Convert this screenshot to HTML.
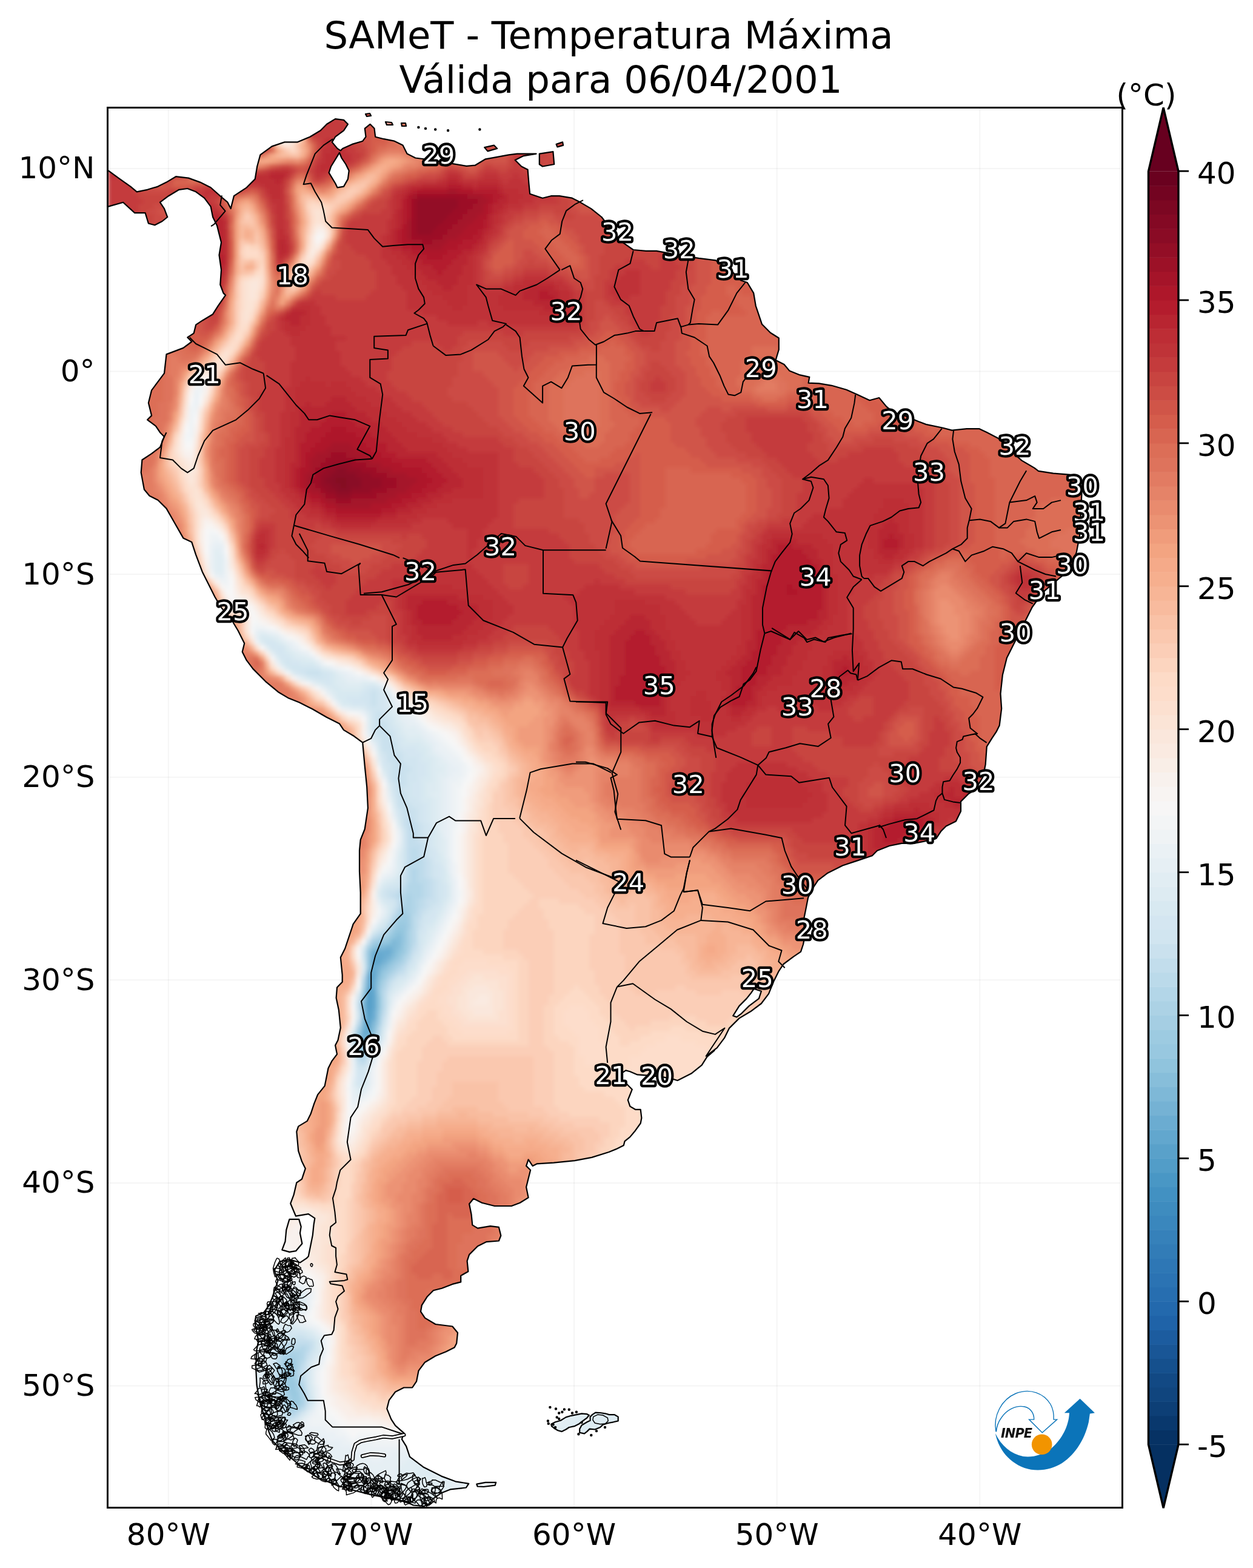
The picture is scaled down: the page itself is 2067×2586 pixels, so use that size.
<!DOCTYPE html>
<html><head><meta charset="utf-8"><title>SAMeT - Temperatura Máxima</title><style>
html,body{margin:0;padding:0;background:#fff;}
body{width:2067px;height:2586px;overflow:hidden;}
svg{display:block;}
.t{font-family:'DejaVu Sans','Liberation Sans',sans-serif;fill:#000;}
.lab text{font-family:'DejaVu Sans','Liberation Sans',sans-serif;font-size:41.67px;fill:#fff;stroke:#000;stroke-width:8.4px;stroke-linejoin:round;paint-order:stroke;text-anchor:middle;}
</style></head><body>
<svg width="2067" height="2586" viewBox="0 0 2067 2586">
<defs>
<clipPath id="fr"><rect x="177.5" y="177.5" width="1674.0" height="2309.0"/></clipPath>
<clipPath id="land"><path d="M150,281 178.7,281.4 197.9,295.4 215.3,307.6 225.7,316.3 243.1,312.8 260.5,307.6 274.5,300.6 290.1,291.2 311,293.6 330.2,300.6 347.6,309.3 363.3,323.2 375.5,333.7 380.7,344.1 385.9,323.2 406.8,309.3 420.7,295.4 424.2,274.5 429.4,255.3 448.6,241.4 469.5,234.4 490.4,234.4 511.3,225.7 528.7,215.3 539.1,204.8 553.1,196.1 567,197.9 573.9,204.8 567,215.3 553.1,225.7 547.8,234.4 556.5,244.9 561.8,248.4 565.2,244.9 580.9,237.9 598.3,232.7 603.5,225.7 601.8,211.8 610.5,204.8 617.5,211.8 619.2,225.7 633.1,229.2 650.6,232.7 664.5,239.6 671.5,253.6 685.4,260.5 713.2,264 741.1,269.2 769.6,273.8 783.6,272.7 801,262.3 814.9,259.8 839.3,255.3 853.2,253.6 884.6,253.6 863.7,257.1 849.7,264 860.2,274.5 870.6,279.7 872.4,302.3 874.1,319.7 895,326.7 908.9,323.2 922.9,323.2 943.8,326.7 954.2,331.9 975.1,344.1 992.5,358 1003,372 1013.4,385.9 1027.3,399.8 1044.7,412 1065.6,413.8 1083.1,413.8 1100.5,417.2 1117.9,420.7 1152.7,425.9 1180.6,429.4 1208.4,448.6 1222.3,462.5 1232.8,466 1243.2,483.4 1246.7,504.3 1257,534.8 1270.9,548.8 1284.8,557.5 1284.8,576.6 1279.6,594 1293.5,601 1302.2,611.4 1319.6,618.4 1335.3,621.9 1333.6,631.6 1351,632.3 1371.9,635.8 1396.3,642.8 1413.7,650.4 1434.6,660.2 1450.2,656 1462.4,670.6 1472.9,679.3 1493.8,686.3 1514.7,695 1528.6,700.2 1554.7,705.5 1570.4,709.6 1594.7,707.2 1615.6,707.2 1627.8,713.1 1647,722.9 1667.9,743.8 1685.3,759.4 1706.2,771.6 1713.1,776.8 1737.5,780.7 1765.4,782.8 1779.3,790.8 1784.5,813.4 1782.8,848.2 1781.1,883.1 1775.8,910.9 1765.4,938.8 1744.5,956.2 1720.1,977.1 1702.7,1001.5 1690.5,1025.8 1674.8,1057.2 1660.9,1085 1653.9,1112.9 1650.5,1144.2 1652.2,1168.6 1648.7,1196.5 1643.5,1206.9 1636.5,1217.4 1627.8,1231.3 1625.7,1260.9 1621.6,1281.3 1609.4,1301.6 1597.2,1309.7 1585,1321.9 1585,1338.1 1576.9,1354.4 1560.7,1362.5 1552.5,1370.6 1544.4,1382.8 1528.1,1386.9 1507.8,1390.9 1487.5,1390.9 1467.2,1395 1446.9,1403.1 1438.8,1411.3 1414.4,1419.4 1390,1427.5 1365.6,1439.7 1349.4,1451.9 1341.3,1464.1 1333.1,1480.3 1329.1,1500.6 1325,1521 1329.1,1537.2 1325,1557.5 1321,1569.7 1308.8,1577.8 1292.5,1590 1284.4,1602.2 1276.3,1618.5 1268.1,1638.8 1255.9,1655 1239.7,1667.2 1219.4,1679.4 1203.1,1695.6 1195,1711.9 1182.8,1728.1 1166.6,1740.3 1178.6,1732.3 1166.4,1742.8 1157.7,1756.7 1140.3,1770.6 1117.6,1782 1108.9,1779.3 1091.5,1775.9 1074.1,1774.1 1051.5,1772.4 1039.3,1767.2 1032.3,1765.4 1021.9,1772.4 1021.9,1781.1 1034.1,1788 1042.8,1796.7 1039.3,1805.5 1035.8,1814.2 1039.3,1824.6 1048,1829.8 1056.7,1829.8 1058.4,1843.8 1056.7,1852.5 1048,1864.7 1039.3,1875.1 1030.6,1882.1 1028.8,1889 1018.4,1894.3 1004.5,1900 976.1,1908.9 948.2,1914.2 913.4,1917.6 885.5,1919.4 878.6,1922.9 871.6,1912.4 868.1,1922.9 875.1,1929.8 871.6,1943.8 868.1,1957.7 871.6,1975.1 857.7,1983.8 843.8,1989 815.9,1989 795,1983.8 781.1,1976.8 774.1,1985.5 777.6,2003 779.3,2020.4 788,2025.6 808.9,2022.1 822.9,2023.9 826.3,2037.8 822.9,2046.5 802,2048.2 788,2055.2 774.1,2069.1 770.6,2079.6 772.4,2097 760.2,2103.9 760.2,2114.4 746.3,2117.9 728.8,2124.8 714.9,2128.3 704.5,2138.8 695.8,2152.7 694,2163.1 701,2173.6 718.4,2184 746.3,2187.5 755,2198 753.2,2215.4 749.7,2222.3 735.8,2229.3 718.4,2236.3 701,2246.7 690.5,2260.7 687.1,2278.1 680.1,2288.5 666.2,2288.5 652.2,2295.5 641.8,2309.4 638.3,2323.3 645.3,2340.7 652.2,2351.2 666.2,2363.4 662.9,2373.7 670.2,2385.3 676,2402.7 699.2,2420.1 728.2,2434.6 751.4,2443.3 773.2,2446.8 768.9,2453.5 742.7,2456.4 728.2,2462.2 713.7,2472.3 707.9,2481.1 699.2,2484 681.8,2482.5 670.2,2476.7 641.2,2470.9 612.2,2465.1 583.1,2457.8 554.1,2449.1 525.1,2437.5 501.9,2423 481.6,2405.6 461.3,2388.2 449.6,2376.6 443.8,2362.1 438,2341.8 432.2,2324.3 427.9,2309.8 423.5,2283.7 422.1,2254.7 423.5,2225.7 426.4,2211.2 420.6,2182.2 422.1,2170.5 435.1,2164.7 443.8,2153.1 449.6,2138.6 458.4,2112.5 452.5,2095.1 461.3,2080.6 477.5,2077.1 494.9,2082.3 505.4,2075.4 508.8,2071.9 512.3,2054.5 515.8,2037.1 517.6,2019.6 519.3,2009.2 508.8,2002.2 488,2005.7 479.2,1984.8 484.5,1970.9 489.3,1950.5 498,1944.7 503.8,1927.2 498,1915.6 492.2,1898.2 489.3,1866.3 492.2,1857.6 506.7,1848.9 512.5,1837.3 518.3,1819.9 524.1,1805.4 535.7,1790.9 541.5,1761.8 547.3,1750.2 556,1738.6 553.1,1724.1 557.5,1715.4 561.8,1695.1 558.9,1666.1 554.6,1645.8 556,1628.4 564.7,1619.6 564.7,1608 561.8,1579 569.1,1564.5 582.6,1524.2 594.7,1506.8 594.7,1472 593,1437.2 593,1402.3 594.7,1384.9 601.7,1367.5 606.9,1332.7 605.2,1297.9 601.7,1263.1 598.2,1224.7 584.3,1214.3 566.9,1203.9 559.9,1193.4 539,1183 514.7,1169 493.8,1158.6 476.3,1151.6 458.9,1141.2 438,1123.8 417.2,1102.9 406.7,1088.9 399.7,1075 403.2,1061.1 392.8,1040.2 382.3,1022.8 364.9,1001.9 354.5,984.5 344,963.6 333.6,942.7 323.1,914.8 316.2,893.9 302.3,887.4 288.4,863 274.5,838.6 260.5,824.7 246.6,817.7 237.9,807.3 232.7,779.4 234.4,758.5 250.1,748.1 264,737.6 271,720.2 264,713.2 257.1,702.8 243.1,692.3 250.1,685.4 244.9,664.5 250.1,643.6 260.5,629.7 271,615.7 274.5,584.4 302.3,573.9 316.3,563.5 309.3,556.5 319.7,549.6 323.2,535.6 333.7,528.7 351.1,518.2 359.8,504.3 372,486.9 368.5,483.4 363.3,469.5 365,445.1 361.5,420.7 365,399.8 361.5,385.9 358,372 351.1,358 347.6,340.6 337.2,326.7 323.2,316.3 309.3,311 295.4,312.8 278,323.2 264,333.7 271,344.1 276.2,358 267.5,365 255.3,371.3 244.9,368.5 239.6,351.1 222.2,351.1 203.1,333.7 178.7,340.6 150,341ZM603,188 610,187 612,191 605,192ZM636,201 646,202 648,206 638,206ZM662,203 669,203 670,208 663,208ZM477.5,2010.9 493.2,2010.9 496.7,2023.1 494.9,2033.6 498.4,2051 488,2063.2 477.5,2064.9 465.3,2061.4 470.5,2047.5 472.3,2028.4 475.8,2016.2ZM889.8,253.6 912.4,250.1 914.2,271 895,274.5 889.8,271ZM799.2,243.1 814.9,239.6 820.1,244.9 804.5,249.4ZM917.6,237.9 928.1,234.4 929.1,239.6 919.4,242.4ZM909.2,2348.8 916.1,2345.3 924.8,2342.7 933.5,2337.4 942.2,2334.8 950.9,2333.1 959.6,2331.3 968.4,2332.2 971.8,2334 968.4,2338.3 961.4,2343.5 954.4,2348.8 947.5,2352.2 938.8,2354 933.5,2357.5 926.6,2360.9 920.5,2359.2 914.4,2355.7 910,2352.2ZM973.6,2336.6 977.1,2333.1 982.3,2329.6 990.1,2330 998.8,2331.3 1004.9,2333.1 1013.6,2333.1 1019.7,2336.6 1019.7,2343.5 1011.9,2345.3 1003.2,2347 994.5,2349.6 990.1,2354 981.4,2357.5 972.7,2356.6 968.4,2360.9 964,2364.4 956.2,2362.7 956.2,2356.6 959.6,2350.5 968.4,2345.3 973.6,2342.7ZM786.3,2447.7 800.8,2444.8 818.2,2444.8 816.7,2449.7 797.9,2452 787.7,2451.5Z"/></clipPath>
<filter id="bl" x="-2%" y="-2%" width="104%" height="104%"><feGaussianBlur stdDeviation="3"/></filter>
</defs>
<rect width="2067" height="2586" fill="#fff"/>
<text class="t" x="1004" y="80.3" text-anchor="middle" font-size="62.5">SAMeT - Temperatura Máxima</text>
<text class="t" x="1024" y="152.8" text-anchor="middle" font-size="62.5">Válida para 06/04/2001</text>
<g clip-path="url(#fr)">
<g stroke="#000" stroke-opacity="0.04" stroke-width="2"><line x1="177.5" y1="277.9" x2="1851.5" y2="277.9"/><line x1="177.5" y1="612.5" x2="1851.5" y2="612.5"/><line x1="177.5" y1="947.1" x2="1851.5" y2="947.1"/><line x1="177.5" y1="1281.7" x2="1851.5" y2="1281.7"/><line x1="177.5" y1="1616.3" x2="1851.5" y2="1616.3"/><line x1="177.5" y1="1950.9" x2="1851.5" y2="1950.9"/><line x1="177.5" y1="2285.5" x2="1851.5" y2="2285.5"/><line x1="277.9" y1="177.5" x2="277.9" y2="2486.5"/><line x1="612.5" y1="177.5" x2="612.5" y2="2486.5"/><line x1="947.1" y1="177.5" x2="947.1" y2="2486.5"/><line x1="1281.7" y1="177.5" x2="1281.7" y2="2486.5"/><line x1="1616.3" y1="177.5" x2="1616.3" y2="2486.5"/></g>
<g clip-path="url(#land)"><g filter="url(#bl)"><g transform="translate(177.5,177.5) scale(8.3650)" shape-rendering="crispEdges"><path fill="#bf3338" d="M43 0h1v1h-1zM42 1h2v1h-2zM42 2h2v1h-2zM43 6h1v1h-1zM43 7h3v1h-3zM29 8h1v1h-1zM42 8h2v1h-2zM45 8h2v1h-2zM42 9h1v1h-1zM46 9h2v1h-2zM0 10h2v1h-2zM42 10h1v1h-1zM46 10h2v1h-2zM0 11h3v1h-3zM41 11h1v1h-1zM45 11h1v1h-1zM0 12h4v1h-4zM32 12h1v1h-1zM41 12h1v1h-1zM43 12h2v1h-2zM0 13h2v1h-2zM28 13h1v1h-1zM35 13h1v1h-1zM41 13h1v1h-1zM69 13h1v1h-1zM74 13h3v1h-3zM80 13h1v1h-1zM25 14h4v1h-4zM65 14h1v1h-1zM70 14h3v1h-3zM77 14h1v1h-1zM79 14h3v1h-3zM22 15h1v1h-1zM24 15h3v1h-3zM30 15h1v1h-1zM34 15h1v1h-1zM59 15h1v1h-1zM78 15h5v1h-5zM19 16h3v1h-3zM31 16h1v1h-1zM34 16h1v1h-1zM57 16h1v1h-1zM81 16h3v1h-3zM19 17h1v1h-1zM34 17h1v1h-1zM56 17h1v1h-1zM82 17h3v1h-3zM32 18h3v1h-3zM56 18h1v1h-1zM81 18h3v1h-3zM19 19h2v1h-2zM33 19h2v1h-2zM56 19h1v1h-1zM79 19h3v1h-3zM18 20h2v1h-2zM33 20h2v1h-2zM56 20h1v1h-1zM78 20h1v1h-1zM18 21h1v1h-1zM33 21h2v1h-2zM77 21h1v1h-1zM18 22h1v1h-1zM23 22h1v1h-1zM33 22h2v1h-2zM55 22h1v1h-1zM77 22h1v1h-1zM23 23h1v1h-1zM33 23h2v1h-2zM55 23h1v1h-1zM76 23h1v1h-1zM33 24h1v1h-1zM55 24h1v1h-1zM76 24h1v1h-1zM33 25h1v1h-1zM35 25h1v1h-1zM54 25h1v1h-1zM75 25h1v1h-1zM35 26h1v1h-1zM54 26h1v1h-1zM54 27h1v1h-1zM74 27h1v1h-1zM33 28h1v1h-1zM54 28h2v1h-2zM73 28h1v1h-1zM19 29h1v1h-1zM33 29h1v1h-1zM54 29h3v1h-3zM72 29h1v1h-1zM19 30h1v1h-1zM55 30h3v1h-3zM72 30h1v1h-1zM19 31h1v1h-1zM23 31h1v1h-1zM56 31h3v1h-3zM72 31h1v1h-1zM19 32h1v1h-1zM56 32h4v1h-4zM72 32h1v1h-1zM102 32h3v1h-3zM20 33h1v1h-1zM57 33h4v1h-4zM72 33h1v1h-1zM82 33h5v1h-5zM101 33h4v1h-4zM20 34h1v1h-1zM57 34h5v1h-5zM72 34h1v1h-1zM80 34h2v1h-2zM88 34h2v1h-2zM100 34h5v1h-5zM20 35h1v1h-1zM22 35h1v1h-1zM58 35h5v1h-5zM71 35h3v1h-3zM78 35h2v1h-2zM89 35h2v1h-2zM99 35h6v1h-6zM20 36h2v1h-2zM59 36h5v1h-5zM71 36h7v1h-7zM91 36h1v1h-1zM99 36h6v1h-6zM20 37h2v1h-2zM59 37h7v1h-7zM71 37h6v1h-6zM91 37h1v1h-1zM100 37h3v1h-3zM21 38h1v1h-1zM38 38h3v1h-3zM59 38h8v1h-8zM71 38h6v1h-6zM91 38h2v1h-2zM36 39h1v1h-1zM40 39h2v1h-2zM59 39h9v1h-9zM70 39h8v1h-8zM91 39h2v1h-2zM40 40h2v1h-2zM62 40h23v1h-23zM91 40h2v1h-2zM40 41h3v1h-3zM65 41h28v1h-28zM34 42h1v1h-1zM40 42h3v1h-3zM67 42h6v1h-6zM75 42h17v1h-17zM34 43h1v1h-1zM39 43h5v1h-5zM35 44h1v1h-1zM38 44h6v1h-6zM36 45h11v1h-11zM36 46h9v1h-9zM37 47h8v1h-8zM37 48h9v1h-9zM37 49h9v1h-9zM36 50h10v1h-10zM36 51h11v1h-11zM36 52h12v1h-12zM36 53h3v1h-3zM40 53h10v1h-10zM36 54h2v1h-2zM43 54h1v1h-1zM47 54h4v1h-4zM35 55h2v1h-2zM48 55h5v1h-5zM35 56h2v1h-2zM49 56h5v1h-5zM35 57h2v1h-2zM51 57h5v1h-5zM35 58h2v1h-2zM52 58h5v1h-5zM35 59h2v1h-2zM54 59h4v1h-4zM34 60h2v1h-2zM55 60h5v1h-5zM34 61h2v1h-2zM57 61h4v1h-4zM34 62h2v1h-2zM58 62h5v1h-5zM34 63h2v1h-2zM59 63h5v1h-5zM34 64h2v1h-2zM61 64h5v1h-5zM34 65h1v1h-1zM64 65h3v1h-3zM34 66h1v1h-1zM66 66h3v1h-3zM33 67h2v1h-2zM67 67h4v1h-4zM33 68h2v1h-2zM68 68h9v1h-9zM33 69h2v1h-2zM70 69h7v1h-7zM33 70h2v1h-2zM71 70h6v1h-6zM33 71h2v1h-2zM74 71h3v1h-3zM33 72h2v1h-2zM74 72h3v1h-3zM33 73h2v1h-2zM74 73h3v1h-3zM149 73h2v1h-2zM34 74h1v1h-1zM74 74h3v1h-3zM148 74h12v1h-12zM34 75h2v1h-2zM74 75h3v1h-3zM147 75h14v1h-14zM35 76h2v1h-2zM74 76h3v1h-3zM146 76h15v1h-15zM36 77h2v1h-2zM68 77h9v1h-9zM145 77h8v1h-8zM157 77h4v1h-4zM37 78h2v1h-2zM65 78h12v1h-12zM145 78h8v1h-8zM158 78h3v1h-3zM38 79h2v1h-2zM63 79h14v1h-14zM142 79h10v1h-10zM158 79h3v1h-3zM39 80h3v1h-3zM61 80h16v1h-16zM139 80h12v1h-12zM158 80h3v1h-3zM42 81h2v1h-2zM59 81h3v1h-3zM67 81h9v1h-9zM138 81h13v1h-13zM158 81h3v1h-3zM44 82h2v1h-2zM52 82h8v1h-8zM68 82h7v1h-7zM137 82h13v1h-13zM158 82h3v1h-3zM30 83h2v1h-2zM71 83h3v1h-3zM130 83h20v1h-20zM158 83h3v1h-3zM29 84h1v1h-1zM31 84h1v1h-1zM71 84h3v1h-3zM129 84h2v1h-2zM141 84h9v1h-9zM159 84h2v1h-2zM31 85h1v1h-1zM71 85h2v1h-2zM129 85h1v1h-1zM142 85h8v1h-8zM159 85h2v1h-2zM31 86h1v1h-1zM71 86h2v1h-2zM128 86h1v1h-1zM143 86h7v1h-7zM159 86h2v1h-2zM31 87h1v1h-1zM71 87h1v1h-1zM128 87h1v1h-1zM143 87h8v1h-8zM158 87h1v1h-1zM29 88h2v1h-2zM71 88h1v1h-1zM128 88h1v1h-1zM143 88h8v1h-8zM157 88h1v1h-1zM127 89h2v1h-2zM143 89h9v1h-9zM155 89h2v1h-2zM67 90h5v1h-5zM127 90h1v1h-1zM143 90h12v1h-12zM64 91h9v1h-9zM127 91h1v1h-1zM143 91h11v1h-11zM61 92h13v1h-13zM126 92h1v1h-1zM144 92h4v1h-4zM150 92h1v1h-1zM179 92h3v1h-3zM56 93h19v1h-19zM96 93h1v1h-1zM126 93h1v1h-1zM144 93h4v1h-4zM179 93h3v1h-3zM56 94h2v1h-2zM68 94h8v1h-8zM94 94h7v1h-7zM125 94h2v1h-2zM144 94h3v1h-3zM180 94h2v1h-2zM56 95h2v1h-2zM71 95h6v1h-6zM93 95h11v1h-11zM125 95h1v1h-1zM144 95h3v1h-3zM57 96h1v1h-1zM74 96h4v1h-4zM90 96h20v1h-20zM125 96h1v1h-1zM144 96h2v1h-2zM57 97h1v1h-1zM76 97h3v1h-3zM91 97h9v1h-9zM106 97h6v1h-6zM124 97h2v1h-2zM144 97h2v1h-2zM57 98h1v1h-1zM76 98h4v1h-4zM92 98h8v1h-8zM109 98h4v1h-4zM124 98h1v1h-1zM144 98h2v1h-2zM58 99h1v1h-1zM76 99h4v1h-4zM92 99h8v1h-8zM109 99h5v1h-5zM123 99h2v1h-2zM144 99h2v1h-2zM58 100h1v1h-1zM76 100h3v1h-3zM92 100h7v1h-7zM110 100h5v1h-5zM122 100h3v1h-3zM143 100h3v1h-3zM58 101h1v1h-1zM75 101h3v1h-3zM92 101h6v1h-6zM110 101h6v1h-6zM121 101h4v1h-4zM143 101h3v1h-3zM58 102h2v1h-2zM74 102h3v1h-3zM92 102h5v1h-5zM110 102h15v1h-15zM142 102h4v1h-4zM58 103h2v1h-2zM73 103h3v1h-3zM93 103h3v1h-3zM111 103h14v1h-14zM141 103h5v1h-5zM59 104h1v1h-1zM71 104h4v1h-4zM93 104h3v1h-3zM111 104h14v1h-14zM140 104h8v1h-8zM59 105h2v1h-2zM70 105h3v1h-3zM93 105h3v1h-3zM112 105h13v1h-13zM139 105h10v1h-10zM61 106h9v1h-9zM93 106h3v1h-3zM112 106h12v1h-12zM139 106h10v1h-10zM94 107h3v1h-3zM113 107h11v1h-11zM138 107h5v1h-5zM148 107h2v1h-2zM94 108h3v1h-3zM113 108h10v1h-10zM138 108h4v1h-4zM149 108h1v1h-1zM95 109h2v1h-2zM114 109h8v1h-8zM137 109h5v1h-5zM149 109h2v1h-2zM95 110h2v1h-2zM114 110h7v1h-7zM137 110h4v1h-4zM150 110h1v1h-1zM95 111h2v1h-2zM115 111h5v1h-5zM136 111h5v1h-5zM150 111h2v1h-2zM95 112h2v1h-2zM114 112h6v1h-6zM135 112h6v1h-6zM149 112h2v1h-2zM95 113h2v1h-2zM113 113h8v1h-8zM135 113h7v1h-7zM148 113h2v1h-2zM95 114h2v1h-2zM111 114h10v1h-10zM132 114h10v1h-10zM147 114h2v1h-2zM95 115h2v1h-2zM111 115h5v1h-5zM118 115h4v1h-4zM130 115h13v1h-13zM145 115h3v1h-3zM96 116h1v1h-1zM111 116h4v1h-4zM118 116h3v1h-3zM129 116h17v1h-17zM97 117h1v1h-1zM111 117h4v1h-4zM119 117h2v1h-2zM129 117h7v1h-7zM139 117h6v1h-6zM98 118h1v1h-1zM111 118h4v1h-4zM119 118h3v1h-3zM128 118h2v1h-2zM132 118h2v1h-2zM140 118h3v1h-3zM98 119h8v1h-8zM112 119h3v1h-3zM120 119h2v1h-2zM127 119h1v1h-1zM99 120h1v1h-1zM106 120h1v1h-1zM112 120h5v1h-5zM119 120h4v1h-4zM125 120h2v1h-2zM107 121h1v1h-1zM112 121h14v1h-14zM107 122h17v1h-17zM116 123h6v1h-6zM124 129h10v1h-10zM123 130h13v1h-13zM122 131h16v1h-16zM122 132h5v1h-5zM135 132h4v1h-4zM165 132h3v1h-3zM121 133h5v1h-5zM137 133h4v1h-4zM163 133h2v1h-2zM168 133h1v1h-1zM121 134h5v1h-5zM138 134h3v1h-3zM162 134h2v1h-2zM121 135h4v1h-4zM139 135h3v1h-3zM160 135h3v1h-3zM121 136h5v1h-5zM138 136h4v1h-4zM158 136h6v1h-6zM122 137h4v1h-4zM137 137h5v1h-5zM155 137h3v1h-3zM162 137h3v1h-3zM122 138h20v1h-20zM153 138h2v1h-2zM163 138h5v1h-5zM123 139h18v1h-18zM152 139h1v1h-1zM164 139h7v1h-7zM124 140h15v1h-15zM150 140h2v1h-2zM164 140h2v1h-2zM167 140h3v1h-3zM148 141h2v1h-2zM163 141h2v1h-2zM168 141h1v1h-1zM148 142h2v1h-2zM162 142h1v1h-1zM148 143h2v1h-2zM161 143h1v1h-1zM164 143h3v1h-3zM149 144h1v1h-1zM159 144h1v1h-1zM163 144h3v1h-3zM149 145h1v1h-1zM158 145h1v1h-1zM149 146h1v1h-1zM156 146h1v1h-1zM162 146h1v1h-1zM149 147h1v1h-1zM153 147h2v1h-2zM149 148h3v1h-3z"/><path fill="#c43b3c" d="M44 0h2v1h-2zM44 1h2v1h-2zM40 2h2v1h-2zM44 2h2v1h-2zM39 3h8v1h-8zM40 4h7v1h-7zM40 5h7v1h-7zM42 6h1v1h-1zM44 6h3v1h-3zM31 7h1v1h-1zM42 7h1v1h-1zM46 7h2v1h-2zM81 7h2v1h-2zM30 8h1v1h-1zM47 8h2v1h-2zM81 8h2v1h-2zM48 9h2v1h-2zM80 9h2v1h-2zM41 10h1v1h-1zM48 10h1v1h-1zM80 10h2v1h-2zM12 11h6v1h-6zM46 11h1v1h-1zM80 11h1v1h-1zM11 12h5v1h-5zM31 12h1v1h-1zM36 12h1v1h-1zM40 12h1v1h-1zM67 12h2v1h-2zM74 12h3v1h-3zM79 12h3v1h-3zM2 13h6v1h-6zM11 13h1v1h-1zM27 13h1v1h-1zM42 13h1v1h-1zM66 13h1v1h-1zM73 13h1v1h-1zM77 13h3v1h-3zM81 13h2v1h-2zM0 14h8v1h-8zM61 14h4v1h-4zM78 14h1v1h-1zM82 14h3v1h-3zM0 15h6v1h-6zM20 15h2v1h-2zM27 15h3v1h-3zM58 15h1v1h-1zM83 15h3v1h-3zM0 16h5v1h-5zM17 16h2v1h-2zM22 16h3v1h-3zM56 16h1v1h-1zM84 16h3v1h-3zM0 17h6v1h-6zM16 17h3v1h-3zM20 17h2v1h-2zM31 17h1v1h-1zM85 17h3v1h-3zM0 18h7v1h-7zM17 18h4v1h-4zM55 18h1v1h-1zM84 18h5v1h-5zM0 19h6v1h-6zM17 19h2v1h-2zM21 19h1v1h-1zM32 19h1v1h-1zM55 19h1v1h-1zM82 19h3v1h-3zM0 20h6v1h-6zM22 20h1v1h-1zM32 20h1v1h-1zM54 20h2v1h-2zM79 20h3v1h-3zM0 21h7v1h-7zM23 21h1v1h-1zM50 21h6v1h-6zM78 21h2v1h-2zM4 22h3v1h-3zM35 22h1v1h-1zM48 22h7v1h-7zM78 22h1v1h-1zM35 23h1v1h-1zM47 23h8v1h-8zM77 23h1v1h-1zM35 24h1v1h-1zM47 24h8v1h-8zM77 24h1v1h-1zM47 25h7v1h-7zM76 25h1v1h-1zM47 26h7v1h-7zM75 26h1v1h-1zM112 26h2v1h-2zM48 27h6v1h-6zM49 28h5v1h-5zM74 28h1v1h-1zM35 29h1v1h-1zM51 29h3v1h-3zM73 29h1v1h-1zM109 29h1v1h-1zM33 30h2v1h-2zM52 30h3v1h-3zM73 30h1v1h-1zM102 30h4v1h-4zM109 30h3v1h-3zM52 31h4v1h-4zM73 31h1v1h-1zM100 31h7v1h-7zM109 31h4v1h-4zM23 32h1v1h-1zM53 32h3v1h-3zM73 32h1v1h-1zM82 32h5v1h-5zM99 32h3v1h-3zM105 32h7v1h-7zM19 33h1v1h-1zM53 33h4v1h-4zM73 33h1v1h-1zM80 33h2v1h-2zM87 33h3v1h-3zM99 33h2v1h-2zM105 33h7v1h-7zM19 34h1v1h-1zM53 34h4v1h-4zM73 34h1v1h-1zM78 34h2v1h-2zM90 34h1v1h-1zM98 34h2v1h-2zM105 34h6v1h-6zM19 35h1v1h-1zM53 35h5v1h-5zM74 35h4v1h-4zM91 35h1v1h-1zM98 35h1v1h-1zM105 35h6v1h-6zM22 36h1v1h-1zM41 36h1v1h-1zM52 36h7v1h-7zM92 36h2v1h-2zM98 36h1v1h-1zM105 36h5v1h-5zM22 37h1v1h-1zM40 37h5v1h-5zM51 37h8v1h-8zM92 37h2v1h-2zM98 37h2v1h-2zM103 37h7v1h-7zM20 38h1v1h-1zM37 38h1v1h-1zM41 38h18v1h-18zM93 38h1v1h-1zM99 38h11v1h-11zM20 39h2v1h-2zM42 39h17v1h-17zM93 39h1v1h-1zM102 39h7v1h-7zM20 40h1v1h-1zM42 40h20v1h-20zM93 40h1v1h-1zM102 40h7v1h-7zM33 41h1v1h-1zM43 41h22v1h-22zM93 41h1v1h-1zM103 41h6v1h-6zM33 42h1v1h-1zM43 42h24v1h-24zM73 42h2v1h-2zM92 42h2v1h-2zM103 42h5v1h-5zM33 43h1v1h-1zM44 43h49v1h-49zM104 43h4v1h-4zM32 44h3v1h-3zM44 44h26v1h-26zM78 44h4v1h-4zM105 44h2v1h-2zM31 45h5v1h-5zM47 45h22v1h-22zM30 46h6v1h-6zM45 46h15v1h-15zM65 46h4v1h-4zM30 47h7v1h-7zM45 47h13v1h-13zM66 47h2v1h-2zM29 48h8v1h-8zM46 48h11v1h-11zM30 49h7v1h-7zM46 49h10v1h-10zM31 50h5v1h-5zM46 50h10v1h-10zM31 51h5v1h-5zM47 51h9v1h-9zM31 52h5v1h-5zM48 52h7v1h-7zM31 53h5v1h-5zM50 53h5v1h-5zM108 53h1v1h-1zM31 54h5v1h-5zM51 54h5v1h-5zM107 54h3v1h-3zM31 55h4v1h-4zM53 55h4v1h-4zM107 55h3v1h-3zM30 56h5v1h-5zM54 56h5v1h-5zM30 57h5v1h-5zM56 57h4v1h-4zM30 58h5v1h-5zM57 58h5v1h-5zM30 59h5v1h-5zM58 59h5v1h-5zM31 60h3v1h-3zM60 60h4v1h-4zM31 61h3v1h-3zM61 61h4v1h-4zM126 61h11v1h-11zM31 62h3v1h-3zM63 62h3v1h-3zM126 62h12v1h-12zM31 63h3v1h-3zM64 63h4v1h-4zM126 63h12v1h-12zM32 64h2v1h-2zM66 64h4v1h-4zM127 64h12v1h-12zM32 65h2v1h-2zM67 65h10v1h-10zM127 65h12v1h-12zM32 66h2v1h-2zM69 66h9v1h-9zM128 66h10v1h-10zM31 67h2v1h-2zM71 67h9v1h-9zM129 67h9v1h-9zM149 67h6v1h-6zM31 68h2v1h-2zM77 68h3v1h-3zM130 68h9v1h-9zM146 68h10v1h-10zM30 69h3v1h-3zM77 69h3v1h-3zM132 69h8v1h-8zM144 69h12v1h-12zM30 70h3v1h-3zM77 70h4v1h-4zM133 70h24v1h-24zM30 71h3v1h-3zM77 71h7v1h-7zM134 71h27v1h-27zM30 72h3v1h-3zM77 72h8v1h-8zM135 72h27v1h-27zM31 73h2v1h-2zM77 73h9v1h-9zM137 73h12v1h-12zM151 73h12v1h-12zM31 74h3v1h-3zM77 74h9v1h-9zM137 74h11v1h-11zM160 74h3v1h-3zM32 75h2v1h-2zM77 75h9v1h-9zM137 75h10v1h-10zM161 75h2v1h-2zM33 76h2v1h-2zM77 76h9v1h-9zM136 76h10v1h-10zM161 76h2v1h-2zM34 77h2v1h-2zM77 77h4v1h-4zM136 77h9v1h-9zM161 77h2v1h-2zM35 78h2v1h-2zM77 78h3v1h-3zM136 78h9v1h-9zM161 78h2v1h-2zM36 79h2v1h-2zM77 79h3v1h-3zM136 79h6v1h-6zM161 79h2v1h-2zM36 80h3v1h-3zM77 80h3v1h-3zM136 80h3v1h-3zM161 80h2v1h-2zM37 81h5v1h-5zM62 81h5v1h-5zM76 81h4v1h-4zM133 81h5v1h-5zM161 81h2v1h-2zM30 82h3v1h-3zM37 82h4v1h-4zM42 82h2v1h-2zM60 82h8v1h-8zM75 82h5v1h-5zM130 82h7v1h-7zM161 82h2v1h-2zM29 83h1v1h-1zM32 83h1v1h-1zM45 83h26v1h-26zM74 83h13v1h-13zM129 83h1v1h-1zM161 83h2v1h-2zM32 84h1v1h-1zM58 84h1v1h-1zM62 84h9v1h-9zM74 84h15v1h-15zM128 84h1v1h-1zM161 84h2v1h-2zM32 85h1v1h-1zM63 85h8v1h-8zM73 85h17v1h-17zM127 85h2v1h-2zM161 85h2v1h-2zM32 86h1v1h-1zM63 86h8v1h-8zM73 86h18v1h-18zM127 86h1v1h-1zM161 86h2v1h-2zM62 87h9v1h-9zM72 87h19v1h-19zM127 87h1v1h-1zM159 87h2v1h-2zM31 88h1v1h-1zM61 88h10v1h-10zM72 88h19v1h-19zM126 88h2v1h-2zM158 88h2v1h-2zM29 89h2v1h-2zM60 89h32v1h-32zM126 89h1v1h-1zM157 89h1v1h-1zM41 90h1v1h-1zM56 90h11v1h-11zM72 90h6v1h-6zM83 90h14v1h-14zM126 90h1v1h-1zM155 90h2v1h-2zM40 91h4v1h-4zM54 91h10v1h-10zM73 91h5v1h-5zM83 91h15v1h-15zM125 91h2v1h-2zM154 91h1v1h-1zM179 91h4v1h-4zM41 92h4v1h-4zM53 92h8v1h-8zM74 92h4v1h-4zM83 92h17v1h-17zM125 92h1v1h-1zM148 92h2v1h-2zM151 92h3v1h-3zM178 92h1v1h-1zM182 92h2v1h-2zM42 93h3v1h-3zM51 93h5v1h-5zM75 93h3v1h-3zM83 93h13v1h-13zM97 93h5v1h-5zM124 93h2v1h-2zM148 93h5v1h-5zM178 93h1v1h-1zM182 93h1v1h-1zM43 94h1v1h-1zM50 94h6v1h-6zM76 94h3v1h-3zM82 94h12v1h-12zM101 94h10v1h-10zM124 94h1v1h-1zM147 94h5v1h-5zM179 94h1v1h-1zM182 94h1v1h-1zM49 95h7v1h-7zM77 95h16v1h-16zM104 95h10v1h-10zM123 95h2v1h-2zM147 95h5v1h-5zM179 95h3v1h-3zM48 96h9v1h-9zM78 96h12v1h-12zM110 96h15v1h-15zM146 96h5v1h-5zM180 96h1v1h-1zM47 97h7v1h-7zM56 97h1v1h-1zM79 97h12v1h-12zM112 97h12v1h-12zM146 97h4v1h-4zM47 98h6v1h-6zM56 98h1v1h-1zM80 98h12v1h-12zM113 98h11v1h-11zM146 98h3v1h-3zM47 99h4v1h-4zM56 99h2v1h-2zM80 99h12v1h-12zM114 99h9v1h-9zM146 99h3v1h-3zM57 100h1v1h-1zM79 100h13v1h-13zM115 100h7v1h-7zM146 100h3v1h-3zM57 101h1v1h-1zM78 101h14v1h-14zM116 101h5v1h-5zM146 101h4v1h-4zM57 102h1v1h-1zM77 102h3v1h-3zM87 102h5v1h-5zM146 102h4v1h-4zM57 103h1v1h-1zM76 103h3v1h-3zM88 103h5v1h-5zM146 103h5v1h-5zM57 104h2v1h-2zM75 104h3v1h-3zM89 104h4v1h-4zM148 104h3v1h-3zM58 105h1v1h-1zM73 105h3v1h-3zM90 105h3v1h-3zM149 105h3v1h-3zM59 106h2v1h-2zM70 106h3v1h-3zM90 106h3v1h-3zM149 106h3v1h-3zM61 107h8v1h-8zM91 107h3v1h-3zM150 107h3v1h-3zM91 108h3v1h-3zM150 108h3v1h-3zM92 109h3v1h-3zM151 109h3v1h-3zM92 110h3v1h-3zM151 110h4v1h-4zM92 111h3v1h-3zM152 111h4v1h-4zM91 112h4v1h-4zM151 112h6v1h-6zM91 113h4v1h-4zM150 113h8v1h-8zM92 114h3v1h-3zM149 114h9v1h-9zM94 115h1v1h-1zM148 115h10v1h-10zM95 116h1v1h-1zM146 116h2v1h-2zM151 116h7v1h-7zM136 117h3v1h-3zM145 117h2v1h-2zM151 117h6v1h-6zM97 118h1v1h-1zM130 118h2v1h-2zM134 118h6v1h-6zM143 118h3v1h-3zM151 118h5v1h-5zM128 119h18v1h-18zM151 119h4v1h-4zM98 120h1v1h-1zM100 120h3v1h-3zM104 120h2v1h-2zM127 120h20v1h-20zM149 120h5v1h-5zM163 120h1v1h-1zM98 121h3v1h-3zM106 121h1v1h-1zM126 121h27v1h-27zM163 121h2v1h-2zM98 122h3v1h-3zM124 122h4v1h-4zM131 122h4v1h-4zM138 122h15v1h-15zM163 122h2v1h-2zM99 123h1v1h-1zM107 123h9v1h-9zM122 123h5v1h-5zM131 123h4v1h-4zM143 123h9v1h-9zM162 123h4v1h-4zM107 124h2v1h-2zM114 124h13v1h-13zM131 124h4v1h-4zM145 124h7v1h-7zM162 124h4v1h-4zM115 125h12v1h-12zM131 125h4v1h-4zM145 125h6v1h-6zM162 125h4v1h-4zM118 126h17v1h-17zM161 126h4v1h-4zM120 127h16v1h-16zM160 127h5v1h-5zM120 128h17v1h-17zM158 128h6v1h-6zM120 129h4v1h-4zM134 129h5v1h-5zM157 129h7v1h-7zM120 130h3v1h-3zM136 130h4v1h-4zM156 130h8v1h-8zM119 131h3v1h-3zM138 131h4v1h-4zM157 131h12v1h-12zM119 132h3v1h-3zM139 132h7v1h-7zM157 132h8v1h-8zM168 132h1v1h-1zM119 133h2v1h-2zM141 133h5v1h-5zM157 133h6v1h-6zM169 133h1v1h-1zM119 134h2v1h-2zM141 134h4v1h-4zM158 134h4v1h-4zM170 134h1v1h-1zM119 135h2v1h-2zM142 135h3v1h-3zM157 135h3v1h-3zM171 135h1v1h-1zM120 136h1v1h-1zM142 136h4v1h-4zM156 136h2v1h-2zM120 137h2v1h-2zM142 137h5v1h-5zM153 137h2v1h-2zM121 138h1v1h-1zM142 138h6v1h-6zM151 138h2v1h-2zM121 139h2v1h-2zM141 139h11v1h-11zM122 140h2v1h-2zM139 140h11v1h-11zM166 140h1v1h-1zM122 141h26v1h-26zM165 141h3v1h-3zM135 142h13v1h-13zM163 142h5v1h-5zM136 143h12v1h-12zM162 143h2v1h-2zM137 144h12v1h-12zM160 144h1v1h-1zM162 144h1v1h-1zM147 145h2v1h-2zM159 145h1v1h-1zM162 145h1v1h-1zM147 146h2v1h-2zM157 146h1v1h-1zM147 147h2v1h-2zM155 147h2v1h-2zM161 147h1v1h-1zM147 148h2v1h-2zM152 148h2v1h-2zM147 149h5v1h-5z"/><path fill="#c84440" d="M46 0h1v1h-1zM46 1h1v1h-1zM46 2h1v1h-1zM89 4h1v1h-1zM88 5h2v1h-2zM41 6h1v1h-1zM47 6h1v1h-1zM81 6h1v1h-1zM85 6h4v1h-4zM48 7h2v1h-2zM74 7h1v1h-1zM84 7h4v1h-4zM49 8h2v1h-2zM68 8h1v1h-1zM73 8h2v1h-2zM80 8h1v1h-1zM83 8h5v1h-5zM27 9h1v1h-1zM41 9h1v1h-1zM50 9h1v1h-1zM74 9h1v1h-1zM82 9h5v1h-5zM49 10h1v1h-1zM79 10h1v1h-1zM82 10h4v1h-4zM87 10h1v1h-1zM40 11h1v1h-1zM47 11h1v1h-1zM74 11h2v1h-2zM79 11h1v1h-1zM81 11h5v1h-5zM87 11h2v1h-2zM10 12h1v1h-1zM16 12h1v1h-1zM30 12h1v1h-1zM45 12h1v1h-1zM66 12h1v1h-1zM69 12h1v1h-1zM73 12h1v1h-1zM77 12h2v1h-2zM82 12h4v1h-4zM87 12h2v1h-2zM8 13h3v1h-3zM12 13h2v1h-2zM26 13h1v1h-1zM40 13h1v1h-1zM43 13h1v1h-1zM65 13h1v1h-1zM70 13h3v1h-3zM83 13h5v1h-5zM8 14h1v1h-1zM35 14h1v1h-1zM41 14h1v1h-1zM60 14h1v1h-1zM85 14h1v1h-1zM87 14h3v1h-3zM6 15h2v1h-2zM19 15h1v1h-1zM57 15h1v1h-1zM86 15h2v1h-2zM5 16h2v1h-2zM12 16h5v1h-5zM25 16h1v1h-1zM30 16h1v1h-1zM87 16h2v1h-2zM6 17h10v1h-10zM22 17h1v1h-1zM55 17h1v1h-1zM88 17h2v1h-2zM7 18h4v1h-4zM15 18h2v1h-2zM21 18h1v1h-1zM31 18h1v1h-1zM53 18h2v1h-2zM89 18h2v1h-2zM6 19h3v1h-3zM35 19h1v1h-1zM52 19h3v1h-3zM85 19h6v1h-6zM6 20h2v1h-2zM35 20h1v1h-1zM50 20h4v1h-4zM82 20h3v1h-3zM88 20h3v1h-3zM7 21h2v1h-2zM32 21h1v1h-1zM35 21h1v1h-1zM49 21h1v1h-1zM80 21h2v1h-2zM90 21h2v1h-2zM7 22h2v1h-2zM32 22h1v1h-1zM47 22h1v1h-1zM79 22h1v1h-1zM5 23h4v1h-4zM78 23h1v1h-1zM7 24h2v1h-2zM8 25h2v1h-2zM46 25h1v1h-1zM77 25h1v1h-1zM46 26h1v1h-1zM76 26h1v1h-1zM100 26h5v1h-5zM111 26h1v1h-1zM114 26h1v1h-1zM36 27h1v1h-1zM46 27h2v1h-2zM75 27h1v1h-1zM98 27h10v1h-10zM113 27h2v1h-2zM46 28h3v1h-3zM98 28h12v1h-12zM45 29h6v1h-6zM74 29h1v1h-1zM97 29h12v1h-12zM110 29h3v1h-3zM46 30h6v1h-6zM83 30h1v1h-1zM97 30h5v1h-5zM106 30h3v1h-3zM112 30h2v1h-2zM46 31h6v1h-6zM82 31h5v1h-5zM97 31h3v1h-3zM107 31h2v1h-2zM113 31h2v1h-2zM45 32h8v1h-8zM74 32h1v1h-1zM80 32h2v1h-2zM87 32h2v1h-2zM97 32h2v1h-2zM112 32h2v1h-2zM23 33h1v1h-1zM44 33h9v1h-9zM74 33h1v1h-1zM78 33h2v1h-2zM90 33h1v1h-1zM96 33h3v1h-3zM112 33h2v1h-2zM42 34h11v1h-11zM74 34h4v1h-4zM91 34h2v1h-2zM96 34h2v1h-2zM111 34h3v1h-3zM41 35h12v1h-12zM92 35h2v1h-2zM96 35h2v1h-2zM111 35h2v1h-2zM40 36h1v1h-1zM42 36h10v1h-10zM94 36h4v1h-4zM110 36h3v1h-3zM39 37h1v1h-1zM45 37h6v1h-6zM94 37h4v1h-4zM110 37h2v1h-2zM19 38h1v1h-1zM22 38h1v1h-1zM94 38h2v1h-2zM98 38h1v1h-1zM110 38h2v1h-2zM19 39h1v1h-1zM94 39h2v1h-2zM99 39h3v1h-3zM109 39h3v1h-3zM19 40h1v1h-1zM21 40h1v1h-1zM34 40h1v1h-1zM94 40h2v1h-2zM100 40h2v1h-2zM109 40h3v1h-3zM20 41h2v1h-2zM94 41h2v1h-2zM101 41h2v1h-2zM109 41h2v1h-2zM20 42h1v1h-1zM32 42h1v1h-1zM94 42h1v1h-1zM102 42h1v1h-1zM108 42h3v1h-3zM31 43h2v1h-2zM93 43h2v1h-2zM103 43h1v1h-1zM108 43h3v1h-3zM31 44h1v1h-1zM70 44h8v1h-8zM82 44h12v1h-12zM103 44h2v1h-2zM107 44h3v1h-3zM30 45h1v1h-1zM69 45h22v1h-22zM104 45h6v1h-6zM60 46h5v1h-5zM69 46h2v1h-2zM78 46h5v1h-5zM105 46h4v1h-4zM29 47h1v1h-1zM58 47h8v1h-8zM68 47h2v1h-2zM79 47h3v1h-3zM107 47h2v1h-2zM57 48h13v1h-13zM28 49h2v1h-2zM56 49h14v1h-14zM28 50h3v1h-3zM56 50h13v1h-13zM107 50h2v1h-2zM27 51h4v1h-4zM56 51h13v1h-13zM107 51h3v1h-3zM27 52h4v1h-4zM55 52h14v1h-14zM106 52h5v1h-5zM27 53h4v1h-4zM55 53h13v1h-13zM106 53h2v1h-2zM109 53h3v1h-3zM28 54h3v1h-3zM56 54h12v1h-12zM105 54h2v1h-2zM110 54h2v1h-2zM28 55h3v1h-3zM57 55h10v1h-10zM105 55h2v1h-2zM110 55h2v1h-2zM28 56h2v1h-2zM59 56h8v1h-8zM106 56h5v1h-5zM29 57h1v1h-1zM60 57h8v1h-8zM107 57h3v1h-3zM29 58h1v1h-1zM62 58h9v1h-9zM29 59h1v1h-1zM63 59h9v1h-9zM29 60h2v1h-2zM64 60h9v1h-9zM124 60h14v1h-14zM30 61h1v1h-1zM65 61h9v1h-9zM122 61h4v1h-4zM137 61h2v1h-2zM30 62h1v1h-1zM66 62h9v1h-9zM121 62h5v1h-5zM138 62h2v1h-2zM30 63h1v1h-1zM68 63h9v1h-9zM121 63h5v1h-5zM138 63h2v1h-2zM31 64h1v1h-1zM70 64h8v1h-8zM122 64h5v1h-5zM139 64h2v1h-2zM31 65h1v1h-1zM77 65h3v1h-3zM122 65h5v1h-5zM139 65h2v1h-2zM151 65h4v1h-4zM30 66h2v1h-2zM78 66h3v1h-3zM123 66h5v1h-5zM138 66h4v1h-4zM148 66h10v1h-10zM28 67h3v1h-3zM80 67h3v1h-3zM124 67h5v1h-5zM138 67h4v1h-4zM144 67h5v1h-5zM155 67h5v1h-5zM28 68h3v1h-3zM80 68h4v1h-4zM126 68h4v1h-4zM139 68h7v1h-7zM156 68h5v1h-5zM28 69h2v1h-2zM80 69h5v1h-5zM129 69h3v1h-3zM140 69h4v1h-4zM156 69h6v1h-6zM28 70h2v1h-2zM81 70h5v1h-5zM130 70h3v1h-3zM157 70h6v1h-6zM28 71h2v1h-2zM84 71h3v1h-3zM131 71h3v1h-3zM161 71h3v1h-3zM28 72h2v1h-2zM85 72h3v1h-3zM132 72h3v1h-3zM162 72h3v1h-3zM28 73h3v1h-3zM86 73h3v1h-3zM133 73h4v1h-4zM163 73h2v1h-2zM28 74h3v1h-3zM86 74h3v1h-3zM133 74h4v1h-4zM163 74h3v1h-3zM29 75h3v1h-3zM86 75h4v1h-4zM133 75h4v1h-4zM163 75h3v1h-3zM30 76h3v1h-3zM86 76h4v1h-4zM133 76h3v1h-3zM163 76h3v1h-3zM31 77h3v1h-3zM81 77h9v1h-9zM133 77h3v1h-3zM163 77h3v1h-3zM32 78h3v1h-3zM80 78h10v1h-10zM133 78h3v1h-3zM163 78h3v1h-3zM33 79h3v1h-3zM80 79h10v1h-10zM133 79h3v1h-3zM163 79h3v1h-3zM32 80h4v1h-4zM80 80h10v1h-10zM132 80h4v1h-4zM163 80h3v1h-3zM30 81h7v1h-7zM80 81h13v1h-13zM130 81h3v1h-3zM163 81h3v1h-3zM29 82h1v1h-1zM33 82h4v1h-4zM41 82h1v1h-1zM80 82h14v1h-14zM128 82h2v1h-2zM163 82h3v1h-3zM33 83h12v1h-12zM87 83h7v1h-7zM127 83h2v1h-2zM163 83h3v1h-3zM33 84h9v1h-9zM45 84h13v1h-13zM59 84h3v1h-3zM89 84h6v1h-6zM127 84h1v1h-1zM163 84h3v1h-3zM28 85h1v1h-1zM33 85h8v1h-8zM56 85h7v1h-7zM90 85h5v1h-5zM126 85h1v1h-1zM163 85h3v1h-3zM28 86h1v1h-1zM33 86h7v1h-7zM58 86h5v1h-5zM91 86h5v1h-5zM126 86h1v1h-1zM163 86h2v1h-2zM28 87h1v1h-1zM32 87h2v1h-2zM35 87h6v1h-6zM57 87h5v1h-5zM91 87h6v1h-6zM126 87h1v1h-1zM161 87h2v1h-2zM32 88h1v1h-1zM36 88h7v1h-7zM55 88h6v1h-6zM91 88h7v1h-7zM125 88h1v1h-1zM160 88h1v1h-1zM31 89h1v1h-1zM37 89h7v1h-7zM54 89h6v1h-6zM92 89h8v1h-8zM125 89h1v1h-1zM158 89h2v1h-2zM29 90h2v1h-2zM37 90h4v1h-4zM42 90h4v1h-4zM52 90h4v1h-4zM78 90h5v1h-5zM97 90h4v1h-4zM124 90h2v1h-2zM157 90h1v1h-1zM179 90h3v1h-3zM37 91h3v1h-3zM44 91h3v1h-3zM51 91h3v1h-3zM78 91h5v1h-5zM98 91h5v1h-5zM124 91h1v1h-1zM155 91h2v1h-2zM178 91h1v1h-1zM183 91h1v1h-1zM37 92h4v1h-4zM45 92h8v1h-8zM78 92h5v1h-5zM100 92h4v1h-4zM123 92h2v1h-2zM154 92h1v1h-1zM177 92h1v1h-1zM184 92h1v1h-1zM39 93h3v1h-3zM45 93h6v1h-6zM78 93h5v1h-5zM102 93h22v1h-22zM153 93h2v1h-2zM177 93h1v1h-1zM183 93h1v1h-1zM41 94h2v1h-2zM44 94h6v1h-6zM79 94h3v1h-3zM111 94h13v1h-13zM152 94h2v1h-2zM178 94h1v1h-1zM183 94h1v1h-1zM42 95h7v1h-7zM114 95h9v1h-9zM152 95h1v1h-1zM178 95h1v1h-1zM182 95h1v1h-1zM42 96h6v1h-6zM151 96h2v1h-2zM179 96h1v1h-1zM181 96h1v1h-1zM43 97h4v1h-4zM54 97h2v1h-2zM150 97h2v1h-2zM179 97h2v1h-2zM44 98h3v1h-3zM53 98h3v1h-3zM149 98h3v1h-3zM179 98h1v1h-1zM44 99h3v1h-3zM51 99h5v1h-5zM149 99h3v1h-3zM46 100h6v1h-6zM55 100h2v1h-2zM149 100h3v1h-3zM48 101h2v1h-2zM55 101h2v1h-2zM150 101h3v1h-3zM55 102h2v1h-2zM80 102h7v1h-7zM150 102h3v1h-3zM55 103h2v1h-2zM79 103h9v1h-9zM151 103h3v1h-3zM55 104h2v1h-2zM78 104h11v1h-11zM151 104h3v1h-3zM56 105h2v1h-2zM76 105h3v1h-3zM87 105h3v1h-3zM152 105h3v1h-3zM58 106h1v1h-1zM73 106h3v1h-3zM88 106h2v1h-2zM152 106h4v1h-4zM60 107h1v1h-1zM69 107h3v1h-3zM88 107h3v1h-3zM153 107h4v1h-4zM62 108h7v1h-7zM89 108h2v1h-2zM153 108h5v1h-5zM89 109h3v1h-3zM154 109h5v1h-5zM90 110h2v1h-2zM155 110h5v1h-5zM90 111h2v1h-2zM156 111h4v1h-4zM90 112h1v1h-1zM157 112h4v1h-4zM158 113h3v1h-3zM91 114h1v1h-1zM158 114h4v1h-4zM92 115h2v1h-2zM158 115h4v1h-4zM94 116h1v1h-1zM148 116h3v1h-3zM158 116h5v1h-5zM96 117h1v1h-1zM147 117h4v1h-4zM157 117h7v1h-7zM146 118h5v1h-5zM156 118h2v1h-2zM161 118h4v1h-4zM97 119h1v1h-1zM146 119h5v1h-5zM155 119h1v1h-1zM161 119h4v1h-4zM103 120h1v1h-1zM147 120h2v1h-2zM154 120h1v1h-1zM161 120h2v1h-2zM164 120h2v1h-2zM101 121h2v1h-2zM105 121h1v1h-1zM153 121h1v1h-1zM161 121h2v1h-2zM165 121h1v1h-1zM101 122h2v1h-2zM106 122h1v1h-1zM128 122h3v1h-3zM135 122h3v1h-3zM153 122h1v1h-1zM161 122h2v1h-2zM165 122h2v1h-2zM98 123h1v1h-1zM100 123h7v1h-7zM127 123h4v1h-4zM135 123h8v1h-8zM152 123h1v1h-1zM161 123h1v1h-1zM166 123h1v1h-1zM99 124h8v1h-8zM109 124h5v1h-5zM127 124h4v1h-4zM135 124h10v1h-10zM152 124h1v1h-1zM161 124h1v1h-1zM166 124h1v1h-1zM106 125h3v1h-3zM113 125h2v1h-2zM127 125h4v1h-4zM135 125h10v1h-10zM151 125h2v1h-2zM160 125h2v1h-2zM166 125h1v1h-1zM114 126h4v1h-4zM135 126h17v1h-17zM160 126h1v1h-1zM165 126h2v1h-2zM115 127h5v1h-5zM136 127h16v1h-16zM155 127h5v1h-5zM165 127h2v1h-2zM117 128h3v1h-3zM137 128h21v1h-21zM164 128h3v1h-3zM117 129h3v1h-3zM139 129h12v1h-12zM152 129h5v1h-5zM164 129h4v1h-4zM117 130h3v1h-3zM140 130h10v1h-10zM153 130h3v1h-3zM164 130h5v1h-5zM117 131h2v1h-2zM142 131h8v1h-8zM154 131h3v1h-3zM169 131h1v1h-1zM117 132h2v1h-2zM146 132h3v1h-3zM154 132h3v1h-3zM169 132h2v1h-2zM117 133h2v1h-2zM146 133h2v1h-2zM155 133h2v1h-2zM170 133h2v1h-2zM117 134h2v1h-2zM145 134h3v1h-3zM156 134h2v1h-2zM171 134h2v1h-2zM118 135h1v1h-1zM145 135h3v1h-3zM155 135h2v1h-2zM172 135h1v1h-1zM118 136h2v1h-2zM146 136h2v1h-2zM153 136h3v1h-3zM118 137h2v1h-2zM147 137h2v1h-2zM151 137h2v1h-2zM119 138h2v1h-2zM148 138h3v1h-3zM119 139h2v1h-2zM120 140h2v1h-2zM121 141h1v1h-1zM123 142h12v1h-12zM134 143h2v1h-2zM135 144h2v1h-2zM161 144h1v1h-1zM135 145h12v1h-12zM160 145h2v1h-2zM136 146h11v1h-11zM158 146h1v1h-1zM161 146h1v1h-1zM138 147h9v1h-9zM146 148h1v1h-1zM146 149h1v1h-1zM146 150h5v1h-5zM146 151h2v1h-2z"/><path fill="#cc4c44" d="M47 0h1v1h-1zM47 1h1v1h-1zM47 2h1v1h-1zM47 3h1v1h-1zM39 4h1v1h-1zM47 4h1v1h-1zM47 5h1v1h-1zM90 5h1v1h-1zM48 6h2v1h-2zM89 6h3v1h-3zM41 7h1v1h-1zM50 7h1v1h-1zM75 7h1v1h-1zM80 7h1v1h-1zM88 7h5v1h-5zM31 8h1v1h-1zM41 8h1v1h-1zM67 8h1v1h-1zM69 8h1v1h-1zM75 8h1v1h-1zM88 8h4v1h-4zM28 9h1v1h-1zM73 9h1v1h-1zM75 9h1v1h-1zM79 9h1v1h-1zM87 9h4v1h-4zM40 10h1v1h-1zM86 10h1v1h-1zM88 10h3v1h-3zM34 11h2v1h-2zM48 11h1v1h-1zM67 11h1v1h-1zM76 11h3v1h-3zM86 11h1v1h-1zM89 11h1v1h-1zM17 12h1v1h-1zM29 12h1v1h-1zM37 12h1v1h-1zM39 12h1v1h-1zM46 12h1v1h-1zM70 12h1v1h-1zM86 12h1v1h-1zM14 13h1v1h-1zM36 13h1v1h-1zM44 13h1v1h-1zM62 13h3v1h-3zM9 14h3v1h-3zM40 14h1v1h-1zM42 14h1v1h-1zM59 14h1v1h-1zM8 15h1v1h-1zM17 15h2v1h-2zM35 15h1v1h-1zM56 15h1v1h-1zM88 15h2v1h-2zM7 16h5v1h-5zM26 16h1v1h-1zM55 16h1v1h-1zM89 16h2v1h-2zM30 17h1v1h-1zM35 17h1v1h-1zM54 17h1v1h-1zM90 17h1v1h-1zM11 18h4v1h-4zM35 18h1v1h-1zM52 18h1v1h-1zM91 18h1v1h-1zM9 19h3v1h-3zM13 19h1v1h-1zM22 19h1v1h-1zM31 19h1v1h-1zM51 19h1v1h-1zM91 19h1v1h-1zM8 20h2v1h-2zM13 20h1v1h-1zM85 20h3v1h-3zM91 20h2v1h-2zM9 21h2v1h-2zM14 21h1v1h-1zM48 21h1v1h-1zM82 21h3v1h-3zM88 21h2v1h-2zM92 21h5v1h-5zM9 22h2v1h-2zM80 22h2v1h-2zM89 22h10v1h-10zM9 23h2v1h-2zM32 23h1v1h-1zM79 23h1v1h-1zM90 23h11v1h-11zM9 24h2v1h-2zM46 24h1v1h-1zM78 24h1v1h-1zM92 24h11v1h-11zM10 25h1v1h-1zM78 25h1v1h-1zM93 25h13v1h-13zM109 25h1v1h-1zM36 26h1v1h-1zM77 26h1v1h-1zM93 26h7v1h-7zM105 26h3v1h-3zM109 26h2v1h-2zM45 27h1v1h-1zM76 27h1v1h-1zM94 27h4v1h-4zM108 27h5v1h-5zM36 28h1v1h-1zM45 28h1v1h-1zM75 28h1v1h-1zM82 28h2v1h-2zM94 28h4v1h-4zM110 28h5v1h-5zM44 29h1v1h-1zM75 29h1v1h-1zM82 29h3v1h-3zM95 29h2v1h-2zM113 29h2v1h-2zM44 30h2v1h-2zM74 30h1v1h-1zM81 30h2v1h-2zM84 30h3v1h-3zM95 30h2v1h-2zM114 30h2v1h-2zM33 31h1v1h-1zM44 31h2v1h-2zM74 31h1v1h-1zM80 31h2v1h-2zM87 31h2v1h-2zM95 31h2v1h-2zM115 31h1v1h-1zM43 32h2v1h-2zM75 32h1v1h-1zM78 32h2v1h-2zM89 32h2v1h-2zM95 32h2v1h-2zM114 32h2v1h-2zM43 33h1v1h-1zM75 33h3v1h-3zM91 33h2v1h-2zM95 33h1v1h-1zM114 33h2v1h-2zM23 34h1v1h-1zM93 34h3v1h-3zM114 34h2v1h-2zM94 35h2v1h-2zM113 35h2v1h-2zM113 36h2v1h-2zM112 37h3v1h-3zM96 38h2v1h-2zM112 38h3v1h-3zM18 39h1v1h-1zM96 39h3v1h-3zM112 39h2v1h-2zM18 40h1v1h-1zM96 40h4v1h-4zM112 40h2v1h-2zM19 41h1v1h-1zM32 41h1v1h-1zM96 41h2v1h-2zM99 41h2v1h-2zM111 41h3v1h-3zM19 42h1v1h-1zM21 42h1v1h-1zM31 42h1v1h-1zM95 42h2v1h-2zM100 42h2v1h-2zM111 42h3v1h-3zM19 43h2v1h-2zM95 43h2v1h-2zM101 43h2v1h-2zM111 43h2v1h-2zM30 44h1v1h-1zM94 44h2v1h-2zM102 44h1v1h-1zM110 44h3v1h-3zM91 45h3v1h-3zM103 45h1v1h-1zM110 45h3v1h-3zM29 46h1v1h-1zM71 46h7v1h-7zM83 46h9v1h-9zM104 46h1v1h-1zM109 46h3v1h-3zM70 47h9v1h-9zM82 47h5v1h-5zM105 47h2v1h-2zM109 47h3v1h-3zM28 48h1v1h-1zM70 48h2v1h-2zM77 48h7v1h-7zM106 48h6v1h-6zM70 49h2v1h-2zM78 49h5v1h-5zM106 49h6v1h-6zM27 50h1v1h-1zM69 50h3v1h-3zM79 50h3v1h-3zM106 50h1v1h-1zM109 50h3v1h-3zM26 51h1v1h-1zM69 51h3v1h-3zM80 51h1v1h-1zM105 51h2v1h-2zM110 51h3v1h-3zM26 52h1v1h-1zM69 52h5v1h-5zM105 52h1v1h-1zM111 52h3v1h-3zM26 53h1v1h-1zM68 53h7v1h-7zM104 53h2v1h-2zM112 53h2v1h-2zM27 54h1v1h-1zM68 54h8v1h-8zM104 54h1v1h-1zM112 54h2v1h-2zM27 55h1v1h-1zM67 55h10v1h-10zM104 55h1v1h-1zM112 55h2v1h-2zM27 56h1v1h-1zM67 56h10v1h-10zM104 56h2v1h-2zM111 56h3v1h-3zM28 57h1v1h-1zM68 57h9v1h-9zM104 57h3v1h-3zM110 57h3v1h-3zM28 58h1v1h-1zM71 58h6v1h-6zM105 58h7v1h-7zM28 59h1v1h-1zM72 59h5v1h-5zM109 59h2v1h-2zM118 59h3v1h-3zM123 59h7v1h-7zM134 59h4v1h-4zM73 60h4v1h-4zM117 60h7v1h-7zM138 60h1v1h-1zM29 61h1v1h-1zM74 61h4v1h-4zM116 61h6v1h-6zM139 61h1v1h-1zM29 62h1v1h-1zM75 62h4v1h-4zM116 62h5v1h-5zM140 62h1v1h-1zM29 63h1v1h-1zM77 63h3v1h-3zM117 63h4v1h-4zM140 63h2v1h-2zM153 63h2v1h-2zM29 64h2v1h-2zM78 64h4v1h-4zM117 64h5v1h-5zM141 64h1v1h-1zM150 64h7v1h-7zM29 65h2v1h-2zM80 65h3v1h-3zM118 65h4v1h-4zM141 65h2v1h-2zM147 65h4v1h-4zM155 65h5v1h-5zM27 66h3v1h-3zM81 66h4v1h-4zM118 66h5v1h-5zM142 66h6v1h-6zM158 66h4v1h-4zM26 67h2v1h-2zM83 67h3v1h-3zM119 67h5v1h-5zM142 67h2v1h-2zM160 67h4v1h-4zM26 68h2v1h-2zM84 68h3v1h-3zM120 68h6v1h-6zM161 68h4v1h-4zM26 69h2v1h-2zM85 69h3v1h-3zM124 69h5v1h-5zM162 69h4v1h-4zM26 70h2v1h-2zM86 70h3v1h-3zM127 70h3v1h-3zM163 70h3v1h-3zM26 71h2v1h-2zM87 71h3v1h-3zM129 71h2v1h-2zM164 71h2v1h-2zM26 72h2v1h-2zM88 72h3v1h-3zM98 72h5v1h-5zM129 72h3v1h-3zM165 72h2v1h-2zM26 73h2v1h-2zM89 73h3v1h-3zM96 73h7v1h-7zM130 73h3v1h-3zM165 73h3v1h-3zM27 74h1v1h-1zM89 74h3v1h-3zM96 74h7v1h-7zM130 74h3v1h-3zM166 74h2v1h-2zM28 75h1v1h-1zM90 75h3v1h-3zM96 75h7v1h-7zM131 75h2v1h-2zM166 75h2v1h-2zM28 76h2v1h-2zM90 76h3v1h-3zM95 76h8v1h-8zM131 76h2v1h-2zM166 76h2v1h-2zM29 77h2v1h-2zM90 77h13v1h-13zM131 77h2v1h-2zM166 77h2v1h-2zM30 78h2v1h-2zM90 78h12v1h-12zM131 78h2v1h-2zM166 78h2v1h-2zM30 79h3v1h-3zM90 79h11v1h-11zM130 79h3v1h-3zM166 79h2v1h-2zM30 80h2v1h-2zM90 80h10v1h-10zM130 80h2v1h-2zM166 80h2v1h-2zM29 81h1v1h-1zM93 81h7v1h-7zM128 81h2v1h-2zM166 81h2v1h-2zM94 82h6v1h-6zM126 82h2v1h-2zM166 82h2v1h-2zM94 83h6v1h-6zM126 83h1v1h-1zM166 83h2v1h-2zM28 84h1v1h-1zM42 84h3v1h-3zM95 84h4v1h-4zM125 84h2v1h-2zM166 84h2v1h-2zM41 85h15v1h-15zM95 85h4v1h-4zM125 85h1v1h-1zM166 85h2v1h-2zM40 86h4v1h-4zM54 86h4v1h-4zM96 86h2v1h-2zM125 86h1v1h-1zM165 86h2v1h-2zM34 87h1v1h-1zM41 87h3v1h-3zM54 87h3v1h-3zM97 87h2v1h-2zM124 87h2v1h-2zM163 87h2v1h-2zM28 88h1v1h-1zM33 88h3v1h-3zM43 88h3v1h-3zM52 88h3v1h-3zM98 88h3v1h-3zM124 88h1v1h-1zM161 88h1v1h-1zM32 89h5v1h-5zM44 89h4v1h-4zM50 89h4v1h-4zM100 89h2v1h-2zM123 89h2v1h-2zM160 89h1v1h-1zM179 89h2v1h-2zM31 90h6v1h-6zM46 90h6v1h-6zM101 90h3v1h-3zM117 90h7v1h-7zM158 90h1v1h-1zM178 90h1v1h-1zM182 90h2v1h-2zM30 91h1v1h-1zM33 91h4v1h-4zM47 91h4v1h-4zM103 91h21v1h-21zM157 91h1v1h-1zM177 91h1v1h-1zM184 91h1v1h-1zM35 92h2v1h-2zM104 92h19v1h-19zM155 92h2v1h-2zM176 92h1v1h-1zM185 92h1v1h-1zM37 93h2v1h-2zM155 93h1v1h-1zM176 93h1v1h-1zM184 93h1v1h-1zM39 94h2v1h-2zM154 94h2v1h-2zM176 94h2v1h-2zM184 94h1v1h-1zM40 95h2v1h-2zM153 95h2v1h-2zM177 95h1v1h-1zM183 95h1v1h-1zM41 96h1v1h-1zM153 96h2v1h-2zM178 96h1v1h-1zM182 96h1v1h-1zM41 97h2v1h-2zM152 97h3v1h-3zM178 97h1v1h-1zM181 97h1v1h-1zM42 98h2v1h-2zM152 98h3v1h-3zM178 98h1v1h-1zM180 98h1v1h-1zM43 99h1v1h-1zM152 99h3v1h-3zM179 99h2v1h-2zM44 100h2v1h-2zM52 100h3v1h-3zM152 100h4v1h-4zM45 101h3v1h-3zM50 101h5v1h-5zM153 101h3v1h-3zM47 102h8v1h-8zM153 102h3v1h-3zM52 103h3v1h-3zM154 103h2v1h-2zM53 104h2v1h-2zM154 104h2v1h-2zM55 105h1v1h-1zM79 105h8v1h-8zM155 105h2v1h-2zM57 106h1v1h-1zM76 106h3v1h-3zM86 106h2v1h-2zM156 106h2v1h-2zM58 107h2v1h-2zM72 107h4v1h-4zM87 107h1v1h-1zM157 107h2v1h-2zM60 108h2v1h-2zM69 108h3v1h-3zM87 108h2v1h-2zM158 108h2v1h-2zM62 109h7v1h-7zM88 109h1v1h-1zM159 109h1v1h-1zM88 110h2v1h-2zM160 110h1v1h-1zM89 111h1v1h-1zM160 111h2v1h-2zM161 112h2v1h-2zM90 113h1v1h-1zM161 113h3v1h-3zM162 114h2v1h-2zM162 115h3v1h-3zM93 116h1v1h-1zM163 116h2v1h-2zM95 117h1v1h-1zM164 117h2v1h-2zM158 118h3v1h-3zM165 118h1v1h-1zM156 119h5v1h-5zM165 119h2v1h-2zM97 120h1v1h-1zM155 120h1v1h-1zM160 120h1v1h-1zM166 120h1v1h-1zM97 121h1v1h-1zM103 121h2v1h-2zM154 121h1v1h-1zM160 121h1v1h-1zM166 121h2v1h-2zM103 122h3v1h-3zM154 122h1v1h-1zM160 122h1v1h-1zM167 122h1v1h-1zM153 123h1v1h-1zM160 123h1v1h-1zM167 123h2v1h-2zM98 124h1v1h-1zM153 124h1v1h-1zM160 124h1v1h-1zM167 124h2v1h-2zM101 125h5v1h-5zM109 125h4v1h-4zM153 125h1v1h-1zM159 125h1v1h-1zM167 125h2v1h-2zM112 126h2v1h-2zM152 126h8v1h-8zM167 126h2v1h-2zM113 127h2v1h-2zM152 127h3v1h-3zM167 127h3v1h-3zM114 128h3v1h-3zM167 128h3v1h-3zM114 129h3v1h-3zM151 129h1v1h-1zM168 129h2v1h-2zM113 130h4v1h-4zM150 130h3v1h-3zM169 130h2v1h-2zM113 131h4v1h-4zM150 131h4v1h-4zM170 131h2v1h-2zM112 132h5v1h-5zM149 132h5v1h-5zM171 132h3v1h-3zM111 133h6v1h-6zM148 133h3v1h-3zM153 133h2v1h-2zM172 133h3v1h-3zM111 134h2v1h-2zM116 134h1v1h-1zM148 134h2v1h-2zM153 134h3v1h-3zM173 134h1v1h-1zM116 135h2v1h-2zM148 135h2v1h-2zM153 135h2v1h-2zM116 136h2v1h-2zM148 136h5v1h-5zM117 137h1v1h-1zM149 137h2v1h-2zM117 138h2v1h-2zM118 139h1v1h-1zM118 140h2v1h-2zM119 141h2v1h-2zM121 142h2v1h-2zM123 143h11v1h-11zM134 144h1v1h-1zM134 145h1v1h-1zM135 146h1v1h-1zM159 146h2v1h-2zM135 147h3v1h-3zM157 147h2v1h-2zM160 147h1v1h-1zM136 148h10v1h-10zM143 149h3v1h-3zM144 150h2v1h-2zM145 151h1v1h-1z"/><path fill="#d05548" d="M49 0h5v1h-5zM48 1h5v1h-5zM48 2h4v1h-4zM48 3h4v1h-4zM48 4h4v1h-4zM48 5h4v1h-4zM40 6h1v1h-1zM50 6h2v1h-2zM78 6h3v1h-3zM51 7h1v1h-1zM76 7h4v1h-4zM51 8h1v1h-1zM76 8h4v1h-4zM51 9h1v1h-1zM76 9h3v1h-3zM50 10h1v1h-1zM73 10h6v1h-6zM33 11h1v1h-1zM36 11h1v1h-1zM39 11h1v1h-1zM68 11h2v1h-2zM73 11h1v1h-1zM18 12h1v1h-1zM38 12h1v1h-1zM65 12h1v1h-1zM71 12h2v1h-2zM15 13h1v1h-1zM61 13h1v1h-1zM12 14h1v1h-1zM21 14h1v1h-1zM58 14h1v1h-1zM9 15h1v1h-1zM11 15h2v1h-2zM16 15h1v1h-1zM90 15h3v1h-3zM27 16h1v1h-1zM29 16h1v1h-1zM35 16h1v1h-1zM54 16h1v1h-1zM91 16h4v1h-4zM23 17h1v1h-1zM53 17h1v1h-1zM91 17h5v1h-5zM22 18h1v1h-1zM92 18h5v1h-5zM12 19h1v1h-1zM92 19h6v1h-6zM10 20h3v1h-3zM23 20h1v1h-1zM49 20h1v1h-1zM93 20h6v1h-6zM11 21h3v1h-3zM85 21h3v1h-3zM97 21h3v1h-3zM11 22h3v1h-3zM82 22h3v1h-3zM87 22h2v1h-2zM99 22h2v1h-2zM11 23h2v1h-2zM46 23h1v1h-1zM80 23h3v1h-3zM89 23h1v1h-1zM101 23h1v1h-1zM11 24h1v1h-1zM32 24h1v1h-1zM36 24h1v1h-1zM79 24h3v1h-3zM90 24h2v1h-2zM32 25h1v1h-1zM36 25h1v1h-1zM79 25h3v1h-3zM91 25h2v1h-2zM106 25h3v1h-3zM45 26h1v1h-1zM78 26h1v1h-1zM80 26h4v1h-4zM92 26h1v1h-1zM108 26h1v1h-1zM77 27h1v1h-1zM80 27h5v1h-5zM93 27h1v1h-1zM115 27h5v1h-5zM76 28h1v1h-1zM80 28h2v1h-2zM84 28h2v1h-2zM93 28h1v1h-1zM115 28h5v1h-5zM80 29h2v1h-2zM85 29h2v1h-2zM94 29h1v1h-1zM115 29h4v1h-4zM75 30h1v1h-1zM80 30h1v1h-1zM87 30h2v1h-2zM94 30h1v1h-1zM116 30h3v1h-3zM34 31h1v1h-1zM43 31h1v1h-1zM75 31h1v1h-1zM78 31h2v1h-2zM89 31h2v1h-2zM94 31h1v1h-1zM116 31h3v1h-3zM76 32h2v1h-2zM91 32h4v1h-4zM116 32h3v1h-3zM42 33h1v1h-1zM93 33h2v1h-2zM116 33h3v1h-3zM41 34h1v1h-1zM116 34h3v1h-3zM40 35h1v1h-1zM115 35h3v1h-3zM115 36h3v1h-3zM38 37h1v1h-1zM115 37h2v1h-2zM115 38h2v1h-2zM22 39h1v1h-1zM35 39h1v1h-1zM114 39h3v1h-3zM17 40h1v1h-1zM33 40h1v1h-1zM114 40h2v1h-2zM16 41h3v1h-3zM98 41h1v1h-1zM114 41h2v1h-2zM16 42h3v1h-3zM97 42h3v1h-3zM114 42h2v1h-2zM17 43h2v1h-2zM97 43h4v1h-4zM113 43h3v1h-3zM18 44h2v1h-2zM96 44h2v1h-2zM100 44h2v1h-2zM113 44h2v1h-2zM94 45h3v1h-3zM101 45h2v1h-2zM113 45h2v1h-2zM92 46h3v1h-3zM102 46h2v1h-2zM112 46h3v1h-3zM87 47h6v1h-6zM103 47h2v1h-2zM112 47h3v1h-3zM72 48h5v1h-5zM84 48h5v1h-5zM104 48h2v1h-2zM112 48h2v1h-2zM27 49h1v1h-1zM72 49h6v1h-6zM83 49h3v1h-3zM104 49h2v1h-2zM112 49h3v1h-3zM72 50h7v1h-7zM82 50h3v1h-3zM104 50h2v1h-2zM112 50h3v1h-3zM72 51h8v1h-8zM81 51h3v1h-3zM104 51h1v1h-1zM113 51h3v1h-3zM25 52h1v1h-1zM74 52h9v1h-9zM103 52h2v1h-2zM114 52h2v1h-2zM25 53h1v1h-1zM75 53h7v1h-7zM103 53h1v1h-1zM114 53h3v1h-3zM26 54h1v1h-1zM76 54h5v1h-5zM102 54h2v1h-2zM114 54h3v1h-3zM26 55h1v1h-1zM77 55h3v1h-3zM102 55h2v1h-2zM114 55h4v1h-4zM26 56h1v1h-1zM77 56h3v1h-3zM102 56h2v1h-2zM114 56h5v1h-5zM27 57h1v1h-1zM77 57h3v1h-3zM103 57h1v1h-1zM113 57h8v1h-8zM27 58h1v1h-1zM77 58h3v1h-3zM103 58h2v1h-2zM112 58h16v1h-16zM134 58h4v1h-4zM27 59h1v1h-1zM77 59h3v1h-3zM104 59h5v1h-5zM111 59h7v1h-7zM121 59h2v1h-2zM130 59h4v1h-4zM138 59h1v1h-1zM28 60h1v1h-1zM77 60h3v1h-3zM107 60h10v1h-10zM139 60h2v1h-2zM28 61h1v1h-1zM78 61h3v1h-3zM110 61h6v1h-6zM140 61h2v1h-2zM28 62h1v1h-1zM79 62h3v1h-3zM111 62h5v1h-5zM141 62h2v1h-2zM152 62h5v1h-5zM28 63h1v1h-1zM80 63h3v1h-3zM111 63h6v1h-6zM142 63h2v1h-2zM150 63h3v1h-3zM155 63h4v1h-4zM27 64h2v1h-2zM82 64h3v1h-3zM111 64h6v1h-6zM142 64h8v1h-8zM157 64h4v1h-4zM26 65h3v1h-3zM83 65h3v1h-3zM111 65h7v1h-7zM143 65h4v1h-4zM160 65h3v1h-3zM25 66h2v1h-2zM85 66h3v1h-3zM112 66h6v1h-6zM162 66h4v1h-4zM25 67h1v1h-1zM86 67h3v1h-3zM114 67h5v1h-5zM164 67h5v1h-5zM25 68h1v1h-1zM87 68h3v1h-3zM104 68h1v1h-1zM115 68h5v1h-5zM165 68h5v1h-5zM25 69h1v1h-1zM88 69h3v1h-3zM102 69h3v1h-3zM117 69h7v1h-7zM166 69h4v1h-4zM25 70h1v1h-1zM89 70h3v1h-3zM100 70h5v1h-5zM118 70h9v1h-9zM166 70h4v1h-4zM25 71h1v1h-1zM90 71h3v1h-3zM96 71h9v1h-9zM125 71h4v1h-4zM166 71h4v1h-4zM25 72h1v1h-1zM91 72h3v1h-3zM96 72h2v1h-2zM103 72h2v1h-2zM127 72h2v1h-2zM167 72h3v1h-3zM25 73h1v1h-1zM92 73h4v1h-4zM103 73h2v1h-2zM128 73h2v1h-2zM168 73h2v1h-2zM26 74h1v1h-1zM92 74h4v1h-4zM103 74h2v1h-2zM128 74h2v1h-2zM168 74h3v1h-3zM27 75h1v1h-1zM93 75h3v1h-3zM103 75h2v1h-2zM128 75h3v1h-3zM168 75h3v1h-3zM27 76h1v1h-1zM93 76h2v1h-2zM103 76h2v1h-2zM128 76h3v1h-3zM168 76h3v1h-3zM28 77h1v1h-1zM103 77h2v1h-2zM128 77h3v1h-3zM168 77h3v1h-3zM28 78h2v1h-2zM102 78h3v1h-3zM128 78h3v1h-3zM168 78h3v1h-3zM29 79h1v1h-1zM101 79h4v1h-4zM128 79h2v1h-2zM168 79h3v1h-3zM29 80h1v1h-1zM100 80h5v1h-5zM127 80h3v1h-3zM168 80h3v1h-3zM100 81h4v1h-4zM126 81h2v1h-2zM168 81h3v1h-3zM100 82h3v1h-3zM125 82h1v1h-1zM168 82h3v1h-3zM28 83h1v1h-1zM100 83h2v1h-2zM125 83h1v1h-1zM168 83h3v1h-3zM99 84h3v1h-3zM124 84h1v1h-1zM168 84h3v1h-3zM99 85h2v1h-2zM124 85h1v1h-1zM168 85h3v1h-3zM44 86h10v1h-10zM98 86h3v1h-3zM123 86h2v1h-2zM167 86h3v1h-3zM44 87h10v1h-10zM99 87h3v1h-3zM121 87h3v1h-3zM165 87h2v1h-2zM46 88h6v1h-6zM101 88h2v1h-2zM118 88h6v1h-6zM162 88h2v1h-2zM180 88h1v1h-1zM28 89h1v1h-1zM48 89h2v1h-2zM102 89h3v1h-3zM114 89h9v1h-9zM161 89h1v1h-1zM178 89h1v1h-1zM181 89h2v1h-2zM104 90h13v1h-13zM159 90h2v1h-2zM176 90h2v1h-2zM184 90h1v1h-1zM29 91h1v1h-1zM31 91h2v1h-2zM158 91h1v1h-1zM175 91h2v1h-2zM185 91h2v1h-2zM32 92h3v1h-3zM157 92h1v1h-1zM174 92h2v1h-2zM186 92h1v1h-1zM36 93h1v1h-1zM156 93h2v1h-2zM174 93h2v1h-2zM185 93h2v1h-2zM37 94h2v1h-2zM156 94h2v1h-2zM175 94h1v1h-1zM185 94h1v1h-1zM38 95h2v1h-2zM155 95h2v1h-2zM176 95h1v1h-1zM184 95h1v1h-1zM40 96h1v1h-1zM155 96h2v1h-2zM177 96h1v1h-1zM183 96h1v1h-1zM40 97h1v1h-1zM155 97h2v1h-2zM177 97h1v1h-1zM182 97h1v1h-1zM41 98h1v1h-1zM155 98h2v1h-2zM181 98h2v1h-2zM42 99h1v1h-1zM155 99h3v1h-3zM178 99h1v1h-1zM181 99h1v1h-1zM43 100h1v1h-1zM156 100h2v1h-2zM178 100h3v1h-3zM44 101h1v1h-1zM156 101h2v1h-2zM178 101h2v1h-2zM45 102h2v1h-2zM156 102h2v1h-2zM178 102h1v1h-1zM47 103h5v1h-5zM156 103h2v1h-2zM49 104h4v1h-4zM156 104h2v1h-2zM53 105h2v1h-2zM157 105h1v1h-1zM56 106h1v1h-1zM79 106h7v1h-7zM158 106h1v1h-1zM57 107h1v1h-1zM76 107h3v1h-3zM86 107h1v1h-1zM159 107h1v1h-1zM59 108h1v1h-1zM72 108h3v1h-3zM160 108h1v1h-1zM61 109h1v1h-1zM69 109h3v1h-3zM87 109h1v1h-1zM160 109h2v1h-2zM63 110h5v1h-5zM161 110h2v1h-2zM88 111h1v1h-1zM162 111h2v1h-2zM89 112h1v1h-1zM163 112h2v1h-2zM164 113h1v1h-1zM90 114h1v1h-1zM164 114h2v1h-2zM91 115h1v1h-1zM165 115h1v1h-1zM92 116h1v1h-1zM165 116h2v1h-2zM166 117h1v1h-1zM96 118h1v1h-1zM166 118h2v1h-2zM167 119h2v1h-2zM156 120h4v1h-4zM167 120h2v1h-2zM155 121h2v1h-2zM159 121h1v1h-1zM168 121h2v1h-2zM97 122h1v1h-1zM155 122h1v1h-1zM159 122h1v1h-1zM168 122h2v1h-2zM97 123h1v1h-1zM154 123h2v1h-2zM159 123h1v1h-1zM169 123h1v1h-1zM154 124h3v1h-3zM158 124h2v1h-2zM169 124h1v1h-1zM98 125h3v1h-3zM154 125h5v1h-5zM169 125h2v1h-2zM105 126h7v1h-7zM169 126h2v1h-2zM111 127h2v1h-2zM170 127h2v1h-2zM112 128h2v1h-2zM170 128h2v1h-2zM112 129h2v1h-2zM170 129h4v1h-4zM111 130h2v1h-2zM171 130h5v1h-5zM110 131h3v1h-3zM172 131h4v1h-4zM110 132h2v1h-2zM174 132h1v1h-1zM110 133h1v1h-1zM151 133h2v1h-2zM110 134h1v1h-1zM113 134h3v1h-3zM150 134h3v1h-3zM110 135h6v1h-6zM150 135h3v1h-3zM111 136h5v1h-5zM115 137h2v1h-2zM116 138h1v1h-1zM116 139h2v1h-2zM117 140h1v1h-1zM118 141h1v1h-1zM119 142h2v1h-2zM121 143h2v1h-2zM124 144h10v1h-10zM133 145h1v1h-1zM134 146h1v1h-1zM134 147h1v1h-1zM159 147h1v1h-1zM135 148h1v1h-1zM135 149h8v1h-8zM136 150h8v1h-8zM143 151h2v1h-2zM143 152h2v1h-2z"/><path fill="#d55d4c" d="M58 0h1v1h-1zM53 1h2v1h-2zM57 1h2v1h-2zM52 2h2v1h-2zM56 2h2v1h-2zM52 3h5v1h-5zM52 4h4v1h-4zM52 5h3v1h-3zM31 6h1v1h-1zM52 6h3v1h-3zM52 7h1v1h-1zM52 8h1v1h-1zM70 8h1v1h-1zM72 8h1v1h-1zM29 9h1v1h-1zM68 9h2v1h-2zM72 9h1v1h-1zM32 11h1v1h-1zM37 11h2v1h-2zM49 11h1v1h-1zM66 11h1v1h-1zM70 11h1v1h-1zM72 11h1v1h-1zM19 12h1v1h-1zM28 12h1v1h-1zM47 12h1v1h-1zM63 12h2v1h-2zM39 13h1v1h-1zM45 13h1v1h-1zM59 13h2v1h-2zM20 14h1v1h-1zM43 14h1v1h-1zM57 14h1v1h-1zM10 15h1v1h-1zM13 15h3v1h-3zM55 15h1v1h-1zM28 16h1v1h-1zM24 17h1v1h-1zM30 18h1v1h-1zM51 18h1v1h-1zM50 19h1v1h-1zM31 20h1v1h-1zM36 21h1v1h-1zM47 21h1v1h-1zM36 22h1v1h-1zM46 22h1v1h-1zM85 22h2v1h-2zM36 23h1v1h-1zM83 23h3v1h-3zM87 23h2v1h-2zM82 24h3v1h-3zM88 24h2v1h-2zM82 25h4v1h-4zM89 25h2v1h-2zM24 26h1v1h-1zM32 26h1v1h-1zM79 26h1v1h-1zM84 26h3v1h-3zM90 26h2v1h-2zM24 27h1v1h-1zM32 27h1v1h-1zM78 27h2v1h-2zM85 27h3v1h-3zM91 27h2v1h-2zM24 28h1v1h-1zM44 28h1v1h-1zM77 28h3v1h-3zM86 28h3v1h-3zM92 28h1v1h-1zM120 28h2v1h-2zM24 29h1v1h-1zM76 29h4v1h-4zM87 29h3v1h-3zM93 29h1v1h-1zM119 29h4v1h-4zM35 30h1v1h-1zM43 30h1v1h-1zM76 30h4v1h-4zM89 30h2v1h-2zM93 30h1v1h-1zM119 30h5v1h-5zM76 31h2v1h-2zM91 31h3v1h-3zM119 31h5v1h-5zM33 32h1v1h-1zM119 32h4v1h-4zM119 33h5v1h-5zM119 34h7v1h-7zM23 35h1v1h-1zM118 35h4v1h-4zM124 35h3v1h-3zM23 36h1v1h-1zM39 36h1v1h-1zM118 36h4v1h-4zM125 36h3v1h-3zM117 37h6v1h-6zM127 37h3v1h-3zM36 38h1v1h-1zM117 38h7v1h-7zM129 38h2v1h-2zM117 39h8v1h-8zM22 40h1v1h-1zM32 40h1v1h-1zM116 40h3v1h-3zM121 40h5v1h-5zM31 41h1v1h-1zM116 41h2v1h-2zM15 42h1v1h-1zM116 42h2v1h-2zM14 43h3v1h-3zM21 43h1v1h-1zM30 43h1v1h-1zM116 43h2v1h-2zM15 44h3v1h-3zM20 44h1v1h-1zM98 44h2v1h-2zM115 44h3v1h-3zM16 45h4v1h-4zM29 45h1v1h-1zM97 45h4v1h-4zM115 45h3v1h-3zM17 46h2v1h-2zM95 46h4v1h-4zM100 46h2v1h-2zM115 46h2v1h-2zM28 47h1v1h-1zM93 47h4v1h-4zM102 47h1v1h-1zM115 47h2v1h-2zM89 48h4v1h-4zM102 48h2v1h-2zM114 48h3v1h-3zM86 49h4v1h-4zM103 49h1v1h-1zM115 49h3v1h-3zM26 50h1v1h-1zM85 50h3v1h-3zM102 50h2v1h-2zM115 50h3v1h-3zM84 51h3v1h-3zM102 51h2v1h-2zM116 51h3v1h-3zM83 52h3v1h-3zM101 52h2v1h-2zM116 52h3v1h-3zM82 53h3v1h-3zM101 53h2v1h-2zM117 53h3v1h-3zM25 54h1v1h-1zM81 54h3v1h-3zM100 54h2v1h-2zM117 54h3v1h-3zM25 55h1v1h-1zM80 55h4v1h-4zM100 55h2v1h-2zM118 55h3v1h-3zM146 55h2v1h-2zM80 56h3v1h-3zM100 56h2v1h-2zM119 56h4v1h-4zM147 56h3v1h-3zM26 57h1v1h-1zM80 57h3v1h-3zM101 57h2v1h-2zM121 57h6v1h-6zM134 57h4v1h-4zM148 57h4v1h-4zM26 58h1v1h-1zM80 58h3v1h-3zM101 58h2v1h-2zM128 58h6v1h-6zM138 58h2v1h-2zM149 58h4v1h-4zM80 59h3v1h-3zM102 59h2v1h-2zM139 59h2v1h-2zM150 59h5v1h-5zM27 60h1v1h-1zM80 60h3v1h-3zM103 60h4v1h-4zM141 60h2v1h-2zM151 60h6v1h-6zM27 61h1v1h-1zM81 61h3v1h-3zM105 61h5v1h-5zM142 61h3v1h-3zM151 61h7v1h-7zM172 61h2v1h-2zM27 62h1v1h-1zM82 62h3v1h-3zM105 62h6v1h-6zM143 62h4v1h-4zM149 62h3v1h-3zM157 62h3v1h-3zM26 63h2v1h-2zM83 63h3v1h-3zM104 63h7v1h-7zM144 63h6v1h-6zM159 63h3v1h-3zM25 64h2v1h-2zM85 64h3v1h-3zM103 64h8v1h-8zM161 64h3v1h-3zM25 65h1v1h-1zM86 65h3v1h-3zM103 65h8v1h-8zM163 65h4v1h-4zM24 66h1v1h-1zM88 66h3v1h-3zM102 66h10v1h-10zM166 66h4v1h-4zM24 67h1v1h-1zM89 67h3v1h-3zM100 67h14v1h-14zM169 67h3v1h-3zM24 68h1v1h-1zM90 68h3v1h-3zM99 68h5v1h-5zM105 68h10v1h-10zM170 68h3v1h-3zM24 69h1v1h-1zM91 69h3v1h-3zM97 69h5v1h-5zM105 69h12v1h-12zM170 69h4v1h-4zM24 70h1v1h-1zM92 70h8v1h-8zM105 70h13v1h-13zM170 70h4v1h-4zM24 71h1v1h-1zM93 71h3v1h-3zM105 71h5v1h-5zM115 71h10v1h-10zM170 71h4v1h-4zM24 72h1v1h-1zM94 72h2v1h-2zM105 72h5v1h-5zM123 72h4v1h-4zM170 72h4v1h-4zM24 73h1v1h-1zM105 73h5v1h-5zM125 73h3v1h-3zM170 73h5v1h-5zM25 74h1v1h-1zM105 74h5v1h-5zM126 74h2v1h-2zM171 74h4v1h-4zM26 75h1v1h-1zM105 75h5v1h-5zM126 75h2v1h-2zM171 75h4v1h-4zM105 76h5v1h-5zM126 76h2v1h-2zM171 76h4v1h-4zM27 77h1v1h-1zM105 77h5v1h-5zM126 77h2v1h-2zM171 77h4v1h-4zM105 78h5v1h-5zM126 78h2v1h-2zM171 78h4v1h-4zM28 79h1v1h-1zM105 79h4v1h-4zM126 79h2v1h-2zM171 79h4v1h-4zM28 80h1v1h-1zM105 80h4v1h-4zM125 80h2v1h-2zM171 80h4v1h-4zM28 81h1v1h-1zM104 81h4v1h-4zM124 81h2v1h-2zM171 81h4v1h-4zM28 82h1v1h-1zM103 82h3v1h-3zM124 82h1v1h-1zM171 82h4v1h-4zM102 83h3v1h-3zM120 83h5v1h-5zM171 83h4v1h-4zM102 84h2v1h-2zM119 84h5v1h-5zM171 84h4v1h-4zM101 85h2v1h-2zM119 85h5v1h-5zM171 85h4v1h-4zM27 86h1v1h-1zM101 86h2v1h-2zM118 86h5v1h-5zM170 86h5v1h-5zM102 87h2v1h-2zM116 87h5v1h-5zM167 87h9v1h-9zM103 88h15v1h-15zM164 88h2v1h-2zM170 88h6v1h-6zM177 88h3v1h-3zM181 88h2v1h-2zM105 89h9v1h-9zM162 89h1v1h-1zM170 89h8v1h-8zM183 89h2v1h-2zM28 90h1v1h-1zM161 90h1v1h-1zM171 90h5v1h-5zM185 90h2v1h-2zM159 91h1v1h-1zM171 91h4v1h-4zM187 91h1v1h-1zM30 92h2v1h-2zM158 92h1v1h-1zM172 92h2v1h-2zM187 92h1v1h-1zM34 93h2v1h-2zM158 93h1v1h-1zM173 93h1v1h-1zM187 93h1v1h-1zM36 94h1v1h-1zM158 94h1v1h-1zM174 94h1v1h-1zM186 94h1v1h-1zM37 95h1v1h-1zM157 95h2v1h-2zM175 95h1v1h-1zM185 95h1v1h-1zM38 96h2v1h-2zM157 96h2v1h-2zM176 96h1v1h-1zM184 96h1v1h-1zM39 97h1v1h-1zM157 97h2v1h-2zM176 97h1v1h-1zM183 97h2v1h-2zM40 98h1v1h-1zM157 98h2v1h-2zM177 98h1v1h-1zM183 98h1v1h-1zM158 99h1v1h-1zM177 99h1v1h-1zM182 99h1v1h-1zM158 100h1v1h-1zM177 100h1v1h-1zM181 100h2v1h-2zM43 101h1v1h-1zM158 101h1v1h-1zM177 101h1v1h-1zM180 101h3v1h-3zM44 102h1v1h-1zM158 102h1v1h-1zM177 102h1v1h-1zM179 102h3v1h-3zM46 103h1v1h-1zM158 103h1v1h-1zM176 103h6v1h-6zM47 104h2v1h-2zM158 104h2v1h-2zM176 104h5v1h-5zM50 105h3v1h-3zM158 105h2v1h-2zM176 105h5v1h-5zM55 106h1v1h-1zM159 106h2v1h-2zM175 106h5v1h-5zM56 107h1v1h-1zM79 107h7v1h-7zM160 107h1v1h-1zM175 107h5v1h-5zM57 108h2v1h-2zM75 108h3v1h-3zM86 108h1v1h-1zM161 108h1v1h-1zM175 108h4v1h-4zM59 109h2v1h-2zM72 109h3v1h-3zM86 109h1v1h-1zM162 109h1v1h-1zM175 109h4v1h-4zM61 110h2v1h-2zM68 110h3v1h-3zM87 110h1v1h-1zM163 110h1v1h-1zM175 110h3v1h-3zM63 111h4v1h-4zM87 111h1v1h-1zM164 111h1v1h-1zM175 111h3v1h-3zM88 112h1v1h-1zM165 112h1v1h-1zM175 112h2v1h-2zM89 113h1v1h-1zM165 113h2v1h-2zM175 113h2v1h-2zM166 114h2v1h-2zM175 114h1v1h-1zM90 115h1v1h-1zM166 115h2v1h-2zM167 116h3v1h-3zM94 117h1v1h-1zM167 117h3v1h-3zM95 118h1v1h-1zM168 118h3v1h-3zM96 119h1v1h-1zM169 119h2v1h-2zM169 120h3v1h-3zM157 121h2v1h-2zM170 121h2v1h-2zM156 122h3v1h-3zM170 122h2v1h-2zM156 123h3v1h-3zM170 123h2v1h-2zM97 124h1v1h-1zM157 124h1v1h-1zM170 124h2v1h-2zM171 125h1v1h-1zM101 126h4v1h-4zM171 126h2v1h-2zM106 127h5v1h-5zM172 127h4v1h-4zM109 128h3v1h-3zM172 128h4v1h-4zM110 129h2v1h-2zM174 129h2v1h-2zM109 130h2v1h-2zM109 131h1v1h-1zM109 132h1v1h-1zM109 133h1v1h-1zM108 134h2v1h-2zM109 135h1v1h-1zM109 136h2v1h-2zM110 137h5v1h-5zM111 138h5v1h-5zM114 139h2v1h-2zM115 140h2v1h-2zM116 141h2v1h-2zM118 142h1v1h-1zM120 143h1v1h-1zM122 144h2v1h-2zM131 145h2v1h-2zM132 146h2v1h-2zM133 147h1v1h-1zM133 148h2v1h-2zM134 149h1v1h-1zM135 150h1v1h-1zM136 151h7v1h-7zM140 152h3v1h-3zM142 153h1v1h-1zM67 213h3v1h-3zM67 214h3v1h-3zM67 215h3v1h-3z"/><path fill="#dc6e57" d="M59 1h1v1h-1zM58 2h1v1h-1zM57 4h1v1h-1zM56 5h1v1h-1zM40 7h1v1h-1zM55 7h2v1h-2zM60 7h1v1h-1zM32 8h1v1h-1zM40 8h1v1h-1zM53 8h1v1h-1zM64 8h2v1h-2zM52 9h1v1h-1zM65 9h2v1h-2zM39 10h1v1h-1zM66 10h2v1h-2zM70 10h1v1h-1zM64 11h1v1h-1zM48 12h1v1h-1zM60 12h1v1h-1zM38 13h1v1h-1zM46 13h1v1h-1zM57 13h1v1h-1zM16 14h4v1h-4zM39 14h1v1h-1zM44 14h1v1h-1zM55 14h1v1h-1zM40 15h1v1h-1zM42 15h1v1h-1zM54 15h1v1h-1zM53 16h1v1h-1zM25 17h1v1h-1zM29 17h1v1h-1zM23 18h1v1h-1zM36 18h1v1h-1zM30 19h1v1h-1zM36 19h1v1h-1zM49 19h1v1h-1zM31 22h1v1h-1zM24 23h1v1h-1zM45 25h1v1h-1zM44 27h1v1h-1zM32 29h1v1h-1zM43 29h1v1h-1zM32 30h1v1h-1zM24 31h1v1h-1zM33 33h1v1h-1zM33 34h1v1h-1zM40 34h1v1h-1zM37 37h1v1h-1zM32 39h1v1h-1zM31 40h1v1h-1zM22 42h1v1h-1zM30 42h1v1h-1zM12 45h2v1h-2zM20 45h1v1h-1zM13 46h2v1h-2zM19 46h1v1h-1zM10 47h1v1h-1zM14 47h2v1h-2zM18 47h1v1h-1zM127 47h5v1h-5zM10 48h1v1h-1zM15 48h3v1h-3zM27 48h1v1h-1zM127 48h6v1h-6zM10 49h1v1h-1zM26 49h1v1h-1zM95 49h3v1h-3zM126 49h8v1h-8zM9 50h2v1h-2zM93 50h6v1h-6zM125 50h10v1h-10zM9 51h2v1h-2zM91 51h8v1h-8zM125 51h11v1h-11zM9 52h2v1h-2zM24 52h1v1h-1zM89 52h5v1h-5zM97 52h2v1h-2zM125 52h5v1h-5zM132 52h5v1h-5zM8 53h3v1h-3zM88 53h4v1h-4zM97 53h2v1h-2zM124 53h5v1h-5zM133 53h4v1h-4zM8 54h3v1h-3zM87 54h4v1h-4zM97 54h2v1h-2zM124 54h4v1h-4zM134 54h3v1h-3zM8 55h3v1h-3zM24 55h1v1h-1zM87 55h3v1h-3zM97 55h2v1h-2zM125 55h2v1h-2zM134 55h2v1h-2zM5 56h1v1h-1zM7 56h4v1h-4zM24 56h1v1h-1zM87 56h3v1h-3zM97 56h2v1h-2zM127 56h1v1h-1zM133 56h1v1h-1zM5 57h1v1h-1zM7 57h4v1h-4zM24 57h1v1h-1zM87 57h3v1h-3zM97 57h2v1h-2zM129 57h3v1h-3zM5 58h5v1h-5zM87 58h3v1h-3zM97 58h2v1h-2zM5 59h5v1h-5zM25 59h1v1h-1zM87 59h3v1h-3zM97 59h2v1h-2zM6 60h4v1h-4zM25 60h1v1h-1zM87 60h3v1h-3zM97 60h2v1h-2zM6 61h3v1h-3zM24 61h2v1h-2zM87 61h3v1h-3zM97 61h2v1h-2zM6 62h3v1h-3zM23 62h2v1h-2zM88 62h3v1h-3zM97 62h3v1h-3zM7 63h2v1h-2zM23 63h1v1h-1zM89 63h4v1h-4zM96 63h3v1h-3zM22 64h2v1h-2zM91 64h7v1h-7zM22 65h1v1h-1zM92 65h6v1h-6zM22 66h1v1h-1zM94 66h3v1h-3zM21 67h1v1h-1zM21 68h1v1h-1zM21 69h2v1h-2zM22 70h1v1h-1zM22 71h1v1h-1zM22 72h1v1h-1zM22 73h1v1h-1zM23 74h1v1h-1zM24 75h1v1h-1zM25 76h1v1h-1zM186 77h9v1h-9zM26 78h1v1h-1zM184 78h11v1h-11zM183 79h12v1h-12zM27 80h1v1h-1zM183 80h12v1h-12zM27 81h1v1h-1zM182 81h13v1h-13zM27 82h1v1h-1zM182 82h13v1h-13zM27 83h1v1h-1zM181 83h8v1h-8zM181 84h6v1h-6zM180 85h6v1h-6zM181 86h5v1h-5zM183 87h5v1h-5zM27 88h1v1h-1zM186 88h3v1h-3zM165 89h4v1h-4zM188 89h2v1h-2zM163 90h2v1h-2zM168 90h1v1h-1zM189 90h4v1h-4zM161 91h2v1h-2zM168 91h2v1h-2zM190 91h2v1h-2zM29 92h1v1h-1zM160 92h2v1h-2zM169 92h1v1h-1zM190 92h1v1h-1zM160 93h1v1h-1zM170 93h1v1h-1zM160 94h1v1h-1zM171 94h1v1h-1zM159 95h1v1h-1zM172 95h1v1h-1zM36 96h1v1h-1zM159 96h1v1h-1zM173 96h1v1h-1zM37 97h1v1h-1zM159 97h1v1h-1zM174 97h1v1h-1zM38 98h1v1h-1zM174 98h2v1h-2zM40 99h1v1h-1zM175 99h1v1h-1zM160 100h1v1h-1zM174 100h2v1h-2zM160 101h1v1h-1zM174 101h1v1h-1zM43 102h1v1h-1zM160 102h1v1h-1zM173 102h2v1h-2zM44 103h1v1h-1zM160 103h1v1h-1zM173 103h1v1h-1zM45 104h1v1h-1zM161 104h1v1h-1zM173 104h1v1h-1zM48 105h1v1h-1zM161 105h1v1h-1zM172 105h2v1h-2zM51 106h2v1h-2zM162 106h1v1h-1zM171 106h2v1h-2zM55 107h1v1h-1zM163 107h1v1h-1zM170 107h3v1h-3zM56 108h1v1h-1zM82 108h2v1h-2zM163 108h1v1h-1zM169 108h3v1h-3zM57 109h1v1h-1zM78 109h3v1h-3zM84 109h1v1h-1zM164 109h2v1h-2zM168 109h4v1h-4zM29 110h1v1h-1zM58 110h2v1h-2zM75 110h3v1h-3zM85 110h1v1h-1zM166 110h6v1h-6zM60 111h2v1h-2zM71 111h5v1h-5zM86 111h1v1h-1zM168 111h2v1h-2zM62 112h7v1h-7zM72 112h7v1h-7zM86 112h1v1h-1zM73 113h2v1h-2zM78 113h2v1h-2zM87 113h1v1h-1zM75 114h4v1h-4zM88 114h1v1h-1zM89 115h1v1h-1zM90 116h1v1h-1zM92 117h1v1h-1zM93 118h1v1h-1zM95 119h1v1h-1zM90 122h1v1h-1zM96 122h1v1h-1zM90 123h2v1h-2zM96 123h1v1h-1zM89 124h1v1h-1zM89 125h1v1h-1zM91 125h1v1h-1zM90 126h2v1h-2zM97 126h1v1h-1zM101 127h3v1h-3zM105 128h1v1h-1zM106 129h2v1h-2zM106 130h2v1h-2zM106 131h2v1h-2zM106 132h1v1h-1zM106 133h1v1h-1zM106 134h1v1h-1zM106 135h1v1h-1zM107 136h1v1h-1zM107 137h1v1h-1zM107 138h2v1h-2zM108 139h3v1h-3zM110 140h3v1h-3zM112 141h2v1h-2zM114 142h2v1h-2zM117 143h1v1h-1zM119 144h1v1h-1zM121 145h1v1h-1zM123 146h8v1h-8zM131 147h1v1h-1zM131 148h1v1h-1zM132 149h1v1h-1zM133 150h1v1h-1zM133 151h1v1h-1zM134 152h1v1h-1zM134 153h2v1h-2zM134 154h6v1h-6zM135 155h5v1h-5zM135 156h6v1h-6zM139 157h2v1h-2zM67 210h5v1h-5zM65 211h3v1h-3zM70 211h3v1h-3zM65 212h1v1h-1zM71 212h2v1h-2zM65 213h1v1h-1zM72 213h2v1h-2zM64 214h1v1h-1zM73 214h2v1h-2zM64 215h1v1h-1zM73 215h2v1h-2zM63 216h2v1h-2zM73 216h2v1h-2zM63 217h2v1h-2zM72 217h3v1h-3zM63 218h2v1h-2zM67 218h1v1h-1zM72 218h2v1h-2zM63 219h2v1h-2zM67 219h7v1h-7zM63 220h1v1h-1zM67 220h6v1h-6zM63 221h1v1h-1zM67 221h5v1h-5zM63 222h1v1h-1zM67 222h3v1h-3zM62 223h2v1h-2zM67 223h3v1h-3zM61 224h3v1h-3zM67 224h2v1h-2zM60 225h3v1h-3zM67 225h2v1h-2zM60 226h2v1h-2zM67 226h2v1h-2zM59 227h2v1h-2zM67 227h2v1h-2zM59 228h1v1h-1zM67 228h2v1h-2zM71 228h1v1h-1zM59 229h1v1h-1zM68 229h4v1h-4zM59 230h2v1h-2zM64 230h2v1h-2zM68 230h4v1h-4zM59 231h12v1h-12zM59 232h12v1h-12zM59 233h4v1h-4zM65 233h5v1h-5zM59 234h4v1h-4zM66 234h3v1h-3zM60 235h3v1h-3zM66 235h1v1h-1zM60 236h3v1h-3zM61 237h6v1h-6zM61 238h5v1h-5zM61 239h3v1h-3zM61 240h2v1h-2z"/><path fill="#e27b62" d="M59 2h1v1h-1zM57 5h1v1h-1zM39 6h1v1h-1zM32 7h1v1h-1zM58 7h1v1h-1zM62 7h3v1h-3zM55 8h3v1h-3zM53 9h1v1h-1zM60 9h3v1h-3zM27 10h1v1h-1zM52 10h1v1h-1zM63 10h2v1h-2zM61 11h1v1h-1zM49 12h1v1h-1zM58 12h1v1h-1zM18 13h2v1h-2zM47 13h1v1h-1zM36 16h1v1h-1zM27 17h2v1h-2zM51 17h1v1h-1zM24 18h1v1h-1zM29 18h1v1h-1zM24 19h1v1h-1zM30 20h1v1h-1zM37 22h1v1h-1zM45 24h1v1h-1zM37 25h1v1h-1zM37 28h1v1h-1zM35 31h1v1h-1zM32 32h1v1h-1zM39 35h1v1h-1zM38 36h1v1h-1zM32 37h1v1h-1zM23 39h1v1h-1zM31 39h1v1h-1zM33 39h1v1h-1zM22 43h1v1h-1zM19 47h1v1h-1zM12 48h1v1h-1zM18 48h1v1h-1zM12 49h2v1h-2zM17 49h1v1h-1zM12 50h4v1h-4zM25 50h1v1h-1zM12 51h2v1h-2zM12 52h2v1h-2zM23 53h1v1h-1zM130 53h1v1h-1zM129 54h3v1h-3zM128 55h4v1h-4zM23 57h1v1h-1zM12 58h1v1h-1zM23 58h1v1h-1zM12 59h1v1h-1zM22 59h2v1h-2zM22 60h1v1h-1zM22 61h1v1h-1zM11 62h1v1h-1zM21 62h1v1h-1zM21 63h1v1h-1zM10 65h1v1h-1zM10 66h1v1h-1zM20 66h1v1h-1zM20 67h1v1h-1zM9 68h1v1h-1zM20 68h1v1h-1zM9 69h1v1h-1zM20 69h1v1h-1zM20 70h1v1h-1zM8 71h1v1h-1zM4 72h5v1h-5zM4 73h5v1h-5zM21 73h1v1h-1zM4 74h5v1h-5zM21 74h1v1h-1zM4 75h5v1h-5zM22 75h1v1h-1zM5 76h5v1h-5zM23 76h1v1h-1zM6 77h4v1h-4zM24 77h1v1h-1zM7 78h4v1h-4zM25 78h1v1h-1zM8 79h3v1h-3zM9 80h3v1h-3zM26 80h1v1h-1zM10 81h3v1h-3zM26 81h1v1h-1zM11 82h2v1h-2zM26 82h1v1h-1zM11 83h3v1h-3zM26 83h1v1h-1zM12 84h2v1h-2zM26 84h1v1h-1zM13 85h1v1h-1zM26 85h1v1h-1zM26 86h1v1h-1zM27 89h1v1h-1zM164 91h3v1h-3zM163 92h1v1h-1zM166 92h1v1h-1zM162 93h1v1h-1zM166 93h2v1h-2zM31 94h1v1h-1zM162 94h1v1h-1zM167 94h2v1h-2zM161 95h1v1h-1zM168 95h2v1h-2zM35 96h1v1h-1zM161 96h1v1h-1zM169 96h2v1h-2zM161 97h1v1h-1zM170 97h2v1h-2zM36 98h1v1h-1zM161 98h1v1h-1zM171 98h2v1h-2zM38 99h1v1h-1zM161 99h1v1h-1zM172 99h1v1h-1zM41 100h1v1h-1zM161 100h1v1h-1zM171 100h2v1h-2zM171 101h1v1h-1zM42 102h1v1h-1zM162 102h1v1h-1zM171 102h1v1h-1zM162 103h1v1h-1zM171 103h1v1h-1zM163 104h1v1h-1zM170 104h2v1h-2zM46 105h1v1h-1zM163 105h1v1h-1zM170 105h1v1h-1zM49 106h1v1h-1zM164 106h1v1h-1zM169 106h1v1h-1zM52 107h2v1h-2zM165 107h1v1h-1zM168 107h1v1h-1zM27 108h1v1h-1zM55 108h1v1h-1zM166 108h2v1h-2zM27 109h1v1h-1zM30 109h1v1h-1zM56 109h1v1h-1zM27 110h1v1h-1zM30 110h1v1h-1zM57 110h1v1h-1zM81 110h3v1h-3zM27 111h3v1h-3zM80 111h2v1h-2zM84 111h1v1h-1zM28 112h2v1h-2zM81 112h1v1h-1zM29 113h5v1h-5zM63 113h1v1h-1zM65 113h7v1h-7zM85 113h1v1h-1zM30 114h5v1h-5zM73 114h1v1h-1zM80 114h1v1h-1zM86 114h1v1h-1zM31 115h5v1h-5zM75 115h2v1h-2zM78 115h2v1h-2zM87 115h1v1h-1zM89 116h1v1h-1zM90 117h1v1h-1zM91 118h1v1h-1zM92 119h2v1h-2zM89 120h2v1h-2zM94 120h1v1h-1zM89 121h1v1h-1zM91 121h1v1h-1zM95 121h1v1h-1zM92 122h1v1h-1zM95 122h1v1h-1zM88 123h1v1h-1zM93 123h1v1h-1zM88 124h1v1h-1zM93 124h1v1h-1zM88 125h1v1h-1zM93 125h1v1h-1zM88 126h1v1h-1zM93 126h1v1h-1zM96 126h1v1h-1zM89 127h1v1h-1zM92 127h1v1h-1zM97 127h1v1h-1zM89 128h4v1h-4zM100 128h3v1h-3zM90 129h2v1h-2zM103 129h1v1h-1zM103 130h2v1h-2zM103 131h2v1h-2zM99 132h6v1h-6zM98 133h7v1h-7zM98 134h7v1h-7zM98 135h7v1h-7zM99 136h6v1h-6zM101 137h5v1h-5zM104 138h2v1h-2zM48 139h1v1h-1zM105 139h2v1h-2zM48 140h2v1h-2zM106 140h2v1h-2zM48 141h2v1h-2zM107 141h3v1h-3zM48 142h2v1h-2zM109 142h3v1h-3zM49 143h1v1h-1zM111 143h3v1h-3zM49 144h1v1h-1zM115 144h2v1h-2zM117 145h2v1h-2zM119 146h2v1h-2zM121 147h2v1h-2zM123 148h7v1h-7zM128 149h3v1h-3zM129 150h2v1h-2zM130 151h2v1h-2zM131 152h1v1h-1zM131 153h2v1h-2zM131 154h2v1h-2zM131 155h2v1h-2zM131 156h2v1h-2zM132 157h1v1h-1zM132 158h1v1h-1zM132 159h1v1h-1zM132 160h8v1h-8zM134 161h3v1h-3zM65 208h9v1h-9zM64 209h2v1h-2zM73 209h2v1h-2zM63 210h2v1h-2zM74 210h2v1h-2zM63 211h1v1h-1zM75 211h1v1h-1zM63 212h1v1h-1zM75 212h2v1h-2zM62 213h1v1h-1zM76 213h2v1h-2zM62 214h1v1h-1zM77 214h2v1h-2zM62 215h1v1h-1zM77 215h2v1h-2zM61 216h1v1h-1zM77 216h2v1h-2zM61 217h1v1h-1zM77 217h1v1h-1zM61 218h1v1h-1zM77 218h1v1h-1zM61 219h1v1h-1zM76 219h2v1h-2zM60 220h2v1h-2zM76 220h1v1h-1zM59 221h2v1h-2zM76 221h1v1h-1zM59 222h2v1h-2zM75 222h2v1h-2zM59 223h1v1h-1zM75 223h1v1h-1zM58 224h1v1h-1zM75 224h1v1h-1zM58 225h1v1h-1zM74 225h2v1h-2zM57 226h1v1h-1zM74 226h1v1h-1zM57 227h1v1h-1zM57 228h1v1h-1zM73 228h1v1h-1zM57 229h1v1h-1zM73 229h1v1h-1zM57 230h1v1h-1zM56 231h1v1h-1zM72 231h1v1h-1zM55 232h2v1h-2zM55 233h2v1h-2zM55 234h2v1h-2zM56 235h2v1h-2zM57 236h2v1h-2zM57 237h2v1h-2zM58 238h1v1h-1zM67 238h1v1h-1zM58 239h1v1h-1zM66 239h1v1h-1zM58 240h1v1h-1zM64 240h1v1h-1zM58 241h1v1h-1zM63 241h1v1h-1zM58 242h1v1h-1zM63 242h1v1h-1zM58 243h1v1h-1zM61 243h3v1h-3zM58 244h5v1h-5zM58 245h2v1h-2zM58 246h1v1h-1z"/><path fill="#ec9374" d="M60 2h1v1h-1zM61 3h1v1h-1zM59 6h1v1h-1zM39 7h1v1h-1zM31 9h1v1h-1zM55 9h3v1h-3zM28 10h1v1h-1zM34 10h1v1h-1zM37 10h1v1h-1zM53 10h1v1h-1zM59 10h1v1h-1zM29 11h1v1h-1zM50 12h1v1h-1zM48 13h1v1h-1zM46 14h1v1h-1zM43 16h1v1h-1zM28 18h1v1h-1zM49 18h1v1h-1zM37 19h1v1h-1zM25 20h1v1h-1zM45 21h1v1h-1zM30 22h1v1h-1zM31 26h1v1h-1zM34 34h1v1h-1zM39 34h1v1h-1zM24 35h1v1h-1zM34 35h1v1h-1zM31 38h1v1h-1zM19 48h1v1h-1zM26 48h1v1h-1zM18 49h1v1h-1zM23 52h1v1h-1zM14 53h1v1h-1zM21 58h1v1h-1zM13 59h1v1h-1zM20 61h1v1h-1zM12 62h1v1h-1zM11 65h1v1h-1zM19 67h1v1h-1zM10 68h1v1h-1zM19 68h1v1h-1zM10 74h1v1h-1zM20 74h1v1h-1zM11 76h1v1h-1zM22 77h1v1h-1zM12 78h1v1h-1zM23 78h1v1h-1zM13 79h1v1h-1zM24 80h1v1h-1zM14 81h1v1h-1zM25 83h1v1h-1zM15 85h1v1h-1zM26 88h1v1h-1zM16 89h1v1h-1zM17 92h1v1h-1zM17 93h1v1h-1zM19 94h1v1h-1zM18 95h2v1h-2zM31 95h1v1h-1zM18 96h3v1h-3zM19 97h2v1h-2zM164 97h2v1h-2zM19 98h1v1h-1zM164 98h3v1h-3zM36 99h1v1h-1zM164 99h3v1h-3zM39 100h1v1h-1zM164 100h4v1h-4zM22 101h2v1h-2zM164 101h4v1h-4zM22 102h1v1h-1zM24 102h1v1h-1zM165 102h3v1h-3zM165 103h3v1h-3zM42 104h1v1h-1zM166 104h2v1h-2zM43 105h1v1h-1zM27 106h1v1h-1zM47 106h1v1h-1zM52 108h1v1h-1zM57 111h1v1h-1zM33 112h1v1h-1zM63 114h3v1h-3zM83 114h1v1h-1zM37 115h1v1h-1zM71 115h1v1h-1zM82 115h3v1h-3zM38 116h1v1h-1zM73 116h2v1h-2zM81 116h1v1h-1zM84 116h2v1h-2zM38 117h1v1h-1zM76 117h4v1h-4zM86 117h1v1h-1zM39 118h2v1h-2zM86 118h2v1h-2zM42 119h1v1h-1zM87 119h1v1h-1zM43 120h1v1h-1zM86 120h2v1h-2zM42 121h3v1h-3zM86 121h2v1h-2zM42 122h3v1h-3zM86 122h1v1h-1zM44 123h2v1h-2zM86 123h1v1h-1zM45 124h1v1h-1zM86 124h1v1h-1zM46 125h1v1h-1zM86 125h1v1h-1zM47 126h1v1h-1zM86 126h1v1h-1zM48 127h1v1h-1zM86 127h1v1h-1zM49 128h1v1h-1zM86 128h1v1h-1zM95 128h1v1h-1zM50 129h1v1h-1zM87 129h1v1h-1zM94 129h3v1h-3zM88 130h1v1h-1zM93 130h3v1h-3zM89 131h1v1h-1zM92 131h4v1h-4zM89 132h7v1h-7zM51 133h1v1h-1zM90 133h6v1h-6zM94 134h2v1h-2zM95 135h1v1h-1zM51 136h1v1h-1zM95 136h1v1h-1zM51 137h1v1h-1zM96 137h1v1h-1zM51 138h1v1h-1zM96 138h2v1h-2zM51 139h1v1h-1zM97 139h2v1h-2zM98 140h3v1h-3zM100 141h2v1h-2zM99 142h4v1h-4zM51 143h1v1h-1zM99 143h5v1h-5zM51 144h1v1h-1zM104 144h1v1h-1zM47 145h1v1h-1zM51 145h1v1h-1zM104 145h1v1h-1zM47 146h1v1h-1zM104 146h1v1h-1zM48 147h1v1h-1zM111 147h7v1h-7zM48 148h1v1h-1zM50 148h1v1h-1zM105 148h1v1h-1zM109 148h6v1h-6zM117 148h3v1h-3zM49 149h2v1h-2zM106 149h6v1h-6zM119 149h2v1h-2zM49 150h2v1h-2zM120 150h2v1h-2zM121 151h2v1h-2zM122 152h2v1h-2zM123 153h3v1h-3zM124 154h4v1h-4zM126 155h3v1h-3zM127 156h2v1h-2zM128 157h1v1h-1zM128 158h2v1h-2zM129 159h1v1h-1zM129 160h1v1h-1zM130 161h1v1h-1zM130 162h2v1h-2zM132 163h1v1h-1zM133 164h7v1h-7zM135 165h2v1h-2zM68 204h5v1h-5zM63 205h6v1h-6zM73 205h2v1h-2zM61 206h2v1h-2zM75 206h1v1h-1zM60 207h2v1h-2zM76 207h2v1h-2zM59 208h2v1h-2zM77 208h2v1h-2zM58 209h2v1h-2zM78 209h1v1h-1zM81 209h2v1h-2zM57 210h2v1h-2zM79 210h4v1h-4zM56 211h3v1h-3zM82 211h1v1h-1zM55 212h3v1h-3zM82 212h1v1h-1zM55 213h3v1h-3zM82 213h1v1h-1zM55 214h2v1h-2zM82 214h1v1h-1zM56 215h1v1h-1zM81 215h1v1h-1zM56 216h2v1h-2zM81 216h1v1h-1zM57 217h1v1h-1zM81 217h1v1h-1zM57 218h1v1h-1zM80 218h1v1h-1zM57 219h1v1h-1zM57 220h1v1h-1zM56 221h1v1h-1zM79 221h1v1h-1zM56 222h1v1h-1zM79 222h1v1h-1zM56 223h1v1h-1zM79 223h1v1h-1zM55 224h1v1h-1zM78 224h1v1h-1zM55 225h1v1h-1zM55 226h1v1h-1zM54 227h1v1h-1zM54 228h1v1h-1zM53 229h1v1h-1zM53 230h1v1h-1zM52 231h1v1h-1zM51 232h1v1h-1zM50 234h1v1h-1zM51 235h1v1h-1zM52 236h1v1h-1zM53 237h1v1h-1zM54 238h1v1h-1zM54 239h1v1h-1zM68 239h1v1h-1zM54 240h1v1h-1zM67 240h1v1h-1zM54 241h1v1h-1zM66 241h2v1h-2zM54 242h1v1h-1zM66 242h1v1h-1zM66 243h1v1h-1zM55 244h1v1h-1zM65 244h1v1h-1zM55 245h1v1h-1zM65 245h1v1h-1zM55 246h1v1h-1zM64 246h1v1h-1zM64 247h1v1h-1zM56 248h1v1h-1zM59 248h6v1h-6zM57 249h2v1h-2z"/><path fill="#d86551" d="M38 3h1v1h-1zM57 3h1v1h-1zM56 4h1v1h-1zM39 5h1v1h-1zM55 5h1v1h-1zM55 6h1v1h-1zM53 7h2v1h-2zM66 8h1v1h-1zM71 8h1v1h-1zM40 9h1v1h-1zM67 9h1v1h-1zM70 9h2v1h-2zM51 10h1v1h-1zM68 10h2v1h-2zM71 10h2v1h-2zM65 11h1v1h-1zM71 11h1v1h-1zM61 12h2v1h-2zM16 13h1v1h-1zM37 13h1v1h-1zM58 13h1v1h-1zM13 14h3v1h-3zM36 14h1v1h-1zM56 14h1v1h-1zM41 15h1v1h-1zM52 17h1v1h-1zM23 19h1v1h-1zM36 20h1v1h-1zM48 20h1v1h-1zM24 21h1v1h-1zM31 21h1v1h-1zM24 22h1v1h-1zM86 23h1v1h-1zM24 24h1v1h-1zM85 24h3v1h-3zM24 25h1v1h-1zM86 25h3v1h-3zM87 26h3v1h-3zM88 27h3v1h-3zM32 28h1v1h-1zM89 28h3v1h-3zM36 29h1v1h-1zM90 29h3v1h-3zM24 30h1v1h-1zM91 30h2v1h-2zM124 31h2v1h-2zM42 32h1v1h-1zM123 32h4v1h-4zM41 33h1v1h-1zM124 33h4v1h-4zM126 34h3v1h-3zM122 35h2v1h-2zM127 35h3v1h-3zM122 36h3v1h-3zM128 36h2v1h-2zM23 37h1v1h-1zM123 37h4v1h-4zM130 37h1v1h-1zM124 38h5v1h-5zM125 39h6v1h-6zM119 40h2v1h-2zM126 40h5v1h-5zM22 41h1v1h-1zM118 41h14v1h-14zM118 42h14v1h-14zM118 43h15v1h-15zM14 44h1v1h-1zM118 44h16v1h-16zM14 45h2v1h-2zM118 45h17v1h-17zM15 46h2v1h-2zM99 46h1v1h-1zM117 46h18v1h-18zM16 47h2v1h-2zM97 47h5v1h-5zM117 47h10v1h-10zM132 47h3v1h-3zM9 48h1v1h-1zM93 48h9v1h-9zM117 48h10v1h-10zM133 48h2v1h-2zM9 49h1v1h-1zM90 49h5v1h-5zM98 49h5v1h-5zM118 49h8v1h-8zM134 49h2v1h-2zM8 50h1v1h-1zM88 50h5v1h-5zM99 50h3v1h-3zM118 50h7v1h-7zM135 50h3v1h-3zM8 51h1v1h-1zM25 51h1v1h-1zM87 51h4v1h-4zM99 51h3v1h-3zM119 51h6v1h-6zM136 51h5v1h-5zM8 52h1v1h-1zM86 52h3v1h-3zM99 52h2v1h-2zM119 52h6v1h-6zM137 52h8v1h-8zM7 53h1v1h-1zM24 53h1v1h-1zM85 53h3v1h-3zM99 53h2v1h-2zM120 53h4v1h-4zM137 53h11v1h-11zM7 54h1v1h-1zM24 54h1v1h-1zM84 54h3v1h-3zM99 54h1v1h-1zM120 54h4v1h-4zM137 54h13v1h-13zM151 54h1v1h-1zM6 55h2v1h-2zM84 55h3v1h-3zM99 55h1v1h-1zM121 55h4v1h-4zM136 55h10v1h-10zM148 55h5v1h-5zM6 56h1v1h-1zM25 56h1v1h-1zM83 56h4v1h-4zM99 56h1v1h-1zM123 56h4v1h-4zM134 56h13v1h-13zM150 56h4v1h-4zM6 57h1v1h-1zM25 57h1v1h-1zM83 57h4v1h-4zM99 57h2v1h-2zM127 57h2v1h-2zM132 57h2v1h-2zM138 57h10v1h-10zM152 57h4v1h-4zM25 58h1v1h-1zM83 58h4v1h-4zM99 58h2v1h-2zM140 58h9v1h-9zM153 58h6v1h-6zM26 59h1v1h-1zM83 59h4v1h-4zM99 59h3v1h-3zM141 59h9v1h-9zM155 59h7v1h-7zM26 60h1v1h-1zM83 60h4v1h-4zM99 60h4v1h-4zM143 60h8v1h-8zM157 60h9v1h-9zM168 60h4v1h-4zM26 61h1v1h-1zM84 61h3v1h-3zM99 61h6v1h-6zM145 61h6v1h-6zM158 61h14v1h-14zM25 62h2v1h-2zM85 62h3v1h-3zM100 62h5v1h-5zM147 62h2v1h-2zM160 62h16v1h-16zM24 63h2v1h-2zM86 63h3v1h-3zM99 63h5v1h-5zM162 63h15v1h-15zM24 64h1v1h-1zM88 64h3v1h-3zM98 64h5v1h-5zM164 64h14v1h-14zM23 65h2v1h-2zM89 65h3v1h-3zM98 65h5v1h-5zM167 65h12v1h-12zM23 66h1v1h-1zM91 66h3v1h-3zM97 66h5v1h-5zM170 66h10v1h-10zM22 67h2v1h-2zM92 67h8v1h-8zM172 67h10v1h-10zM22 68h2v1h-2zM93 68h6v1h-6zM173 68h10v1h-10zM23 69h1v1h-1zM94 69h3v1h-3zM174 69h16v1h-16zM23 70h1v1h-1zM174 70h18v1h-18zM23 71h1v1h-1zM110 71h5v1h-5zM174 71h19v1h-19zM23 72h1v1h-1zM110 72h13v1h-13zM174 72h20v1h-20zM23 73h1v1h-1zM110 73h15v1h-15zM175 73h20v1h-20zM24 74h1v1h-1zM110 74h16v1h-16zM175 74h20v1h-20zM25 75h1v1h-1zM110 75h16v1h-16zM175 75h20v1h-20zM26 76h1v1h-1zM110 76h16v1h-16zM175 76h20v1h-20zM26 77h1v1h-1zM110 77h16v1h-16zM175 77h11v1h-11zM27 78h1v1h-1zM110 78h16v1h-16zM175 78h9v1h-9zM27 79h1v1h-1zM109 79h17v1h-17zM175 79h8v1h-8zM109 80h16v1h-16zM175 80h8v1h-8zM108 81h16v1h-16zM175 81h7v1h-7zM106 82h18v1h-18zM175 82h7v1h-7zM105 83h15v1h-15zM175 83h6v1h-6zM27 84h1v1h-1zM104 84h15v1h-15zM175 84h6v1h-6zM27 85h1v1h-1zM103 85h16v1h-16zM175 85h5v1h-5zM103 86h15v1h-15zM175 86h6v1h-6zM27 87h1v1h-1zM104 87h12v1h-12zM176 87h7v1h-7zM166 88h4v1h-4zM176 88h1v1h-1zM183 88h3v1h-3zM163 89h2v1h-2zM169 89h1v1h-1zM185 89h3v1h-3zM162 90h1v1h-1zM169 90h2v1h-2zM187 90h2v1h-2zM160 91h1v1h-1zM170 91h1v1h-1zM188 91h2v1h-2zM159 92h1v1h-1zM170 92h2v1h-2zM188 92h2v1h-2zM31 93h3v1h-3zM159 93h1v1h-1zM171 93h2v1h-2zM188 93h2v1h-2zM35 94h1v1h-1zM159 94h1v1h-1zM172 94h2v1h-2zM187 94h2v1h-2zM36 95h1v1h-1zM173 95h2v1h-2zM186 95h2v1h-2zM37 96h1v1h-1zM174 96h2v1h-2zM185 96h2v1h-2zM38 97h1v1h-1zM175 97h1v1h-1zM185 97h1v1h-1zM39 98h1v1h-1zM159 98h1v1h-1zM176 98h1v1h-1zM184 98h1v1h-1zM41 99h1v1h-1zM159 99h1v1h-1zM176 99h1v1h-1zM183 99h2v1h-2zM42 100h1v1h-1zM159 100h1v1h-1zM176 100h1v1h-1zM183 100h1v1h-1zM159 101h1v1h-1zM175 101h2v1h-2zM183 101h1v1h-1zM159 102h1v1h-1zM175 102h2v1h-2zM182 102h1v1h-1zM45 103h1v1h-1zM159 103h1v1h-1zM174 103h2v1h-2zM182 103h1v1h-1zM46 104h1v1h-1zM160 104h1v1h-1zM174 104h2v1h-2zM181 104h1v1h-1zM49 105h1v1h-1zM160 105h1v1h-1zM174 105h2v1h-2zM181 105h1v1h-1zM53 106h2v1h-2zM161 106h1v1h-1zM173 106h2v1h-2zM180 106h1v1h-1zM161 107h2v1h-2zM173 107h2v1h-2zM180 107h1v1h-1zM78 108h4v1h-4zM84 108h2v1h-2zM162 108h1v1h-1zM172 108h3v1h-3zM179 108h1v1h-1zM29 109h1v1h-1zM58 109h1v1h-1zM75 109h3v1h-3zM85 109h1v1h-1zM163 109h1v1h-1zM172 109h3v1h-3zM179 109h1v1h-1zM60 110h1v1h-1zM71 110h4v1h-4zM86 110h1v1h-1zM164 110h2v1h-2zM172 110h3v1h-3zM178 110h2v1h-2zM62 111h1v1h-1zM67 111h4v1h-4zM165 111h3v1h-3zM170 111h5v1h-5zM178 111h2v1h-2zM87 112h1v1h-1zM166 112h9v1h-9zM177 112h2v1h-2zM75 113h3v1h-3zM88 113h1v1h-1zM167 113h8v1h-8zM177 113h2v1h-2zM89 114h1v1h-1zM168 114h7v1h-7zM176 114h3v1h-3zM168 115h11v1h-11zM91 116h1v1h-1zM170 116h9v1h-9zM93 117h1v1h-1zM170 117h9v1h-9zM94 118h1v1h-1zM171 118h8v1h-8zM171 119h8v1h-8zM96 120h1v1h-1zM172 120h7v1h-7zM96 121h1v1h-1zM172 121h7v1h-7zM172 122h7v1h-7zM172 123h6v1h-6zM90 124h2v1h-2zM172 124h5v1h-5zM90 125h1v1h-1zM97 125h1v1h-1zM172 125h5v1h-5zM98 126h3v1h-3zM173 126h3v1h-3zM104 127h2v1h-2zM106 128h3v1h-3zM108 129h2v1h-2zM108 130h1v1h-1zM108 131h1v1h-1zM107 132h2v1h-2zM107 133h2v1h-2zM107 134h1v1h-1zM107 135h2v1h-2zM108 136h1v1h-1zM108 137h2v1h-2zM109 138h2v1h-2zM111 139h3v1h-3zM113 140h2v1h-2zM114 141h2v1h-2zM116 142h2v1h-2zM118 143h2v1h-2zM120 144h2v1h-2zM122 145h9v1h-9zM131 146h1v1h-1zM132 147h1v1h-1zM132 148h1v1h-1zM133 149h1v1h-1zM134 150h1v1h-1zM134 151h2v1h-2zM135 152h5v1h-5zM136 153h6v1h-6zM140 154h2v1h-2zM140 155h1v1h-1zM68 211h2v1h-2zM66 212h5v1h-5zM66 213h1v1h-1zM70 213h2v1h-2zM65 214h2v1h-2zM70 214h3v1h-3zM65 215h2v1h-2zM70 215h3v1h-3zM65 216h8v1h-8zM65 217h7v1h-7zM65 218h2v1h-2zM68 218h4v1h-4zM65 219h2v1h-2zM64 220h3v1h-3zM64 221h3v1h-3zM64 222h3v1h-3zM64 223h3v1h-3zM64 224h3v1h-3zM63 225h4v1h-4zM62 226h5v1h-5zM61 227h6v1h-6zM60 228h7v1h-7zM60 229h8v1h-8zM61 230h3v1h-3zM66 230h2v1h-2z"/><path fill="#de735c" d="M58 3h1v1h-1zM56 6h1v1h-1zM57 7h1v1h-1zM59 7h1v1h-1zM61 7h1v1h-1zM54 8h1v1h-1zM58 8h6v1h-6zM30 9h1v1h-1zM63 9h2v1h-2zM65 10h1v1h-1zM31 11h1v1h-1zM50 11h1v1h-1zM62 11h2v1h-2zM27 12h1v1h-1zM59 12h1v1h-1zM17 13h1v1h-1zM56 13h1v1h-1zM36 15h1v1h-1zM43 15h1v1h-1zM26 17h1v1h-1zM36 17h1v1h-1zM50 18h1v1h-1zM24 20h1v1h-1zM46 21h1v1h-1zM31 23h1v1h-1zM37 26h1v1h-1zM37 27h1v1h-1zM32 31h1v1h-1zM42 31h1v1h-1zM24 32h1v1h-1zM34 32h1v1h-1zM33 35h1v1h-1zM33 36h1v1h-1zM23 38h1v1h-1zM32 38h1v1h-1zM34 39h1v1h-1zM21 44h1v1h-1zM29 44h1v1h-1zM11 46h2v1h-2zM28 46h1v1h-1zM11 47h3v1h-3zM11 48h1v1h-1zM13 48h2v1h-2zM11 49h1v1h-1zM14 49h3v1h-3zM11 50h1v1h-1zM11 51h1v1h-1zM11 52h1v1h-1zM94 52h3v1h-3zM130 52h2v1h-2zM11 53h2v1h-2zM92 53h5v1h-5zM129 53h1v1h-1zM131 53h2v1h-2zM11 54h2v1h-2zM23 54h1v1h-1zM91 54h6v1h-6zM128 54h1v1h-1zM132 54h2v1h-2zM11 55h2v1h-2zM23 55h1v1h-1zM90 55h7v1h-7zM127 55h1v1h-1zM132 55h2v1h-2zM11 56h2v1h-2zM23 56h1v1h-1zM90 56h7v1h-7zM128 56h5v1h-5zM11 57h2v1h-2zM90 57h7v1h-7zM10 58h2v1h-2zM24 58h1v1h-1zM90 58h7v1h-7zM10 59h2v1h-2zM24 59h1v1h-1zM90 59h7v1h-7zM10 60h2v1h-2zM23 60h2v1h-2zM90 60h7v1h-7zM5 61h1v1h-1zM9 61h3v1h-3zM23 61h1v1h-1zM90 61h7v1h-7zM9 62h2v1h-2zM22 62h1v1h-1zM91 62h6v1h-6zM9 63h2v1h-2zM22 63h1v1h-1zM93 63h3v1h-3zM8 64h3v1h-3zM21 64h1v1h-1zM8 65h2v1h-2zM21 65h1v1h-1zM7 66h3v1h-3zM21 66h1v1h-1zM6 67h4v1h-4zM5 68h4v1h-4zM4 69h5v1h-5zM4 70h5v1h-5zM21 70h1v1h-1zM4 71h4v1h-4zM21 71h1v1h-1zM21 72h1v1h-1zM22 74h1v1h-1zM23 75h1v1h-1zM24 76h1v1h-1zM25 77h1v1h-1zM26 79h1v1h-1zM189 83h6v1h-6zM187 84h8v1h-8zM186 85h8v1h-8zM186 86h8v1h-8zM188 87h6v1h-6zM189 88h5v1h-5zM190 89h3v1h-3zM165 90h3v1h-3zM28 91h1v1h-1zM163 91h1v1h-1zM167 91h1v1h-1zM162 92h1v1h-1zM167 92h2v1h-2zM30 93h1v1h-1zM161 93h1v1h-1zM168 93h2v1h-2zM32 94h3v1h-3zM161 94h1v1h-1zM169 94h2v1h-2zM35 95h1v1h-1zM160 95h1v1h-1zM170 95h2v1h-2zM160 96h1v1h-1zM171 96h2v1h-2zM36 97h1v1h-1zM160 97h1v1h-1zM172 97h2v1h-2zM37 98h1v1h-1zM160 98h1v1h-1zM173 98h1v1h-1zM39 99h1v1h-1zM160 99h1v1h-1zM173 99h2v1h-2zM173 100h1v1h-1zM42 101h1v1h-1zM161 101h1v1h-1zM172 101h2v1h-2zM161 102h1v1h-1zM172 102h1v1h-1zM43 103h1v1h-1zM161 103h1v1h-1zM172 103h1v1h-1zM44 104h1v1h-1zM162 104h1v1h-1zM172 104h1v1h-1zM47 105h1v1h-1zM162 105h1v1h-1zM171 105h1v1h-1zM50 106h1v1h-1zM163 106h1v1h-1zM170 106h1v1h-1zM54 107h1v1h-1zM164 107h1v1h-1zM169 107h1v1h-1zM28 108h2v1h-2zM164 108h2v1h-2zM168 108h1v1h-1zM28 109h1v1h-1zM81 109h3v1h-3zM166 109h2v1h-2zM28 110h1v1h-1zM78 110h3v1h-3zM84 110h1v1h-1zM59 111h1v1h-1zM76 111h4v1h-4zM85 111h1v1h-1zM61 112h1v1h-1zM69 112h3v1h-3zM79 112h2v1h-2zM85 112h1v1h-1zM72 113h1v1h-1zM80 113h1v1h-1zM86 113h1v1h-1zM74 114h1v1h-1zM79 114h1v1h-1zM87 114h1v1h-1zM77 115h1v1h-1zM88 115h1v1h-1zM91 117h1v1h-1zM92 118h1v1h-1zM94 119h1v1h-1zM95 120h1v1h-1zM90 121h1v1h-1zM89 122h1v1h-1zM91 122h1v1h-1zM89 123h1v1h-1zM92 123h1v1h-1zM92 124h1v1h-1zM96 124h1v1h-1zM92 125h1v1h-1zM96 125h1v1h-1zM89 126h1v1h-1zM92 126h1v1h-1zM90 127h2v1h-2zM98 127h3v1h-3zM103 128h2v1h-2zM104 129h2v1h-2zM105 130h1v1h-1zM105 131h1v1h-1zM105 132h1v1h-1zM105 133h1v1h-1zM105 134h1v1h-1zM105 135h1v1h-1zM105 136h2v1h-2zM106 137h1v1h-1zM106 138h1v1h-1zM107 139h1v1h-1zM108 140h2v1h-2zM110 141h2v1h-2zM112 142h2v1h-2zM114 143h3v1h-3zM117 144h2v1h-2zM119 145h2v1h-2zM121 146h2v1h-2zM123 147h8v1h-8zM130 148h1v1h-1zM131 149h1v1h-1zM131 150h2v1h-2zM132 151h1v1h-1zM132 152h2v1h-2zM133 153h1v1h-1zM133 154h1v1h-1zM133 155h2v1h-2zM133 156h2v1h-2zM133 157h6v1h-6zM133 158h8v1h-8zM133 159h7v1h-7zM66 209h7v1h-7zM65 210h2v1h-2zM72 210h2v1h-2zM64 211h1v1h-1zM73 211h2v1h-2zM64 212h1v1h-1zM73 212h2v1h-2zM63 213h2v1h-2zM74 213h2v1h-2zM63 214h1v1h-1zM75 214h2v1h-2zM63 215h1v1h-1zM75 215h2v1h-2zM62 216h1v1h-1zM75 216h2v1h-2zM62 217h1v1h-1zM75 217h2v1h-2zM62 218h1v1h-1zM74 218h3v1h-3zM62 219h1v1h-1zM74 219h2v1h-2zM62 220h1v1h-1zM73 220h3v1h-3zM61 221h2v1h-2zM72 221h4v1h-4zM61 222h2v1h-2zM70 222h5v1h-5zM60 223h2v1h-2zM70 223h5v1h-5zM59 224h2v1h-2zM69 224h6v1h-6zM59 225h1v1h-1zM69 225h5v1h-5zM58 226h2v1h-2zM69 226h5v1h-5zM58 227h1v1h-1zM69 227h5v1h-5zM58 228h1v1h-1zM69 228h2v1h-2zM72 228h1v1h-1zM58 229h1v1h-1zM72 229h1v1h-1zM58 230h1v1h-1zM72 230h1v1h-1zM57 231h2v1h-2zM71 231h1v1h-1zM57 232h2v1h-2zM71 232h1v1h-1zM57 233h2v1h-2zM63 233h2v1h-2zM70 233h1v1h-1zM57 234h2v1h-2zM63 234h3v1h-3zM69 234h1v1h-1zM58 235h2v1h-2zM63 235h3v1h-3zM59 236h1v1h-1zM63 236h2v1h-2zM59 237h2v1h-2zM67 237h1v1h-1zM59 238h2v1h-2zM66 238h1v1h-1zM59 239h2v1h-2zM64 239h2v1h-2zM59 240h2v1h-2zM63 240h1v1h-1zM59 241h4v1h-4zM59 242h4v1h-4zM59 243h2v1h-2z"/><path fill="#f09c7b" d="M59 3h1v1h-1zM58 5h1v1h-1zM58 6h1v1h-1zM39 8h1v1h-1zM33 10h1v1h-1zM58 10h1v1h-1zM27 11h2v1h-2zM52 11h1v1h-1zM57 11h1v1h-1zM55 12h1v1h-1zM54 13h1v1h-1zM37 15h1v1h-1zM45 15h1v1h-1zM40 16h1v1h-1zM37 17h1v1h-1zM50 17h1v1h-1zM26 18h1v1h-1zM37 18h1v1h-1zM25 19h1v1h-1zM29 20h1v1h-1zM46 20h1v1h-1zM25 21h1v1h-1zM31 27h1v1h-1zM37 29h1v1h-1zM35 32h1v1h-1zM24 36h1v1h-1zM34 36h1v1h-1zM37 36h1v1h-1zM30 40h1v1h-1zM23 43h1v1h-1zM20 47h1v1h-1zM25 49h1v1h-1zM17 50h1v1h-1zM22 54h1v1h-1zM20 60h1v1h-1zM12 63h1v1h-1zM11 66h1v1h-1zM19 66h1v1h-1zM10 69h1v1h-1zM19 69h1v1h-1zM10 73h1v1h-1zM11 75h1v1h-1zM21 76h1v1h-1zM12 77h1v1h-1zM13 78h1v1h-1zM23 79h1v1h-1zM14 80h1v1h-1zM15 84h1v1h-1zM25 84h1v1h-1zM16 88h1v1h-1zM17 91h1v1h-1zM27 91h1v1h-1zM18 93h1v1h-1zM20 95h1v1h-1zM33 96h1v1h-1zM34 97h1v1h-1zM20 98h1v1h-1zM20 99h1v1h-1zM21 100h1v1h-1zM38 100h1v1h-1zM24 101h1v1h-1zM41 102h1v1h-1zM25 104h1v1h-1zM26 105h1v1h-1zM46 106h1v1h-1zM51 108h1v1h-1zM54 109h1v1h-1zM55 110h1v1h-1zM31 111h1v1h-1zM58 112h1v1h-1zM60 113h1v1h-1zM36 114h1v1h-1zM62 114h1v1h-1zM67 115h4v1h-4zM72 116h1v1h-1zM82 116h2v1h-2zM75 117h1v1h-1zM80 117h2v1h-2zM84 117h2v1h-2zM41 118h1v1h-1zM77 118h3v1h-3zM85 118h1v1h-1zM78 119h1v1h-1zM85 119h2v1h-2zM84 120h2v1h-2zM83 121h3v1h-3zM45 122h1v1h-1zM81 122h5v1h-5zM46 123h1v1h-1zM81 123h5v1h-5zM46 124h1v1h-1zM81 124h5v1h-5zM47 125h1v1h-1zM82 125h4v1h-4zM48 126h1v1h-1zM85 126h1v1h-1zM49 127h1v1h-1zM85 127h1v1h-1zM85 128h1v1h-1zM86 129h1v1h-1zM87 130h1v1h-1zM87 131h2v1h-2zM51 132h1v1h-1zM88 132h1v1h-1zM88 133h2v1h-2zM88 134h6v1h-6zM89 135h6v1h-6zM91 136h4v1h-4zM92 137h4v1h-4zM95 138h1v1h-1zM96 139h1v1h-1zM96 140h2v1h-2zM97 141h3v1h-3zM97 142h2v1h-2zM97 143h2v1h-2zM97 144h7v1h-7zM103 145h1v1h-1zM51 146h1v1h-1zM47 147h1v1h-1zM104 147h1v1h-1zM47 148h1v1h-1zM104 148h1v1h-1zM115 148h2v1h-2zM47 149h2v1h-2zM104 149h2v1h-2zM112 149h7v1h-7zM48 150h1v1h-1zM106 150h14v1h-14zM48 151h3v1h-3zM108 151h4v1h-4zM118 151h3v1h-3zM49 152h2v1h-2zM119 152h3v1h-3zM49 153h2v1h-2zM121 153h2v1h-2zM122 154h2v1h-2zM123 155h3v1h-3zM124 156h3v1h-3zM126 157h2v1h-2zM127 158h1v1h-1zM128 159h1v1h-1zM128 160h1v1h-1zM129 161h1v1h-1zM129 162h1v1h-1zM130 163h2v1h-2zM132 164h1v1h-1zM133 165h2v1h-2zM137 165h3v1h-3zM134 166h3v1h-3zM42 196h1v1h-1zM42 197h1v1h-1zM42 198h1v1h-1zM42 199h1v1h-1zM42 200h1v1h-1zM41 201h2v1h-2zM41 202h2v1h-2zM41 203h2v1h-2zM66 203h7v1h-7zM41 204h1v1h-1zM63 204h5v1h-5zM73 204h2v1h-2zM61 205h2v1h-2zM75 205h1v1h-1zM59 206h2v1h-2zM76 206h2v1h-2zM58 207h2v1h-2zM78 207h1v1h-1zM82 207h2v1h-2zM57 208h2v1h-2zM79 208h5v1h-5zM56 209h2v1h-2zM79 209h2v1h-2zM83 209h2v1h-2zM55 210h2v1h-2zM83 210h2v1h-2zM55 211h1v1h-1zM83 211h2v1h-2zM54 212h1v1h-1zM83 212h1v1h-1zM54 213h1v1h-1zM83 213h1v1h-1zM54 214h1v1h-1zM83 214h1v1h-1zM54 215h2v1h-2zM82 215h1v1h-1zM55 216h1v1h-1zM82 216h1v1h-1zM56 217h1v1h-1zM82 217h1v1h-1zM56 218h1v1h-1zM81 218h1v1h-1zM56 219h1v1h-1zM55 220h2v1h-2zM55 221h1v1h-1zM55 222h1v1h-1zM80 222h1v1h-1zM54 223h2v1h-2zM54 224h1v1h-1zM54 225h1v1h-1zM54 226h1v1h-1zM53 227h1v1h-1zM53 228h1v1h-1zM52 229h1v1h-1zM52 230h1v1h-1zM51 231h1v1h-1zM50 232h1v1h-1zM50 233h1v1h-1zM50 235h1v1h-1zM51 236h1v1h-1zM52 237h1v1h-1zM53 238h1v1h-1zM53 239h1v1h-1zM69 239h1v1h-1zM53 240h1v1h-1zM68 240h2v1h-2zM53 241h1v1h-1zM68 241h1v1h-1zM67 242h1v1h-1zM54 243h1v1h-1zM67 243h1v1h-1zM54 244h1v1h-1zM66 244h1v1h-1zM66 245h1v1h-1zM65 246h2v1h-2zM55 247h1v1h-1zM65 247h1v1h-1zM55 248h1v1h-1zM65 248h1v1h-1zM56 249h1v1h-1zM59 249h5v1h-5z"/><path fill="#f3a481" d="M60 3h1v1h-1zM59 4h2v1h-2zM59 5h1v1h-1zM33 8h1v1h-1zM29 10h1v1h-1zM32 10h1v1h-1zM54 10h1v1h-1zM57 10h1v1h-1zM56 11h1v1h-1zM51 12h1v1h-1zM49 13h1v1h-1zM47 14h1v1h-1zM53 14h1v1h-1zM38 15h1v1h-1zM52 15h1v1h-1zM37 16h1v1h-1zM44 16h1v1h-1zM51 16h1v1h-1zM27 18h1v1h-1zM47 19h1v1h-1zM25 22h1v1h-1zM38 22h1v1h-1zM25 23h1v1h-1zM30 23h1v1h-1zM25 24h1v1h-1zM25 25h1v1h-1zM25 26h1v1h-1zM25 27h1v1h-1zM25 28h1v1h-1zM25 29h1v1h-1zM42 29h1v1h-1zM41 31h1v1h-1zM38 35h1v1h-1zM24 37h1v1h-1zM31 37h1v1h-1zM34 37h1v1h-1zM34 38h1v1h-1zM29 42h1v1h-1zM28 44h1v1h-1zM22 45h1v1h-1zM21 46h1v1h-1zM27 46h1v1h-1zM16 51h1v1h-1zM15 52h1v1h-1zM14 54h1v1h-1zM21 57h1v1h-1zM13 60h1v1h-1zM19 65h1v1h-1zM10 70h1v1h-1zM19 70h1v1h-1zM10 71h1v1h-1zM10 72h1v1h-1zM11 74h1v1h-1zM20 75h1v1h-1zM12 76h1v1h-1zM13 77h1v1h-1zM22 78h1v1h-1zM14 79h1v1h-1zM24 81h1v1h-1zM15 82h1v1h-1zM15 83h1v1h-1zM25 85h1v1h-1zM16 87h1v1h-1zM26 89h1v1h-1zM29 94h1v1h-1zM30 95h1v1h-1zM32 96h1v1h-1zM21 97h1v1h-1zM34 98h1v1h-1zM35 99h1v1h-1zM22 100h1v1h-1zM37 100h1v1h-1zM40 101h1v1h-1zM25 102h1v1h-1zM25 103h1v1h-1zM41 103h1v1h-1zM45 106h1v1h-1zM49 107h1v1h-1zM30 108h1v1h-1zM53 109h1v1h-1zM56 111h1v1h-1zM35 113h1v1h-1zM66 115h1v1h-1zM70 116h2v1h-2zM39 117h1v1h-1zM73 117h2v1h-2zM82 117h2v1h-2zM42 118h1v1h-1zM75 118h2v1h-2zM80 118h5v1h-5zM43 119h1v1h-1zM77 119h1v1h-1zM79 119h6v1h-6zM44 120h1v1h-1zM78 120h6v1h-6zM45 121h1v1h-1zM79 121h4v1h-4zM46 122h1v1h-1zM80 122h1v1h-1zM80 123h1v1h-1zM47 124h1v1h-1zM80 124h1v1h-1zM81 125h1v1h-1zM82 126h3v1h-3zM84 127h1v1h-1zM50 128h1v1h-1zM85 129h1v1h-1zM86 130h1v1h-1zM51 131h1v1h-1zM86 131h1v1h-1zM86 132h2v1h-2zM86 133h2v1h-2zM85 134h3v1h-3zM86 135h3v1h-3zM88 136h3v1h-3zM89 137h3v1h-3zM90 138h5v1h-5zM91 139h5v1h-5zM52 140h1v1h-1zM93 140h3v1h-3zM52 141h1v1h-1zM95 141h2v1h-2zM52 142h1v1h-1zM96 142h1v1h-1zM52 143h1v1h-1zM96 143h1v1h-1zM52 144h1v1h-1zM97 145h6v1h-6zM103 146h1v1h-1zM51 147h1v1h-1zM103 147h1v1h-1zM51 148h1v1h-1zM103 148h1v1h-1zM103 149h1v1h-1zM47 150h1v1h-1zM103 150h3v1h-3zM47 151h1v1h-1zM106 151h2v1h-2zM112 151h6v1h-6zM47 152h2v1h-2zM108 152h11v1h-11zM47 153h2v1h-2zM110 153h11v1h-11zM47 154h4v1h-4zM120 154h2v1h-2zM47 155h2v1h-2zM121 155h2v1h-2zM47 156h2v1h-2zM122 156h2v1h-2zM47 157h2v1h-2zM123 157h3v1h-3zM47 158h2v1h-2zM124 158h3v1h-3zM46 159h3v1h-3zM126 159h2v1h-2zM46 160h3v1h-3zM127 160h1v1h-1zM45 161h4v1h-4zM127 161h2v1h-2zM45 162h4v1h-4zM128 162h1v1h-1zM45 163h3v1h-3zM129 163h1v1h-1zM46 164h1v1h-1zM130 164h2v1h-2zM131 165h2v1h-2zM133 166h1v1h-1zM137 166h3v1h-3zM134 167h5v1h-5zM44 187h1v1h-1zM44 188h1v1h-1zM43 190h1v1h-1zM43 191h1v1h-1zM42 193h1v1h-1zM42 194h1v1h-1zM41 195h2v1h-2zM41 196h1v1h-1zM43 196h1v1h-1zM41 197h1v1h-1zM43 197h1v1h-1zM41 198h1v1h-1zM43 198h1v1h-1zM41 199h1v1h-1zM43 199h1v1h-1zM41 200h1v1h-1zM43 200h1v1h-1zM40 202h1v1h-1zM66 202h7v1h-7zM40 203h1v1h-1zM62 203h4v1h-4zM73 203h2v1h-2zM42 204h1v1h-1zM60 204h3v1h-3zM75 204h1v1h-1zM41 205h2v1h-2zM59 205h2v1h-2zM76 205h2v1h-2zM58 206h1v1h-1zM78 206h1v1h-1zM82 206h3v1h-3zM56 207h2v1h-2zM79 207h3v1h-3zM84 207h2v1h-2zM55 208h2v1h-2zM84 208h2v1h-2zM54 209h2v1h-2zM85 209h1v1h-1zM54 210h1v1h-1zM85 210h1v1h-1zM53 211h2v1h-2zM85 211h1v1h-1zM53 212h1v1h-1zM84 212h1v1h-1zM53 213h1v1h-1zM84 213h1v1h-1zM53 214h1v1h-1zM84 214h1v1h-1zM53 215h1v1h-1zM83 215h2v1h-2zM54 216h1v1h-1zM83 216h1v1h-1zM55 217h1v1h-1zM55 218h1v1h-1zM55 219h1v1h-1zM54 220h1v1h-1zM54 221h1v1h-1zM54 222h1v1h-1zM53 223h1v1h-1zM53 224h1v1h-1zM53 225h1v1h-1zM53 226h1v1h-1zM52 228h1v1h-1zM51 230h1v1h-1zM50 231h1v1h-1zM49 233h1v1h-1zM49 234h1v1h-1zM49 235h1v1h-1zM50 236h1v1h-1zM51 237h1v1h-1zM52 238h1v1h-1zM52 239h1v1h-1zM52 240h1v1h-1zM70 240h1v1h-1zM52 241h1v1h-1zM69 241h1v1h-1zM53 242h1v1h-1zM68 242h1v1h-1zM53 243h1v1h-1zM68 243h1v1h-1zM67 244h2v1h-2zM54 245h1v1h-1zM67 245h1v1h-1zM54 246h1v1h-1zM67 246h1v1h-1zM66 247h1v1h-1zM55 249h1v1h-1zM56 250h8v1h-8z"/><path fill="#f8f1ed" d="M33 4h3v1h-3zM33 5h3v1h-3zM34 6h2v1h-2zM41 24h2v1h-2zM16 55h1v1h-1zM19 55h1v1h-1zM17 63h1v1h-1zM15 68h2v1h-2zM19 81h1v1h-1zM19 89h1v1h-1zM24 91h1v1h-1zM21 93h1v1h-1zM23 96h1v1h-1zM25 96h1v1h-1zM27 97h1v1h-1zM27 99h1v1h-1zM29 99h1v1h-1zM31 101h1v1h-1zM33 102h1v1h-1zM37 104h1v1h-1zM38 105h1v1h-1zM31 107h1v1h-1zM48 110h1v1h-1zM50 111h1v1h-1zM36 112h1v1h-1zM38 113h1v1h-1zM58 116h1v1h-1zM45 118h1v1h-1zM61 118h1v1h-1zM50 121h1v1h-1zM64 121h1v1h-1zM50 122h1v1h-1zM66 122h1v1h-1zM50 123h1v1h-1zM68 123h1v1h-1zM69 125h1v1h-1zM70 126h1v1h-1zM72 129h1v1h-1zM73 130h1v1h-1zM53 131h1v1h-1zM72 132h1v1h-1zM54 134h1v1h-1zM71 134h1v1h-1zM54 135h1v1h-1zM71 135h1v1h-1zM55 139h1v1h-1zM70 139h1v1h-1zM70 140h1v1h-1zM70 141h1v1h-1zM70 142h1v1h-1zM55 146h1v1h-1zM70 152h1v1h-1zM70 153h1v1h-1zM70 154h1v1h-1zM52 155h1v1h-1zM70 155h1v1h-1zM70 156h1v1h-1zM69 158h1v1h-1zM52 159h1v1h-1zM69 159h1v1h-1zM68 161h1v1h-1zM67 163h1v1h-1zM49 165h1v1h-1zM66 165h1v1h-1zM65 167h1v1h-1zM64 168h1v1h-1zM63 170h1v1h-1zM61 173h1v1h-1zM60 174h1v1h-1zM59 175h1v1h-1zM58 176h1v1h-1zM57 178h1v1h-1zM56 180h1v1h-1zM47 182h1v1h-1zM55 184h1v1h-1zM47 190h1v1h-1zM53 194h1v1h-1zM49 199h1v1h-1zM48 202h1v1h-1zM47 203h1v1h-1zM33 219h1v1h-1zM37 220h1v1h-1zM34 221h1v1h-1zM36 221h2v1h-2zM34 222h4v1h-4zM36 223h2v1h-2zM36 224h2v1h-2zM37 225h1v1h-1zM37 226h1v1h-1zM37 227h2v1h-2zM38 228h1v1h-1zM40 229h1v1h-1zM41 230h1v1h-1zM41 236h1v1h-1zM41 237h1v1h-1zM41 238h1v1h-1zM42 239h1v1h-1zM43 240h1v1h-1zM44 242h1v1h-1zM44 243h1v1h-1zM43 248h1v1h-1zM43 249h1v1h-1zM43 250h1v1h-1zM43 251h1v1h-1zM43 252h1v1h-1zM43 253h1v1h-1zM44 254h1v1h-1zM44 255h1v1h-1zM45 256h1v1h-1zM46 257h1v1h-1zM47 258h5v1h-5zM53 259h2v1h-2zM57 260h2v1h-2zM60 261h1v1h-1z"/><path fill="#fae7dc" d="M36 4h1v1h-1zM35 7h1v1h-1zM39 29h2v1h-2zM28 34h2v1h-2zM28 35h2v1h-2zM28 36h1v1h-1zM28 37h1v1h-1zM20 54h1v1h-1zM19 57h1v1h-1zM15 59h1v1h-1zM17 66h1v1h-1zM15 70h1v1h-1zM16 72h1v1h-1zM16 73h1v1h-1zM18 78h1v1h-1zM18 79h2v1h-2zM18 80h1v1h-1zM23 84h1v1h-1zM18 87h1v1h-1zM24 89h1v1h-1zM19 91h1v1h-1zM25 93h1v1h-1zM22 95h1v1h-1zM24 99h2v1h-2zM30 99h1v1h-1zM31 100h1v1h-1zM27 101h1v1h-1zM27 102h1v1h-1zM34 102h1v1h-1zM39 105h1v1h-1zM40 106h1v1h-1zM43 108h1v1h-1zM47 109h1v1h-1zM34 111h1v1h-1zM41 115h1v1h-1zM59 116h1v1h-1zM61 117h1v1h-1zM48 120h1v1h-1zM65 120h1v1h-1zM70 124h1v1h-1zM51 126h1v1h-1zM71 126h1v1h-1zM72 127h1v1h-1zM73 128h1v1h-1zM74 129h1v1h-1zM53 132h1v1h-1zM74 132h1v1h-1zM73 134h1v1h-1zM72 137h1v1h-1zM72 138h1v1h-1zM72 139h1v1h-1zM55 141h1v1h-1zM55 142h1v1h-1zM71 142h1v1h-1zM71 143h1v1h-1zM71 144h1v1h-1zM71 145h1v1h-1zM71 146h1v1h-1zM71 147h1v1h-1zM71 148h1v1h-1zM53 149h1v1h-1zM71 149h1v1h-1zM71 150h1v1h-1zM71 151h1v1h-1zM71 152h1v1h-1zM52 153h1v1h-1zM71 153h1v1h-1zM71 156h1v1h-1zM70 159h1v1h-1zM69 162h1v1h-1zM68 164h1v1h-1zM67 166h1v1h-1zM49 169h1v1h-1zM65 169h1v1h-1zM49 170h1v1h-1zM63 172h1v1h-1zM72 173h3v1h-3zM48 174h1v1h-1zM62 174h1v1h-1zM71 174h5v1h-5zM61 175h1v1h-1zM71 175h2v1h-2zM75 175h1v1h-1zM60 176h1v1h-1zM71 176h1v1h-1zM75 176h1v1h-1zM59 177h1v1h-1zM71 177h5v1h-5zM72 178h4v1h-4zM58 179h1v1h-1zM57 180h1v1h-1zM47 181h1v1h-1zM56 183h1v1h-1zM55 186h1v1h-1zM47 188h1v1h-1zM46 191h1v1h-1zM46 195h1v1h-1zM54 195h1v1h-1zM46 196h1v1h-1zM46 197h1v1h-1zM51 199h1v1h-1zM50 200h1v1h-1zM49 203h1v1h-1zM47 205h2v1h-2zM34 212h1v1h-1zM34 213h1v1h-1zM34 214h1v1h-1zM35 216h1v1h-1zM35 217h2v1h-2zM40 217h1v1h-1zM41 218h2v1h-2zM41 219h2v1h-2zM41 220h1v1h-1zM41 221h1v1h-1zM41 222h1v1h-1zM40 223h2v1h-2zM40 224h2v1h-2zM40 225h2v1h-2zM41 226h1v1h-1zM41 227h1v1h-1zM42 228h1v1h-1zM43 230h1v1h-1zM43 238h1v1h-1zM45 251h1v1h-1zM45 252h1v1h-1zM46 253h1v1h-1zM47 254h1v1h-1zM48 255h1v1h-1zM49 256h2v1h-2zM56 256h1v1h-1zM52 257h2v1h-2zM56 257h2v1h-2zM58 258h1v1h-1z"/><path fill="#fbceb7" d="M37 4h1v1h-1zM35 8h1v1h-1zM37 8h1v1h-1zM47 16h2v1h-2zM46 17h2v1h-2zM39 18h1v1h-1zM41 18h1v1h-1zM45 18h1v1h-1zM44 19h1v1h-1zM39 20h1v1h-1zM27 21h1v1h-1zM43 21h1v1h-1zM43 22h1v1h-1zM39 24h1v1h-1zM26 27h1v1h-1zM30 28h1v1h-1zM26 29h1v1h-1zM38 29h1v1h-1zM41 29h1v1h-1zM29 30h1v1h-1zM37 31h1v1h-1zM36 33h1v1h-1zM38 33h1v1h-1zM36 35h1v1h-1zM30 37h1v1h-1zM25 38h1v1h-1zM25 39h1v1h-1zM25 40h1v1h-1zM25 41h1v1h-1zM25 42h1v1h-1zM27 44h1v1h-1zM23 46h1v1h-1zM22 47h1v1h-1zM18 51h1v1h-1zM19 59h1v1h-1zM18 64h1v1h-1zM12 67h1v1h-1zM12 70h1v1h-1zM13 71h1v1h-1zM18 71h1v1h-1zM18 72h1v1h-1zM18 73h1v1h-1zM14 74h1v1h-1zM18 74h1v1h-1zM15 76h1v1h-1zM19 76h1v1h-1zM20 78h1v1h-1zM16 79h1v1h-1zM23 82h1v1h-1zM24 85h1v1h-1zM18 90h1v1h-1zM26 92h1v1h-1zM29 96h1v1h-1zM30 97h1v1h-1zM22 98h1v1h-1zM31 98h1v1h-1zM35 101h1v1h-1zM38 102h1v1h-1zM48 108h1v1h-1zM57 113h1v1h-1zM38 114h1v1h-1zM58 114h1v1h-1zM60 115h1v1h-1zM62 116h1v1h-1zM65 117h1v1h-1zM67 118h1v1h-1zM69 119h1v1h-1zM70 120h1v1h-1zM72 123h1v1h-1zM74 123h1v1h-1zM73 124h3v1h-3zM76 125h1v1h-1zM50 126h1v1h-1zM77 127h1v1h-1zM78 128h1v1h-1zM79 130h1v1h-1zM52 131h1v1h-1zM78 132h1v1h-1zM77 133h1v1h-1zM77 134h1v1h-1zM76 135h2v1h-2zM76 136h2v1h-2zM76 137h2v1h-2zM53 138h1v1h-1zM76 138h3v1h-3zM76 139h4v1h-4zM76 140h4v1h-4zM77 141h4v1h-4zM77 142h5v1h-5zM78 143h4v1h-4zM78 144h5v1h-5zM79 145h5v1h-5zM79 146h6v1h-6zM79 147h7v1h-7zM79 148h8v1h-8zM52 149h1v1h-1zM79 149h8v1h-8zM79 150h9v1h-9zM80 151h9v1h-9zM81 152h9v1h-9zM82 153h9v1h-9zM83 154h10v1h-10zM51 155h1v1h-1zM84 155h10v1h-10zM83 156h2v1h-2zM89 156h7v1h-7zM82 157h3v1h-3zM93 157h4v1h-4zM81 158h5v1h-5zM94 158h5v1h-5zM80 159h6v1h-6zM96 159h4v1h-4zM79 160h8v1h-8zM96 160h5v1h-5zM79 161h8v1h-8zM96 161h5v1h-5zM50 162h1v1h-1zM78 162h10v1h-10zM96 162h5v1h-5zM78 163h10v1h-10zM95 163h6v1h-6zM78 164h10v1h-10zM95 164h6v1h-6zM78 165h10v1h-10zM95 165h6v1h-6zM81 166h7v1h-7zM95 166h6v1h-6zM82 167h6v1h-6zM95 167h7v1h-7zM48 168h1v1h-1zM83 168h5v1h-5zM95 168h7v1h-7zM83 169h5v1h-5zM95 169h7v1h-7zM83 170h5v1h-5zM96 170h6v1h-6zM83 171h5v1h-5zM96 171h7v1h-7zM83 172h5v1h-5zM96 172h7v1h-7zM83 173h5v1h-5zM97 173h6v1h-6zM112 173h2v1h-2zM83 174h5v1h-5zM97 174h7v1h-7zM108 174h8v1h-8zM121 174h4v1h-4zM83 175h4v1h-4zM98 175h28v1h-28zM83 176h4v1h-4zM99 176h27v1h-27zM83 177h3v1h-3zM99 177h28v1h-28zM83 178h3v1h-3zM100 178h27v1h-27zM83 179h3v1h-3zM101 179h10v1h-10zM116 179h7v1h-7zM125 179h2v1h-2zM83 180h3v1h-3zM102 180h5v1h-5zM118 180h4v1h-4zM126 180h1v1h-1zM83 181h3v1h-3zM103 181h1v1h-1zM83 182h3v1h-3zM64 183h2v1h-2zM83 183h3v1h-3zM63 184h4v1h-4zM83 184h3v1h-3zM62 185h25v1h-25zM46 186h1v1h-1zM62 186h26v1h-26zM62 187h5v1h-5zM84 187h4v1h-4zM46 188h1v1h-1zM61 188h5v1h-5zM84 188h4v1h-4zM61 189h5v1h-5zM84 189h4v1h-4zM61 190h4v1h-4zM84 190h4v1h-4zM61 191h4v1h-4zM84 191h4v1h-4zM61 192h4v1h-4zM84 192h4v1h-4zM61 193h3v1h-3zM84 193h4v1h-4zM61 194h3v1h-3zM84 194h4v1h-4zM60 195h4v1h-4zM84 195h4v1h-4zM59 196h4v1h-4zM84 196h4v1h-4zM45 197h1v1h-1zM58 197h3v1h-3zM86 197h3v1h-3zM56 198h2v1h-2zM87 198h4v1h-4zM55 199h1v1h-1zM89 199h8v1h-8zM54 200h1v1h-1zM92 200h7v1h-7zM96 201h3v1h-3zM36 202h1v1h-1zM53 202h1v1h-1zM97 202h2v1h-2zM36 203h1v1h-1zM44 203h1v1h-1zM52 203h1v1h-1zM97 203h1v1h-1zM36 204h1v1h-1zM44 204h1v1h-1zM96 204h2v1h-2zM51 205h1v1h-1zM96 205h1v1h-1zM95 206h2v1h-2zM37 207h1v1h-1zM45 207h1v1h-1zM95 207h1v1h-1zM37 208h1v1h-1zM45 208h1v1h-1zM49 208h1v1h-1zM94 208h2v1h-2zM37 209h1v1h-1zM49 209h1v1h-1zM94 209h1v1h-1zM48 212h1v1h-1zM44 213h1v1h-1zM48 213h1v1h-1zM38 214h1v1h-1zM44 214h1v1h-1zM48 214h1v1h-1zM40 215h2v1h-2zM43 215h1v1h-1zM48 215h1v1h-1zM48 216h1v1h-1zM48 217h1v1h-1zM48 218h1v1h-1zM48 219h1v1h-1zM48 220h1v1h-1zM48 221h1v1h-1zM48 222h1v1h-1zM47 224h1v1h-1zM47 225h1v1h-1zM47 226h1v1h-1zM47 227h1v1h-1zM46 229h1v1h-1zM46 230h1v1h-1zM46 233h1v1h-1zM46 234h1v1h-1zM46 235h1v1h-1zM46 236h1v1h-1zM46 237h1v1h-1zM46 238h1v1h-1zM47 241h1v1h-1zM47 242h1v1h-1zM47 243h1v1h-1zM48 244h1v1h-1zM48 245h1v1h-1zM48 246h2v1h-2zM49 247h1v1h-1zM49 248h1v1h-1zM49 249h1v1h-1zM50 251h1v1h-1zM51 252h1v1h-1zM53 253h1v1h-1zM54 254h1v1h-1zM58 254h1v1h-1z"/><path fill="#e58368" d="M38 4h1v1h-1zM58 4h1v1h-1zM59 9h1v1h-1zM38 10h1v1h-1zM61 10h2v1h-2zM30 11h1v1h-1zM51 11h1v1h-1zM59 11h2v1h-2zM26 12h1v1h-1zM57 12h1v1h-1zM20 13h1v1h-1zM55 13h1v1h-1zM37 14h1v1h-1zM45 14h1v1h-1zM54 14h1v1h-1zM53 15h1v1h-1zM42 16h1v1h-1zM52 16h1v1h-1zM47 20h1v1h-1zM37 21h1v1h-1zM45 22h1v1h-1zM37 23h1v1h-1zM45 23h1v1h-1zM31 24h1v1h-1zM37 24h1v1h-1zM43 28h1v1h-1zM36 30h1v1h-1zM41 32h1v1h-1zM24 33h1v1h-1zM32 33h1v1h-1zM34 33h1v1h-1zM32 36h1v1h-1zM33 37h1v1h-1zM35 38h1v1h-1zM30 41h1v1h-1zM29 43h1v1h-1zM20 46h1v1h-1zM27 47h1v1h-1zM16 50h1v1h-1zM14 51h1v1h-1zM13 53h1v1h-1zM13 54h1v1h-1zM13 55h1v1h-1zM13 56h1v1h-1zM22 57h1v1h-1zM22 58h1v1h-1zM12 60h1v1h-1zM21 60h1v1h-1zM12 61h1v1h-1zM21 61h1v1h-1zM11 63h1v1h-1zM11 64h1v1h-1zM20 64h1v1h-1zM20 65h1v1h-1zM10 67h1v1h-1zM9 70h1v1h-1zM20 71h1v1h-1zM9 74h1v1h-1zM9 75h1v1h-1zM10 76h1v1h-1zM22 76h1v1h-1zM10 77h1v1h-1zM23 77h1v1h-1zM11 78h1v1h-1zM24 78h1v1h-1zM11 79h1v1h-1zM25 79h1v1h-1zM12 80h1v1h-1zM25 80h1v1h-1zM13 82h1v1h-1zM14 84h1v1h-1zM14 85h1v1h-1zM14 86h1v1h-1zM14 87h1v1h-1zM26 87h1v1h-1zM15 89h1v1h-1zM164 92h2v1h-2zM163 93h3v1h-3zM163 94h1v1h-1zM166 94h1v1h-1zM34 95h1v1h-1zM162 95h1v1h-1zM167 95h1v1h-1zM162 96h1v1h-1zM168 96h1v1h-1zM35 97h1v1h-1zM162 97h1v1h-1zM169 97h1v1h-1zM162 98h1v1h-1zM169 98h2v1h-2zM37 99h1v1h-1zM162 99h1v1h-1zM170 99h2v1h-2zM162 100h1v1h-1zM170 100h1v1h-1zM162 101h1v1h-1zM170 101h1v1h-1zM163 102h1v1h-1zM170 102h1v1h-1zM42 103h1v1h-1zM163 103h1v1h-1zM170 103h1v1h-1zM43 104h1v1h-1zM164 104h1v1h-1zM169 104h1v1h-1zM45 105h1v1h-1zM164 105h1v1h-1zM169 105h1v1h-1zM165 106h1v1h-1zM168 106h1v1h-1zM25 107h3v1h-3zM51 107h1v1h-1zM166 107h2v1h-2zM25 108h2v1h-2zM54 108h1v1h-1zM25 109h2v1h-2zM26 110h1v1h-1zM30 111h1v1h-1zM58 111h1v1h-1zM82 111h2v1h-2zM30 112h2v1h-2zM60 112h1v1h-1zM82 112h3v1h-3zM34 113h1v1h-1zM62 113h1v1h-1zM64 113h1v1h-1zM81 113h1v1h-1zM84 113h1v1h-1zM35 114h1v1h-1zM72 114h1v1h-1zM81 114h1v1h-1zM85 114h1v1h-1zM36 115h1v1h-1zM74 115h1v1h-1zM80 115h1v1h-1zM86 115h1v1h-1zM32 116h6v1h-6zM77 116h2v1h-2zM87 116h2v1h-2zM33 117h4v1h-4zM89 117h1v1h-1zM34 118h3v1h-3zM89 118h2v1h-2zM36 119h1v1h-1zM89 119h3v1h-3zM91 120h3v1h-3zM88 121h1v1h-1zM92 121h3v1h-3zM88 122h1v1h-1zM93 122h2v1h-2zM94 123h2v1h-2zM94 124h2v1h-2zM87 125h1v1h-1zM94 125h2v1h-2zM87 126h1v1h-1zM88 127h1v1h-1zM93 127h1v1h-1zM96 127h1v1h-1zM88 128h1v1h-1zM93 128h1v1h-1zM97 128h3v1h-3zM89 129h1v1h-1zM92 129h1v1h-1zM100 129h3v1h-3zM90 130h2v1h-2zM99 130h4v1h-4zM97 131h6v1h-6zM50 132h1v1h-1zM97 132h2v1h-2zM50 133h1v1h-1zM97 133h1v1h-1zM50 134h1v1h-1zM97 134h1v1h-1zM48 135h1v1h-1zM50 135h1v1h-1zM97 135h1v1h-1zM48 136h3v1h-3zM97 136h2v1h-2zM48 137h3v1h-3zM98 137h3v1h-3zM48 138h3v1h-3zM100 138h4v1h-4zM49 139h2v1h-2zM102 139h3v1h-3zM50 140h1v1h-1zM103 140h3v1h-3zM50 141h1v1h-1zM105 141h2v1h-2zM50 142h1v1h-1zM106 142h3v1h-3zM48 143h1v1h-1zM50 143h1v1h-1zM106 143h5v1h-5zM48 144h1v1h-1zM50 144h1v1h-1zM107 144h8v1h-8zM49 145h2v1h-2zM115 145h2v1h-2zM49 146h1v1h-1zM118 146h1v1h-1zM120 147h1v1h-1zM121 148h2v1h-2zM122 149h6v1h-6zM123 150h6v1h-6zM127 151h3v1h-3zM128 152h3v1h-3zM129 153h2v1h-2zM130 154h1v1h-1zM130 155h1v1h-1zM130 156h1v1h-1zM130 157h2v1h-2zM131 158h1v1h-1zM131 159h1v1h-1zM131 160h1v1h-1zM132 161h2v1h-2zM137 161h3v1h-3zM133 162h7v1h-7zM71 206h2v1h-2zM64 207h11v1h-11zM63 208h2v1h-2zM74 208h2v1h-2zM62 209h2v1h-2zM75 209h1v1h-1zM62 210h1v1h-1zM76 210h1v1h-1zM61 211h2v1h-2zM76 211h2v1h-2zM61 212h2v1h-2zM77 212h2v1h-2zM61 213h1v1h-1zM78 213h2v1h-2zM60 214h2v1h-2zM79 214h1v1h-1zM60 215h2v1h-2zM79 215h1v1h-1zM60 216h1v1h-1zM79 216h1v1h-1zM60 217h1v1h-1zM78 217h1v1h-1zM59 218h2v1h-2zM78 218h1v1h-1zM59 219h2v1h-2zM78 219h1v1h-1zM59 220h1v1h-1zM77 220h1v1h-1zM58 221h1v1h-1zM77 221h1v1h-1zM58 222h1v1h-1zM77 222h1v1h-1zM58 223h1v1h-1zM76 223h1v1h-1zM57 224h1v1h-1zM76 224h1v1h-1zM57 225h1v1h-1zM76 225h1v1h-1zM75 226h1v1h-1zM56 227h1v1h-1zM56 228h1v1h-1zM56 229h1v1h-1zM55 230h2v1h-2zM54 231h2v1h-2zM54 232h1v1h-1zM53 233h2v1h-2zM53 234h2v1h-2zM54 235h2v1h-2zM55 236h2v1h-2zM56 237h1v1h-1zM56 238h2v1h-2zM56 239h2v1h-2zM57 240h1v1h-1zM65 240h1v1h-1zM57 241h1v1h-1zM64 241h1v1h-1zM57 242h1v1h-1zM64 242h1v1h-1zM57 243h1v1h-1zM64 243h1v1h-1zM57 244h1v1h-1zM63 244h1v1h-1zM57 245h1v1h-1zM60 245h4v1h-4zM57 246h1v1h-1zM59 246h2v1h-2zM57 247h2v1h-2z"/><path fill="#e98b6e" d="M31 5h1v1h-1zM57 6h1v1h-1zM39 9h1v1h-1zM54 9h1v1h-1zM58 9h1v1h-1zM35 10h2v1h-2zM60 10h1v1h-1zM58 11h1v1h-1zM56 12h1v1h-1zM38 14h1v1h-1zM39 15h1v1h-1zM44 15h1v1h-1zM41 16h1v1h-1zM25 18h1v1h-1zM29 19h1v1h-1zM48 19h1v1h-1zM37 20h1v1h-1zM30 21h1v1h-1zM31 25h1v1h-1zM44 26h1v1h-1zM42 30h1v1h-1zM40 33h1v1h-1zM24 34h1v1h-1zM32 34h1v1h-1zM32 35h1v1h-1zM36 37h1v1h-1zM33 38h1v1h-1zM23 40h1v1h-1zM23 41h1v1h-1zM23 42h1v1h-1zM22 44h1v1h-1zM21 45h1v1h-1zM28 45h1v1h-1zM15 51h1v1h-1zM24 51h1v1h-1zM14 52h1v1h-1zM22 55h1v1h-1zM22 56h1v1h-1zM13 57h1v1h-1zM13 58h1v1h-1zM21 59h1v1h-1zM20 62h1v1h-1zM20 63h1v1h-1zM9 71h1v1h-1zM9 72h1v1h-1zM20 72h1v1h-1zM9 73h1v1h-1zM20 73h1v1h-1zM10 75h1v1h-1zM21 75h1v1h-1zM11 77h1v1h-1zM12 79h1v1h-1zM24 79h1v1h-1zM13 80h1v1h-1zM13 81h1v1h-1zM25 81h1v1h-1zM14 82h1v1h-1zM25 82h1v1h-1zM14 83h1v1h-1zM15 86h1v1h-1zM15 87h1v1h-1zM15 88h1v1h-1zM15 90h2v1h-2zM27 90h1v1h-1zM16 91h1v1h-1zM16 92h1v1h-1zM28 92h1v1h-1zM29 93h1v1h-1zM17 94h2v1h-2zM30 94h1v1h-1zM164 94h2v1h-2zM32 95h2v1h-2zM163 95h4v1h-4zM34 96h1v1h-1zM163 96h5v1h-5zM163 97h1v1h-1zM166 97h3v1h-3zM35 98h1v1h-1zM163 98h1v1h-1zM167 98h2v1h-2zM163 99h1v1h-1zM167 99h3v1h-3zM40 100h1v1h-1zM163 100h1v1h-1zM168 100h2v1h-2zM41 101h1v1h-1zM163 101h1v1h-1zM168 101h2v1h-2zM23 102h1v1h-1zM164 102h1v1h-1zM168 102h2v1h-2zM23 103h2v1h-2zM164 103h1v1h-1zM168 103h2v1h-2zM23 104h2v1h-2zM165 104h1v1h-1zM168 104h1v1h-1zM24 105h2v1h-2zM44 105h1v1h-1zM165 105h4v1h-4zM24 106h3v1h-3zM48 106h1v1h-1zM166 106h2v1h-2zM24 107h1v1h-1zM28 107h1v1h-1zM50 107h1v1h-1zM24 108h1v1h-1zM53 108h1v1h-1zM55 109h1v1h-1zM56 110h1v1h-1zM32 112h1v1h-1zM59 112h1v1h-1zM61 113h1v1h-1zM82 113h2v1h-2zM66 114h6v1h-6zM82 114h1v1h-1zM84 114h1v1h-1zM72 115h2v1h-2zM81 115h1v1h-1zM85 115h1v1h-1zM75 116h2v1h-2zM79 116h2v1h-2zM86 116h1v1h-1zM37 117h1v1h-1zM87 117h2v1h-2zM37 118h2v1h-2zM88 118h1v1h-1zM37 119h5v1h-5zM88 119h1v1h-1zM38 120h5v1h-5zM88 120h1v1h-1zM40 121h2v1h-2zM87 122h1v1h-1zM87 123h1v1h-1zM87 124h1v1h-1zM94 126h2v1h-2zM87 127h1v1h-1zM94 127h2v1h-2zM48 128h1v1h-1zM87 128h1v1h-1zM94 128h1v1h-1zM96 128h1v1h-1zM48 129h2v1h-2zM88 129h1v1h-1zM93 129h1v1h-1zM97 129h3v1h-3zM48 130h3v1h-3zM89 130h1v1h-1zM92 130h1v1h-1zM96 130h3v1h-3zM48 131h3v1h-3zM90 131h2v1h-2zM96 131h1v1h-1zM48 132h2v1h-2zM96 132h1v1h-1zM48 133h2v1h-2zM96 133h1v1h-1zM48 134h2v1h-2zM51 134h1v1h-1zM96 134h1v1h-1zM49 135h1v1h-1zM51 135h1v1h-1zM96 135h1v1h-1zM96 136h1v1h-1zM97 137h1v1h-1zM98 138h2v1h-2zM99 139h3v1h-3zM51 140h1v1h-1zM101 140h2v1h-2zM51 141h1v1h-1zM102 141h3v1h-3zM51 142h1v1h-1zM103 142h3v1h-3zM47 143h1v1h-1zM104 143h2v1h-2zM47 144h1v1h-1zM105 144h2v1h-2zM48 145h1v1h-1zM105 145h10v1h-10zM48 146h1v1h-1zM50 146h1v1h-1zM105 146h13v1h-13zM49 147h2v1h-2zM105 147h6v1h-6zM118 147h2v1h-2zM49 148h1v1h-1zM106 148h3v1h-3zM120 148h1v1h-1zM121 149h1v1h-1zM122 150h1v1h-1zM123 151h4v1h-4zM124 152h4v1h-4zM126 153h3v1h-3zM128 154h2v1h-2zM129 155h1v1h-1zM129 156h1v1h-1zM129 157h1v1h-1zM130 158h1v1h-1zM130 159h1v1h-1zM130 160h1v1h-1zM131 161h1v1h-1zM132 162h1v1h-1zM140 162h1v1h-1zM133 163h7v1h-7zM69 205h4v1h-4zM63 206h8v1h-8zM73 206h2v1h-2zM62 207h2v1h-2zM75 207h1v1h-1zM61 208h2v1h-2zM76 208h1v1h-1zM60 209h2v1h-2zM76 209h2v1h-2zM59 210h3v1h-3zM77 210h2v1h-2zM59 211h2v1h-2zM78 211h4v1h-4zM58 212h3v1h-3zM79 212h3v1h-3zM58 213h3v1h-3zM80 213h2v1h-2zM57 214h3v1h-3zM80 214h2v1h-2zM57 215h3v1h-3zM80 215h1v1h-1zM58 216h2v1h-2zM80 216h1v1h-1zM58 217h2v1h-2zM79 217h2v1h-2zM58 218h1v1h-1zM79 218h1v1h-1zM58 219h1v1h-1zM79 219h1v1h-1zM58 220h1v1h-1zM78 220h1v1h-1zM57 221h1v1h-1zM78 221h1v1h-1zM57 222h1v1h-1zM78 222h1v1h-1zM57 223h1v1h-1zM77 223h2v1h-2zM56 224h1v1h-1zM77 224h1v1h-1zM56 225h1v1h-1zM77 225h1v1h-1zM56 226h1v1h-1zM55 227h1v1h-1zM55 228h1v1h-1zM54 229h2v1h-2zM54 230h1v1h-1zM53 231h1v1h-1zM52 232h2v1h-2zM51 233h2v1h-2zM51 234h2v1h-2zM52 235h2v1h-2zM53 236h2v1h-2zM54 237h2v1h-2zM55 238h1v1h-1zM68 238h1v1h-1zM55 239h1v1h-1zM67 239h1v1h-1zM55 240h2v1h-2zM66 240h1v1h-1zM55 241h2v1h-2zM65 241h1v1h-1zM55 242h2v1h-2zM65 242h1v1h-1zM55 243h2v1h-2zM65 243h1v1h-1zM56 244h1v1h-1zM64 244h1v1h-1zM56 245h1v1h-1zM64 245h1v1h-1zM56 246h1v1h-1zM61 246h3v1h-3zM56 247h1v1h-1zM59 247h5v1h-5zM57 248h2v1h-2z"/><path fill="#fdddcb" d="M32 5h1v1h-1zM37 6h1v1h-1zM40 19h2v1h-2zM40 21h1v1h-1zM40 22h1v1h-1zM27 28h3v1h-3zM38 30h1v1h-1zM40 30h1v1h-1zM39 31h1v1h-1zM30 32h1v1h-1zM26 34h1v1h-1zM26 35h1v1h-1zM30 35h1v1h-1zM26 36h1v1h-1zM26 37h1v1h-1zM26 38h1v1h-1zM29 38h1v1h-1zM26 39h1v1h-1zM25 44h2v1h-2zM24 46h2v1h-2zM23 47h1v1h-1zM22 48h1v1h-1zM19 51h1v1h-1zM16 53h1v1h-1zM20 55h1v1h-1zM15 56h1v1h-1zM19 58h1v1h-1zM14 62h1v1h-1zM18 62h1v1h-1zM13 65h1v1h-1zM13 69h1v1h-1zM14 71h1v1h-1zM15 74h1v1h-1zM20 79h1v1h-1zM17 80h1v1h-1zM17 81h1v1h-1zM17 82h1v1h-1zM17 83h1v1h-1zM23 83h1v1h-1zM17 84h1v1h-1zM25 91h1v1h-1zM21 94h1v1h-1zM23 99h1v1h-1zM31 99h1v1h-1zM34 101h1v1h-1zM38 103h1v1h-1zM39 104h1v1h-1zM28 105h1v1h-1zM42 107h1v1h-1zM45 108h1v1h-1zM44 118h1v1h-1zM64 118h1v1h-1zM66 119h1v1h-1zM68 120h1v1h-1zM70 122h1v1h-1zM71 124h1v1h-1zM74 127h1v1h-1zM75 128h1v1h-1zM76 129h1v1h-1zM76 131h1v1h-1zM53 133h1v1h-1zM75 133h1v1h-1zM74 136h1v1h-1zM74 137h1v1h-1zM73 140h1v1h-1zM73 141h1v1h-1zM73 142h1v1h-1zM73 143h1v1h-1zM54 145h1v1h-1zM53 147h1v1h-1zM52 151h1v1h-1zM72 157h1v1h-1zM51 158h1v1h-1zM51 159h1v1h-1zM71 160h1v1h-1zM70 163h1v1h-1zM69 165h1v1h-1zM48 166h1v1h-1zM69 166h1v1h-1zM68 167h1v1h-1zM67 168h1v1h-1zM70 168h5v1h-5zM67 169h1v1h-1zM69 169h10v1h-10zM66 170h1v1h-1zM69 170h2v1h-2zM77 170h3v1h-3zM65 171h1v1h-1zM68 171h2v1h-2zM79 171h1v1h-1zM65 172h1v1h-1zM67 172h2v1h-2zM79 172h1v1h-1zM64 173h1v1h-1zM67 173h1v1h-1zM79 173h1v1h-1zM66 174h2v1h-2zM79 174h1v1h-1zM63 175h1v1h-1zM65 175h2v1h-2zM79 175h1v1h-1zM47 176h1v1h-1zM62 176h1v1h-1zM65 176h2v1h-2zM79 176h1v1h-1zM47 177h1v1h-1zM61 177h1v1h-1zM66 177h2v1h-2zM79 177h1v1h-1zM91 177h3v1h-3zM66 178h2v1h-2zM79 178h1v1h-1zM90 178h5v1h-5zM60 179h1v1h-1zM67 179h2v1h-2zM79 179h1v1h-1zM90 179h5v1h-5zM47 180h1v1h-1zM59 180h1v1h-1zM68 180h2v1h-2zM79 180h1v1h-1zM90 180h6v1h-6zM69 181h11v1h-11zM91 181h6v1h-6zM58 182h1v1h-1zM70 182h9v1h-9zM92 182h5v1h-5zM46 183h1v1h-1zM57 183h1v1h-1zM93 183h4v1h-4zM110 183h3v1h-3zM46 184h1v1h-1zM93 184h5v1h-5zM108 184h8v1h-8zM93 185h5v1h-5zM106 185h12v1h-12zM119 185h2v1h-2zM56 186h1v1h-1zM93 186h5v1h-5zM105 186h17v1h-17zM94 187h4v1h-4zM103 187h18v1h-18zM94 188h3v1h-3zM103 188h17v1h-17zM102 189h14v1h-14zM102 190h14v1h-14zM103 191h12v1h-12zM104 192h10v1h-10zM45 193h1v1h-1zM105 193h8v1h-8zM45 194h1v1h-1zM111 194h2v1h-2zM55 196h1v1h-1zM54 198h1v1h-1zM106 198h2v1h-2zM53 199h1v1h-1zM106 199h2v1h-2zM52 200h1v1h-1zM105 200h3v1h-3zM45 201h1v1h-1zM104 201h3v1h-3zM34 202h1v1h-1zM51 202h1v1h-1zM103 202h3v1h-3zM34 203h1v1h-1zM102 203h3v1h-3zM50 204h1v1h-1zM101 204h3v1h-3zM45 205h1v1h-1zM101 205h2v1h-2zM46 206h1v1h-1zM100 206h2v1h-2zM35 207h1v1h-1zM47 207h1v1h-1zM100 207h2v1h-2zM99 208h1v1h-1zM36 211h1v1h-1zM36 212h1v1h-1zM36 213h1v1h-1zM36 214h1v1h-1zM37 215h1v1h-1zM40 216h2v1h-2zM44 217h2v1h-2zM45 218h1v1h-1zM45 219h1v1h-1zM45 220h1v1h-1zM45 221h1v1h-1zM45 222h1v1h-1zM45 223h1v1h-1zM45 224h1v1h-1zM45 225h1v1h-1zM45 226h1v1h-1zM44 227h1v1h-1zM44 228h1v1h-1zM44 229h1v1h-1zM44 230h1v1h-1zM44 231h1v1h-1zM44 232h1v1h-1zM44 233h1v1h-1zM44 234h1v1h-1zM44 235h1v1h-1zM44 236h1v1h-1zM46 246h1v1h-1zM46 247h1v1h-1zM46 248h1v1h-1zM46 249h1v1h-1zM47 250h1v1h-1zM48 251h1v1h-1zM48 252h1v1h-1zM49 253h1v1h-1zM50 254h1v1h-1zM52 255h1v1h-1zM55 255h1v1h-1zM54 256h1v1h-1z"/><path fill="#f9eee7" d="M36 5h1v1h-1zM41 27h1v1h-1zM40 28h1v1h-1zM20 53h1v1h-1zM19 56h1v1h-1zM15 61h1v1h-1zM17 64h1v1h-1zM14 65h1v1h-1zM14 66h1v1h-1zM14 67h1v1h-1zM16 69h1v1h-1zM20 81h1v1h-1zM21 82h1v1h-1zM18 83h1v1h-1zM22 83h1v1h-1zM18 84h1v1h-1zM18 85h1v1h-1zM23 85h1v1h-1zM19 90h1v1h-1zM25 95h1v1h-1zM26 96h1v1h-1zM30 100h1v1h-1zM35 103h1v1h-1zM28 104h1v1h-1zM42 108h1v1h-1zM45 109h1v1h-1zM33 110h1v1h-1zM53 112h1v1h-1zM55 113h1v1h-1zM40 114h1v1h-1zM56 114h1v1h-1zM57 115h1v1h-1zM60 117h1v1h-1zM62 119h1v1h-1zM49 120h1v1h-1zM63 120h1v1h-1zM65 121h1v1h-1zM67 122h1v1h-1zM69 124h1v1h-1zM71 127h1v1h-1zM72 128h1v1h-1zM73 129h1v1h-1zM73 131h1v1h-1zM72 133h1v1h-1zM72 134h1v1h-1zM54 136h1v1h-1zM71 136h1v1h-1zM71 137h1v1h-1zM71 138h1v1h-1zM55 140h1v1h-1zM70 143h1v1h-1zM70 144h1v1h-1zM70 145h1v1h-1zM70 146h1v1h-1zM70 147h1v1h-1zM54 148h1v1h-1zM70 148h1v1h-1zM70 149h1v1h-1zM53 150h1v1h-1zM70 150h1v1h-1zM70 151h1v1h-1zM52 154h1v1h-1zM52 156h1v1h-1zM52 157h1v1h-1zM70 157h1v1h-1zM52 158h1v1h-1zM69 160h1v1h-1zM68 162h1v1h-1zM67 164h1v1h-1zM66 166h1v1h-1zM49 168h1v1h-1zM64 169h1v1h-1zM49 171h1v1h-1zM62 172h1v1h-1zM61 174h1v1h-1zM60 175h1v1h-1zM59 176h1v1h-1zM58 177h1v1h-1zM57 179h1v1h-1zM56 181h1v1h-1zM47 186h1v1h-1zM54 187h1v1h-1zM53 195h1v1h-1zM52 196h1v1h-1zM51 197h1v1h-1zM50 198h1v1h-1zM46 200h1v1h-1zM49 200h1v1h-1zM46 201h1v1h-1zM49 201h1v1h-1zM46 202h1v1h-1zM46 203h1v1h-1zM48 203h1v1h-1zM47 204h1v1h-1zM33 215h1v1h-1zM33 216h1v1h-1zM34 218h1v1h-1zM37 218h3v1h-3zM34 219h1v1h-1zM36 219h4v1h-4zM34 220h3v1h-3zM38 220h1v1h-1zM35 221h1v1h-1zM38 221h1v1h-1zM38 222h1v1h-1zM38 223h1v1h-1zM38 224h1v1h-1zM38 225h1v1h-1zM38 226h1v1h-1zM39 227h1v1h-1zM39 228h2v1h-2zM41 229h1v1h-1zM42 230h1v1h-1zM42 231h1v1h-1zM42 232h1v1h-1zM44 241h1v1h-1zM44 244h1v1h-1zM44 245h1v1h-1zM44 246h1v1h-1zM44 247h1v1h-1zM44 253h1v1h-1zM45 254h1v1h-1zM45 255h2v1h-2zM46 256h2v1h-2zM47 257h2v1h-2zM52 258h2v1h-2zM55 259h4v1h-4zM59 260h1v1h-1z"/><path fill="#fce0d0" d="M37 5h1v1h-1zM34 7h1v1h-1zM36 7h1v1h-1zM40 20h1v1h-1zM42 20h1v1h-1zM42 21h1v1h-1zM42 22h1v1h-1zM40 23h1v1h-1zM43 25h1v1h-1zM39 28h1v1h-1zM41 28h1v1h-1zM38 31h1v1h-1zM28 33h1v1h-1zM30 33h1v1h-1zM30 34h1v1h-1zM26 40h1v1h-1zM28 40h1v1h-1zM26 41h1v1h-1zM26 42h2v1h-2zM26 43h1v1h-1zM25 45h1v1h-1zM24 47h1v1h-1zM23 49h1v1h-1zM21 50h1v1h-1zM21 52h1v1h-1zM15 57h1v1h-1zM18 61h1v1h-1zM13 66h1v1h-1zM13 68h1v1h-1zM17 69h1v1h-1zM14 70h1v1h-1zM17 70h1v1h-1zM17 72h1v1h-1zM15 73h1v1h-1zM17 73h1v1h-1zM17 74h1v1h-1zM16 75h1v1h-1zM16 76h1v1h-1zM18 76h1v1h-1zM19 78h1v1h-1zM17 79h1v1h-1zM24 87h1v1h-1zM18 88h1v1h-1zM26 94h1v1h-1zM27 95h1v1h-1zM28 96h1v1h-1zM29 97h1v1h-1zM30 98h1v1h-1zM32 100h1v1h-1zM35 102h1v1h-1zM29 106h1v1h-1zM48 109h1v1h-1zM50 110h1v1h-1zM52 111h1v1h-1zM56 113h1v1h-1zM39 114h1v1h-1zM57 114h1v1h-1zM60 116h1v1h-1zM43 117h1v1h-1zM62 117h1v1h-1zM65 119h1v1h-1zM67 120h1v1h-1zM49 121h1v1h-1zM69 121h1v1h-1zM70 123h1v1h-1zM50 125h1v1h-1zM72 126h1v1h-1zM73 127h1v1h-1zM74 128h1v1h-1zM76 130h1v1h-1zM75 132h1v1h-1zM74 134h1v1h-1zM74 135h1v1h-1zM73 138h1v1h-1zM54 139h1v1h-1zM73 139h1v1h-1zM72 143h1v1h-1zM72 144h1v1h-1zM72 145h1v1h-1zM72 146h1v1h-1zM72 147h1v1h-1zM72 148h1v1h-1zM72 149h1v1h-1zM72 150h1v1h-1zM72 151h1v1h-1zM52 152h1v1h-1zM72 152h1v1h-1zM72 153h1v1h-1zM72 154h1v1h-1zM72 155h1v1h-1zM72 156h1v1h-1zM71 158h1v1h-1zM71 159h1v1h-1zM51 160h1v1h-1zM70 161h1v1h-1zM70 162h1v1h-1zM69 164h1v1h-1zM68 166h1v1h-1zM66 169h1v1h-1zM71 170h6v1h-6zM70 171h2v1h-2zM74 171h5v1h-5zM64 172h1v1h-1zM69 172h2v1h-2zM77 172h2v1h-2zM68 173h2v1h-2zM77 173h2v1h-2zM63 174h1v1h-1zM68 174h2v1h-2zM78 174h1v1h-1zM62 175h1v1h-1zM67 175h2v1h-2zM78 175h1v1h-1zM61 176h1v1h-1zM67 176h2v1h-2zM78 176h1v1h-1zM68 177h1v1h-1zM78 177h1v1h-1zM60 178h1v1h-1zM68 178h2v1h-2zM77 178h2v1h-2zM59 179h1v1h-1zM69 179h2v1h-2zM77 179h2v1h-2zM70 180h9v1h-9zM58 181h1v1h-1zM57 182h1v1h-1zM56 185h1v1h-1zM55 188h1v1h-1zM55 189h1v1h-1zM116 189h3v1h-3zM46 190h1v1h-1zM55 190h1v1h-1zM116 190h2v1h-2zM55 191h1v1h-1zM115 191h2v1h-2zM55 192h1v1h-1zM114 192h2v1h-2zM55 193h1v1h-1zM113 193h2v1h-2zM55 194h1v1h-1zM55 195h1v1h-1zM54 197h1v1h-1zM53 198h1v1h-1zM52 199h1v1h-1zM51 201h1v1h-1zM45 202h1v1h-1zM50 203h1v1h-1zM45 204h1v1h-1zM104 204h1v1h-1zM49 205h1v1h-1zM103 205h1v1h-1zM47 206h2v1h-2zM102 206h1v1h-1zM35 211h1v1h-1zM35 212h1v1h-1zM36 215h1v1h-1zM39 216h1v1h-1zM42 217h2v1h-2zM44 218h1v1h-1zM44 219h1v1h-1zM44 220h1v1h-1zM44 221h1v1h-1zM44 222h1v1h-1zM44 223h1v1h-1zM43 224h2v1h-2zM43 225h2v1h-2zM43 226h2v1h-2zM43 227h1v1h-1zM44 237h1v1h-1zM44 238h1v1h-1zM45 239h1v1h-1zM46 250h1v1h-1zM47 251h1v1h-1zM47 252h1v1h-1zM48 253h1v1h-1zM49 254h1v1h-1zM50 255h2v1h-2zM56 255h2v1h-2zM52 256h2v1h-2zM55 256h1v1h-1z"/><path fill="#f7b596" d="M38 5h1v1h-1zM38 8h1v1h-1zM33 9h1v1h-1zM53 12h1v1h-1zM52 14h1v1h-1zM51 15h1v1h-1zM45 16h1v1h-1zM50 16h1v1h-1zM44 17h1v1h-1zM27 19h1v1h-1zM38 19h1v1h-1zM46 19h1v1h-1zM26 20h1v1h-1zM28 20h1v1h-1zM44 21h1v1h-1zM29 22h1v1h-1zM44 23h1v1h-1zM28 24h1v1h-1zM28 25h1v1h-1zM30 25h1v1h-1zM37 30h1v1h-1zM31 32h1v1h-1zM31 35h1v1h-1zM36 36h1v1h-1zM29 41h1v1h-1zM28 43h1v1h-1zM21 47h1v1h-1zM23 51h1v1h-1zM15 53h1v1h-1zM21 55h1v1h-1zM14 57h1v1h-1zM20 58h1v1h-1zM13 62h1v1h-1zM19 62h1v1h-1zM12 65h1v1h-1zM11 68h1v1h-1zM11 71h1v1h-1zM12 73h1v1h-1zM19 74h1v1h-1zM13 75h1v1h-1zM14 77h1v1h-1zM21 78h1v1h-1zM15 79h1v1h-1zM24 83h1v1h-1zM16 85h1v1h-1zM25 87h1v1h-1zM26 90h1v1h-1zM18 92h1v1h-1zM33 98h1v1h-1zM23 100h1v1h-1zM35 100h1v1h-1zM38 101h1v1h-1zM26 104h1v1h-1zM27 105h1v1h-1zM28 106h1v1h-1zM43 106h1v1h-1zM47 107h1v1h-1zM51 109h1v1h-1zM53 110h1v1h-1zM32 111h1v1h-1zM55 111h1v1h-1zM58 113h1v1h-1zM37 114h1v1h-1zM60 114h1v1h-1zM62 115h1v1h-1zM66 116h1v1h-1zM69 117h1v1h-1zM71 118h1v1h-1zM73 119h1v1h-1zM45 120h1v1h-1zM75 120h1v1h-1zM76 121h1v1h-1zM77 122h1v1h-1zM48 124h1v1h-1zM78 124h1v1h-1zM79 126h1v1h-1zM50 127h1v1h-1zM80 127h1v1h-1zM81 128h1v1h-1zM51 129h1v1h-1zM82 129h1v1h-1zM82 130h1v1h-1zM82 131h1v1h-1zM81 132h2v1h-2zM52 133h1v1h-1zM81 133h1v1h-1zM81 134h1v1h-1zM81 135h1v1h-1zM82 136h1v1h-1zM83 137h1v1h-1zM83 138h2v1h-2zM84 139h3v1h-3zM85 140h3v1h-3zM87 141h2v1h-2zM88 142h1v1h-1zM88 143h2v1h-2zM89 144h2v1h-2zM90 145h6v1h-6zM91 146h2v1h-2zM95 146h1v1h-1zM96 147h3v1h-3zM98 148h3v1h-3zM99 149h2v1h-2zM99 150h2v1h-2zM99 151h2v1h-2zM51 152h1v1h-1zM99 152h2v1h-2zM100 153h2v1h-2zM103 153h4v1h-4zM100 154h3v1h-3zM106 154h2v1h-2zM108 155h1v1h-1zM108 156h1v1h-1zM108 157h2v1h-2zM109 158h1v1h-1zM109 159h2v1h-2zM114 159h5v1h-5zM109 160h11v1h-11zM110 161h10v1h-10zM121 161h2v1h-2zM112 162h7v1h-7zM121 162h4v1h-4zM116 163h2v1h-2zM122 163h5v1h-5zM48 164h1v1h-1zM116 164h2v1h-2zM122 164h5v1h-5zM116 165h1v1h-1zM122 165h2v1h-2zM127 165h1v1h-1zM47 166h1v1h-1zM116 166h1v1h-1zM122 166h2v1h-2zM128 166h2v1h-2zM47 167h1v1h-1zM116 167h1v1h-1zM121 167h2v1h-2zM129 167h1v1h-1zM116 168h2v1h-2zM119 168h3v1h-3zM129 168h2v1h-2zM117 169h3v1h-3zM130 169h1v1h-1zM48 170h1v1h-1zM130 170h2v1h-2zM131 171h4v1h-4zM132 172h2v1h-2zM47 173h1v1h-1zM133 173h1v1h-1zM46 174h1v1h-1zM45 182h1v1h-1zM44 191h1v1h-1zM38 197h1v1h-1zM44 197h1v1h-1zM38 198h1v1h-1zM44 198h1v1h-1zM69 198h2v1h-2zM38 199h1v1h-1zM44 199h1v1h-1zM65 199h8v1h-8zM38 200h1v1h-1zM62 200h3v1h-3zM73 200h3v1h-3zM38 201h1v1h-1zM59 201h3v1h-3zM75 201h5v1h-5zM83 201h1v1h-1zM58 202h1v1h-1zM77 202h9v1h-9zM43 203h1v1h-1zM56 203h2v1h-2zM80 203h2v1h-2zM85 203h3v1h-3zM39 204h1v1h-1zM43 204h1v1h-1zM55 204h2v1h-2zM87 204h3v1h-3zM39 205h1v1h-1zM43 205h1v1h-1zM54 205h1v1h-1zM89 205h2v1h-2zM53 206h1v1h-1zM89 206h1v1h-1zM40 207h1v1h-1zM43 207h1v1h-1zM52 207h1v1h-1zM89 207h1v1h-1zM43 208h1v1h-1zM52 208h1v1h-1zM89 208h1v1h-1zM39 209h1v1h-1zM89 209h1v1h-1zM39 210h1v1h-1zM51 210h1v1h-1zM88 210h1v1h-1zM39 211h1v1h-1zM51 211h1v1h-1zM39 212h1v1h-1zM42 212h1v1h-1zM51 212h1v1h-1zM40 213h2v1h-2zM51 213h1v1h-1zM51 215h1v1h-1zM51 216h1v1h-1zM52 217h1v1h-1zM52 218h1v1h-1zM52 219h1v1h-1zM51 220h1v1h-1zM51 221h1v1h-1zM51 222h1v1h-1zM51 223h1v1h-1zM51 224h1v1h-1zM51 225h1v1h-1zM50 227h1v1h-1zM50 228h1v1h-1zM49 229h1v1h-1zM48 231h1v1h-1zM48 236h1v1h-1zM48 237h1v1h-1zM49 238h1v1h-1zM49 239h1v1h-1zM50 241h1v1h-1zM51 243h1v1h-1zM52 245h1v1h-1zM53 249h1v1h-1zM54 250h1v1h-1zM55 251h1v1h-1zM58 252h5v1h-5z"/><path fill="#bd2d35" d="M30 6h1v1h-1zM29 7h2v1h-2zM28 8h1v1h-1zM44 8h1v1h-1zM43 9h3v1h-3zM43 10h3v1h-3zM42 11h3v1h-3zM33 12h3v1h-3zM42 12h1v1h-1zM29 13h3v1h-3zM67 13h2v1h-2zM29 14h4v1h-4zM34 14h1v1h-1zM66 14h1v1h-1zM69 14h1v1h-1zM73 14h4v1h-4zM31 15h3v1h-3zM60 15h2v1h-2zM72 15h1v1h-1zM77 15h1v1h-1zM32 16h2v1h-2zM58 16h1v1h-1zM78 16h3v1h-3zM32 17h2v1h-2zM57 17h1v1h-1zM79 17h3v1h-3zM57 18h1v1h-1zM79 18h2v1h-2zM57 19h1v1h-1zM78 19h1v1h-1zM20 20h2v1h-2zM77 20h1v1h-1zM19 21h2v1h-2zM22 21h1v1h-1zM56 21h1v1h-1zM76 21h1v1h-1zM19 22h2v1h-2zM56 22h1v1h-1zM76 22h1v1h-1zM19 23h2v1h-2zM56 23h1v1h-1zM19 24h2v1h-2zM23 24h1v1h-1zM34 24h1v1h-1zM75 24h1v1h-1zM19 25h2v1h-2zM23 25h1v1h-1zM34 25h1v1h-1zM55 25h1v1h-1zM74 25h1v1h-1zM19 26h2v1h-2zM23 26h1v1h-1zM33 26h1v1h-1zM55 26h1v1h-1zM74 26h1v1h-1zM19 27h2v1h-2zM23 27h1v1h-1zM33 27h1v1h-1zM35 27h1v1h-1zM55 27h1v1h-1zM73 27h1v1h-1zM19 28h2v1h-2zM23 28h1v1h-1zM35 28h1v1h-1zM56 28h2v1h-2zM72 28h1v1h-1zM20 29h1v1h-1zM23 29h1v1h-1zM34 29h1v1h-1zM57 29h2v1h-2zM71 29h1v1h-1zM20 30h1v1h-1zM23 30h1v1h-1zM58 30h2v1h-2zM71 30h1v1h-1zM20 31h1v1h-1zM59 31h2v1h-2zM70 31h2v1h-2zM20 32h1v1h-1zM60 32h2v1h-2zM70 32h2v1h-2zM21 33h2v1h-2zM61 33h2v1h-2zM69 33h3v1h-3zM21 34h2v1h-2zM62 34h3v1h-3zM69 34h3v1h-3zM82 34h6v1h-6zM21 35h1v1h-1zM63 35h3v1h-3zM68 35h3v1h-3zM80 35h3v1h-3zM88 35h1v1h-1zM64 36h7v1h-7zM78 36h4v1h-4zM89 36h2v1h-2zM66 37h5v1h-5zM77 37h5v1h-5zM89 37h2v1h-2zM67 38h4v1h-4zM77 38h7v1h-7zM89 38h2v1h-2zM37 39h3v1h-3zM68 39h2v1h-2zM78 39h8v1h-8zM89 39h2v1h-2zM35 40h1v1h-1zM39 40h1v1h-1zM85 40h6v1h-6zM34 41h1v1h-1zM38 41h2v1h-2zM35 42h1v1h-1zM38 42h2v1h-2zM35 43h4v1h-4zM36 44h2v1h-2zM39 53h1v1h-1zM38 54h5v1h-5zM44 54h3v1h-3zM37 55h11v1h-11zM37 56h12v1h-12zM37 57h7v1h-7zM47 57h4v1h-4zM37 58h2v1h-2zM40 58h3v1h-3zM48 58h4v1h-4zM37 59h1v1h-1zM49 59h5v1h-5zM36 60h2v1h-2zM51 60h4v1h-4zM36 61h2v1h-2zM52 61h5v1h-5zM36 62h2v1h-2zM54 62h4v1h-4zM36 63h1v1h-1zM55 63h4v1h-4zM36 64h1v1h-1zM56 64h5v1h-5zM35 65h2v1h-2zM57 65h7v1h-7zM35 66h2v1h-2zM58 66h8v1h-8zM35 67h2v1h-2zM59 67h8v1h-8zM35 68h2v1h-2zM65 68h3v1h-3zM35 69h2v1h-2zM66 69h4v1h-4zM35 70h1v1h-1zM67 70h4v1h-4zM35 71h1v1h-1zM68 71h6v1h-6zM35 72h1v1h-1zM69 72h5v1h-5zM35 73h1v1h-1zM70 73h4v1h-4zM35 74h1v1h-1zM70 74h4v1h-4zM36 75h1v1h-1zM68 75h6v1h-6zM37 76h1v1h-1zM66 76h8v1h-8zM38 77h1v1h-1zM64 77h4v1h-4zM153 77h4v1h-4zM39 78h1v1h-1zM62 78h3v1h-3zM153 78h5v1h-5zM40 79h2v1h-2zM60 79h3v1h-3zM152 79h6v1h-6zM42 80h1v1h-1zM57 80h4v1h-4zM151 80h7v1h-7zM44 81h1v1h-1zM53 81h6v1h-6zM151 81h3v1h-3zM155 81h3v1h-3zM46 82h6v1h-6zM150 82h3v1h-3zM156 82h2v1h-2zM150 83h2v1h-2zM156 83h2v1h-2zM30 84h1v1h-1zM131 84h10v1h-10zM150 84h2v1h-2zM157 84h2v1h-2zM29 85h2v1h-2zM130 85h1v1h-1zM136 85h6v1h-6zM150 85h2v1h-2zM157 85h2v1h-2zM29 86h1v1h-1zM129 86h2v1h-2zM139 86h4v1h-4zM150 86h2v1h-2zM157 86h2v1h-2zM29 87h2v1h-2zM129 87h1v1h-1zM140 87h3v1h-3zM151 87h1v1h-1zM156 87h2v1h-2zM129 88h1v1h-1zM140 88h3v1h-3zM151 88h2v1h-2zM155 88h2v1h-2zM129 89h1v1h-1zM141 89h2v1h-2zM152 89h3v1h-3zM128 90h1v1h-1zM141 90h2v1h-2zM128 91h1v1h-1zM142 91h1v1h-1zM127 92h2v1h-2zM142 92h2v1h-2zM127 93h1v1h-1zM142 93h2v1h-2zM58 94h10v1h-10zM127 94h1v1h-1zM142 94h2v1h-2zM58 95h13v1h-13zM126 95h2v1h-2zM142 95h2v1h-2zM58 96h1v1h-1zM69 96h5v1h-5zM126 96h1v1h-1zM142 96h2v1h-2zM58 97h1v1h-1zM71 97h5v1h-5zM100 97h6v1h-6zM126 97h1v1h-1zM142 97h2v1h-2zM58 98h1v1h-1zM73 98h3v1h-3zM100 98h9v1h-9zM125 98h2v1h-2zM142 98h2v1h-2zM59 99h1v1h-1zM73 99h3v1h-3zM100 99h9v1h-9zM125 99h2v1h-2zM142 99h2v1h-2zM59 100h1v1h-1zM73 100h3v1h-3zM99 100h4v1h-4zM106 100h4v1h-4zM125 100h2v1h-2zM142 100h1v1h-1zM59 101h1v1h-1zM72 101h3v1h-3zM98 101h4v1h-4zM107 101h3v1h-3zM125 101h2v1h-2zM141 101h2v1h-2zM60 102h1v1h-1zM71 102h3v1h-3zM97 102h4v1h-4zM107 102h3v1h-3zM125 102h2v1h-2zM140 102h2v1h-2zM60 103h1v1h-1zM70 103h3v1h-3zM96 103h4v1h-4zM108 103h3v1h-3zM125 103h2v1h-2zM139 103h2v1h-2zM60 104h2v1h-2zM68 104h3v1h-3zM96 104h3v1h-3zM109 104h2v1h-2zM125 104h2v1h-2zM137 104h3v1h-3zM61 105h9v1h-9zM96 105h3v1h-3zM110 105h2v1h-2zM125 105h1v1h-1zM136 105h3v1h-3zM96 106h3v1h-3zM110 106h2v1h-2zM124 106h2v1h-2zM135 106h4v1h-4zM97 107h2v1h-2zM111 107h2v1h-2zM124 107h2v1h-2zM135 107h3v1h-3zM143 107h5v1h-5zM97 108h2v1h-2zM111 108h2v1h-2zM123 108h2v1h-2zM134 108h4v1h-4zM142 108h3v1h-3zM146 108h3v1h-3zM97 109h2v1h-2zM112 109h2v1h-2zM122 109h2v1h-2zM134 109h3v1h-3zM142 109h1v1h-1zM147 109h2v1h-2zM97 110h2v1h-2zM112 110h2v1h-2zM121 110h2v1h-2zM133 110h4v1h-4zM141 110h2v1h-2zM148 110h2v1h-2zM97 111h2v1h-2zM112 111h3v1h-3zM120 111h2v1h-2zM133 111h3v1h-3zM141 111h2v1h-2zM148 111h2v1h-2zM97 112h2v1h-2zM111 112h3v1h-3zM120 112h3v1h-3zM131 112h4v1h-4zM141 112h2v1h-2zM148 112h1v1h-1zM97 113h2v1h-2zM110 113h3v1h-3zM121 113h2v1h-2zM130 113h5v1h-5zM142 113h1v1h-1zM146 113h2v1h-2zM97 114h2v1h-2zM110 114h1v1h-1zM121 114h2v1h-2zM129 114h3v1h-3zM142 114h5v1h-5zM97 115h2v1h-2zM110 115h1v1h-1zM116 115h2v1h-2zM122 115h1v1h-1zM128 115h2v1h-2zM143 115h2v1h-2zM97 116h2v1h-2zM110 116h1v1h-1zM115 116h3v1h-3zM121 116h1v1h-1zM128 116h1v1h-1zM98 117h1v1h-1zM110 117h1v1h-1zM115 117h4v1h-4zM121 117h1v1h-1zM128 117h1v1h-1zM99 118h6v1h-6zM110 118h1v1h-1zM115 118h4v1h-4zM122 118h1v1h-1zM126 118h2v1h-2zM106 119h1v1h-1zM110 119h2v1h-2zM115 119h5v1h-5zM122 119h1v1h-1zM125 119h2v1h-2zM107 120h5v1h-5zM117 120h2v1h-2zM123 120h2v1h-2zM108 121h4v1h-4zM127 132h8v1h-8zM126 133h11v1h-11zM165 133h3v1h-3zM126 134h12v1h-12zM164 134h2v1h-2zM167 134h3v1h-3zM125 135h14v1h-14zM163 135h2v1h-2zM167 135h2v1h-2zM170 135h1v1h-1zM126 136h12v1h-12zM164 136h2v1h-2zM126 137h11v1h-11zM158 137h4v1h-4zM165 137h2v1h-2zM155 138h4v1h-4zM160 138h3v1h-3zM168 138h2v1h-2zM153 139h2v1h-2zM162 139h2v1h-2zM152 140h1v1h-1zM163 140h1v1h-1zM150 141h2v1h-2zM162 141h1v1h-1zM150 142h1v1h-1zM161 142h1v1h-1zM150 143h1v1h-1zM160 143h1v1h-1zM150 144h1v1h-1zM158 144h1v1h-1zM150 145h1v1h-1zM156 145h2v1h-2zM163 145h2v1h-2zM150 146h2v1h-2zM153 146h3v1h-3zM163 146h1v1h-1zM150 147h3v1h-3z"/><path fill="#f8bb9e" d="M32 6h1v1h-1zM38 6h1v1h-1zM34 8h1v1h-1zM34 9h2v1h-2zM51 13h2v1h-2zM49 14h1v1h-1zM47 15h1v1h-1zM38 17h1v1h-1zM40 17h1v1h-1zM38 18h1v1h-1zM47 18h1v1h-1zM26 21h1v1h-1zM26 23h2v1h-2zM29 23h1v1h-1zM26 24h1v1h-1zM44 24h1v1h-1zM26 25h1v1h-1zM28 26h1v1h-1zM30 26h1v1h-1zM38 28h1v1h-1zM42 28h1v1h-1zM28 30h1v1h-1zM41 30h1v1h-1zM25 33h1v1h-1zM31 33h1v1h-1zM31 34h1v1h-1zM35 34h1v1h-1zM38 34h1v1h-1zM35 35h1v1h-1zM35 36h1v1h-1zM30 38h1v1h-1zM24 43h1v1h-1zM23 45h1v1h-1zM27 45h1v1h-1zM22 46h1v1h-1zM25 48h1v1h-1zM17 51h1v1h-1zM14 58h1v1h-1zM19 61h1v1h-1zM11 69h1v1h-1zM11 70h1v1h-1zM12 72h1v1h-1zM13 74h1v1h-1zM19 75h1v1h-1zM14 76h1v1h-1zM15 78h1v1h-1zM23 81h1v1h-1zM16 84h1v1h-1zM17 88h1v1h-1zM25 88h1v1h-1zM21 95h1v1h-1zM29 95h1v1h-1zM30 96h1v1h-1zM31 97h1v1h-1zM37 101h1v1h-1zM40 103h1v1h-1zM41 105h1v1h-1zM46 107h1v1h-1zM49 108h1v1h-1zM31 109h1v1h-1zM65 116h1v1h-1zM41 117h1v1h-1zM68 117h1v1h-1zM70 118h1v1h-1zM44 119h1v1h-1zM71 119h2v1h-2zM73 120h2v1h-2zM75 121h1v1h-1zM76 122h1v1h-1zM48 123h1v1h-1zM77 123h1v1h-1zM78 125h1v1h-1zM79 127h1v1h-1zM80 128h1v1h-1zM81 129h1v1h-1zM81 130h1v1h-1zM81 131h1v1h-1zM80 132h1v1h-1zM80 133h1v1h-1zM80 134h1v1h-1zM80 135h1v1h-1zM81 136h1v1h-1zM81 137h2v1h-2zM82 138h1v1h-1zM83 139h1v1h-1zM83 140h2v1h-2zM53 141h1v1h-1zM84 141h3v1h-3zM53 142h1v1h-1zM86 142h2v1h-2zM53 143h1v1h-1zM87 143h1v1h-1zM53 144h1v1h-1zM87 144h2v1h-2zM88 145h2v1h-2zM52 146h1v1h-1zM89 146h2v1h-2zM93 146h2v1h-2zM90 147h6v1h-6zM91 148h3v1h-3zM95 148h3v1h-3zM96 149h3v1h-3zM97 150h2v1h-2zM97 151h2v1h-2zM97 152h2v1h-2zM51 153h1v1h-1zM98 153h2v1h-2zM98 154h2v1h-2zM103 154h3v1h-3zM99 155h4v1h-4zM106 155h2v1h-2zM50 156h1v1h-1zM101 156h1v1h-1zM107 156h1v1h-1zM107 157h1v1h-1zM107 158h2v1h-2zM50 159h1v1h-1zM107 159h2v1h-2zM50 160h1v1h-1zM107 160h2v1h-2zM107 161h3v1h-3zM108 162h4v1h-4zM49 163h1v1h-1zM109 163h7v1h-7zM112 164h4v1h-4zM113 165h3v1h-3zM124 165h3v1h-3zM114 166h2v1h-2zM124 166h4v1h-4zM114 167h2v1h-2zM123 167h3v1h-3zM127 167h2v1h-2zM115 168h1v1h-1zM122 168h2v1h-2zM128 168h1v1h-1zM115 169h2v1h-2zM120 169h3v1h-3zM128 169h2v1h-2zM116 170h5v1h-5zM129 170h1v1h-1zM48 171h1v1h-1zM129 171h2v1h-2zM130 172h2v1h-2zM130 173h3v1h-3zM131 174h2v1h-2zM46 175h1v1h-1zM131 175h2v1h-2zM46 176h1v1h-1zM131 176h1v1h-1zM46 177h1v1h-1zM46 178h1v1h-1zM46 179h1v1h-1zM46 180h1v1h-1zM45 183h1v1h-1zM45 184h1v1h-1zM45 189h1v1h-1zM44 192h1v1h-1zM44 196h1v1h-1zM37 197h1v1h-1zM68 197h5v1h-5zM37 198h1v1h-1zM65 198h4v1h-4zM71 198h5v1h-5zM37 199h1v1h-1zM62 199h3v1h-3zM73 199h6v1h-6zM44 200h1v1h-1zM59 200h3v1h-3zM76 200h9v1h-9zM57 201h2v1h-2zM80 201h3v1h-3zM84 201h3v1h-3zM38 202h1v1h-1zM56 202h2v1h-2zM86 202h3v1h-3zM38 203h1v1h-1zM55 203h1v1h-1zM88 203h3v1h-3zM38 204h1v1h-1zM54 204h1v1h-1zM90 204h2v1h-2zM53 205h1v1h-1zM91 205h1v1h-1zM39 206h1v1h-1zM52 206h1v1h-1zM90 206h2v1h-2zM39 207h1v1h-1zM90 207h2v1h-2zM39 208h1v1h-1zM51 208h1v1h-1zM90 208h1v1h-1zM43 209h1v1h-1zM51 209h1v1h-1zM90 209h1v1h-1zM43 210h1v1h-1zM89 210h2v1h-2zM43 211h1v1h-1zM50 212h1v1h-1zM39 213h1v1h-1zM42 213h1v1h-1zM50 213h1v1h-1zM41 214h1v1h-1zM50 214h1v1h-1zM50 215h1v1h-1zM50 216h1v1h-1zM51 217h1v1h-1zM51 218h1v1h-1zM51 219h1v1h-1zM50 221h1v1h-1zM50 222h1v1h-1zM50 223h1v1h-1zM50 224h1v1h-1zM50 225h1v1h-1zM50 226h1v1h-1zM49 228h1v1h-1zM48 229h1v1h-1zM48 230h1v1h-1zM47 231h1v1h-1zM47 232h1v1h-1zM47 233h1v1h-1zM48 238h1v1h-1zM48 239h1v1h-1zM49 240h1v1h-1zM49 241h1v1h-1zM50 242h1v1h-1zM50 243h1v1h-1zM51 244h1v1h-1zM51 245h1v1h-1zM52 246h1v1h-1zM52 247h1v1h-1zM52 248h1v1h-1zM52 249h1v1h-1zM52 250h2v1h-2zM54 251h1v1h-1zM55 252h3v1h-3zM61 253h1v1h-1z"/><path fill="#faeae1" d="M33 6h1v1h-1zM36 6h1v1h-1zM41 23h2v1h-2zM40 25h1v1h-1zM40 26h1v1h-1zM42 26h1v1h-1zM40 27h1v1h-1zM19 52h2v1h-2zM17 53h1v1h-1zM16 54h1v1h-1zM18 59h1v1h-1zM15 60h1v1h-1zM14 64h1v1h-1zM17 65h1v1h-1zM14 68h1v1h-1zM15 69h1v1h-1zM16 70h1v1h-1zM16 71h1v1h-1zM19 80h1v1h-1zM18 81h1v1h-1zM18 82h1v1h-1zM18 86h1v1h-1zM24 90h1v1h-1zM25 94h1v1h-1zM27 96h1v1h-1zM23 97h1v1h-1zM28 97h1v1h-1zM23 98h1v1h-1zM29 98h1v1h-1zM26 99h1v1h-1zM27 100h1v1h-1zM32 101h1v1h-1zM36 103h1v1h-1zM38 104h1v1h-1zM41 107h1v1h-1zM32 109h1v1h-1zM46 109h1v1h-1zM49 110h1v1h-1zM51 111h1v1h-1zM62 118h1v1h-1zM46 119h1v1h-1zM63 119h1v1h-1zM64 120h1v1h-1zM66 121h2v1h-2zM68 122h1v1h-1zM69 123h1v1h-1zM50 124h1v1h-1zM70 125h1v1h-1zM52 128h1v1h-1zM74 130h1v1h-1zM74 131h1v1h-1zM73 132h1v1h-1zM73 133h1v1h-1zM72 135h1v1h-1zM72 136h1v1h-1zM54 137h1v1h-1zM71 139h1v1h-1zM71 140h1v1h-1zM71 141h1v1h-1zM55 145h1v1h-1zM54 147h1v1h-1zM71 154h1v1h-1zM71 155h1v1h-1zM70 158h1v1h-1zM51 161h1v1h-1zM69 161h1v1h-1zM68 163h1v1h-1zM67 165h1v1h-1zM66 167h1v1h-1zM65 168h1v1h-1zM64 170h1v1h-1zM63 171h1v1h-1zM62 173h1v1h-1zM73 175h2v1h-2zM72 176h3v1h-3zM58 178h1v1h-1zM56 182h1v1h-1zM55 185h1v1h-1zM47 187h1v1h-1zM54 188h1v1h-1zM47 189h1v1h-1zM54 189h1v1h-1zM54 190h1v1h-1zM54 191h1v1h-1zM46 192h1v1h-1zM54 192h1v1h-1zM46 193h1v1h-1zM54 193h1v1h-1zM46 194h1v1h-1zM54 194h1v1h-1zM53 196h1v1h-1zM52 197h1v1h-1zM46 198h1v1h-1zM51 198h1v1h-1zM46 199h1v1h-1zM50 199h1v1h-1zM49 202h1v1h-1zM46 204h1v1h-1zM48 204h1v1h-1zM34 215h1v1h-1zM34 216h1v1h-1zM34 217h1v1h-1zM37 217h3v1h-3zM35 218h2v1h-2zM40 218h1v1h-1zM35 219h1v1h-1zM40 219h1v1h-1zM39 220h2v1h-2zM39 221h2v1h-2zM39 222h2v1h-2zM39 223h1v1h-1zM39 224h1v1h-1zM39 225h1v1h-1zM39 226h2v1h-2zM40 227h1v1h-1zM41 228h1v1h-1zM42 229h1v1h-1zM42 233h1v1h-1zM42 234h1v1h-1zM42 235h1v1h-1zM42 236h1v1h-1zM42 237h1v1h-1zM42 238h1v1h-1zM43 239h1v1h-1zM44 240h1v1h-1zM44 248h1v1h-1zM44 249h1v1h-1zM44 250h1v1h-1zM44 251h1v1h-1zM44 252h1v1h-1zM45 253h1v1h-1zM46 254h1v1h-1zM47 255h1v1h-1zM48 256h1v1h-1zM49 257h3v1h-3zM54 258h4v1h-4zM59 259h1v1h-1z"/><path fill="#fac8af" d="M33 7h1v1h-1zM37 7h1v1h-1zM48 15h3v1h-3zM49 16h1v1h-1zM45 17h1v1h-1zM42 18h1v1h-1zM44 18h1v1h-1zM46 18h1v1h-1zM39 21h1v1h-1zM27 22h2v1h-2zM39 23h1v1h-1zM29 25h1v1h-1zM26 26h1v1h-1zM29 26h1v1h-1zM43 26h1v1h-1zM26 30h1v1h-1zM29 31h1v1h-1zM28 32h1v1h-1zM39 32h1v1h-1zM25 35h1v1h-1zM25 36h1v1h-1zM25 37h1v1h-1zM29 40h1v1h-1zM28 42h1v1h-1zM24 44h1v1h-1zM26 46h1v1h-1zM21 48h1v1h-1zM24 49h1v1h-1zM15 54h1v1h-1zM21 54h1v1h-1zM20 57h1v1h-1zM14 60h1v1h-1zM18 65h1v1h-1zM18 66h1v1h-1zM18 70h1v1h-1zM13 72h1v1h-1zM14 75h1v1h-1zM15 77h1v1h-1zM21 79h1v1h-1zM16 80h1v1h-1zM16 81h1v1h-1zM17 87h1v1h-1zM25 89h1v1h-1zM22 97h1v1h-1zM25 100h1v1h-1zM34 100h1v1h-1zM26 101h1v1h-1zM26 102h1v1h-1zM40 104h1v1h-1zM44 107h1v1h-1zM50 109h1v1h-1zM56 112h1v1h-1zM36 113h1v1h-1zM63 116h1v1h-1zM42 117h1v1h-1zM66 117h1v1h-1zM68 118h1v1h-1zM70 119h1v1h-1zM47 121h1v1h-1zM71 121h1v1h-1zM72 122h3v1h-3zM73 123h1v1h-1zM75 123h1v1h-1zM76 124h1v1h-1zM77 125h1v1h-1zM77 126h1v1h-1zM78 127h1v1h-1zM51 128h1v1h-1zM79 129h1v1h-1zM80 130h1v1h-1zM79 131h1v1h-1zM78 133h1v1h-1zM78 134h1v1h-1zM78 135h1v1h-1zM78 136h1v1h-1zM78 137h2v1h-2zM79 138h2v1h-2zM80 139h1v1h-1zM80 140h2v1h-2zM81 141h2v1h-2zM82 142h2v1h-2zM82 143h3v1h-3zM83 144h2v1h-2zM53 145h1v1h-1zM84 145h2v1h-2zM85 146h2v1h-2zM86 147h2v1h-2zM52 148h1v1h-1zM87 148h2v1h-2zM87 149h3v1h-3zM88 150h3v1h-3zM89 151h5v1h-5zM90 152h5v1h-5zM91 153h5v1h-5zM51 154h1v1h-1zM93 154h3v1h-3zM94 155h3v1h-3zM96 156h2v1h-2zM97 157h3v1h-3zM103 157h1v1h-1zM99 158h5v1h-5zM100 159h4v1h-4zM101 160h3v1h-3zM101 161h4v1h-4zM101 162h4v1h-4zM101 163h5v1h-5zM101 164h5v1h-5zM101 165h8v1h-8zM101 166h11v1h-11zM102 167h11v1h-11zM102 168h11v1h-11zM102 169h12v1h-12zM102 170h12v1h-12zM103 171h12v1h-12zM123 171h3v1h-3zM48 172h1v1h-1zM103 172h24v1h-24zM103 173h9v1h-9zM114 173h13v1h-13zM47 174h1v1h-1zM104 174h4v1h-4zM116 174h5v1h-5zM125 174h3v1h-3zM126 175h3v1h-3zM126 176h3v1h-3zM127 177h2v1h-2zM127 178h2v1h-2zM127 179h2v1h-2zM127 180h1v1h-1zM46 181h1v1h-1zM46 187h1v1h-1zM67 187h17v1h-17zM66 188h18v1h-18zM66 189h18v1h-18zM45 190h1v1h-1zM65 190h19v1h-19zM65 191h19v1h-19zM65 192h3v1h-3zM77 192h7v1h-7zM64 193h4v1h-4zM77 193h7v1h-7zM44 194h1v1h-1zM64 194h4v1h-4zM77 194h7v1h-7zM64 195h3v1h-3zM77 195h7v1h-7zM63 196h3v1h-3zM78 196h6v1h-6zM61 197h4v1h-4zM79 197h7v1h-7zM58 198h4v1h-4zM83 198h4v1h-4zM36 199h1v1h-1zM56 199h3v1h-3zM86 199h3v1h-3zM36 200h1v1h-1zM55 200h2v1h-2zM88 200h4v1h-4zM36 201h1v1h-1zM54 201h2v1h-2zM90 201h6v1h-6zM44 202h1v1h-1zM54 202h1v1h-1zM93 202h4v1h-4zM37 203h1v1h-1zM53 203h1v1h-1zM94 203h3v1h-3zM37 204h1v1h-1zM52 204h1v1h-1zM94 204h2v1h-2zM37 205h1v1h-1zM44 205h1v1h-1zM94 205h2v1h-2zM37 206h1v1h-1zM51 206h1v1h-1zM93 206h2v1h-2zM50 207h1v1h-1zM93 207h2v1h-2zM92 208h2v1h-2zM44 209h1v1h-1zM92 209h2v1h-2zM44 210h1v1h-1zM49 210h1v1h-1zM92 210h1v1h-1zM44 211h1v1h-1zM49 211h1v1h-1zM38 212h1v1h-1zM44 212h1v1h-1zM49 212h1v1h-1zM38 213h1v1h-1zM49 213h1v1h-1zM43 214h1v1h-1zM42 215h1v1h-1zM49 216h1v1h-1zM49 217h1v1h-1zM49 218h1v1h-1zM49 219h1v1h-1zM49 220h1v1h-1zM49 221h1v1h-1zM48 223h1v1h-1zM48 224h1v1h-1zM48 225h1v1h-1zM48 226h1v1h-1zM48 227h1v1h-1zM47 228h1v1h-1zM47 229h1v1h-1zM46 231h1v1h-1zM46 232h1v1h-1zM47 238h1v1h-1zM47 239h1v1h-1zM47 240h1v1h-1zM48 242h1v1h-1zM48 243h1v1h-1zM49 244h1v1h-1zM49 245h1v1h-1zM50 246h1v1h-1zM50 247h1v1h-1zM50 248h1v1h-1zM50 249h1v1h-1zM50 250h1v1h-1zM51 251h1v1h-1zM52 252h2v1h-2zM54 253h4v1h-4zM59 254h2v1h-2z"/><path fill="#f6af8e" d="M38 7h1v1h-1zM38 9h1v1h-1zM54 11h1v1h-1zM52 12h1v1h-1zM50 13h1v1h-1zM53 13h1v1h-1zM48 14h1v1h-1zM46 15h1v1h-1zM38 16h1v1h-1zM41 17h1v1h-1zM49 17h1v1h-1zM26 19h1v1h-1zM38 20h1v1h-1zM45 20h1v1h-1zM29 21h1v1h-1zM44 22h1v1h-1zM27 24h1v1h-1zM30 24h1v1h-1zM38 24h1v1h-1zM27 25h1v1h-1zM38 25h1v1h-1zM31 30h1v1h-1zM27 31h2v1h-2zM31 31h1v1h-1zM25 32h1v1h-1zM35 33h1v1h-1zM39 33h1v1h-1zM31 36h1v1h-1zM24 39h1v1h-1zM30 39h1v1h-1zM24 40h1v1h-1zM24 41h1v1h-1zM24 42h1v1h-1zM23 44h1v1h-1zM26 47h1v1h-1zM20 48h1v1h-1zM18 50h1v1h-1zM14 56h1v1h-1zM21 56h1v1h-1zM19 63h1v1h-1zM11 72h1v1h-1zM19 73h1v1h-1zM12 74h1v1h-1zM13 76h1v1h-1zM20 76h1v1h-1zM22 79h1v1h-1zM15 80h1v1h-1zM23 80h1v1h-1zM16 86h1v1h-1zM17 89h1v1h-1zM27 92h1v1h-1zM19 93h1v1h-1zM20 94h1v1h-1zM32 97h1v1h-1zM34 99h1v1h-1zM39 101h1v1h-1zM40 102h1v1h-1zM41 104h1v1h-1zM48 107h1v1h-1zM50 108h1v1h-1zM34 112h1v1h-1zM57 112h1v1h-1zM63 115h2v1h-2zM67 116h1v1h-1zM40 117h1v1h-1zM70 117h2v1h-2zM72 118h2v1h-2zM74 119h2v1h-2zM76 120h1v1h-1zM46 121h1v1h-1zM77 121h1v1h-1zM47 122h1v1h-1zM78 123h1v1h-1zM79 124h1v1h-1zM79 125h1v1h-1zM49 126h1v1h-1zM80 126h1v1h-1zM81 127h1v1h-1zM82 128h1v1h-1zM83 129h1v1h-1zM83 130h1v1h-1zM83 131h2v1h-2zM83 132h1v1h-1zM82 133h1v1h-1zM52 134h1v1h-1zM82 134h1v1h-1zM52 135h1v1h-1zM82 135h2v1h-2zM52 136h1v1h-1zM83 136h2v1h-2zM52 137h1v1h-1zM84 137h2v1h-2zM52 138h1v1h-1zM85 138h3v1h-3zM87 139h2v1h-2zM88 140h2v1h-2zM89 141h2v1h-2zM89 142h3v1h-3zM90 143h5v1h-5zM91 144h5v1h-5zM52 145h1v1h-1zM96 146h2v1h-2zM99 147h3v1h-3zM101 148h1v1h-1zM101 149h1v1h-1zM101 150h1v1h-1zM51 151h1v1h-1zM101 151h1v1h-1zM101 152h5v1h-5zM102 153h1v1h-1zM107 153h1v1h-1zM108 154h2v1h-2zM50 155h1v1h-1zM109 155h1v1h-1zM117 155h3v1h-3zM109 156h2v1h-2zM115 156h5v1h-5zM49 157h1v1h-1zM110 157h11v1h-11zM110 158h11v1h-11zM111 159h3v1h-3zM119 159h4v1h-4zM120 160h4v1h-4zM120 161h1v1h-1zM123 161h3v1h-3zM119 162h2v1h-2zM125 162h2v1h-2zM118 163h4v1h-4zM127 163h1v1h-1zM118 164h4v1h-4zM127 164h2v1h-2zM47 165h1v1h-1zM117 165h1v1h-1zM120 165h2v1h-2zM128 165h2v1h-2zM117 166h1v1h-1zM120 166h2v1h-2zM130 166h1v1h-1zM117 167h4v1h-4zM130 167h2v1h-2zM47 168h1v1h-1zM118 168h1v1h-1zM131 168h2v1h-2zM131 169h3v1h-3zM135 169h2v1h-2zM132 170h3v1h-3zM43 171h3v1h-3zM43 172h3v1h-3zM47 172h1v1h-1zM43 173h4v1h-4zM42 174h4v1h-4zM42 175h4v1h-4zM42 176h4v1h-4zM42 177h4v1h-4zM43 178h3v1h-3zM43 179h3v1h-3zM43 180h3v1h-3zM43 181h3v1h-3zM43 182h2v1h-2zM43 183h2v1h-2zM42 184h3v1h-3zM42 185h2v1h-2zM45 185h1v1h-1zM42 186h2v1h-2zM42 187h1v1h-1zM41 188h2v1h-2zM45 188h1v1h-1zM40 189h3v1h-3zM40 190h2v1h-2zM44 190h1v1h-1zM40 191h2v1h-2zM40 192h2v1h-2zM39 193h2v1h-2zM39 194h2v1h-2zM43 194h1v1h-1zM38 195h3v1h-3zM43 195h1v1h-1zM38 196h3v1h-3zM39 197h1v1h-1zM39 198h1v1h-1zM39 199h1v1h-1zM39 200h1v1h-1zM65 200h8v1h-8zM39 201h1v1h-1zM62 201h4v1h-4zM73 201h2v1h-2zM39 202h1v1h-1zM43 202h1v1h-1zM59 202h3v1h-3zM74 202h3v1h-3zM39 203h1v1h-1zM58 203h2v1h-2zM76 203h4v1h-4zM82 203h3v1h-3zM57 204h1v1h-1zM78 204h5v1h-5zM84 204h3v1h-3zM40 205h1v1h-1zM55 205h2v1h-2zM86 205h3v1h-3zM40 206h1v1h-1zM43 206h1v1h-1zM54 206h2v1h-2zM87 206h2v1h-2zM53 207h2v1h-2zM88 207h1v1h-1zM40 208h1v1h-1zM53 208h1v1h-1zM88 208h1v1h-1zM42 209h1v1h-1zM52 209h1v1h-1zM87 209h2v1h-2zM42 210h1v1h-1zM52 210h1v1h-1zM87 210h1v1h-1zM42 211h1v1h-1zM52 211h1v1h-1zM40 212h2v1h-2zM51 214h1v1h-1zM52 216h1v1h-1zM53 218h1v1h-1zM52 220h1v1h-1zM52 221h1v1h-1zM52 222h1v1h-1zM52 223h1v1h-1zM51 226h1v1h-1zM51 227h1v1h-1zM51 228h1v1h-1zM50 229h1v1h-1zM49 230h1v1h-1zM48 232h1v1h-1zM48 233h1v1h-1zM48 234h1v1h-1zM48 235h1v1h-1zM49 237h1v1h-1zM50 238h1v1h-1zM50 239h1v1h-1zM50 240h1v1h-1zM51 241h1v1h-1zM51 242h1v1h-1zM71 242h1v1h-1zM52 243h1v1h-1zM70 243h2v1h-2zM52 244h1v1h-1zM70 244h1v1h-1zM69 245h1v1h-1zM53 246h1v1h-1zM53 247h1v1h-1zM53 248h1v1h-1zM56 251h5v1h-5z"/><path fill="#fddbc7" d="M36 8h1v1h-1zM42 19h1v1h-1zM43 23h1v1h-1zM27 27h1v1h-1zM39 27h1v1h-1zM42 27h1v1h-1zM27 29h3v1h-3zM30 31h1v1h-1zM29 32h1v1h-1zM37 32h2v1h-2zM27 33h1v1h-1zM37 33h1v1h-1zM28 41h1v1h-1zM27 43h1v1h-1zM26 45h1v1h-1zM24 48h1v1h-1zM21 49h1v1h-1zM22 51h1v1h-1zM17 52h1v1h-1zM21 53h1v1h-1zM18 63h1v1h-1zM13 70h1v1h-1zM14 72h1v1h-1zM15 75h1v1h-1zM18 75h1v1h-1zM16 77h1v1h-1zM19 77h1v1h-1zM21 80h1v1h-1zM17 85h1v1h-1zM24 86h1v1h-1zM18 89h1v1h-1zM19 92h1v1h-1zM20 93h1v1h-1zM26 93h1v1h-1zM22 96h1v1h-1zM26 100h1v1h-1zM36 102h1v1h-1zM40 105h1v1h-1zM41 106h1v1h-1zM31 108h1v1h-1zM46 108h1v1h-1zM49 109h1v1h-1zM32 110h1v1h-1zM35 112h1v1h-1zM55 112h1v1h-1zM40 115h1v1h-1zM59 115h1v1h-1zM41 116h1v1h-1zM61 116h1v1h-1zM63 117h1v1h-1zM65 118h1v1h-1zM45 119h1v1h-1zM67 119h1v1h-1zM69 120h1v1h-1zM70 121h1v1h-1zM49 122h1v1h-1zM49 123h1v1h-1zM71 123h1v1h-1zM72 125h1v1h-1zM73 126h1v1h-1zM51 127h1v1h-1zM75 127h1v1h-1zM76 128h1v1h-1zM77 129h1v1h-1zM52 130h1v1h-1zM77 130h1v1h-1zM77 131h1v1h-1zM76 132h1v1h-1zM76 133h1v1h-1zM53 134h1v1h-1zM75 134h1v1h-1zM53 135h1v1h-1zM75 135h1v1h-1zM53 136h1v1h-1zM75 136h1v1h-1zM74 138h1v1h-1zM74 139h1v1h-1zM54 140h1v1h-1zM74 140h1v1h-1zM54 141h1v1h-1zM74 141h1v1h-1zM73 144h1v1h-1zM73 145h1v1h-1zM73 146h1v1h-1zM73 147h1v1h-1zM73 148h1v1h-1zM73 149h1v1h-1zM73 150h1v1h-1zM73 151h1v1h-1zM73 152h1v1h-1zM73 153h1v1h-1zM73 154h1v1h-1zM73 155h1v1h-1zM73 156h1v1h-1zM51 157h1v1h-1zM73 157h1v1h-1zM72 158h2v1h-2zM72 159h1v1h-1zM72 160h1v1h-1zM71 161h2v1h-2zM71 162h1v1h-1zM71 163h1v1h-1zM49 164h1v1h-1zM70 164h2v1h-2zM70 165h2v1h-2zM70 166h4v1h-4zM48 167h1v1h-1zM69 167h9v1h-9zM68 168h2v1h-2zM75 168h6v1h-6zM68 169h1v1h-1zM79 169h2v1h-2zM67 170h2v1h-2zM80 170h1v1h-1zM66 171h2v1h-2zM80 171h1v1h-1zM66 172h1v1h-1zM80 172h1v1h-1zM48 173h1v1h-1zM65 173h2v1h-2zM80 173h1v1h-1zM92 173h1v1h-1zM64 174h2v1h-2zM80 174h1v1h-1zM91 174h3v1h-3zM47 175h1v1h-1zM64 175h1v1h-1zM80 175h1v1h-1zM90 175h5v1h-5zM63 176h2v1h-2zM80 176h1v1h-1zM89 176h7v1h-7zM62 177h4v1h-4zM80 177h1v1h-1zM88 177h3v1h-3zM94 177h3v1h-3zM47 178h1v1h-1zM61 178h2v1h-2zM65 178h1v1h-1zM80 178h1v1h-1zM88 178h2v1h-2zM95 178h2v1h-2zM61 179h1v1h-1zM65 179h2v1h-2zM80 179h1v1h-1zM88 179h2v1h-2zM95 179h3v1h-3zM60 180h1v1h-1zM66 180h2v1h-2zM80 180h1v1h-1zM88 180h2v1h-2zM96 180h3v1h-3zM59 181h2v1h-2zM67 181h2v1h-2zM80 181h1v1h-1zM88 181h3v1h-3zM97 181h2v1h-2zM111 181h3v1h-3zM59 182h1v1h-1zM67 182h3v1h-3zM79 182h2v1h-2zM88 182h4v1h-4zM97 182h3v1h-3zM107 182h10v1h-10zM58 183h1v1h-1zM68 183h13v1h-13zM89 183h4v1h-4zM97 183h4v1h-4zM105 183h5v1h-5zM113 183h11v1h-11zM57 184h2v1h-2zM91 184h2v1h-2zM98 184h3v1h-3zM103 184h5v1h-5zM116 184h8v1h-8zM57 185h1v1h-1zM92 185h1v1h-1zM98 185h8v1h-8zM118 185h1v1h-1zM121 185h2v1h-2zM92 186h1v1h-1zM98 186h7v1h-7zM56 187h1v1h-1zM92 187h2v1h-2zM98 187h5v1h-5zM56 188h1v1h-1zM92 188h2v1h-2zM97 188h6v1h-6zM46 189h1v1h-1zM56 189h1v1h-1zM92 189h10v1h-10zM56 190h1v1h-1zM92 190h10v1h-10zM56 191h1v1h-1zM93 191h10v1h-10zM45 192h1v1h-1zM56 192h1v1h-1zM93 192h11v1h-11zM56 193h1v1h-1zM94 193h11v1h-11zM56 194h1v1h-1zM98 194h8v1h-8zM45 195h1v1h-1zM56 195h1v1h-1zM100 195h6v1h-6zM56 196h1v1h-1zM101 196h5v1h-5zM55 197h1v1h-1zM102 197h5v1h-5zM102 198h4v1h-4zM102 199h4v1h-4zM45 200h1v1h-1zM53 200h1v1h-1zM102 200h3v1h-3zM34 201h1v1h-1zM52 201h1v1h-1zM101 201h3v1h-3zM101 202h2v1h-2zM35 203h1v1h-1zM51 203h1v1h-1zM100 203h2v1h-2zM35 204h1v1h-1zM100 204h1v1h-1zM35 205h1v1h-1zM50 205h1v1h-1zM99 205h2v1h-2zM35 206h1v1h-1zM49 206h1v1h-1zM99 206h1v1h-1zM46 207h1v1h-1zM48 207h1v1h-1zM98 207h2v1h-2zM36 208h1v1h-1zM46 208h2v1h-2zM97 208h2v1h-2zM36 209h1v1h-1zM46 209h2v1h-2zM36 210h1v1h-1zM46 210h2v1h-2zM46 211h2v1h-2zM46 212h2v1h-2zM45 213h3v1h-3zM37 214h1v1h-1zM45 214h3v1h-3zM38 215h1v1h-1zM45 215h2v1h-2zM42 216h5v1h-5zM46 217h1v1h-1zM46 218h1v1h-1zM46 219h1v1h-1zM46 220h1v1h-1zM46 221h1v1h-1zM46 222h1v1h-1zM46 223h1v1h-1zM46 224h1v1h-1zM46 225h1v1h-1zM45 227h1v1h-1zM45 228h1v1h-1zM45 229h1v1h-1zM45 231h1v1h-1zM45 232h1v1h-1zM45 233h1v1h-1zM45 234h1v1h-1zM45 235h1v1h-1zM45 236h1v1h-1zM45 237h1v1h-1zM45 238h1v1h-1zM46 240h1v1h-1zM46 241h1v1h-1zM46 242h1v1h-1zM46 243h1v1h-1zM46 244h1v1h-1zM46 245h1v1h-1zM47 247h1v1h-1zM47 248h1v1h-1zM47 249h1v1h-1zM48 250h1v1h-1zM49 252h1v1h-1zM50 253h1v1h-1zM51 254h2v1h-2zM56 254h1v1h-1zM53 255h2v1h-2z"/><path fill="#f5aa89" d="M32 9h1v1h-1zM30 10h2v1h-2zM55 10h2v1h-2zM53 11h1v1h-1zM55 11h1v1h-1zM54 12h1v1h-1zM39 16h1v1h-1zM42 17h2v1h-2zM48 18h1v1h-1zM28 19h1v1h-1zM38 21h1v1h-1zM38 23h1v1h-1zM44 25h1v1h-1zM38 26h1v1h-1zM38 27h1v1h-1zM43 27h1v1h-1zM31 28h1v1h-1zM31 29h1v1h-1zM25 30h1v1h-1zM25 31h1v1h-1zM36 31h1v1h-1zM40 32h1v1h-1zM35 37h1v1h-1zM24 38h1v1h-1zM19 49h1v1h-1zM24 50h1v1h-1zM22 53h1v1h-1zM14 55h1v1h-1zM20 59h1v1h-1zM13 61h1v1h-1zM12 64h1v1h-1zM19 64h1v1h-1zM11 67h1v1h-1zM19 71h1v1h-1zM19 72h1v1h-1zM11 73h1v1h-1zM12 75h1v1h-1zM21 77h1v1h-1zM14 78h1v1h-1zM15 81h1v1h-1zM24 82h1v1h-1zM25 86h1v1h-1zM17 90h1v1h-1zM28 93h1v1h-1zM21 96h1v1h-1zM31 96h1v1h-1zM33 97h1v1h-1zM21 98h1v1h-1zM21 99h1v1h-1zM36 100h1v1h-1zM25 101h1v1h-1zM42 105h1v1h-1zM44 106h1v1h-1zM29 107h1v1h-1zM52 109h1v1h-1zM31 110h1v1h-1zM54 110h1v1h-1zM59 113h1v1h-1zM61 114h1v1h-1zM38 115h1v1h-1zM65 115h1v1h-1zM39 116h1v1h-1zM68 116h2v1h-2zM72 117h1v1h-1zM74 118h1v1h-1zM76 119h1v1h-1zM77 120h1v1h-1zM78 121h1v1h-1zM78 122h2v1h-2zM47 123h1v1h-1zM79 123h1v1h-1zM48 125h1v1h-1zM80 125h1v1h-1zM81 126h1v1h-1zM82 127h2v1h-2zM83 128h2v1h-2zM84 129h1v1h-1zM51 130h1v1h-1zM84 130h2v1h-2zM85 131h1v1h-1zM84 132h2v1h-2zM83 133h3v1h-3zM83 134h2v1h-2zM84 135h2v1h-2zM85 136h3v1h-3zM86 137h3v1h-3zM88 138h2v1h-2zM52 139h1v1h-1zM89 139h2v1h-2zM90 140h3v1h-3zM91 141h4v1h-4zM92 142h4v1h-4zM95 143h1v1h-1zM96 144h1v1h-1zM96 145h1v1h-1zM98 146h5v1h-5zM102 147h1v1h-1zM102 148h1v1h-1zM51 149h1v1h-1zM102 149h1v1h-1zM51 150h1v1h-1zM102 150h1v1h-1zM102 151h4v1h-4zM106 152h2v1h-2zM108 153h2v1h-2zM110 154h10v1h-10zM49 155h1v1h-1zM110 155h7v1h-7zM120 155h1v1h-1zM49 156h1v1h-1zM111 156h4v1h-4zM120 156h2v1h-2zM121 157h2v1h-2zM49 158h1v1h-1zM121 158h3v1h-3zM49 159h1v1h-1zM123 159h3v1h-3zM49 160h1v1h-1zM124 160h3v1h-3zM49 161h1v1h-1zM126 161h1v1h-1zM49 162h1v1h-1zM127 162h1v1h-1zM48 163h1v1h-1zM128 163h1v1h-1zM44 164h2v1h-2zM47 164h1v1h-1zM129 164h1v1h-1zM44 165h3v1h-3zM118 165h2v1h-2zM130 165h1v1h-1zM43 166h4v1h-4zM118 166h2v1h-2zM131 166h2v1h-2zM43 167h4v1h-4zM132 167h2v1h-2zM43 168h4v1h-4zM133 168h5v1h-5zM43 169h5v1h-5zM134 169h1v1h-1zM43 170h5v1h-5zM46 171h2v1h-2zM46 172h1v1h-1zM42 173h1v1h-1zM44 185h1v1h-1zM44 186h2v1h-2zM43 187h1v1h-1zM45 187h1v1h-1zM43 188h1v1h-1zM43 189h2v1h-2zM42 190h1v1h-1zM42 191h1v1h-1zM42 192h2v1h-2zM41 193h1v1h-1zM43 193h1v1h-1zM41 194h1v1h-1zM40 197h1v1h-1zM40 198h1v1h-1zM40 199h1v1h-1zM40 200h1v1h-1zM40 201h1v1h-1zM43 201h1v1h-1zM66 201h7v1h-7zM62 202h4v1h-4zM73 202h1v1h-1zM60 203h2v1h-2zM75 203h1v1h-1zM40 204h1v1h-1zM58 204h2v1h-2zM76 204h2v1h-2zM83 204h1v1h-1zM57 205h2v1h-2zM78 205h8v1h-8zM41 206h2v1h-2zM56 206h2v1h-2zM79 206h3v1h-3zM85 206h2v1h-2zM41 207h2v1h-2zM55 207h1v1h-1zM86 207h2v1h-2zM41 208h2v1h-2zM54 208h1v1h-1zM86 208h2v1h-2zM40 209h2v1h-2zM53 209h1v1h-1zM86 209h1v1h-1zM40 210h2v1h-2zM53 210h1v1h-1zM86 210h1v1h-1zM40 211h2v1h-2zM52 212h1v1h-1zM85 212h1v1h-1zM52 213h1v1h-1zM85 213h1v1h-1zM52 214h1v1h-1zM85 214h1v1h-1zM52 215h1v1h-1zM53 216h1v1h-1zM53 217h2v1h-2zM54 218h1v1h-1zM53 219h2v1h-2zM53 220h1v1h-1zM53 221h1v1h-1zM53 222h1v1h-1zM52 224h1v1h-1zM52 225h1v1h-1zM52 226h1v1h-1zM52 227h1v1h-1zM51 229h1v1h-1zM50 230h1v1h-1zM49 231h1v1h-1zM49 232h1v1h-1zM49 236h1v1h-1zM50 237h1v1h-1zM51 238h1v1h-1zM51 239h1v1h-1zM51 240h1v1h-1zM70 241h2v1h-2zM52 242h1v1h-1zM69 242h2v1h-2zM69 243h1v1h-1zM53 244h1v1h-1zM69 244h1v1h-1zM53 245h1v1h-1zM68 245h1v1h-1zM68 246h1v1h-1zM54 247h1v1h-1zM67 247h1v1h-1zM54 248h1v1h-1zM54 249h1v1h-1zM55 250h1v1h-1zM61 251h3v1h-3z"/><path fill="#f9c2a7" d="M36 9h2v1h-2zM50 14h2v1h-2zM46 16h1v1h-1zM39 17h1v1h-1zM48 17h1v1h-1zM43 18h1v1h-1zM45 19h1v1h-1zM27 20h1v1h-1zM44 20h1v1h-1zM28 21h1v1h-1zM26 22h1v1h-1zM39 22h1v1h-1zM28 23h1v1h-1zM29 24h1v1h-1zM27 26h1v1h-1zM30 27h1v1h-1zM27 30h1v1h-1zM26 31h1v1h-1zM40 31h1v1h-1zM26 32h2v1h-2zM36 32h1v1h-1zM25 34h1v1h-1zM37 35h1v1h-1zM20 49h1v1h-1zM19 50h1v1h-1zM16 52h1v1h-1zM22 52h1v1h-1zM14 59h1v1h-1zM19 60h1v1h-1zM13 63h1v1h-1zM12 66h1v1h-1zM18 67h1v1h-1zM18 68h1v1h-1zM18 69h1v1h-1zM12 71h1v1h-1zM13 73h1v1h-1zM20 77h1v1h-1zM22 80h1v1h-1zM16 82h1v1h-1zM16 83h1v1h-1zM24 84h1v1h-1zM18 91h1v1h-1zM26 91h1v1h-1zM27 93h1v1h-1zM28 94h1v1h-1zM32 98h1v1h-1zM22 99h1v1h-1zM33 99h1v1h-1zM24 100h1v1h-1zM36 101h1v1h-1zM39 102h1v1h-1zM26 103h1v1h-1zM42 106h1v1h-1zM45 107h1v1h-1zM52 110h1v1h-1zM54 111h1v1h-1zM59 114h1v1h-1zM39 115h1v1h-1zM61 115h1v1h-1zM40 116h1v1h-1zM64 116h1v1h-1zM67 117h1v1h-1zM43 118h1v1h-1zM69 118h1v1h-1zM71 120h2v1h-2zM72 121h3v1h-3zM48 122h1v1h-1zM75 122h1v1h-1zM76 123h1v1h-1zM77 124h1v1h-1zM49 125h1v1h-1zM78 126h1v1h-1zM79 128h1v1h-1zM80 129h1v1h-1zM80 131h1v1h-1zM52 132h1v1h-1zM79 132h1v1h-1zM79 133h1v1h-1zM79 134h1v1h-1zM79 135h1v1h-1zM79 136h2v1h-2zM80 137h1v1h-1zM81 138h1v1h-1zM53 139h1v1h-1zM81 139h2v1h-2zM53 140h1v1h-1zM82 140h1v1h-1zM83 141h1v1h-1zM84 142h2v1h-2zM85 143h2v1h-2zM85 144h2v1h-2zM86 145h2v1h-2zM87 146h2v1h-2zM52 147h1v1h-1zM88 147h2v1h-2zM89 148h2v1h-2zM94 148h1v1h-1zM90 149h6v1h-6zM91 150h6v1h-6zM94 151h3v1h-3zM95 152h2v1h-2zM96 153h2v1h-2zM96 154h2v1h-2zM97 155h2v1h-2zM103 155h3v1h-3zM98 156h3v1h-3zM102 156h5v1h-5zM50 157h1v1h-1zM100 157h3v1h-3zM104 157h3v1h-3zM50 158h1v1h-1zM104 158h3v1h-3zM104 159h3v1h-3zM104 160h3v1h-3zM50 161h1v1h-1zM105 161h2v1h-2zM105 162h3v1h-3zM106 163h3v1h-3zM106 164h6v1h-6zM109 165h4v1h-4zM112 166h2v1h-2zM113 167h1v1h-1zM126 167h1v1h-1zM113 168h2v1h-2zM124 168h4v1h-4zM48 169h1v1h-1zM114 169h1v1h-1zM123 169h5v1h-5zM114 170h2v1h-2zM121 170h8v1h-8zM115 171h8v1h-8zM126 171h3v1h-3zM127 172h3v1h-3zM127 173h3v1h-3zM128 174h3v1h-3zM129 175h2v1h-2zM129 176h2v1h-2zM129 177h2v1h-2zM129 178h1v1h-1zM68 192h9v1h-9zM44 193h1v1h-1zM68 193h9v1h-9zM68 194h9v1h-9zM44 195h1v1h-1zM67 195h10v1h-10zM66 196h12v1h-12zM65 197h3v1h-3zM73 197h6v1h-6zM62 198h3v1h-3zM76 198h7v1h-7zM59 199h3v1h-3zM79 199h7v1h-7zM37 200h1v1h-1zM57 200h2v1h-2zM85 200h3v1h-3zM37 201h1v1h-1zM44 201h1v1h-1zM56 201h1v1h-1zM87 201h3v1h-3zM37 202h1v1h-1zM55 202h1v1h-1zM89 202h4v1h-4zM54 203h1v1h-1zM91 203h3v1h-3zM53 204h1v1h-1zM92 204h2v1h-2zM38 205h1v1h-1zM52 205h1v1h-1zM92 205h2v1h-2zM38 206h1v1h-1zM44 206h1v1h-1zM92 206h1v1h-1zM38 207h1v1h-1zM44 207h1v1h-1zM51 207h1v1h-1zM92 207h1v1h-1zM38 208h1v1h-1zM44 208h1v1h-1zM50 208h1v1h-1zM91 208h1v1h-1zM38 209h1v1h-1zM50 209h1v1h-1zM91 209h1v1h-1zM38 210h1v1h-1zM50 210h1v1h-1zM91 210h1v1h-1zM38 211h1v1h-1zM50 211h1v1h-1zM43 212h1v1h-1zM43 213h1v1h-1zM39 214h2v1h-2zM42 214h1v1h-1zM49 214h1v1h-1zM49 215h1v1h-1zM50 217h1v1h-1zM50 218h1v1h-1zM50 219h1v1h-1zM50 220h1v1h-1zM49 222h1v1h-1zM49 223h1v1h-1zM49 224h1v1h-1zM49 225h1v1h-1zM49 226h1v1h-1zM49 227h1v1h-1zM48 228h1v1h-1zM47 230h1v1h-1zM47 234h1v1h-1zM47 235h1v1h-1zM47 236h1v1h-1zM47 237h1v1h-1zM48 240h1v1h-1zM48 241h1v1h-1zM49 242h1v1h-1zM49 243h1v1h-1zM50 244h1v1h-1zM50 245h1v1h-1zM51 246h1v1h-1zM51 247h1v1h-1zM51 248h1v1h-1zM51 249h1v1h-1zM51 250h1v1h-1zM52 251h2v1h-2zM54 252h1v1h-1zM58 253h3v1h-3z"/><path fill="#b82531" d="M32 13h3v1h-3zM33 14h1v1h-1zM67 14h2v1h-2zM62 15h5v1h-5zM70 15h2v1h-2zM73 15h4v1h-4zM59 16h1v1h-1zM77 16h1v1h-1zM58 17h1v1h-1zM78 17h1v1h-1zM77 18h2v1h-2zM76 19h2v1h-2zM57 20h1v1h-1zM76 20h1v1h-1zM21 21h1v1h-1zM57 21h1v1h-1zM75 21h1v1h-1zM21 22h2v1h-2zM57 22h1v1h-1zM75 22h1v1h-1zM21 23h2v1h-2zM57 23h1v1h-1zM75 23h1v1h-1zM21 24h2v1h-2zM56 24h1v1h-1zM74 24h1v1h-1zM21 25h2v1h-2zM56 25h1v1h-1zM21 26h2v1h-2zM34 26h1v1h-1zM56 26h1v1h-1zM73 26h1v1h-1zM21 27h2v1h-2zM34 27h1v1h-1zM56 27h2v1h-2zM72 27h1v1h-1zM21 28h2v1h-2zM34 28h1v1h-1zM58 28h2v1h-2zM70 28h2v1h-2zM21 29h1v1h-1zM59 29h2v1h-2zM69 29h2v1h-2zM21 30h1v1h-1zM60 30h2v1h-2zM68 30h3v1h-3zM21 31h2v1h-2zM61 31h3v1h-3zM67 31h3v1h-3zM21 32h2v1h-2zM62 32h3v1h-3zM66 32h4v1h-4zM63 33h6v1h-6zM65 34h4v1h-4zM66 35h2v1h-2zM83 35h5v1h-5zM82 36h3v1h-3zM87 36h2v1h-2zM82 37h3v1h-3zM88 37h1v1h-1zM84 38h5v1h-5zM86 39h3v1h-3zM36 40h3v1h-3zM35 41h3v1h-3zM36 42h2v1h-2zM44 57h3v1h-3zM39 58h1v1h-1zM43 58h5v1h-5zM38 59h11v1h-11zM38 60h6v1h-6zM47 60h4v1h-4zM38 61h5v1h-5zM48 61h4v1h-4zM38 62h4v1h-4zM49 62h5v1h-5zM37 63h3v1h-3zM51 63h4v1h-4zM37 64h2v1h-2zM52 64h4v1h-4zM37 65h2v1h-2zM53 65h4v1h-4zM37 66h1v1h-1zM55 66h3v1h-3zM37 67h1v1h-1zM55 67h4v1h-4zM37 68h1v1h-1zM57 68h8v1h-8zM37 69h1v1h-1zM63 69h3v1h-3zM36 70h2v1h-2zM64 70h3v1h-3zM36 71h1v1h-1zM65 71h3v1h-3zM36 72h1v1h-1zM66 72h3v1h-3zM36 73h1v1h-1zM67 73h3v1h-3zM36 74h1v1h-1zM66 74h4v1h-4zM37 75h1v1h-1zM65 75h3v1h-3zM38 76h1v1h-1zM63 76h3v1h-3zM39 77h1v1h-1zM61 77h3v1h-3zM40 78h2v1h-2zM59 78h3v1h-3zM42 79h1v1h-1zM57 79h3v1h-3zM43 80h2v1h-2zM54 80h3v1h-3zM45 81h8v1h-8zM154 81h1v1h-1zM153 82h3v1h-3zM152 83h4v1h-4zM152 84h2v1h-2zM155 84h2v1h-2zM131 85h5v1h-5zM152 85h1v1h-1zM156 85h1v1h-1zM30 86h1v1h-1zM131 86h1v1h-1zM135 86h4v1h-4zM152 86h1v1h-1zM156 86h1v1h-1zM130 87h2v1h-2zM137 87h3v1h-3zM152 87h4v1h-4zM130 88h1v1h-1zM138 88h2v1h-2zM153 88h2v1h-2zM130 89h1v1h-1zM139 89h2v1h-2zM129 90h2v1h-2zM140 90h1v1h-1zM129 91h1v1h-1zM140 91h2v1h-2zM129 92h1v1h-1zM140 92h2v1h-2zM128 93h2v1h-2zM141 93h1v1h-1zM128 94h1v1h-1zM141 94h1v1h-1zM128 95h1v1h-1zM141 95h1v1h-1zM59 96h10v1h-10zM127 96h2v1h-2zM141 96h1v1h-1zM59 97h3v1h-3zM67 97h4v1h-4zM127 97h2v1h-2zM141 97h1v1h-1zM59 98h2v1h-2zM69 98h4v1h-4zM127 98h2v1h-2zM141 98h1v1h-1zM60 99h1v1h-1zM70 99h3v1h-3zM127 99h2v1h-2zM140 99h2v1h-2zM60 100h1v1h-1zM69 100h4v1h-4zM103 100h3v1h-3zM127 100h2v1h-2zM140 100h2v1h-2zM60 101h2v1h-2zM68 101h4v1h-4zM102 101h5v1h-5zM127 101h2v1h-2zM138 101h3v1h-3zM61 102h10v1h-10zM101 102h6v1h-6zM127 102h2v1h-2zM134 102h6v1h-6zM61 103h9v1h-9zM100 103h4v1h-4zM106 103h2v1h-2zM127 103h1v1h-1zM133 103h6v1h-6zM62 104h6v1h-6zM99 104h4v1h-4zM107 104h2v1h-2zM127 104h1v1h-1zM133 104h4v1h-4zM99 105h3v1h-3zM107 105h3v1h-3zM126 105h2v1h-2zM133 105h3v1h-3zM99 106h3v1h-3zM108 106h2v1h-2zM126 106h2v1h-2zM132 106h3v1h-3zM99 107h3v1h-3zM108 107h3v1h-3zM126 107h1v1h-1zM132 107h3v1h-3zM99 108h3v1h-3zM109 108h2v1h-2zM125 108h2v1h-2zM131 108h3v1h-3zM145 108h1v1h-1zM99 109h3v1h-3zM109 109h3v1h-3zM124 109h2v1h-2zM131 109h3v1h-3zM143 109h4v1h-4zM99 110h3v1h-3zM110 110h2v1h-2zM123 110h2v1h-2zM130 110h3v1h-3zM143 110h2v1h-2zM146 110h2v1h-2zM99 111h3v1h-3zM110 111h2v1h-2zM122 111h3v1h-3zM130 111h3v1h-3zM143 111h1v1h-1zM146 111h2v1h-2zM99 112h2v1h-2zM109 112h2v1h-2zM123 112h2v1h-2zM128 112h3v1h-3zM143 112h5v1h-5zM99 113h2v1h-2zM109 113h1v1h-1zM123 113h2v1h-2zM128 113h2v1h-2zM143 113h3v1h-3zM99 114h1v1h-1zM109 114h1v1h-1zM123 114h1v1h-1zM127 114h2v1h-2zM99 115h1v1h-1zM109 115h1v1h-1zM123 115h1v1h-1zM127 115h1v1h-1zM99 116h1v1h-1zM109 116h1v1h-1zM122 116h1v1h-1zM127 116h1v1h-1zM99 117h5v1h-5zM109 117h1v1h-1zM122 117h1v1h-1zM126 117h2v1h-2zM105 118h5v1h-5zM123 118h3v1h-3zM107 119h3v1h-3zM123 119h2v1h-2zM166 134h1v1h-1zM165 135h2v1h-2zM169 135h1v1h-1zM166 136h3v1h-3zM171 136h1v1h-1zM167 137h2v1h-2zM159 138h1v1h-1zM170 138h1v1h-1zM155 139h7v1h-7zM153 140h2v1h-2zM161 140h2v1h-2zM152 141h2v1h-2zM161 141h1v1h-1zM151 142h2v1h-2zM160 142h1v1h-1zM151 143h2v1h-2zM157 143h3v1h-3zM151 144h2v1h-2zM156 144h2v1h-2zM151 145h5v1h-5zM152 146h1v1h-1z"/><path fill="#b41c2d" d="M67 15h3v1h-3zM60 16h1v1h-1zM72 16h5v1h-5zM76 17h2v1h-2zM58 18h1v1h-1zM76 18h1v1h-1zM58 19h1v1h-1zM75 19h1v1h-1zM58 20h1v1h-1zM75 20h1v1h-1zM58 21h1v1h-1zM58 22h1v1h-1zM74 22h1v1h-1zM74 23h1v1h-1zM57 24h1v1h-1zM73 24h1v1h-1zM57 25h1v1h-1zM72 25h2v1h-2zM57 26h1v1h-1zM70 26h3v1h-3zM58 27h2v1h-2zM69 27h3v1h-3zM60 28h2v1h-2zM67 28h3v1h-3zM22 29h1v1h-1zM61 29h2v1h-2zM66 29h3v1h-3zM22 30h1v1h-1zM62 30h6v1h-6zM64 31h3v1h-3zM65 32h1v1h-1zM85 36h2v1h-2zM85 37h3v1h-3zM44 60h3v1h-3zM43 61h5v1h-5zM42 62h7v1h-7zM40 63h4v1h-4zM47 63h4v1h-4zM39 64h4v1h-4zM49 64h3v1h-3zM39 65h3v1h-3zM50 65h3v1h-3zM38 66h3v1h-3zM51 66h4v1h-4zM38 67h2v1h-2zM52 67h3v1h-3zM38 68h1v1h-1zM54 68h3v1h-3zM38 69h1v1h-1zM56 69h7v1h-7zM38 70h1v1h-1zM58 70h6v1h-6zM37 71h1v1h-1zM62 71h3v1h-3zM37 72h1v1h-1zM63 72h3v1h-3zM37 73h1v1h-1zM64 73h3v1h-3zM37 74h1v1h-1zM63 74h3v1h-3zM38 75h1v1h-1zM62 75h3v1h-3zM39 76h1v1h-1zM60 76h3v1h-3zM40 77h2v1h-2zM58 77h3v1h-3zM42 78h1v1h-1zM56 78h3v1h-3zM43 79h2v1h-2zM54 79h3v1h-3zM45 80h9v1h-9zM154 84h1v1h-1zM153 85h3v1h-3zM132 86h3v1h-3zM153 86h3v1h-3zM132 87h5v1h-5zM131 88h7v1h-7zM131 89h8v1h-8zM131 90h9v1h-9zM130 91h10v1h-10zM130 92h10v1h-10zM130 93h11v1h-11zM129 94h5v1h-5zM135 94h6v1h-6zM129 95h5v1h-5zM136 95h5v1h-5zM129 96h12v1h-12zM62 97h5v1h-5zM129 97h12v1h-12zM61 98h8v1h-8zM129 98h12v1h-12zM61 99h9v1h-9zM129 99h11v1h-11zM61 100h8v1h-8zM129 100h11v1h-11zM62 101h6v1h-6zM129 101h9v1h-9zM129 102h5v1h-5zM104 103h2v1h-2zM128 103h5v1h-5zM103 104h4v1h-4zM128 104h5v1h-5zM102 105h5v1h-5zM128 105h5v1h-5zM102 106h6v1h-6zM128 106h4v1h-4zM102 107h6v1h-6zM127 107h5v1h-5zM102 108h7v1h-7zM127 108h4v1h-4zM102 109h7v1h-7zM126 109h5v1h-5zM102 110h8v1h-8zM125 110h5v1h-5zM145 110h1v1h-1zM102 111h8v1h-8zM125 111h5v1h-5zM144 111h2v1h-2zM101 112h8v1h-8zM125 112h3v1h-3zM101 113h8v1h-8zM125 113h3v1h-3zM100 114h9v1h-9zM124 114h3v1h-3zM100 115h9v1h-9zM124 115h3v1h-3zM100 116h9v1h-9zM123 116h4v1h-4zM104 117h5v1h-5zM123 117h3v1h-3zM169 136h2v1h-2zM169 137h2v1h-2zM155 140h6v1h-6zM154 141h7v1h-7zM153 142h7v1h-7zM153 143h4v1h-4zM153 144h3v1h-3z"/><path fill="#ae172a" d="M61 16h6v1h-6zM69 16h3v1h-3zM59 17h1v1h-1zM74 17h2v1h-2zM59 18h1v1h-1zM75 18h1v1h-1zM59 19h1v1h-1zM74 19h1v1h-1zM59 20h1v1h-1zM74 20h1v1h-1zM59 21h1v1h-1zM73 21h2v1h-2zM72 22h2v1h-2zM58 23h1v1h-1zM71 23h3v1h-3zM58 24h1v1h-1zM70 24h3v1h-3zM58 25h1v1h-1zM69 25h3v1h-3zM58 26h2v1h-2zM67 26h3v1h-3zM60 27h2v1h-2zM66 27h3v1h-3zM62 28h5v1h-5zM63 29h3v1h-3zM44 63h3v1h-3zM43 64h6v1h-6zM42 65h8v1h-8zM41 66h3v1h-3zM48 66h3v1h-3zM40 67h3v1h-3zM49 67h3v1h-3zM39 68h2v1h-2zM51 68h3v1h-3zM39 69h1v1h-1zM52 69h4v1h-4zM39 70h1v1h-1zM54 70h4v1h-4zM38 71h2v1h-2zM56 71h6v1h-6zM38 72h1v1h-1zM59 72h4v1h-4zM38 73h1v1h-1zM61 73h3v1h-3zM38 74h1v1h-1zM60 74h3v1h-3zM39 75h1v1h-1zM59 75h3v1h-3zM40 76h2v1h-2zM57 76h3v1h-3zM42 77h1v1h-1zM55 77h3v1h-3zM43 78h2v1h-2zM52 78h4v1h-4zM45 79h9v1h-9zM134 94h1v1h-1zM134 95h2v1h-2z"/><path fill="#a51429" d="M67 16h2v1h-2zM60 17h1v1h-1zM71 17h3v1h-3zM73 18h2v1h-2zM72 19h2v1h-2zM71 20h3v1h-3zM70 21h3v1h-3zM59 22h1v1h-1zM69 22h3v1h-3zM59 23h1v1h-1zM68 23h3v1h-3zM59 24h1v1h-1zM67 24h3v1h-3zM59 25h1v1h-1zM66 25h3v1h-3zM60 26h2v1h-2zM64 26h3v1h-3zM62 27h4v1h-4zM44 66h4v1h-4zM43 67h6v1h-6zM41 68h3v1h-3zM47 68h4v1h-4zM40 69h3v1h-3zM49 69h3v1h-3zM40 70h2v1h-2zM51 70h3v1h-3zM40 71h1v1h-1zM53 71h3v1h-3zM39 72h2v1h-2zM55 72h4v1h-4zM39 73h1v1h-1zM57 73h4v1h-4zM39 74h2v1h-2zM57 74h3v1h-3zM40 75h2v1h-2zM55 75h4v1h-4zM42 76h1v1h-1zM53 76h4v1h-4zM43 77h2v1h-2zM48 77h7v1h-7zM45 78h7v1h-7z"/><path fill="#9c1127" d="M61 17h10v1h-10zM60 18h1v1h-1zM69 18h4v1h-4zM60 19h1v1h-1zM69 19h3v1h-3zM60 20h1v1h-1zM68 20h3v1h-3zM60 21h1v1h-1zM67 21h3v1h-3zM60 22h1v1h-1zM66 22h3v1h-3zM60 23h1v1h-1zM65 23h3v1h-3zM60 24h1v1h-1zM64 24h3v1h-3zM60 25h6v1h-6zM62 26h2v1h-2zM44 68h3v1h-3zM43 69h6v1h-6zM42 70h2v1h-2zM48 70h3v1h-3zM41 71h2v1h-2zM50 71h3v1h-3zM41 72h1v1h-1zM52 72h3v1h-3zM40 73h2v1h-2zM54 73h3v1h-3zM41 74h1v1h-1zM54 74h3v1h-3zM42 75h1v1h-1zM52 75h3v1h-3zM43 76h2v1h-2zM48 76h5v1h-5zM45 77h3v1h-3z"/><path fill="#fcd5bf" d="M40 18h1v1h-1zM39 19h1v1h-1zM43 19h1v1h-1zM43 20h1v1h-1zM39 25h1v1h-1zM39 26h1v1h-1zM28 27h2v1h-2zM26 28h1v1h-1zM30 29h1v1h-1zM30 30h1v1h-1zM26 33h1v1h-1zM36 34h2v1h-2zM30 36h1v1h-1zM29 39h1v1h-1zM25 43h1v1h-1zM24 45h1v1h-1zM25 47h1v1h-1zM20 50h1v1h-1zM23 50h1v1h-1zM15 55h1v1h-1zM20 56h1v1h-1zM14 61h1v1h-1zM13 64h1v1h-1zM12 68h1v1h-1zM12 69h1v1h-1zM14 73h1v1h-1zM16 78h1v1h-1zM22 81h1v1h-1zM17 86h1v1h-1zM25 90h1v1h-1zM27 94h1v1h-1zM28 95h1v1h-1zM32 99h1v1h-1zM33 100h1v1h-1zM37 102h1v1h-1zM39 103h1v1h-1zM27 104h1v1h-1zM30 107h1v1h-1zM43 107h1v1h-1zM47 108h1v1h-1zM51 110h1v1h-1zM33 111h1v1h-1zM53 111h1v1h-1zM64 117h1v1h-1zM66 118h1v1h-1zM68 119h1v1h-1zM46 120h1v1h-1zM48 121h1v1h-1zM71 122h1v1h-1zM49 124h1v1h-1zM72 124h1v1h-1zM73 125h3v1h-3zM74 126h3v1h-3zM76 127h1v1h-1zM77 128h1v1h-1zM78 129h1v1h-1zM78 130h1v1h-1zM78 131h1v1h-1zM77 132h1v1h-1zM76 134h1v1h-1zM53 137h1v1h-1zM75 137h1v1h-1zM75 138h1v1h-1zM75 139h1v1h-1zM75 140h1v1h-1zM75 141h2v1h-2zM54 142h1v1h-1zM74 142h3v1h-3zM54 143h1v1h-1zM74 143h4v1h-4zM54 144h1v1h-1zM74 144h4v1h-4zM74 145h5v1h-5zM53 146h1v1h-1zM74 146h5v1h-5zM74 147h5v1h-5zM74 148h5v1h-5zM74 149h5v1h-5zM52 150h1v1h-1zM74 150h5v1h-5zM74 151h6v1h-6zM74 152h7v1h-7zM74 153h8v1h-8zM74 154h9v1h-9zM74 155h10v1h-10zM51 156h1v1h-1zM74 156h9v1h-9zM85 156h4v1h-4zM74 157h8v1h-8zM85 157h8v1h-8zM74 158h7v1h-7zM86 158h8v1h-8zM73 159h7v1h-7zM86 159h10v1h-10zM73 160h6v1h-6zM87 160h9v1h-9zM73 161h6v1h-6zM87 161h9v1h-9zM72 162h6v1h-6zM88 162h8v1h-8zM72 163h6v1h-6zM88 163h7v1h-7zM72 164h6v1h-6zM88 164h7v1h-7zM48 165h1v1h-1zM72 165h6v1h-6zM88 165h7v1h-7zM74 166h7v1h-7zM88 166h7v1h-7zM78 167h4v1h-4zM88 167h7v1h-7zM81 168h2v1h-2zM88 168h7v1h-7zM81 169h2v1h-2zM88 169h7v1h-7zM81 170h2v1h-2zM88 170h8v1h-8zM81 171h2v1h-2zM88 171h8v1h-8zM81 172h2v1h-2zM88 172h8v1h-8zM81 173h2v1h-2zM88 173h4v1h-4zM93 173h4v1h-4zM81 174h2v1h-2zM88 174h3v1h-3zM94 174h3v1h-3zM81 175h2v1h-2zM87 175h3v1h-3zM95 175h3v1h-3zM81 176h2v1h-2zM87 176h2v1h-2zM96 176h3v1h-3zM81 177h2v1h-2zM86 177h2v1h-2zM97 177h2v1h-2zM63 178h2v1h-2zM81 178h2v1h-2zM86 178h2v1h-2zM97 178h3v1h-3zM47 179h1v1h-1zM62 179h3v1h-3zM81 179h2v1h-2zM86 179h2v1h-2zM98 179h3v1h-3zM111 179h5v1h-5zM123 179h2v1h-2zM61 180h5v1h-5zM81 180h2v1h-2zM86 180h2v1h-2zM99 180h3v1h-3zM107 180h11v1h-11zM122 180h4v1h-4zM61 181h6v1h-6zM81 181h2v1h-2zM86 181h2v1h-2zM99 181h4v1h-4zM104 181h7v1h-7zM114 181h12v1h-12zM46 182h1v1h-1zM60 182h7v1h-7zM81 182h2v1h-2zM86 182h2v1h-2zM100 182h7v1h-7zM117 182h8v1h-8zM59 183h5v1h-5zM66 183h2v1h-2zM81 183h2v1h-2zM86 183h3v1h-3zM101 183h4v1h-4zM124 183h1v1h-1zM59 184h4v1h-4zM67 184h16v1h-16zM86 184h5v1h-5zM101 184h2v1h-2zM46 185h1v1h-1zM58 185h4v1h-4zM87 185h5v1h-5zM57 186h5v1h-5zM88 186h4v1h-4zM57 187h5v1h-5zM88 187h4v1h-4zM57 188h4v1h-4zM88 188h4v1h-4zM57 189h4v1h-4zM88 189h4v1h-4zM57 190h4v1h-4zM88 190h4v1h-4zM45 191h1v1h-1zM57 191h4v1h-4zM88 191h5v1h-5zM57 192h4v1h-4zM88 192h5v1h-5zM57 193h4v1h-4zM88 193h6v1h-6zM57 194h4v1h-4zM88 194h10v1h-10zM57 195h3v1h-3zM88 195h12v1h-12zM45 196h1v1h-1zM57 196h2v1h-2zM88 196h13v1h-13zM56 197h2v1h-2zM89 197h13v1h-13zM45 198h1v1h-1zM55 198h1v1h-1zM91 198h11v1h-11zM45 199h1v1h-1zM54 199h1v1h-1zM97 199h5v1h-5zM35 200h1v1h-1zM99 200h3v1h-3zM35 201h1v1h-1zM53 201h1v1h-1zM99 201h2v1h-2zM35 202h1v1h-1zM52 202h1v1h-1zM99 202h2v1h-2zM98 203h2v1h-2zM51 204h1v1h-1zM98 204h2v1h-2zM36 205h1v1h-1zM97 205h2v1h-2zM36 206h1v1h-1zM45 206h1v1h-1zM50 206h1v1h-1zM97 206h2v1h-2zM36 207h1v1h-1zM49 207h1v1h-1zM96 207h2v1h-2zM48 208h1v1h-1zM96 208h1v1h-1zM45 209h1v1h-1zM48 209h1v1h-1zM95 209h2v1h-2zM37 210h1v1h-1zM45 210h1v1h-1zM48 210h1v1h-1zM37 211h1v1h-1zM45 211h1v1h-1zM48 211h1v1h-1zM37 212h1v1h-1zM45 212h1v1h-1zM37 213h1v1h-1zM39 215h1v1h-1zM44 215h1v1h-1zM47 215h1v1h-1zM47 216h1v1h-1zM47 217h1v1h-1zM47 218h1v1h-1zM47 219h1v1h-1zM47 220h1v1h-1zM47 221h1v1h-1zM47 222h1v1h-1zM47 223h1v1h-1zM46 226h1v1h-1zM46 227h1v1h-1zM46 228h1v1h-1zM45 230h1v1h-1zM46 239h1v1h-1zM47 244h1v1h-1zM47 245h1v1h-1zM47 246h1v1h-1zM48 247h1v1h-1zM48 248h1v1h-1zM48 249h1v1h-1zM49 250h1v1h-1zM49 251h1v1h-1zM50 252h1v1h-1zM51 253h2v1h-2zM53 254h1v1h-1zM55 254h1v1h-1zM57 254h1v1h-1z"/><path fill="#930e26" d="M61 18h8v1h-8zM61 19h8v1h-8zM61 20h7v1h-7zM61 21h6v1h-6zM61 22h5v1h-5zM61 23h4v1h-4zM61 24h3v1h-3zM44 70h4v1h-4zM43 71h2v1h-2zM47 71h3v1h-3zM42 72h2v1h-2zM49 72h3v1h-3zM42 73h1v1h-1zM50 73h4v1h-4zM42 74h2v1h-2zM50 74h4v1h-4zM43 75h2v1h-2zM48 75h4v1h-4zM45 76h3v1h-3z"/><path fill="#fbe4d6" d="M41 20h1v1h-1zM41 21h1v1h-1zM41 22h1v1h-1zM40 24h1v1h-1zM43 24h1v1h-1zM39 30h1v1h-1zM29 33h1v1h-1zM27 34h1v1h-1zM27 35h1v1h-1zM27 36h1v1h-1zM29 36h1v1h-1zM27 37h1v1h-1zM29 37h1v1h-1zM27 38h2v1h-2zM27 39h2v1h-2zM27 40h1v1h-1zM27 41h1v1h-1zM23 48h1v1h-1zM22 49h1v1h-1zM22 50h1v1h-1zM20 51h2v1h-2zM18 52h1v1h-1zM15 58h1v1h-1zM18 60h1v1h-1zM14 63h1v1h-1zM13 67h1v1h-1zM17 67h1v1h-1zM17 68h1v1h-1zM14 69h1v1h-1zM15 71h1v1h-1zM17 71h1v1h-1zM15 72h1v1h-1zM16 74h1v1h-1zM17 75h1v1h-1zM17 76h1v1h-1zM17 77h2v1h-2zM17 78h1v1h-1zM20 80h1v1h-1zM21 81h1v1h-1zM22 82h1v1h-1zM24 88h1v1h-1zM25 92h1v1h-1zM26 95h1v1h-1zM33 101h1v1h-1zM27 103h1v1h-1zM37 103h1v1h-1zM44 108h1v1h-1zM54 112h1v1h-1zM37 113h1v1h-1zM58 115h1v1h-1zM42 116h1v1h-1zM63 118h1v1h-1zM64 119h1v1h-1zM47 120h1v1h-1zM66 120h1v1h-1zM68 121h1v1h-1zM69 122h1v1h-1zM71 125h1v1h-1zM52 129h1v1h-1zM75 129h1v1h-1zM75 130h1v1h-1zM75 131h1v1h-1zM74 133h1v1h-1zM73 135h1v1h-1zM73 136h1v1h-1zM73 137h1v1h-1zM54 138h1v1h-1zM72 140h1v1h-1zM72 141h1v1h-1zM72 142h1v1h-1zM55 143h1v1h-1zM55 144h1v1h-1zM54 146h1v1h-1zM53 148h1v1h-1zM71 157h1v1h-1zM70 160h1v1h-1zM50 163h1v1h-1zM69 163h1v1h-1zM68 165h1v1h-1zM67 167h1v1h-1zM66 168h1v1h-1zM65 170h1v1h-1zM64 171h1v1h-1zM72 171h2v1h-2zM71 172h6v1h-6zM63 173h1v1h-1zM70 173h2v1h-2zM75 173h2v1h-2zM70 174h1v1h-1zM76 174h2v1h-2zM69 175h2v1h-2zM76 175h2v1h-2zM69 176h2v1h-2zM76 176h2v1h-2zM60 177h1v1h-1zM69 177h2v1h-2zM76 177h2v1h-2zM59 178h1v1h-1zM70 178h2v1h-2zM76 178h1v1h-1zM71 179h6v1h-6zM58 180h1v1h-1zM57 181h1v1h-1zM56 184h1v1h-1zM55 187h1v1h-1zM54 196h1v1h-1zM53 197h1v1h-1zM52 198h1v1h-1zM51 200h1v1h-1zM50 201h1v1h-1zM50 202h1v1h-1zM45 203h1v1h-1zM49 204h1v1h-1zM46 205h1v1h-1zM35 213h1v1h-1zM35 214h1v1h-1zM35 215h1v1h-1zM36 216h3v1h-3zM41 217h1v1h-1zM43 218h1v1h-1zM43 219h1v1h-1zM42 220h2v1h-2zM42 221h2v1h-2zM42 222h2v1h-2zM42 223h2v1h-2zM42 224h1v1h-1zM42 225h1v1h-1zM42 226h1v1h-1zM42 227h1v1h-1zM43 228h1v1h-1zM43 229h1v1h-1zM43 231h1v1h-1zM43 232h1v1h-1zM43 233h1v1h-1zM43 234h1v1h-1zM43 235h1v1h-1zM43 236h1v1h-1zM43 237h1v1h-1zM44 239h1v1h-1zM45 240h1v1h-1zM45 241h1v1h-1zM45 242h1v1h-1zM45 243h1v1h-1zM45 244h1v1h-1zM45 245h1v1h-1zM45 246h1v1h-1zM45 247h1v1h-1zM45 248h1v1h-1zM45 249h1v1h-1zM45 250h1v1h-1zM46 251h1v1h-1zM46 252h1v1h-1zM47 253h1v1h-1zM48 254h1v1h-1zM49 255h1v1h-1zM51 256h1v1h-1zM57 256h1v1h-1zM54 257h2v1h-2z"/><path fill="#f7f6f6" d="M41 25h1v1h-1zM17 54h1v1h-1zM16 57h1v1h-1zM18 57h1v1h-1zM17 61h1v1h-1zM15 63h1v1h-1zM15 66h2v1h-2zM19 83h1v1h-1zM21 83h1v1h-1zM19 84h1v1h-1zM22 84h1v1h-1zM19 85h1v1h-1zM19 86h1v1h-1zM19 87h1v1h-1zM23 87h1v1h-1zM24 93h1v1h-1zM24 94h1v1h-1zM23 95h2v1h-2zM24 96h1v1h-1zM24 97h2v1h-2zM24 98h4v1h-4zM28 99h1v1h-1zM28 100h1v1h-1zM28 101h1v1h-1zM32 102h1v1h-1zM28 103h1v1h-1zM30 106h1v1h-1zM40 107h1v1h-1zM43 109h1v1h-1zM47 110h1v1h-1zM49 111h1v1h-1zM52 112h1v1h-1zM48 119h1v1h-1zM50 120h1v1h-1zM64 122h1v1h-1zM66 123h1v1h-1zM67 124h1v1h-1zM68 125h1v1h-1zM69 126h1v1h-1zM70 128h1v1h-1zM71 129h1v1h-1zM53 130h1v1h-1zM71 131h1v1h-1zM71 132h1v1h-1zM54 133h1v1h-1zM70 133h1v1h-1zM70 134h1v1h-1zM70 135h1v1h-1zM55 138h1v1h-1zM69 139h1v1h-1zM69 140h1v1h-1zM56 141h1v1h-1zM69 141h1v1h-1zM69 142h1v1h-1zM56 145h1v1h-1zM55 148h1v1h-1zM69 151h1v1h-1zM69 152h1v1h-1zM69 153h1v1h-1zM69 156h1v1h-1zM68 159h1v1h-1zM52 160h1v1h-1zM67 161h1v1h-1zM66 163h1v1h-1zM50 164h1v1h-1zM65 165h1v1h-1zM49 166h1v1h-1zM64 167h1v1h-1zM63 168h1v1h-1zM62 170h1v1h-1zM61 172h1v1h-1zM60 173h1v1h-1zM59 174h1v1h-1zM58 175h1v1h-1zM57 176h1v1h-1zM48 177h1v1h-1zM56 178h1v1h-1zM55 182h1v1h-1zM47 183h1v1h-1zM47 184h1v1h-1zM53 188h1v1h-1zM47 192h1v1h-1zM47 194h1v1h-1zM47 195h1v1h-1zM47 196h1v1h-1zM50 196h1v1h-1zM47 197h1v1h-1zM49 197h1v1h-1zM47 198h1v1h-1zM47 199h2v1h-2zM47 200h2v1h-2zM47 201h1v1h-1zM32 221h1v1h-1zM32 222h1v1h-1zM32 223h2v1h-2zM32 224h2v1h-2zM33 225h1v1h-1zM33 226h2v1h-2zM34 227h2v1h-2zM35 228h2v1h-2zM37 229h1v1h-1zM39 230h1v1h-1zM40 231h1v1h-1zM40 237h1v1h-1zM40 238h1v1h-1zM41 239h1v1h-1zM42 240h1v1h-1zM43 241h1v1h-1zM43 246h1v1h-1zM42 249h1v1h-1zM42 250h1v1h-1zM42 251h1v1h-1zM42 252h1v1h-1zM42 253h1v1h-1zM43 256h1v1h-1zM44 257h1v1h-1zM45 258h1v1h-1zM46 259h1v1h-1zM47 260h7v1h-7zM48 261h1v1h-1zM54 261h3v1h-3zM58 262h2v1h-2zM61 263h1v1h-1zM73 268h2v1h-2z"/><path fill="#f8f4f2" d="M42 25h1v1h-1zM41 26h1v1h-1zM18 53h2v1h-2zM19 54h1v1h-1zM16 56h1v1h-1zM18 58h1v1h-1zM15 62h1v1h-1zM17 62h1v1h-1zM15 67h2v1h-2zM19 82h2v1h-2zM23 86h1v1h-1zM19 88h1v1h-1zM20 92h1v1h-1zM24 92h1v1h-1zM22 94h1v1h-1zM26 97h1v1h-1zM28 98h1v1h-1zM29 100h1v1h-1zM30 101h1v1h-1zM34 103h1v1h-1zM36 104h1v1h-1zM39 106h1v1h-1zM44 109h1v1h-1zM42 115h1v1h-1zM43 116h1v1h-1zM44 117h1v1h-1zM59 117h1v1h-1zM60 118h1v1h-1zM47 119h1v1h-1zM61 119h1v1h-1zM62 120h1v1h-1zM63 121h1v1h-1zM65 122h1v1h-1zM67 123h1v1h-1zM68 124h1v1h-1zM51 125h1v1h-1zM52 127h1v1h-1zM70 127h1v1h-1zM71 128h1v1h-1zM72 130h1v1h-1zM72 131h1v1h-1zM71 133h1v1h-1zM70 136h1v1h-1zM70 137h1v1h-1zM70 138h1v1h-1zM56 142h1v1h-1zM56 143h1v1h-1zM69 143h1v1h-1zM56 144h1v1h-1zM69 144h1v1h-1zM69 145h1v1h-1zM69 146h1v1h-1zM55 147h1v1h-1zM69 147h1v1h-1zM69 148h1v1h-1zM54 149h1v1h-1zM69 149h1v1h-1zM69 150h1v1h-1zM53 151h1v1h-1zM69 157h1v1h-1zM68 160h1v1h-1zM51 162h1v1h-1zM67 162h1v1h-1zM66 164h1v1h-1zM65 166h1v1h-1zM49 167h1v1h-1zM63 169h1v1h-1zM62 171h1v1h-1zM49 172h1v1h-1zM48 175h1v1h-1zM57 177h1v1h-1zM48 178h1v1h-1zM48 179h1v1h-1zM56 179h1v1h-1zM55 183h1v1h-1zM47 185h1v1h-1zM54 186h1v1h-1zM53 189h1v1h-1zM53 190h1v1h-1zM47 191h1v1h-1zM53 191h1v1h-1zM53 192h1v1h-1zM53 193h1v1h-1zM52 195h1v1h-1zM51 196h1v1h-1zM50 197h1v1h-1zM49 198h1v1h-1zM48 201h1v1h-1zM47 202h1v1h-1zM32 220h2v1h-2zM33 221h1v1h-1zM33 222h1v1h-1zM34 223h2v1h-2zM34 224h2v1h-2zM34 225h3v1h-3zM35 226h2v1h-2zM36 227h1v1h-1zM37 228h1v1h-1zM38 229h2v1h-2zM40 230h1v1h-1zM41 231h1v1h-1zM41 232h1v1h-1zM41 233h1v1h-1zM41 234h1v1h-1zM41 235h1v1h-1zM43 247h1v1h-1zM43 254h1v1h-1zM43 255h1v1h-1zM44 256h1v1h-1zM45 257h1v1h-1zM46 258h1v1h-1zM47 259h6v1h-6zM54 260h3v1h-3zM57 261h3v1h-3zM60 262h1v1h-1z"/><path fill="#f3f5f6" d="M18 54h1v1h-1zM18 56h1v1h-1zM16 58h1v1h-1zM17 60h1v1h-1zM15 64h1v1h-1zM15 65h2v1h-2zM20 83h1v1h-1zM23 88h1v1h-1zM23 94h1v1h-1zM29 101h1v1h-1zM28 102h1v1h-1zM31 102h1v1h-1zM35 104h1v1h-1zM37 105h1v1h-1zM38 106h1v1h-1zM32 108h1v1h-1zM41 108h1v1h-1zM46 110h1v1h-1zM35 111h1v1h-1zM39 113h1v1h-1zM54 113h1v1h-1zM41 114h1v1h-1zM56 115h1v1h-1zM57 116h1v1h-1zM58 117h1v1h-1zM59 118h1v1h-1zM49 119h1v1h-1zM60 119h1v1h-1zM61 120h1v1h-1zM62 121h1v1h-1zM63 122h1v1h-1zM65 123h1v1h-1zM66 124h1v1h-1zM67 125h1v1h-1zM68 126h1v1h-1zM69 127h1v1h-1zM71 130h1v1h-1zM70 132h1v1h-1zM69 134h1v1h-1zM69 135h1v1h-1zM69 136h1v1h-1zM55 137h1v1h-1zM69 137h1v1h-1zM69 138h1v1h-1zM68 142h1v1h-1zM68 143h1v1h-1zM68 144h1v1h-1zM68 145h1v1h-1zM68 146h1v1h-1zM68 147h1v1h-1zM68 148h1v1h-1zM55 149h1v1h-1zM54 150h1v1h-1zM69 154h1v1h-1zM69 155h1v1h-1zM53 158h1v1h-1zM68 158h1v1h-1zM67 160h1v1h-1zM66 162h1v1h-1zM65 164h1v1h-1zM64 166h1v1h-1zM62 169h1v1h-1zM61 171h1v1h-1zM49 173h1v1h-1zM48 176h1v1h-1zM48 180h1v1h-1zM54 185h1v1h-1zM53 187h1v1h-1zM47 193h1v1h-1zM52 193h1v1h-1zM52 194h1v1h-1zM51 195h1v1h-1zM48 198h1v1h-1zM32 225h1v1h-1zM32 226h1v1h-1zM32 227h2v1h-2zM32 228h3v1h-3zM33 229h4v1h-4zM37 230h2v1h-2zM39 231h1v1h-1zM40 232h1v1h-1zM40 235h1v1h-1zM40 236h1v1h-1zM39 238h1v1h-1zM40 239h1v1h-1zM43 242h1v1h-1zM43 243h1v1h-1zM43 244h1v1h-1zM43 245h1v1h-1zM42 248h1v1h-1zM42 254h1v1h-1zM42 255h1v1h-1zM42 256h1v1h-1zM42 257h2v1h-2zM43 258h2v1h-2zM45 259h1v1h-1zM46 260h1v1h-1zM47 261h1v1h-1zM49 261h5v1h-5zM48 262h1v1h-1zM54 262h4v1h-4zM59 263h2v1h-2zM75 268h1v1h-1zM74 269h2v1h-2z"/><path fill="#eff3f5" d="M17 55h2v1h-2zM16 59h2v1h-2zM16 60h1v1h-1zM16 61h1v1h-1zM16 62h1v1h-1zM16 63h1v1h-1zM16 64h1v1h-1zM20 84h2v1h-2zM20 85h1v1h-1zM22 85h1v1h-1zM23 89h1v1h-1zM23 90h1v1h-1zM20 91h1v1h-1zM23 91h1v1h-1zM23 92h1v1h-1zM22 93h2v1h-2zM29 102h2v1h-2zM33 103h1v1h-1zM29 105h1v1h-1zM42 109h1v1h-1zM45 110h1v1h-1zM48 111h1v1h-1zM51 112h1v1h-1zM55 114h1v1h-1zM64 123h1v1h-1zM51 124h1v1h-1zM65 124h1v1h-1zM66 125h1v1h-1zM52 126h1v1h-1zM67 126h1v1h-1zM68 127h1v1h-1zM69 128h1v1h-1zM70 129h1v1h-1zM70 130h1v1h-1zM70 131h1v1h-1zM54 132h1v1h-1zM69 132h1v1h-1zM68 133h2v1h-2zM68 134h1v1h-1zM68 135h1v1h-1zM68 136h1v1h-1zM68 137h1v1h-1zM68 138h1v1h-1zM68 139h1v1h-1zM56 140h1v1h-1zM68 140h1v1h-1zM68 141h1v1h-1zM56 146h1v1h-1zM56 147h1v1h-1zM68 149h1v1h-1zM55 150h1v1h-1zM68 150h1v1h-1zM68 151h1v1h-1zM53 152h1v1h-1zM53 157h1v1h-1zM68 157h1v1h-1zM53 159h1v1h-1zM67 159h1v1h-1zM66 161h1v1h-1zM65 163h1v1h-1zM64 165h1v1h-1zM63 167h1v1h-1zM60 172h1v1h-1zM59 173h1v1h-1zM58 174h1v1h-1zM57 175h1v1h-1zM56 177h1v1h-1zM55 181h1v1h-1zM52 189h1v1h-1zM52 190h1v1h-1zM52 191h1v1h-1zM52 192h1v1h-1zM51 194h1v1h-1zM50 195h1v1h-1zM49 196h1v1h-1zM48 197h1v1h-1zM31 227h1v1h-1zM30 228h2v1h-2zM30 229h3v1h-3zM30 230h7v1h-7zM32 231h2v1h-2zM38 231h1v1h-1zM32 232h2v1h-2zM39 232h1v1h-1zM40 233h1v1h-1zM40 234h1v1h-1zM39 237h1v1h-1zM38 238h1v1h-1zM39 239h1v1h-1zM41 240h1v1h-1zM42 241h1v1h-1zM42 247h1v1h-1zM41 249h1v1h-1zM41 250h1v1h-1zM41 251h1v1h-1zM93 254h1v1h-1zM90 255h3v1h-3zM41 256h1v1h-1zM41 257h1v1h-1zM87 257h1v1h-1zM40 258h3v1h-3zM86 258h1v1h-1zM40 259h5v1h-5zM85 259h1v1h-1zM43 260h3v1h-3zM45 261h2v1h-2zM47 262h1v1h-1zM49 262h5v1h-5zM48 263h1v1h-1zM52 263h7v1h-7zM60 264h2v1h-2zM67 267h1v1h-1zM70 268h1v1h-1zM72 269h2v1h-2zM76 269h1v1h-1zM74 270h4v1h-4zM74 271h4v1h-4zM75 272h3v1h-3zM75 273h2v1h-2z"/><path fill="#eaf1f5" d="M17 56h1v1h-1zM17 57h1v1h-1zM17 58h1v1h-1zM21 85h1v1h-1zM20 86h1v1h-1zM20 87h1v1h-1zM20 88h1v1h-1zM20 89h1v1h-1zM20 90h1v1h-1zM21 92h1v1h-1zM32 103h1v1h-1zM34 104h1v1h-1zM36 105h1v1h-1zM37 106h1v1h-1zM39 107h1v1h-1zM33 109h1v1h-1zM34 110h1v1h-1zM44 110h1v1h-1zM47 111h1v1h-1zM37 112h1v1h-1zM49 112h2v1h-2zM57 117h1v1h-1zM46 118h1v1h-1zM58 118h1v1h-1zM50 119h1v1h-1zM59 119h1v1h-1zM60 120h1v1h-1zM61 121h1v1h-1zM62 122h1v1h-1zM63 123h1v1h-1zM64 124h1v1h-1zM65 125h1v1h-1zM65 126h2v1h-2zM66 127h2v1h-2zM67 128h2v1h-2zM53 129h1v1h-1zM68 129h2v1h-2zM69 130h1v1h-1zM68 131h2v1h-2zM67 132h2v1h-2zM67 133h1v1h-1zM67 134h1v1h-1zM67 135h1v1h-1zM55 136h1v1h-1zM67 136h1v1h-1zM67 137h1v1h-1zM67 138h1v1h-1zM67 139h1v1h-1zM67 140h1v1h-1zM67 141h1v1h-1zM67 142h1v1h-1zM57 143h1v1h-1zM67 143h1v1h-1zM57 144h1v1h-1zM67 144h1v1h-1zM67 145h1v1h-1zM67 146h1v1h-1zM67 147h1v1h-1zM56 148h1v1h-1zM56 149h1v1h-1zM54 151h1v1h-1zM68 152h1v1h-1zM68 153h1v1h-1zM68 154h1v1h-1zM68 155h1v1h-1zM68 156h1v1h-1zM67 158h1v1h-1zM66 160h1v1h-1zM52 161h1v1h-1zM65 162h1v1h-1zM64 164h1v1h-1zM63 166h1v1h-1zM62 168h1v1h-1zM61 170h1v1h-1zM56 176h1v1h-1zM55 180h1v1h-1zM54 184h1v1h-1zM53 186h1v1h-1zM48 188h1v1h-1zM48 189h1v1h-1zM48 190h1v1h-1zM49 195h1v1h-1zM48 196h1v1h-1zM31 231h1v1h-1zM34 231h4v1h-4zM30 232h2v1h-2zM34 232h1v1h-1zM38 232h1v1h-1zM30 233h5v1h-5zM39 233h1v1h-1zM30 234h4v1h-4zM29 235h5v1h-5zM29 236h2v1h-2zM29 237h2v1h-2zM29 238h2v1h-2zM37 238h1v1h-1zM29 239h2v1h-2zM38 239h1v1h-1zM29 240h1v1h-1zM40 240h1v1h-1zM42 246h1v1h-1zM41 248h1v1h-1zM41 252h1v1h-1zM41 253h1v1h-1zM41 254h1v1h-1zM41 255h1v1h-1zM93 255h3v1h-3zM88 256h4v1h-4zM40 257h1v1h-1zM88 257h1v1h-1zM39 258h1v1h-1zM87 258h1v1h-1zM38 259h2v1h-2zM86 259h2v1h-2zM38 260h5v1h-5zM85 260h2v1h-2zM40 261h5v1h-5zM43 262h4v1h-4zM46 263h2v1h-2zM49 263h3v1h-3zM48 264h12v1h-12zM51 265h5v1h-5zM61 265h2v1h-2zM52 266h2v1h-2zM63 266h2v1h-2zM66 267h1v1h-1zM68 268h2v1h-2zM70 269h2v1h-2zM71 270h3v1h-3zM72 271h2v1h-2zM78 271h1v1h-1zM72 272h3v1h-3zM72 273h3v1h-3zM73 274h3v1h-3z"/><path fill="#8a0b25" d="M45 71h2v1h-2zM44 72h5v1h-5zM43 73h2v1h-2zM47 73h3v1h-3zM44 74h2v1h-2zM47 74h3v1h-3zM45 75h3v1h-3z"/><path fill="#840924" d="M45 73h2v1h-2zM46 74h1v1h-1z"/><path fill="#e6eff4" d="M21 86h2v1h-2zM22 87h1v1h-1zM22 92h1v1h-1zM29 103h1v1h-1zM31 103h1v1h-1zM29 104h1v1h-1zM35 105h1v1h-1zM36 106h1v1h-1zM38 107h1v1h-1zM40 108h1v1h-1zM46 111h1v1h-1zM47 112h2v1h-2zM40 113h1v1h-1zM53 113h1v1h-1zM42 114h1v1h-1zM43 115h1v1h-1zM44 116h1v1h-1zM56 116h1v1h-1zM45 117h1v1h-1zM47 118h1v1h-1zM57 118h1v1h-1zM58 119h1v1h-1zM58 120h2v1h-2zM59 121h2v1h-2zM61 122h1v1h-1zM51 123h1v1h-1zM62 123h1v1h-1zM63 124h1v1h-1zM52 125h1v1h-1zM64 125h1v1h-1zM64 126h1v1h-1zM65 127h1v1h-1zM66 128h1v1h-1zM67 129h1v1h-1zM67 130h2v1h-2zM67 131h1v1h-1zM66 132h1v1h-1zM66 133h1v1h-1zM66 134h1v1h-1zM55 135h1v1h-1zM66 135h1v1h-1zM66 136h1v1h-1zM66 137h1v1h-1zM66 138h1v1h-1zM56 139h1v1h-1zM66 139h1v1h-1zM66 140h1v1h-1zM66 141h1v1h-1zM57 142h1v1h-1zM66 142h1v1h-1zM66 143h1v1h-1zM57 145h1v1h-1zM67 148h1v1h-1zM67 149h1v1h-1zM56 150h1v1h-1zM67 150h1v1h-1zM55 151h1v1h-1zM53 153h1v1h-1zM53 156h1v1h-1zM67 157h1v1h-1zM54 158h1v1h-1zM66 159h1v1h-1zM53 160h1v1h-1zM65 161h1v1h-1zM51 163h1v1h-1zM64 163h1v1h-1zM63 165h1v1h-1zM62 167h1v1h-1zM61 169h1v1h-1zM60 171h1v1h-1zM59 172h1v1h-1zM58 173h1v1h-1zM57 174h1v1h-1zM56 175h1v1h-1zM55 179h1v1h-1zM48 181h1v1h-1zM48 187h1v1h-1zM52 188h1v1h-1zM48 191h1v1h-1zM48 193h1v1h-1zM51 193h1v1h-1zM48 194h1v1h-1zM50 194h1v1h-1zM48 195h1v1h-1zM35 232h3v1h-3zM35 233h1v1h-1zM34 234h1v1h-1zM39 234h1v1h-1zM34 235h1v1h-1zM39 235h1v1h-1zM28 236h1v1h-1zM31 236h4v1h-4zM39 236h1v1h-1zM27 237h2v1h-2zM31 237h3v1h-3zM38 237h1v1h-1zM26 238h3v1h-3zM31 238h3v1h-3zM36 238h1v1h-1zM26 239h3v1h-3zM31 239h1v1h-1zM37 239h1v1h-1zM26 240h3v1h-3zM30 240h2v1h-2zM39 240h1v1h-1zM26 241h5v1h-5zM41 241h1v1h-1zM27 242h4v1h-4zM42 242h1v1h-1zM27 243h4v1h-4zM42 243h1v1h-1zM26 244h5v1h-5zM42 244h1v1h-1zM26 245h5v1h-5zM42 245h1v1h-1zM26 246h5v1h-5zM26 247h4v1h-4zM41 247h1v1h-1zM26 248h4v1h-4zM26 249h4v1h-4zM26 250h3v1h-3zM26 251h2v1h-2zM27 252h1v1h-1zM27 253h1v1h-1zM27 254h1v1h-1zM96 254h1v1h-1zM27 255h1v1h-1zM96 255h1v1h-1zM27 256h1v1h-1zM92 256h4v1h-4zM28 257h1v1h-1zM89 257h2v1h-2zM28 258h1v1h-1zM88 258h2v1h-2zM28 259h1v1h-1zM88 259h1v1h-1zM29 260h1v1h-1zM37 260h1v1h-1zM87 260h1v1h-1zM29 261h1v1h-1zM36 261h4v1h-4zM86 261h1v1h-1zM29 262h1v1h-1zM35 262h8v1h-8zM30 263h1v1h-1zM35 263h11v1h-11zM34 264h14v1h-14zM32 265h19v1h-19zM56 265h5v1h-5zM33 266h19v1h-19zM54 266h5v1h-5zM61 266h2v1h-2zM34 267h24v1h-24zM64 267h2v1h-2zM35 268h22v1h-22zM66 268h2v1h-2zM37 269h20v1h-20zM68 269h2v1h-2zM38 270h19v1h-19zM68 270h3v1h-3zM39 271h18v1h-18zM68 271h4v1h-4zM40 272h17v1h-17zM68 272h4v1h-4zM42 273h15v1h-15zM68 273h4v1h-4zM45 274h12v1h-12zM68 274h3v1h-3zM48 275h19v1h-19z"/><path fill="#e1edf3" d="M21 87h1v1h-1zM21 88h2v1h-2zM21 89h2v1h-2zM21 90h2v1h-2zM21 91h2v1h-2zM30 103h1v1h-1zM33 104h1v1h-1zM31 106h1v1h-1zM32 107h1v1h-1zM37 107h1v1h-1zM39 108h1v1h-1zM41 109h1v1h-1zM43 110h1v1h-1zM45 111h1v1h-1zM38 112h1v1h-1zM46 112h1v1h-1zM47 113h3v1h-3zM54 114h1v1h-1zM55 115h1v1h-1zM56 117h1v1h-1zM48 118h2v1h-2zM56 118h1v1h-1zM57 119h1v1h-1zM51 120h1v1h-1zM57 120h1v1h-1zM51 121h1v1h-1zM58 121h1v1h-1zM51 122h1v1h-1zM58 122h3v1h-3zM59 123h3v1h-3zM62 124h1v1h-1zM63 125h1v1h-1zM64 127h1v1h-1zM53 128h1v1h-1zM65 128h1v1h-1zM65 129h2v1h-2zM66 130h1v1h-1zM54 131h1v1h-1zM65 131h2v1h-2zM65 132h1v1h-1zM65 133h1v1h-1zM55 134h1v1h-1zM65 134h1v1h-1zM64 135h2v1h-2zM65 136h1v1h-1zM65 137h1v1h-1zM56 138h1v1h-1zM65 138h1v1h-1zM65 139h1v1h-1zM65 140h1v1h-1zM65 141h1v1h-1zM65 142h1v1h-1zM66 144h1v1h-1zM66 145h1v1h-1zM57 146h1v1h-1zM66 146h1v1h-1zM66 147h1v1h-1zM56 151h1v1h-1zM67 151h1v1h-1zM54 152h1v1h-1zM67 152h1v1h-1zM67 156h1v1h-1zM54 157h1v1h-1zM66 158h1v1h-1zM54 159h1v1h-1zM65 160h1v1h-1zM64 162h1v1h-1zM63 164h1v1h-1zM62 166h1v1h-1zM61 168h1v1h-1zM60 170h1v1h-1zM49 174h1v1h-1zM55 178h1v1h-1zM54 183h1v1h-1zM52 187h1v1h-1zM51 190h1v1h-1zM51 191h1v1h-1zM48 192h1v1h-1zM51 192h1v1h-1zM49 194h1v1h-1zM36 233h3v1h-3zM35 234h1v1h-1zM35 235h1v1h-1zM35 236h1v1h-1zM34 237h4v1h-4zM34 238h2v1h-2zM32 239h5v1h-5zM32 240h1v1h-1zM38 240h1v1h-1zM31 241h1v1h-1zM31 242h1v1h-1zM31 243h1v1h-1zM31 244h1v1h-1zM31 245h1v1h-1zM41 246h1v1h-1zM30 247h1v1h-1zM30 248h1v1h-1zM40 248h1v1h-1zM30 249h1v1h-1zM40 249h1v1h-1zM29 250h2v1h-2zM40 250h1v1h-1zM28 251h3v1h-3zM40 251h1v1h-1zM28 252h3v1h-3zM28 253h3v1h-3zM28 254h4v1h-4zM97 254h1v1h-1zM28 255h4v1h-4zM97 255h1v1h-1zM28 256h4v1h-4zM40 256h1v1h-1zM96 256h2v1h-2zM29 257h4v1h-4zM39 257h1v1h-1zM91 257h6v1h-6zM29 258h4v1h-4zM38 258h1v1h-1zM90 258h2v1h-2zM29 259h4v1h-4zM37 259h1v1h-1zM89 259h2v1h-2zM30 260h4v1h-4zM36 260h1v1h-1zM88 260h2v1h-2zM30 261h6v1h-6zM87 261h2v1h-2zM30 262h5v1h-5zM87 262h3v1h-3zM31 263h4v1h-4zM88 263h1v1h-1zM31 264h3v1h-3zM59 266h2v1h-2zM58 267h6v1h-6zM57 268h4v1h-4zM64 268h2v1h-2zM57 269h4v1h-4zM64 269h4v1h-4zM57 270h11v1h-11zM57 271h11v1h-11zM57 272h11v1h-11zM57 273h11v1h-11zM57 274h11v1h-11z"/><path fill="#d8e9f1" d="M30 104h2v1h-2zM33 105h1v1h-1zM35 107h1v1h-1zM36 108h1v1h-1zM34 109h1v1h-1zM38 109h3v1h-3zM35 110h1v1h-1zM44 111h1v1h-1zM39 112h1v1h-1zM44 112h1v1h-1zM42 113h1v1h-1zM44 113h1v1h-1zM44 114h2v1h-2zM50 114h1v1h-1zM45 115h5v1h-5zM54 115h1v1h-1zM45 116h2v1h-2zM46 117h2v1h-2zM55 118h1v1h-1zM55 119h1v1h-1zM56 120h1v1h-1zM56 121h1v1h-1zM57 122h1v1h-1zM57 123h1v1h-1zM52 124h1v1h-1zM58 124h1v1h-1zM58 125h4v1h-4zM53 126h1v1h-1zM61 126h2v1h-2zM62 127h1v1h-1zM62 128h2v1h-2zM63 129h1v1h-1zM54 130h1v1h-1zM63 130h1v1h-1zM63 131h1v1h-1zM62 132h2v1h-2zM62 133h1v1h-1zM62 134h1v1h-1zM62 135h1v1h-1zM56 136h1v1h-1zM62 136h2v1h-2zM63 137h1v1h-1zM63 138h1v1h-1zM63 139h1v1h-1zM57 140h1v1h-1zM63 140h1v1h-1zM64 142h1v1h-1zM64 143h1v1h-1zM64 144h1v1h-1zM64 145h1v1h-1zM65 147h1v1h-1zM65 148h1v1h-1zM66 150h1v1h-1zM57 151h1v1h-1zM66 151h1v1h-1zM56 152h1v1h-1zM66 152h1v1h-1zM54 153h1v1h-1zM54 156h1v1h-1zM66 156h1v1h-1zM55 157h1v1h-1zM55 158h1v1h-1zM65 158h1v1h-1zM54 160h1v1h-1zM64 160h1v1h-1zM53 161h1v1h-1zM63 161h1v1h-1zM52 162h1v1h-1zM62 163h1v1h-1zM62 164h1v1h-1zM61 167h1v1h-1zM50 168h1v1h-1zM60 169h1v1h-1zM59 170h1v1h-1zM57 172h1v1h-1zM56 173h1v1h-1zM55 175h1v1h-1zM55 176h1v1h-1zM54 181h1v1h-1zM48 182h1v1h-1zM48 185h1v1h-1zM52 186h1v1h-1zM50 192h1v1h-1zM37 235h1v1h-1zM35 240h2v1h-2zM33 241h2v1h-2zM39 241h1v1h-1zM32 242h1v1h-1zM32 243h1v1h-1zM41 243h1v1h-1zM41 244h1v1h-1zM41 245h1v1h-1zM31 250h1v1h-1zM31 251h1v1h-1zM32 254h1v1h-1zM40 254h1v1h-1zM40 255h1v1h-1zM33 257h1v1h-1zM34 259h1v1h-1zM36 259h1v1h-1z"/><path fill="#ddebf2" d="M32 104h1v1h-1zM30 105h1v1h-1zM34 105h1v1h-1zM35 106h1v1h-1zM36 107h1v1h-1zM33 108h1v1h-1zM37 108h2v1h-2zM42 110h1v1h-1zM36 111h1v1h-1zM45 112h1v1h-1zM41 113h1v1h-1zM45 113h2v1h-2zM50 113h3v1h-3zM43 114h1v1h-1zM46 114h4v1h-4zM44 115h1v1h-1zM55 116h1v1h-1zM55 117h1v1h-1zM50 118h1v1h-1zM51 119h1v1h-1zM56 119h1v1h-1zM57 121h1v1h-1zM58 123h1v1h-1zM59 124h3v1h-3zM62 125h1v1h-1zM63 126h1v1h-1zM53 127h1v1h-1zM63 127h1v1h-1zM64 128h1v1h-1zM64 129h1v1h-1zM64 130h2v1h-2zM64 131h1v1h-1zM64 132h1v1h-1zM55 133h1v1h-1zM63 133h2v1h-2zM63 134h2v1h-2zM63 135h1v1h-1zM64 136h1v1h-1zM56 137h1v1h-1zM64 137h1v1h-1zM64 138h1v1h-1zM64 139h1v1h-1zM64 140h1v1h-1zM57 141h1v1h-1zM64 141h1v1h-1zM65 143h1v1h-1zM65 144h1v1h-1zM65 145h1v1h-1zM65 146h1v1h-1zM57 147h1v1h-1zM57 148h1v1h-1zM66 148h1v1h-1zM57 149h1v1h-1zM66 149h1v1h-1zM57 150h1v1h-1zM55 152h1v1h-1zM67 153h1v1h-1zM53 154h1v1h-1zM67 154h1v1h-1zM53 155h1v1h-1zM67 155h1v1h-1zM66 157h1v1h-1zM65 159h1v1h-1zM64 161h1v1h-1zM63 162h1v1h-1zM63 163h1v1h-1zM50 165h1v1h-1zM62 165h1v1h-1zM50 169h1v1h-1zM59 171h1v1h-1zM58 172h1v1h-1zM57 173h1v1h-1zM56 174h1v1h-1zM55 177h1v1h-1zM54 182h1v1h-1zM53 185h1v1h-1zM48 186h1v1h-1zM51 189h1v1h-1zM49 193h2v1h-2zM36 234h3v1h-3zM36 235h1v1h-1zM38 235h1v1h-1zM36 236h3v1h-3zM33 240h2v1h-2zM37 240h1v1h-1zM32 241h1v1h-1zM40 241h1v1h-1zM41 242h1v1h-1zM31 246h1v1h-1zM31 247h1v1h-1zM40 247h1v1h-1zM31 248h1v1h-1zM31 249h1v1h-1zM31 252h1v1h-1zM40 252h1v1h-1zM31 253h1v1h-1zM40 253h1v1h-1zM32 255h1v1h-1zM98 255h3v1h-3zM32 256h1v1h-1zM98 256h4v1h-4zM97 257h6v1h-6zM33 258h1v1h-1zM92 258h12v1h-12zM33 259h1v1h-1zM91 259h12v1h-12zM34 260h2v1h-2zM90 260h12v1h-12zM89 261h12v1h-12zM90 262h8v1h-8zM89 263h2v1h-2zM93 263h3v1h-3zM61 268h3v1h-3zM61 269h3v1h-3z"/><path fill="#d4e6f1" d="M31 105h2v1h-2zM32 106h3v1h-3zM33 107h2v1h-2zM34 108h2v1h-2zM36 109h2v1h-2zM41 110h1v1h-1zM37 111h1v1h-1zM43 111h1v1h-1zM40 112h1v1h-1zM43 112h1v1h-1zM43 113h1v1h-1zM51 114h1v1h-1zM53 114h1v1h-1zM50 115h1v1h-1zM47 116h3v1h-3zM54 116h1v1h-1zM48 117h3v1h-3zM54 117h1v1h-1zM51 118h1v1h-1zM54 118h1v1h-1zM55 120h1v1h-1zM56 122h1v1h-1zM52 123h1v1h-1zM57 124h1v1h-1zM53 125h1v1h-1zM57 125h1v1h-1zM58 126h3v1h-3zM59 127h3v1h-3zM54 128h1v1h-1zM61 128h1v1h-1zM54 129h1v1h-1zM61 129h2v1h-2zM61 130h2v1h-2zM61 131h2v1h-2zM55 132h1v1h-1zM61 132h1v1h-1zM60 133h2v1h-2zM60 134h2v1h-2zM56 135h1v1h-1zM60 135h2v1h-2zM61 136h1v1h-1zM62 137h1v1h-1zM62 138h1v1h-1zM57 139h1v1h-1zM62 139h1v1h-1zM62 140h1v1h-1zM63 141h1v1h-1zM63 142h1v1h-1zM58 143h1v1h-1zM63 143h1v1h-1zM58 144h1v1h-1zM63 144h1v1h-1zM58 145h1v1h-1zM63 145h1v1h-1zM64 146h1v1h-1zM64 147h1v1h-1zM64 148h1v1h-1zM65 149h1v1h-1zM65 150h1v1h-1zM65 151h1v1h-1zM57 152h1v1h-1zM55 153h1v1h-1zM66 153h1v1h-1zM66 154h1v1h-1zM66 155h1v1h-1zM55 156h1v1h-1zM65 157h1v1h-1zM64 158h1v1h-1zM55 159h1v1h-1zM63 159h2v1h-2zM63 160h1v1h-1zM62 161h1v1h-1zM62 162h1v1h-1zM61 166h1v1h-1zM60 168h1v1h-1zM50 170h1v1h-1zM58 171h1v1h-1zM55 174h1v1h-1zM49 175h1v1h-1zM48 184h1v1h-1zM53 184h1v1h-1zM51 188h1v1h-1zM49 190h2v1h-2zM49 191h2v1h-2zM49 192h1v1h-1zM35 241h4v1h-4zM33 242h1v1h-1zM40 242h1v1h-1zM32 244h1v1h-1zM32 245h1v1h-1zM32 246h1v1h-1zM40 246h1v1h-1zM39 248h1v1h-1zM39 249h1v1h-1zM39 250h1v1h-1zM32 252h1v1h-1zM32 253h1v1h-1zM33 256h1v1h-1zM39 256h1v1h-1zM38 257h1v1h-1zM37 258h1v1h-1zM35 259h1v1h-1z"/><path fill="#d1e5f0" d="M35 109h1v1h-1zM36 110h5v1h-5zM38 111h1v1h-1zM42 111h1v1h-1zM41 112h2v1h-2zM52 114h1v1h-1zM51 115h1v1h-1zM53 115h1v1h-1zM50 116h2v1h-2zM53 116h1v1h-1zM51 117h1v1h-1zM53 117h1v1h-1zM52 118h2v1h-2zM52 119h1v1h-1zM54 119h1v1h-1zM52 120h1v1h-1zM54 120h1v1h-1zM52 121h1v1h-1zM55 121h1v1h-1zM52 122h1v1h-1zM55 122h1v1h-1zM56 123h1v1h-1zM53 124h1v1h-1zM56 124h1v1h-1zM57 126h1v1h-1zM54 127h1v1h-1zM58 127h1v1h-1zM58 128h3v1h-3zM55 129h1v1h-1zM59 129h2v1h-2zM55 130h1v1h-1zM60 130h1v1h-1zM55 131h1v1h-1zM59 131h2v1h-2zM59 132h2v1h-2zM56 133h1v1h-1zM59 133h1v1h-1zM56 134h1v1h-1zM58 134h2v1h-2zM59 135h1v1h-1zM59 136h2v1h-2zM60 137h2v1h-2zM57 138h1v1h-1zM61 138h1v1h-1zM61 139h1v1h-1zM61 140h1v1h-1zM62 141h1v1h-1zM58 142h1v1h-1zM62 142h1v1h-1zM62 143h1v1h-1zM62 144h1v1h-1zM58 146h1v1h-1zM63 146h1v1h-1zM58 147h1v1h-1zM63 147h1v1h-1zM58 148h1v1h-1zM58 149h1v1h-1zM64 149h1v1h-1zM58 150h1v1h-1zM64 150h1v1h-1zM64 151h1v1h-1zM65 152h1v1h-1zM56 153h2v1h-2zM65 153h1v1h-1zM54 154h1v1h-1zM65 154h1v1h-1zM54 155h1v1h-1zM65 155h1v1h-1zM56 156h1v1h-1zM65 156h1v1h-1zM56 157h1v1h-1zM64 157h1v1h-1zM63 158h1v1h-1zM62 159h1v1h-1zM62 160h1v1h-1zM54 161h1v1h-1zM61 162h1v1h-1zM61 163h1v1h-1zM61 164h1v1h-1zM61 165h1v1h-1zM50 166h1v1h-1zM50 167h1v1h-1zM60 167h1v1h-1zM59 169h1v1h-1zM57 171h1v1h-1zM56 172h1v1h-1zM49 178h1v1h-1zM49 179h1v1h-1zM54 180h1v1h-1zM48 183h1v1h-1zM51 187h1v1h-1zM49 189h2v1h-2zM34 242h3v1h-3zM39 242h1v1h-1zM33 243h1v1h-1zM40 245h1v1h-1zM32 247h1v1h-1zM39 247h1v1h-1zM32 248h1v1h-1zM32 249h1v1h-1zM32 250h1v1h-1zM32 251h1v1h-1zM39 251h1v1h-1zM39 252h1v1h-1zM33 254h1v1h-1zM33 255h1v1h-1zM34 257h1v1h-1zM34 258h1v1h-1z"/><path fill="#cae1ee" d="M39 111h3v1h-3zM52 115h1v1h-1zM52 116h1v1h-1zM52 117h1v1h-1zM53 119h1v1h-1zM53 120h1v1h-1zM53 121h2v1h-2zM53 122h2v1h-2zM53 123h3v1h-3zM54 124h2v1h-2zM54 125h3v1h-3zM54 126h3v1h-3zM55 127h3v1h-3zM55 128h3v1h-3zM56 129h3v1h-3zM56 130h4v1h-4zM56 131h3v1h-3zM56 132h3v1h-3zM57 133h2v1h-2zM57 134h1v1h-1zM57 135h2v1h-2zM57 136h2v1h-2zM57 137h3v1h-3zM58 138h3v1h-3zM58 139h3v1h-3zM58 140h1v1h-1zM60 140h1v1h-1zM58 141h1v1h-1zM61 141h1v1h-1zM61 142h1v1h-1zM61 143h1v1h-1zM61 144h1v1h-1zM62 145h1v1h-1zM62 146h1v1h-1zM62 147h1v1h-1zM63 148h1v1h-1zM63 149h1v1h-1zM63 150h1v1h-1zM58 151h1v1h-1zM63 151h1v1h-1zM58 152h1v1h-1zM64 152h1v1h-1zM64 153h1v1h-1zM55 154h2v1h-2zM64 154h1v1h-1zM55 155h1v1h-1zM64 155h1v1h-1zM63 156h2v1h-2zM63 157h1v1h-1zM56 158h1v1h-1zM62 158h1v1h-1zM55 160h1v1h-1zM61 160h1v1h-1zM61 161h1v1h-1zM53 162h1v1h-1zM51 164h1v1h-1zM60 166h1v1h-1zM59 168h1v1h-1zM58 170h1v1h-1zM55 173h1v1h-1zM49 176h1v1h-1zM49 177h1v1h-1zM54 179h1v1h-1zM52 185h1v1h-1zM49 188h1v1h-1zM37 242h2v1h-2zM34 243h1v1h-1zM40 243h1v1h-1zM33 244h1v1h-1zM40 244h1v1h-1zM39 246h1v1h-1zM38 249h1v1h-1zM33 253h1v1h-1zM39 253h1v1h-1zM39 254h1v1h-1zM39 255h1v1h-1zM34 256h1v1h-1zM35 258h2v1h-2z"/><path fill="#c2ddec" d="M59 140h1v1h-1zM59 141h2v1h-2zM59 142h2v1h-2zM59 143h2v1h-2zM59 144h2v1h-2zM59 145h3v1h-3zM59 146h1v1h-1zM61 146h1v1h-1zM59 147h1v1h-1zM61 147h1v1h-1zM59 148h1v1h-1zM62 148h1v1h-1zM62 149h1v1h-1zM62 150h1v1h-1zM62 151h1v1h-1zM63 152h1v1h-1zM58 153h1v1h-1zM63 153h1v1h-1zM57 154h1v1h-1zM63 154h1v1h-1zM56 155h1v1h-1zM63 155h1v1h-1zM57 156h1v1h-1zM62 156h1v1h-1zM57 157h1v1h-1zM62 157h1v1h-1zM61 158h1v1h-1zM61 159h1v1h-1zM52 163h1v1h-1zM60 165h1v1h-1zM58 169h1v1h-1zM57 170h1v1h-1zM50 171h1v1h-1zM56 171h1v1h-1zM55 172h1v1h-1zM54 178h1v1h-1zM49 180h1v1h-1zM53 183h1v1h-1zM51 186h1v1h-1zM49 187h1v1h-1zM50 188h1v1h-1zM35 243h5v1h-5zM34 244h1v1h-1zM33 245h1v1h-1zM39 245h1v1h-1zM33 246h1v1h-1zM38 248h1v1h-1zM38 250h1v1h-1zM33 252h1v1h-1zM34 255h1v1h-1zM37 257h1v1h-1z"/><path fill="#bbdaea" d="M60 146h1v1h-1zM60 147h1v1h-1zM60 148h2v1h-2zM59 149h3v1h-3zM59 150h1v1h-1zM61 150h1v1h-1zM59 151h1v1h-1zM61 151h1v1h-1zM59 152h1v1h-1zM61 152h2v1h-2zM62 153h1v1h-1zM58 154h1v1h-1zM62 154h1v1h-1zM57 155h1v1h-1zM62 155h1v1h-1zM61 156h1v1h-1zM61 157h1v1h-1zM56 159h1v1h-1zM60 159h1v1h-1zM60 160h1v1h-1zM55 161h1v1h-1zM60 161h1v1h-1zM54 162h1v1h-1zM60 162h1v1h-1zM60 163h1v1h-1zM60 164h1v1h-1zM59 167h1v1h-1zM54 174h1v1h-1zM54 175h1v1h-1zM54 176h1v1h-1zM54 177h1v1h-1zM53 182h1v1h-1zM35 244h3v1h-3zM39 244h1v1h-1zM33 247h1v1h-1zM38 247h1v1h-1zM33 248h1v1h-1zM33 249h1v1h-1zM33 250h1v1h-1zM33 251h1v1h-1zM38 251h1v1h-1zM34 254h1v1h-1zM38 256h1v1h-1zM35 257h1v1h-1z"/><path fill="#b3d6e8" d="M60 150h1v1h-1zM60 151h1v1h-1zM60 152h1v1h-1zM59 153h3v1h-3zM59 154h3v1h-3zM58 155h1v1h-1zM60 155h2v1h-2zM58 156h1v1h-1zM60 156h1v1h-1zM60 157h1v1h-1zM57 158h1v1h-1zM60 158h1v1h-1zM56 160h1v1h-1zM53 163h1v1h-1zM59 166h1v1h-1zM58 168h1v1h-1zM57 169h1v1h-1zM56 170h1v1h-1zM55 171h1v1h-1zM50 172h1v1h-1zM54 173h1v1h-1zM53 181h1v1h-1zM52 184h1v1h-1zM49 186h1v1h-1zM50 187h1v1h-1zM38 244h1v1h-1zM34 245h2v1h-2zM38 245h1v1h-1zM38 246h1v1h-1zM37 249h1v1h-1zM34 252h1v1h-1zM38 252h1v1h-1zM34 253h1v1h-1zM38 253h1v1h-1zM35 256h1v1h-1zM36 257h1v1h-1z"/><path fill="#acd2e5" d="M59 155h1v1h-1zM59 156h1v1h-1zM58 157h2v1h-2zM59 158h1v1h-1zM57 159h1v1h-1zM55 162h1v1h-1zM59 162h1v1h-1zM54 163h1v1h-1zM59 163h1v1h-1zM59 164h1v1h-1zM51 165h1v1h-1zM59 165h1v1h-1zM58 167h1v1h-1zM54 172h1v1h-1zM50 173h1v1h-1zM49 181h1v1h-1zM49 185h1v1h-1zM51 185h1v1h-1zM36 245h2v1h-2zM34 246h1v1h-1zM37 246h1v1h-1zM34 247h1v1h-1zM37 247h1v1h-1zM37 248h1v1h-1zM37 250h1v1h-1zM34 251h1v1h-1zM35 254h1v1h-1zM38 254h1v1h-1zM35 255h1v1h-1zM38 255h1v1h-1zM37 256h1v1h-1z"/><path fill="#a5cee3" d="M58 158h1v1h-1zM59 159h1v1h-1zM59 160h1v1h-1zM56 161h1v1h-1zM59 161h1v1h-1zM52 164h1v1h-1zM57 168h1v1h-1zM56 169h1v1h-1zM55 170h1v1h-1zM53 180h1v1h-1zM50 186h1v1h-1zM35 246h2v1h-2zM34 248h1v1h-1zM34 249h1v1h-1zM34 250h1v1h-1zM37 251h1v1h-1zM37 252h1v1h-1zM35 253h1v1h-1zM36 256h1v1h-1z"/><path fill="#9dcbe1" d="M58 159h1v1h-1zM57 160h2v1h-2zM55 163h1v1h-1zM53 164h1v1h-1zM58 165h1v1h-1zM58 166h1v1h-1zM54 171h1v1h-1zM50 174h1v1h-1zM53 179h1v1h-1zM49 182h1v1h-1zM52 183h1v1h-1zM49 184h1v1h-1zM35 247h2v1h-2zM35 248h2v1h-2zM36 249h1v1h-1zM36 250h1v1h-1zM35 251h1v1h-1zM35 252h1v1h-1zM37 253h1v1h-1zM36 254h2v1h-2zM36 255h2v1h-2z"/><path fill="#98c8e0" d="M57 161h2v1h-2zM56 162h1v1h-1zM58 162h1v1h-1zM58 163h1v1h-1zM54 164h1v1h-1zM58 164h1v1h-1zM51 166h1v1h-1zM51 167h1v1h-1zM57 167h1v1h-1zM51 168h1v1h-1zM56 168h1v1h-1zM51 169h1v1h-1zM55 169h1v1h-1zM54 170h1v1h-1zM53 173h1v1h-1zM53 174h1v1h-1zM53 178h1v1h-1zM49 183h1v1h-1zM51 184h1v1h-1zM50 185h1v1h-1zM35 249h1v1h-1zM35 250h1v1h-1zM36 251h1v1h-1zM36 252h1v1h-1zM36 253h1v1h-1z"/><path fill="#90c4dd" d="M57 162h1v1h-1zM56 163h1v1h-1zM55 164h1v1h-1zM52 165h1v1h-1zM57 166h1v1h-1zM53 172h1v1h-1zM50 175h1v1h-1zM53 175h1v1h-1zM53 176h1v1h-1zM53 177h1v1h-1zM52 182h1v1h-1z"/><path fill="#87beda" d="M57 163h1v1h-1zM57 164h1v1h-1zM53 165h1v1h-1zM57 165h1v1h-1zM56 167h1v1h-1zM55 168h1v1h-1zM54 169h1v1h-1zM53 171h1v1h-1zM50 178h1v1h-1zM50 179h1v1h-1zM52 181h1v1h-1z"/><path fill="#7eb8d7" d="M56 164h1v1h-1zM54 165h1v1h-1zM56 165h1v1h-1zM56 166h1v1h-1zM51 170h1v1h-1zM53 170h1v1h-1zM50 176h1v1h-1zM50 177h1v1h-1zM50 180h1v1h-1zM52 180h1v1h-1zM51 183h1v1h-1zM50 184h1v1h-1z"/><path fill="#75b2d4" d="M55 165h1v1h-1zM52 166h1v1h-1zM55 167h1v1h-1zM54 168h1v1h-1zM53 169h1v1h-1zM50 181h1v1h-1zM50 183h1v1h-1z"/><path fill="#6bacd1" d="M53 166h3v1h-3zM52 167h1v1h-1zM54 167h1v1h-1zM52 169h1v1h-1zM51 171h1v1h-1zM51 172h2v1h-2zM52 173h1v1h-1zM52 178h1v1h-1zM52 179h1v1h-1zM50 182h2v1h-2z"/><path fill="#62a7ce" d="M53 167h1v1h-1zM52 168h2v1h-2zM52 170h1v1h-1zM52 171h1v1h-1zM51 173h1v1h-1zM52 174h1v1h-1zM52 175h1v1h-1zM52 176h1v1h-1zM52 177h1v1h-1zM51 181h1v1h-1z"/><path fill="#59a1ca" d="M51 174h1v1h-1zM51 179h1v1h-1zM51 180h1v1h-1z"/><path fill="#529dc8" d="M51 175h1v1h-1zM51 176h1v1h-1zM51 177h1v1h-1zM51 178h1v1h-1z"/></g></g></g>
<path d="M560,251.8 546.1,274.5 542.6,284.9 553.1,302.3 556.5,309.3 567,307.6 573.9,295.4 575.7,281.4 570.5,271 563.5,260.5ZM1243.8,1630.6 1255.9,1634.7 1251.9,1646.9 1235.6,1659.1 1223.4,1671.3 1215.3,1677.4 1209.2,1675.3 1219.4,1659.1 1231.6,1646.9 1239.7,1636.7Z" fill="#fff"/>
<path d="M150,281 178.7,281.4 197.9,295.4 215.3,307.6 225.7,316.3 243.1,312.8 260.5,307.6 274.5,300.6 290.1,291.2 311,293.6 330.2,300.6 347.6,309.3 363.3,323.2 375.5,333.7 380.7,344.1 385.9,323.2 406.8,309.3 420.7,295.4 424.2,274.5 429.4,255.3 448.6,241.4 469.5,234.4 490.4,234.4 511.3,225.7 528.7,215.3 539.1,204.8 553.1,196.1 567,197.9 573.9,204.8 567,215.3 553.1,225.7 547.8,234.4 556.5,244.9 561.8,248.4 565.2,244.9 580.9,237.9 598.3,232.7 603.5,225.7 601.8,211.8 610.5,204.8 617.5,211.8 619.2,225.7 633.1,229.2 650.6,232.7 664.5,239.6 671.5,253.6 685.4,260.5 713.2,264 741.1,269.2 769.6,273.8 783.6,272.7 801,262.3 814.9,259.8 839.3,255.3 853.2,253.6 884.6,253.6 863.7,257.1 849.7,264 860.2,274.5 870.6,279.7 872.4,302.3 874.1,319.7 895,326.7 908.9,323.2 922.9,323.2 943.8,326.7 954.2,331.9 975.1,344.1 992.5,358 1003,372 1013.4,385.9 1027.3,399.8 1044.7,412 1065.6,413.8 1083.1,413.8 1100.5,417.2 1117.9,420.7 1152.7,425.9 1180.6,429.4 1208.4,448.6 1222.3,462.5 1232.8,466 1243.2,483.4 1246.7,504.3 1257,534.8 1270.9,548.8 1284.8,557.5 1284.8,576.6 1279.6,594 1293.5,601 1302.2,611.4 1319.6,618.4 1335.3,621.9 1333.6,631.6 1351,632.3 1371.9,635.8 1396.3,642.8 1413.7,650.4 1434.6,660.2 1450.2,656 1462.4,670.6 1472.9,679.3 1493.8,686.3 1514.7,695 1528.6,700.2 1554.7,705.5 1570.4,709.6 1594.7,707.2 1615.6,707.2 1627.8,713.1 1647,722.9 1667.9,743.8 1685.3,759.4 1706.2,771.6 1713.1,776.8 1737.5,780.7 1765.4,782.8 1779.3,790.8 1784.5,813.4 1782.8,848.2 1781.1,883.1 1775.8,910.9 1765.4,938.8 1744.5,956.2 1720.1,977.1 1702.7,1001.5 1690.5,1025.8 1674.8,1057.2 1660.9,1085 1653.9,1112.9 1650.5,1144.2 1652.2,1168.6 1648.7,1196.5 1643.5,1206.9 1636.5,1217.4 1627.8,1231.3 1625.7,1260.9 1621.6,1281.3 1609.4,1301.6 1597.2,1309.7 1585,1321.9 1585,1338.1 1576.9,1354.4 1560.7,1362.5 1552.5,1370.6 1544.4,1382.8 1528.1,1386.9 1507.8,1390.9 1487.5,1390.9 1467.2,1395 1446.9,1403.1 1438.8,1411.3 1414.4,1419.4 1390,1427.5 1365.6,1439.7 1349.4,1451.9 1341.3,1464.1 1333.1,1480.3 1329.1,1500.6 1325,1521 1329.1,1537.2 1325,1557.5 1321,1569.7 1308.8,1577.8 1292.5,1590 1284.4,1602.2 1276.3,1618.5 1268.1,1638.8 1255.9,1655 1239.7,1667.2 1219.4,1679.4 1203.1,1695.6 1195,1711.9 1182.8,1728.1 1166.6,1740.3 1178.6,1732.3 1166.4,1742.8 1157.7,1756.7 1140.3,1770.6 1117.6,1782 1108.9,1779.3 1091.5,1775.9 1074.1,1774.1 1051.5,1772.4 1039.3,1767.2 1032.3,1765.4 1021.9,1772.4 1021.9,1781.1 1034.1,1788 1042.8,1796.7 1039.3,1805.5 1035.8,1814.2 1039.3,1824.6 1048,1829.8 1056.7,1829.8 1058.4,1843.8 1056.7,1852.5 1048,1864.7 1039.3,1875.1 1030.6,1882.1 1028.8,1889 1018.4,1894.3 1004.5,1900 976.1,1908.9 948.2,1914.2 913.4,1917.6 885.5,1919.4 878.6,1922.9 871.6,1912.4 868.1,1922.9 875.1,1929.8 871.6,1943.8 868.1,1957.7 871.6,1975.1 857.7,1983.8 843.8,1989 815.9,1989 795,1983.8 781.1,1976.8 774.1,1985.5 777.6,2003 779.3,2020.4 788,2025.6 808.9,2022.1 822.9,2023.9 826.3,2037.8 822.9,2046.5 802,2048.2 788,2055.2 774.1,2069.1 770.6,2079.6 772.4,2097 760.2,2103.9 760.2,2114.4 746.3,2117.9 728.8,2124.8 714.9,2128.3 704.5,2138.8 695.8,2152.7 694,2163.1 701,2173.6 718.4,2184 746.3,2187.5 755,2198 753.2,2215.4 749.7,2222.3 735.8,2229.3 718.4,2236.3 701,2246.7 690.5,2260.7 687.1,2278.1 680.1,2288.5 666.2,2288.5 652.2,2295.5 641.8,2309.4 638.3,2323.3 645.3,2340.7 652.2,2351.2 666.2,2363.4 662.9,2373.7 670.2,2385.3 676,2402.7 699.2,2420.1 728.2,2434.6 751.4,2443.3 773.2,2446.8 768.9,2453.5 742.7,2456.4 728.2,2462.2 713.7,2472.3 707.9,2481.1 699.2,2484 681.8,2482.5 670.2,2476.7 641.2,2470.9 612.2,2465.1 583.1,2457.8 554.1,2449.1 525.1,2437.5 501.9,2423 481.6,2405.6 461.3,2388.2 449.6,2376.6 443.8,2362.1 438,2341.8 432.2,2324.3 427.9,2309.8 423.5,2283.7 422.1,2254.7 423.5,2225.7 426.4,2211.2 420.6,2182.2 422.1,2170.5 435.1,2164.7 443.8,2153.1 449.6,2138.6 458.4,2112.5 452.5,2095.1 461.3,2080.6 477.5,2077.1 494.9,2082.3 505.4,2075.4 508.8,2071.9 512.3,2054.5 515.8,2037.1 517.6,2019.6 519.3,2009.2 508.8,2002.2 488,2005.7 479.2,1984.8 484.5,1970.9 489.3,1950.5 498,1944.7 503.8,1927.2 498,1915.6 492.2,1898.2 489.3,1866.3 492.2,1857.6 506.7,1848.9 512.5,1837.3 518.3,1819.9 524.1,1805.4 535.7,1790.9 541.5,1761.8 547.3,1750.2 556,1738.6 553.1,1724.1 557.5,1715.4 561.8,1695.1 558.9,1666.1 554.6,1645.8 556,1628.4 564.7,1619.6 564.7,1608 561.8,1579 569.1,1564.5 582.6,1524.2 594.7,1506.8 594.7,1472 593,1437.2 593,1402.3 594.7,1384.9 601.7,1367.5 606.9,1332.7 605.2,1297.9 601.7,1263.1 598.2,1224.7 584.3,1214.3 566.9,1203.9 559.9,1193.4 539,1183 514.7,1169 493.8,1158.6 476.3,1151.6 458.9,1141.2 438,1123.8 417.2,1102.9 406.7,1088.9 399.7,1075 403.2,1061.1 392.8,1040.2 382.3,1022.8 364.9,1001.9 354.5,984.5 344,963.6 333.6,942.7 323.1,914.8 316.2,893.9 302.3,887.4 288.4,863 274.5,838.6 260.5,824.7 246.6,817.7 237.9,807.3 232.7,779.4 234.4,758.5 250.1,748.1 264,737.6 271,720.2 264,713.2 257.1,702.8 243.1,692.3 250.1,685.4 244.9,664.5 250.1,643.6 260.5,629.7 271,615.7 274.5,584.4 302.3,573.9 316.3,563.5 309.3,556.5 319.7,549.6 323.2,535.6 333.7,528.7 351.1,518.2 359.8,504.3 372,486.9 368.5,483.4 363.3,469.5 365,445.1 361.5,420.7 365,399.8 361.5,385.9 358,372 351.1,358 347.6,340.6 337.2,326.7 323.2,316.3 309.3,311 295.4,312.8 278,323.2 264,333.7 271,344.1 276.2,358 267.5,365 255.3,371.3 244.9,368.5 239.6,351.1 222.2,351.1 203.1,333.7 178.7,340.6 150,341ZM603,188 610,187 612,191 605,192ZM636,201 646,202 648,206 638,206ZM662,203 669,203 670,208 663,208ZM477.5,2010.9 493.2,2010.9 496.7,2023.1 494.9,2033.6 498.4,2051 488,2063.2 477.5,2064.9 465.3,2061.4 470.5,2047.5 472.3,2028.4 475.8,2016.2ZM889.8,253.6 912.4,250.1 914.2,271 895,274.5 889.8,271ZM799.2,243.1 814.9,239.6 820.1,244.9 804.5,249.4ZM917.6,237.9 928.1,234.4 929.1,239.6 919.4,242.4ZM909.2,2348.8 916.1,2345.3 924.8,2342.7 933.5,2337.4 942.2,2334.8 950.9,2333.1 959.6,2331.3 968.4,2332.2 971.8,2334 968.4,2338.3 961.4,2343.5 954.4,2348.8 947.5,2352.2 938.8,2354 933.5,2357.5 926.6,2360.9 920.5,2359.2 914.4,2355.7 910,2352.2ZM973.6,2336.6 977.1,2333.1 982.3,2329.6 990.1,2330 998.8,2331.3 1004.9,2333.1 1013.6,2333.1 1019.7,2336.6 1019.7,2343.5 1011.9,2345.3 1003.2,2347 994.5,2349.6 990.1,2354 981.4,2357.5 972.7,2356.6 968.4,2360.9 964,2364.4 956.2,2362.7 956.2,2356.6 959.6,2350.5 968.4,2345.3 973.6,2342.7ZM786.3,2447.7 800.8,2444.8 818.2,2444.8 816.7,2449.7 797.9,2452 787.7,2451.5ZM560,251.8 546.1,274.5 542.6,284.9 553.1,302.3 556.5,309.3 567,307.6 573.9,295.4 575.7,281.4 570.5,271 563.5,260.5ZM1243.8,1630.6 1255.9,1634.7 1251.9,1646.9 1235.6,1659.1 1223.4,1671.3 1215.3,1677.4 1209.2,1675.3 1219.4,1659.1 1231.6,1646.9 1239.7,1636.7Z" fill="none" stroke="#000" stroke-width="2.2" stroke-linejoin="round"/>
<g fill="none" stroke="#000" stroke-width="2" stroke-linejoin="round"><path d="M365.9,322.4 363.2,338.1 371.6,348.1 353.2,369.9 348.1,373.2"/><path d="M549.3,229.2 533.7,239.6 519.7,253.6 512.8,271 505.8,288.4 500.6,304.1 512.8,302.3 519.7,316.3 530.2,333.7 533.7,347.6 537.2,365 547.6,375.5 578.9,377.2 606.8,378.9 617.2,392.9 631.2,406.8 648.6,405.1 673,403.3 697.3,403.3 699.1,410.3 690.4,420.7 685.1,434.7 685.1,459 690.4,476.4 699.1,490.4 700.8,500.8 690.4,511.3 683.4,516.5 699.1,525.2 704.3,532.2 709.5,553.1 714.7,570.5"/><path d="M714.7,570.5 735.6,586.1 760,584.4 777.4,577.4 805.3,560 815.7,546.1 829.7,539.1 834.9,533.9 812.3,528.7 805.3,504.3 801.8,490.4 786.1,469.5 801.8,476.4 826.2,476.4 850.6,486.9 857.5,479.9 885.4,469.5 902.8,459 923.7,445.1"/><path d="M923.7,445.1 899.3,410.3 909.8,396.3 923.7,385.9 927.2,365 934.1,347.6 948.1,337.2 962,330.2"/><path d="M704.3,533.9 673,544.3 669.5,553.1 617.2,554.8 617.2,573.9 639.9,577.4 639.9,591.4 610.3,593.1 610.3,622.7 627.7,633.1 631.2,650.6 625.9,692.3 620.7,744.6 613.8,756.8"/><path d="M312.8,556.5 323.2,567 337.2,573.9 358,584.4 372,601.8 396.3,598.3 417.2,608.8 434.7,615.7"/><path d="M439.6,619.2 460.5,633.1 474.5,650.6 488.4,668 502.3,681.9 509.3,692.3 523.2,692.3 544.1,685.4 565,688.9 585.9,692.3 610.3,702.8 589.4,741.1 610.3,751.5 613.8,756.8"/><path d="M434.7,615.7 438.1,640.1 427.7,657.5 410.3,674.9 389.4,692.3 351.1,709.8 337.2,727.2 326.7,751.5 319.7,772.4 309.3,779.4 298.8,772.4 284.9,758.5 264,755 267.5,727.2 274.5,713.2"/><path d="M613.8,756.8 585.9,758.5 558,765.5 533.7,772.4 516.3,782.9 512.8,796.8 505.8,807.3 502.3,831.6 488.4,849 484.9,866.5 481.4,883.9 488.4,897.8 498.8,908.2 509.3,920.1"/><path d="M493.8,880 507.7,907.9 507.7,925.3 535.5,928.8 539,942.7 563.4,946.2 594.7,928.8"/><path d="M484.9,866.5 544.1,883.9 592.9,897.8 648.6,915.2 659,920.1"/><path d="M664.6,920.1 718.4,941.8 748,931.9 767.7,929.5 787.5,914.7 826.9,880.1 851.6,885.1 866.4,899.9 896,907.3 999.6,907.3"/><path d="M594.7,928.8 591.3,932.2 594.7,981 629.6,981 653.9,984.5 688.8,963.6 713.1,949.6 720.1,942.7"/><path d="M600,978.8 629.6,976.3 674,964 713.5,944.3 767.7,939.3 772.7,998.5 797.3,1023.2 846.7,1042.9 881.2,1062.7 928.1,1067.6"/><path d="M896,907.3 896,978.8 945.3,981.3 950.3,993.6 952.7,1023.2 935.5,1052.8 928.1,1067.6 940.4,1112 930.5,1119.4 940.4,1156.4 999.6,1158.9 999.6,1176.1 1024.3,1200.8 1024.3,1240.3 1009.5,1274.8"/><path d="M629.6,981 653.9,1029.7 647,1033.2 647,1068 647,1088.9 633.1,1109.8 640,1120.3 633.1,1137.7 647,1165.5 626.1,1186.4 626.1,1196.9 619.1,1203.9 612.2,1217.8 598.2,1224.7"/><path d="M626.1,1196.9 643.5,1214.3 650.5,1245.6 660.9,1259.6 657.4,1283.9 660.9,1308.3 671.4,1332.7 681.8,1374.5 681.8,1381.5 706.2,1381.5"/><path d="M706.2,1381.5 699.2,1412.8 667.9,1430.2 660.9,1444.1 660.9,1472 664.4,1506.8 653.9,1517.3 633.1,1541.6 619.1,1576.5 612.2,1604.3 612.2,1630.1"/><path d="M612.2,1629.9 596,1651.4 601.8,1680.4 613.4,1709.4 616.3,1738.4 607.6,1767.4 596,1796.5 590.2,1825.5 578.6,1842.9 572.8,1883.5 578.6,1912.5 561.2,1929.9 561.2,1929.9 555.9,1950 554.1,1960.4 548.9,1976.1 552.4,1998.8 554.1,2016.2 545.4,2023.1 543.7,2037.1 547.2,2054.5 554.1,2058 554.1,2071.9 555.9,2085.8 552.4,2098 571.5,2101.5 573.3,2110.2 568,2111.9 543.7,2113.7 545.4,2117.2 564.6,2120.6 568,2129.3 557.6,2138 554.1,2146.7 557.6,2158.9 552.4,2172.9 550.6,2193.8 547.2,2200.7 535,2202.5 529.7,2211.2 533.2,2225.1 528,2237.3 526.3,2250 513.5,2254.7 496.1,2269.2 493.2,2283.7 501.9,2298.2 507.7,2309.8 533.8,2309.8 536.7,2327.2 536.7,2341.8 548.3,2353.4 629.6,2353.4 664.4,2365"/><path d="M658.6,2373.7 658.6,2449.1"/><path d="M706.2,1381.5 720.1,1357.1 741,1346.6 751.5,1353.6 793.2,1353.6 801.9,1378 814.1,1350.1 850,1350.1"/><path d="M857.2,1349.6 868.8,1303.1 874.6,1274.1 892,1268.3 944.2,1259.6 979,1259.6 1008.1,1274.1"/><path d="M857.2,1349.6 880.4,1372.8 926.8,1407.6 967.4,1430.8 1013.9,1448.2"/><path d="M950,1418.6 1002.2,1444.7 1023.1,1455.2 1012.7,1476.1 1002.2,1497 994.4,1523.1 1033.6,1530.9 1064.9,1528.3 1091,1517.9 1111.9,1502.2 1122.4,1476.1 1127.6,1465.6 1132.8,1439.5 1138,1418.6"/><path d="M1138,1413.4 1106.7,1413.4 1096.3,1408.2 1091,1361.2 1064.9,1353.3 1017.9,1350.7 1015.3,1329.8 1012.7,1303.7 1007.5,1282.8 1017.9,1277.6 1002.2,1267.1 965.7,1256.7 950,1256.7"/><path d="M1009.5,1274.8 1019.3,1309.3 1014.4,1338.9 1024.3,1368.5"/><path d="M950,1157.5 1002.2,1157.5 999.6,1178.4 1007.5,1194 1028.4,1209.7 1054.5,1191.4 1080.6,1188.8 1111.9,1196.6 1138,1199.2 1153.7,1188.8 1151.1,1209.7 1174.6,1214.9 1182.4,1233.2 1221.6,1248.9 1250.3,1261.9"/><path d="M1250.3,1261.9 1247.7,1277.6 1234.7,1298.5 1221.6,1319.4 1216.4,1335.1 1200.7,1350.7 1179.8,1366.4 1169.4,1371.6 1158.9,1382.1 1143.3,1397.7 1138,1413.4"/><path d="M1250.3,1261.9 1263.4,1277.6 1305.2,1280.2 1318.2,1290.7 1367.9,1282.8 1373.1,1298.5 1396.6,1329.8 1394,1361.2 1404.4,1374.2 1451.4,1361.2"/><path d="M1169.4,1371.6 1205.9,1366.4 1263.4,1376.8 1289.5,1382.1 1294.7,1403 1305.2,1429.1 1315.6,1444.7 1331.3,1465.6"/><path d="M1127.6,1470.9 1151.1,1468.2 1158.9,1491.8 1200.7,1497 1237.3,1502.2 1263.4,1486.5 1294.7,1483.9 1326.1,1481.3"/><path d="M1156.3,1517.9 1200.7,1520.5 1242.5,1533.5 1268.6,1559.7 1289.5,1567.5 1284.3,1585.8 1294.7,1596.2"/><path d="M1138,1418.6 1132.8,1439.5 1127.6,1470.9 1151.1,1468.2 1158.9,1497 1156.3,1517.9 1117.1,1533.5 1085.8,1559.7 1054.5,1585.8 1028.4,1617.1 1017.9,1627.6"/><path d="M1017.9,1627.6 1044,1622.3 1080.6,1648.5 1106.7,1664.1 1132.8,1685 1158.9,1700.7 1179.8,1705.9 1195.5,1695.5 1174.6,1726.8 1164.2,1742.5"/><path d="M1017.9,1627.6 1007.5,1653.7 1007.5,1685 999.6,1726.8 1002.2,1752.9"/><path d="M926.3,445.1 940.3,438.1 943.8,448.6 947.2,459 957.7,466 961.2,476.4 957.7,490.4 950.7,504.3 954.2,518.2 957.7,542.6 971.6,560 982.1,568.7 996,563.5 1013.4,553.1 1034.3,549.6 1048.2,546.1 1062.2,546.1"/><path d="M1044.7,413.8 1039.5,434.7 1020.4,445.1 1013.4,473 1023.9,493.9 1037.8,504.3 1044.7,521.7 1055.2,542.6 1062.2,546.1"/><path d="M1062.2,546.1 1079.6,546.1 1083.1,532.2 1100.5,528.7 1117.9,525.2 1123.1,539.1 1135.3,535.6"/><path d="M1135.3,429.4 1131.8,448.6 1135.3,476.4 1145.7,493.9 1142.3,511.3 1138.8,532.2 1135.3,535.6"/><path d="M1135.3,535.6 1152.7,533.9 1184,535.6 1201.5,511.3 1215.4,483.4 1229.3,466"/><path d="M834.9,535.6 850.6,546.1 857.5,556.5 861,587.9 864.5,608.8 871.5,622.7 863.8,636.6 895.1,664.5 895.1,636.6 909.1,629.7 926.5,640.1 936.9,622.7 943.9,603.5 970,601.8 983.9,601.5 983.9,568"/><path d="M983.8,601.8 983.8,622.7 996,647.1 1013.4,657.5 1034.3,671.5 1055.2,681.9 1076.1,680.2"/><path d="M1073.6,682.8 999.6,830.8 1009.5,860.4 999.6,904.8"/><path d="M1123.1,537.4 1124.8,549.6 1145.7,556.5 1166.6,570.5 1170.1,587.9 1177.1,598.3 1187.5,619.2 1194.5,636.6 1201.5,650.6 1211.9,652.3 1222.3,647.1 1225.8,629.7 1236.3,615.7"/><path d="M1008.2,857.4 1024.1,883.5 1027,903.8 1047.3,918.3 1056,925.6 1273.7,941.5"/><path d="M1411.2,651 1409.4,664.9 1404.2,689.3 1393.8,706.7 1390.3,720.6 1379.8,738 1365.9,758.9 1352,767.6 1338,779.8 1324.1,790.3 1338,793.8 1341.5,804.2 1334.6,825.1 1320.6,839 1310.2,846 1303.2,863.4 1306.7,880.8 1303.2,894.7 1289.3,912.2 1278.8,926.1 1271.9,943.5 1264.9,967.9 1258,1002.7 1258,1030.6 1261.4,1044.5"/><path d="M1261.4,1044.5 1254.5,1072.3 1247.5,1107.2 1237.1,1121.1 1226.6,1128.1 1219.6,1149 1205.7,1155.9 1188.3,1166.4 1177.9,1180.3 1174.4,1204.7 1177.9,1229 1181.3,1249.9"/><path d="M1324.1,790.3 1338,786.8 1358.9,790.3 1365.9,800.7 1367.6,821.6 1362.4,839 1358.9,853 1365.9,859.9 1379.8,877.3 1393.8,879.1 1397.2,891.3 1386.8,898.2 1383.3,912.2 1386.8,926.1 1400.7,940 1407.7,950.5 1421.6,955.7"/><path d="M1421.6,955.7 1407.7,967.9 1397.2,985.3 1407.7,1002.7 1407.7,1037.5 1405.9,1072.3 1407.7,1107.2 1417.2,1093.9 1414.8,1121.8"/><path d="M1261.4,1044.5 1271.9,1041 1303.2,1054.9 1317.2,1041 1331.1,1054.9 1345,1051.5 1358.9,1058.4 1376.3,1051.5 1404.2,1044.5"/><path d="M1553.9,706.7 1540,724.1 1529.6,731.1 1519.1,752 1515.6,772.9 1513.9,793.8 1515.6,814.7 1519.1,828.6 1515.6,837.3 1498.2,839 1484.3,842.5 1470.4,853 1456.4,859.9 1435.5,866.9 1428.6,880.8 1421.6,898.2 1418.1,915.6 1418.1,933.1 1421.6,950.5 1425.1,953.9"/><path d="M1573.1,710.2 1571.4,724.1 1574.8,745 1581.8,765.9 1585.3,793.8 1592.3,821.6 1602.7,839 1599.2,856.4 1595.7,870.4 1595.7,887.8 1585.3,898.2 1571.4,905.2 1560.9,912.2 1547,919.1 1533.1,926.1 1522.6,933.1 1508.7,926.1 1498.2,926.1 1487.8,933.1 1491.3,943.5 1487.8,953.9 1470.4,964.4 1453,974.8 1442.5,967.9 1432.1,953.9 1425.1,953.9"/><path d="M1693.2,776.3 1682.8,793.8 1672.3,814.7 1665.4,828.6 1661.9,846 1658.4,863.4 1648,870.4 1634,859.9 1616.6,856.4 1599.2,858.2"/><path d="M1665.4,828.6 1693.2,825.1 1707.2,818.1 1710.7,828.6 1703.7,839 1721.1,839 1735,828.6 1750,825.1"/><path d="M1648,870.4 1661.9,870.4 1672.3,859.9 1693.2,856.4 1707.2,859.9 1710.7,877.3 1714.1,887.8 1735,877.3 1750,873.9"/><path d="M1571.4,905.2 1581.8,908.7 1592.3,926.1 1602.7,915.6 1623.6,908.7 1637.5,901.7 1654.9,905.2 1668.9,912.2 1679.3,926.1 1693.2,912.2 1714.1,919.1 1735,919.1 1750,915.6"/><path d="M1679.3,926.1 1707.2,940 1724.6,947 1742,950.5"/><path d="M1682.8,933.1 1686.3,960.9 1675.8,978.3 1689.8,988.8 1703.7,995.7"/><path d="M1414.8,1121.8 1431.1,1114.8 1449.7,1100.9 1470.5,1089.3 1486.8,1091.6 1489.1,1103.2 1505.4,1103.2 1528.6,1112.5 1551.8,1119.5 1572.7,1133.4 1586.6,1135.7 1609.8,1142.7 1621.4,1149.7 1612.2,1168.2 1605.2,1177.5 1598.2,1184.5 1600.6,1200.7 1612.2,1210 1601.5,1211.8 1608.4,1210.1 1617.2,1217.9 1627.6,1224.9"/><path d="M1414.8,1121.8 1412.5,1112.5 1403.2,1110.2 1398.6,1105.5 1384.6,1116 1370.7,1154.3 1375.4,1182.2 1366.1,1193.8 1370.7,1217 1349.8,1230.9 1319.6,1226.3 1296.4,1233.2 1268.6,1240.2 1263.9,1249.9 1250.3,1261.9"/><path d="M1273.2,1035.9 1303.4,1054.5 1310.4,1042.9 1326.6,1052.1 1331.3,1059.1 1342.9,1054.5 1361.4,1059.1 1366.1,1052.1 1389.3,1047.5 1405.5,1045.2"/><path d="M1601.5,1211.8 1589.3,1214.4 1587.6,1219.6 1578.8,1223.1 1577.1,1233.6 1578.8,1240.5 1584.1,1249.2 1584.1,1258 1578.8,1268.4 1571.9,1278.8 1566.7,1287.6 1556.2,1289.3 1554.5,1298 1554.5,1306.7 1554.5,1308.4 1558,1318.9 1571.9,1322.4 1584.1,1324.1"/><path d="M1554.5,1308.4 1547.5,1313.7 1544,1320.6 1540.5,1336.3 1537.1,1338 1512.7,1350.2 1493.5,1352 1467.4,1358.9 1450,1364.2 1451,1361 1457,1368 1462,1382"/><path d="M1174.6,1214.9 1174.6,1194 1179.8,1178.4 1190.3,1157.5 1205.9,1147 1226.8,1131.3 1242.5,1110.4 1247.7,1100"/></g>
<path d="M666.3,2366.4 646.8,2370.6 632.1,2369.3 620.8,2371.9 607.8,2374.2 594.8,2377.1 586.6,2382 582.6,2395 581.8,2406.4 573.6,2412.1 560.6,2413.7 544.4,2408 529.8,2402.3 520,2399.9M598,2401.5 611,2398.3 625.6,2399.1 633.8,2400.2" fill="none" stroke="#000" stroke-width="6.5" stroke-linejoin="round" stroke-linecap="round"/>
<path d="M666.3,2366.4 646.8,2370.6 632.1,2369.3 620.8,2371.9 607.8,2374.2 594.8,2377.1 586.6,2382 582.6,2395 581.8,2406.4 573.6,2412.1 560.6,2413.7 544.4,2408 529.8,2402.3 520,2399.9M598,2401.5 611,2398.3 625.6,2399.1 633.8,2400.2" fill="none" stroke="#fff" stroke-width="3" stroke-linejoin="round" stroke-linecap="round"/>
<path d="M690.4,210.0m-2.2,0a2.2,2.2 0 1,0 4.4,0a2.2,2.2 0 1,0 -4.4,0M718.2,213.5m-2.2,0a2.2,2.2 0 1,0 4.4,0a2.2,2.2 0 1,0 -4.4,0M739.1,215.3m-2.2,0a2.2,2.2 0 1,0 4.4,0a2.2,2.2 0 1,0 -4.4,0M791.4,213.5m-2.2,0a2.2,2.2 0 1,0 4.4,0a2.2,2.2 0 1,0 -4.4,0M702.0,212.0m-2.2,0a2.2,2.2 0 1,0 4.4,0a2.2,2.2 0 1,0 -4.4,0M907.4,2320.9m-2.2,0a2.2,2.2 0 1,0 4.4,0a2.2,2.2 0 1,0 -4.4,0M917.0,2323.5m-2.2,0a2.2,2.2 0 1,0 4.4,0a2.2,2.2 0 1,0 -4.4,0M930.9,2324.4m-2.2,0a2.2,2.2 0 1,0 4.4,0a2.2,2.2 0 1,0 -4.4,0M938.8,2324.8m-2.2,0a2.2,2.2 0 1,0 4.4,0a2.2,2.2 0 1,0 -4.4,0M922.2,2330.5m-2.2,0a2.2,2.2 0 1,0 4.4,0a2.2,2.2 0 1,0 -4.4,0M927.4,2328.7m-2.2,0a2.2,2.2 0 1,0 4.4,0a2.2,2.2 0 1,0 -4.4,0M918.7,2337.4m-2.2,0a2.2,2.2 0 1,0 4.4,0a2.2,2.2 0 1,0 -4.4,0M922.2,2340.0m-2.2,0a2.2,2.2 0 1,0 4.4,0a2.2,2.2 0 1,0 -4.4,0M903.9,2343.5m-2.2,0a2.2,2.2 0 1,0 4.4,0a2.2,2.2 0 1,0 -4.4,0M904.8,2347.9m-2.2,0a2.2,2.2 0 1,0 4.4,0a2.2,2.2 0 1,0 -4.4,0M959.6,2346.1m-2.2,0a2.2,2.2 0 1,0 4.4,0a2.2,2.2 0 1,0 -4.4,0M998.0,2354.0m-2.2,0a2.2,2.2 0 1,0 4.4,0a2.2,2.2 0 1,0 -4.4,0M984.0,2360.1m-2.2,0a2.2,2.2 0 1,0 4.4,0a2.2,2.2 0 1,0 -4.4,0M975.3,2367.0m-2.2,0a2.2,2.2 0 1,0 4.4,0a2.2,2.2 0 1,0 -4.4,0M954.4,2365.3m-2.2,0a2.2,2.2 0 1,0 4.4,0a2.2,2.2 0 1,0 -4.4,0M912.6,2349.6m-2.2,0a2.2,2.2 0 1,0 4.4,0a2.2,2.2 0 1,0 -4.4,0M916.1,2354.0m-2.2,0a2.2,2.2 0 1,0 4.4,0a2.2,2.2 0 1,0 -4.4,0M944.0,2330.5m-2.2,0a2.2,2.2 0 1,0 4.4,0a2.2,2.2 0 1,0 -4.4,0M950.9,2328.7m-2.2,0a2.2,2.2 0 1,0 4.4,0a2.2,2.2 0 1,0 -4.4,0" fill="#000"/>
<path d="M637.9,2454.0 636.5,2452.0 634.0,2449.5 636.0,2444.1 638.7,2442.5 642.9,2442.9 644.6,2447.7 644.0,2450.0 641.7,2452.3ZM437.1,2349.5 441.7,2345.8 447.2,2341.1 457.7,2338.0 465.3,2337.1 470.3,2339.3 468.3,2345.6 463.7,2347.7 449.0,2352.1 445.8,2351.0ZM430.9,2251.7 429.3,2253.0 428.1,2253.0 426.4,2252.9 426.0,2252.0 425.2,2250.9 425.6,2248.8 427.0,2248.3 427.9,2248.6 429.1,2248.2 430.0,2249.5 430.6,2250.8ZM442.1,2337.6 447.3,2331.6 455.8,2328.2 465.6,2326.9 466.2,2330.6 465.3,2334.0 454.8,2336.8 449.6,2337.9ZM546.5,2441.6 543.8,2439.9 542.9,2436.8 541.8,2433.3 546.0,2431.3 549.0,2428.7 553.9,2431.3 552.7,2434.9 552.2,2437.5 550.4,2440.2ZM474.8,2328.5 470.4,2327.5 466.1,2319.3 464.7,2314.3 465.2,2307.6 466.6,2304.6 471.4,2307.9 474.8,2317.1 475.3,2322.5ZM655.8,2440.9 658.6,2436.4 664.2,2432.6 670.9,2429.4 674.8,2430.3 682.0,2429.1 682.8,2430.3 685.1,2433.3 677.0,2437.0 672.5,2439.5 664.8,2441.6 658.9,2442.6ZM509.0,2427.3 507.0,2427.4 505.2,2425.0 504.8,2422.8 504.8,2419.2 505.5,2415.7 508.0,2415.8 510.2,2417.2 510.9,2420.9 511.7,2423.8 510.8,2425.1ZM441.4,2317.4 439.7,2320.7 435.0,2319.8 431.8,2315.5 430.1,2311.5 433.1,2309.8 438.5,2310.4 441.9,2313.8ZM459.4,2145.7 458.2,2147.9 453.7,2144.3 450.2,2142.2 450.1,2138.0 452.6,2137.5 454.3,2137.8 457.7,2139.8 460.7,2144.3ZM604.2,2459.5 604.5,2457.4 607.2,2454.7 611.0,2452.8 618.2,2450.2 622.1,2448.8 625.2,2450.1 625.0,2452.5 619.1,2456.0 617.2,2459.1 610.4,2459.7 604.2,2461.7ZM471.9,2106.4 469.9,2108.5 464.7,2108.9 462.0,2108.4 459.6,2106.6 459.1,2104.9 461.3,2103.4 462.7,2102.2 467.7,2103.0 469.7,2104.4ZM423.2,2191.0 422.7,2189.7 423.7,2188.3 426.0,2185.9 427.1,2185.0 429.6,2184.1 431.8,2183.5 431.3,2186.0 430.3,2187.8 427.7,2190.4 425.7,2191.4 424.5,2191.1ZM571.5,2415.8 569.8,2416.2 568.4,2412.0 569.3,2408.4 570.3,2400.1 571.5,2401.0 574.0,2399.2 574.7,2402.7 576.2,2408.0 575.2,2413.5 573.6,2417.9ZM483.6,2350.0 487.3,2347.6 489.7,2346.2 493.1,2345.9 496.6,2347.9 498.6,2348.7 497.8,2351.4 495.0,2355.2 489.5,2355.0 487.1,2354.0ZM461.3,2164.0 458.5,2163.2 456.8,2161.1 454.0,2153.0 455.1,2151.0 456.3,2147.2 458.5,2147.0 462.2,2153.3 462.6,2158.4 463.8,2164.9ZM567.0,2436.8 567.3,2433.2 569.1,2429.7 574.1,2430.4 580.0,2432.7 577.3,2436.9 576.3,2440.3 570.3,2439.3ZM442.4,2211.9 443.9,2208.7 445.7,2206.5 446.9,2205.4 450.2,2203.8 454.3,2203.7 455.2,2204.6 453.6,2209.1 452.1,2210.6 448.2,2214.0 443.0,2214.2ZM597.3,2443.8 590.4,2445.8 583.6,2446.7 580.5,2447.7 575.4,2444.7 569.3,2441.5 566.7,2437.4 573.0,2434.6 580.2,2436.4 590.1,2438.0 593.8,2439.2ZM422.0,2251.0 420.4,2249.0 423.5,2244.0 429.0,2238.3 435.0,2235.5 436.6,2235.6 436.1,2239.5 435.1,2244.3 429.9,2247.3 426.2,2250.3ZM457.7,2306.0 458.4,2305.2 460.9,2303.9 462.4,2303.1 466.2,2303.9 465.7,2305.4 466.3,2306.7 464.8,2307.6 463.6,2308.0 461.6,2307.9 458.2,2308.2ZM545.1,2404.2 542.2,2405.1 540.4,2404.6 538.1,2401.1 538.2,2396.3 540.2,2395.5 543.4,2397.2 545.3,2398.8 547.6,2402.3ZM439.1,2177.1 437.2,2170.1 437.4,2165.9 438.9,2160.3 441.9,2155.6 446.5,2150.0 447.8,2153.8 447.4,2158.6 445.2,2165.6 442.7,2174.6ZM498.3,2363.3 497.3,2367.2 492.4,2367.2 486.9,2365.3 476.4,2362.2 474.4,2358.6 478.3,2356.5 479.9,2355.4 489.9,2354.1 492.8,2356.6 496.0,2359.4ZM441.3,2168.2 440.1,2167.8 439.0,2167.7 438.2,2166.6 438.5,2164.8 439.0,2162.1 440.4,2162.8 441.5,2162.7 443.3,2163.2 443.6,2164.3 444.2,2166.1 443.1,2167.9ZM643.1,2446.0 639.9,2447.3 636.6,2442.4 634.0,2438.5 634.2,2436.5 635.6,2431.1 639.0,2433.1 640.6,2433.0 644.5,2436.6 643.7,2440.4 645.0,2443.8ZM595.5,2456.7 597.1,2450.9 603.3,2447.2 611.6,2445.1 615.3,2447.4 615.9,2450.3 608.2,2457.0 603.1,2458.5ZM576.3,2437.8 572.4,2434.9 568.7,2431.8 568.4,2426.5 569.1,2423.0 573.1,2422.4 576.4,2425.4 579.6,2428.5 578.6,2434.8ZM617.2,2441.7 616.4,2439.0 623.1,2432.4 626.9,2430.2 636.3,2425.3 637.1,2429.3 634.3,2436.5 627.4,2441.7 619.7,2443.5ZM482.8,2183.7 479.3,2182.5 481.8,2172.6 486.0,2165.9 489.5,2163.7 492.9,2164.1 490.9,2173.0 487.2,2178.8ZM474.4,2361.1 473.1,2358.6 472.6,2355.3 474.1,2354.2 476.4,2350.7 478.5,2351.3 480.1,2354.0 479.8,2355.9 479.2,2358.8 476.2,2361.0ZM442.4,2213.4 440.8,2210.4 440.1,2207.1 442.5,2202.1 445.7,2200.1 446.9,2202.9 446.8,2207.2 444.0,2212.0ZM514.4,2435.6 518.3,2432.1 520.7,2429.0 530.1,2429.1 533.7,2429.8 537.8,2432.1 537.5,2435.8 530.7,2438.0 523.1,2439.4 516.6,2437.7ZM446.4,2341.1 442.4,2339.7 439.4,2338.0 436.3,2333.4 437.0,2331.3 439.0,2331.0 443.5,2334.8 445.5,2338.0ZM469.1,2289.9 466.9,2290.5 461.9,2291.8 457.2,2289.8 455.5,2287.1 456.4,2285.8 460.9,2284.5 465.4,2285.0 468.5,2287.3ZM458.1,2222.2 455.9,2221.7 454.3,2223.2 452.1,2221.2 450.0,2218.5 448.9,2217.0 450.9,2216.0 452.5,2214.0 454.8,2214.9 457.7,2217.4 457.4,2219.2ZM540.2,2438.6 538.7,2439.4 537.1,2439.8 534.5,2439.3 531.8,2436.2 531.8,2434.2 533.9,2431.5 535.4,2431.6 538.9,2432.6 541.4,2433.9 542.8,2437.1ZM468.6,2151.5 469.3,2148.8 470.8,2147.9 472.2,2148.3 473.7,2149.2 473.5,2151.3 472.3,2152.5 470.0,2152.6ZM479.7,2192.4 477.2,2195.6 473.2,2197.4 468.8,2194.1 467.1,2191.8 468.1,2188.5 470.6,2183.9 475.0,2185.9 479.3,2186.2 481.1,2190.5ZM487.9,2087.3 485.5,2088.3 485.8,2089.3 481.8,2088.5 478.9,2087.5 478.5,2086.3 477.6,2085.8 478.9,2084.1 481.2,2084.1 482.3,2084.0 485.2,2085.7 486.2,2086.7ZM729.6,2472.6 724.6,2470.3 721.9,2471.1 716.4,2462.8 717.8,2458.9 718.3,2454.4 720.7,2452.5 726.6,2457.8 729.2,2462.5 729.4,2466.1ZM453.9,2209.8 453.7,2205.2 460.2,2198.6 466.3,2194.9 470.6,2194.2 469.2,2199.5 465.7,2205.3 459.5,2208.6ZM439.8,2330.0 441.2,2325.7 444.6,2323.4 447.2,2321.8 450.2,2326.2 451.3,2329.2 448.3,2333.2 442.4,2332.8ZM474.4,2092.1 474.5,2093.4 473.6,2094.0 472.0,2094.6 471.3,2093.8 470.4,2092.9 469.8,2092.6 470.6,2091.6 471.5,2090.7 472.5,2089.9 473.2,2090.6 474.6,2091.6ZM689.8,2443.5 688.5,2443.4 688.0,2441.6 688.0,2439.7 688.6,2436.9 689.8,2436.3 690.6,2436.2 691.9,2437.5 692.3,2439.4 692.3,2441.4 690.7,2442.5ZM438.8,2180.3 438.7,2178.8 442.0,2174.4 444.3,2172.0 445.6,2170.4 448.9,2168.1 450.8,2170.3 452.2,2171.4 450.7,2175.2 447.0,2178.4 445.6,2178.4 441.8,2180.7ZM668.1,2468.9 669.0,2464.3 669.8,2459.5 673.6,2455.9 677.6,2453.1 679.1,2454.5 679.9,2458.3 675.3,2463.3 672.6,2465.7ZM443.3,2300.3 448.9,2297.6 452.5,2295.7 457.9,2292.6 463.2,2294.9 468.0,2294.9 469.3,2300.0 466.5,2302.3 461.0,2303.9 455.3,2303.8 447.9,2303.1ZM462.2,2270.0 464.3,2268.0 468.9,2266.3 477.5,2265.8 478.3,2267.7 475.6,2269.7 471.7,2270.9 465.8,2271.3ZM470.0,2231.8 470.4,2229.0 472.3,2224.0 477.2,2221.5 481.3,2219.7 484.4,2221.2 482.6,2225.6 478.8,2229.1 472.2,2233.5ZM481.5,2142.5 479.7,2143.0 472.9,2139.0 470.3,2133.7 467.0,2128.9 471.1,2127.5 476.5,2128.8 480.8,2131.0 483.5,2137.3ZM710.0,2473.4 707.1,2474.6 703.4,2475.1 696.9,2471.5 693.9,2469.4 689.9,2466.6 689.5,2462.6 691.6,2461.7 695.6,2462.3 706.0,2464.5 707.3,2467.9 710.3,2470.7ZM435.3,2166.3 436.1,2164.0 437.9,2162.1 442.8,2163.0 442.5,2165.4 442.7,2167.0 439.0,2168.9 436.7,2168.0ZM483.4,2217.4 481.0,2216.8 480.9,2214.4 481.8,2208.7 482.8,2207.4 484.9,2207.3 486.6,2208.6 486.9,2214.1 484.9,2217.9ZM633.7,2467.0 635.5,2466.1 639.6,2464.3 643.4,2463.6 646.8,2464.5 646.4,2466.4 645.0,2468.4 643.1,2468.7 639.6,2469.5 635.8,2468.1ZM423.5,2298.3 420.2,2298.4 423.5,2294.8 426.6,2290.0 432.8,2288.5 435.1,2287.0 436.5,2288.7 436.0,2292.5 436.8,2294.3 432.3,2299.0 428.8,2299.5 425.2,2300.8ZM466.8,2095.0 464.3,2094.9 461.8,2090.9 459.3,2087.5 459.3,2085.3 460.3,2083.3 461.9,2084.6 464.5,2085.2 466.4,2088.6 467.6,2093.6ZM445.6,2238.3 442.2,2239.8 440.0,2239.9 434.7,2236.8 430.2,2231.7 427.8,2228.8 429.8,2226.3 435.4,2226.2 440.2,2227.9 442.7,2230.6 446.7,2236.2ZM440.1,2357.5 437.2,2354.6 437.5,2351.1 436.8,2344.6 438.5,2343.1 442.1,2341.8 445.0,2340.2 446.5,2345.0 445.9,2348.5 444.6,2353.6 442.6,2355.1ZM426.9,2202.5 425.7,2199.5 427.1,2195.3 431.3,2190.4 436.7,2188.8 439.9,2188.0 441.1,2192.2 437.5,2195.6 434.1,2201.5 430.3,2202.1ZM619.1,2448.1 617.0,2447.7 615.8,2444.9 614.9,2441.2 616.4,2438.9 618.1,2438.9 621.7,2439.0 622.9,2442.1 623.5,2444.3 621.2,2447.4ZM484.8,2372.4 480.3,2374.9 477.1,2374.1 471.5,2371.7 467.7,2366.7 466.5,2362.0 467.4,2360.2 475.3,2362.3 482.5,2365.2 484.1,2369.1ZM481.1,2269.3 479.6,2270.1 477.6,2268.1 475.8,2263.9 475.9,2260.2 477.6,2257.8 479.2,2255.7 481.3,2259.2 483.6,2259.5 484.6,2264.9 484.0,2268.7ZM520.8,2378.4 519.0,2381.2 515.0,2381.8 510.4,2380.2 508.3,2378.7 511.8,2375.5 514.5,2374.3 519.5,2376.0ZM534.6,2395.9 531.5,2397.8 526.7,2395.3 525.1,2389.8 527.8,2386.7 530.5,2385.6 533.9,2385.8 537.7,2389.3 537.3,2393.8ZM453.4,2341.8 451.8,2343.0 450.3,2344.1 448.7,2344.0 445.6,2343.0 444.1,2341.4 443.6,2340.2 446.3,2339.5 449.1,2339.6 451.7,2339.9 452.6,2341.0ZM639.2,2464.2 636.2,2462.7 632.2,2461.4 627.4,2454.0 625.9,2449.8 629.0,2449.2 631.8,2451.2 636.6,2454.8 637.6,2459.3ZM440.2,2258.6 434.2,2261.3 427.5,2262.9 421.2,2258.8 415.7,2256.4 415.8,2252.2 423.5,2251.3 430.4,2252.7 435.4,2255.8ZM541.9,2413.3 540.4,2411.9 540.5,2407.0 541.4,2404.5 542.9,2400.6 544.2,2401.9 545.2,2405.7 545.4,2409.3 543.8,2411.4ZM524.6,2420.5 523.5,2419.1 523.3,2418.2 524.1,2416.4 525.1,2415.5 526.8,2414.9 527.5,2415.6 528.2,2417.6 527.0,2419.2 526.3,2420.6ZM457.1,2197.6 456.0,2195.8 455.2,2195.2 456.2,2193.2 457.6,2191.3 458.5,2192.5 459.6,2193.3 459.3,2195.7 458.2,2196.8ZM712.7,2447.3 710.9,2448.9 708.6,2449.4 704.8,2448.2 703.8,2446.7 704.4,2444.9 708.5,2445.5 712.5,2446.1ZM498.5,2420.2 499.7,2417.7 502.6,2416.1 506.9,2414.7 508.3,2415.1 507.6,2417.6 504.7,2420.2 502.2,2420.0ZM456.3,2309.8 457.3,2307.5 460.7,2304.8 464.1,2303.6 470.2,2303.9 474.0,2304.6 470.8,2306.9 467.5,2309.8 460.9,2310.9 456.4,2311.6ZM471.8,2090.2 470.0,2089.2 470.5,2083.3 472.8,2079.3 474.0,2075.0 477.3,2074.2 478.2,2078.7 479.7,2079.6 477.5,2087.1 474.4,2090.3ZM580.9,2450.8 576.8,2449.6 575.0,2450.5 566.5,2446.8 563.3,2443.8 562.1,2441.0 563.4,2439.0 565.3,2438.1 567.1,2438.1 574.1,2442.2 576.3,2444.5 579.1,2446.8ZM506.8,2420.0 504.5,2421.4 500.4,2421.7 496.1,2420.7 490.2,2419.4 490.7,2415.8 491.1,2413.6 498.3,2413.3 502.3,2414.7 508.0,2417.0ZM438.1,2344.7 438.4,2341.8 442.3,2338.3 449.1,2335.7 453.5,2334.5 455.1,2338.0 450.7,2341.7 446.3,2345.9 438.0,2347.9ZM630.3,2445.5 627.5,2444.6 624.8,2442.1 624.4,2438.2 622.9,2434.3 625.0,2433.3 628.2,2436.3 630.3,2439.5 631.7,2444.5ZM502.5,2396.2 501.1,2395.8 497.6,2393.6 495.8,2391.0 494.8,2387.7 493.0,2384.6 494.3,2383.9 496.2,2384.6 498.4,2385.4 500.1,2387.4 501.6,2390.1 502.3,2393.5ZM619.3,2446.1 615.6,2443.9 613.7,2442.4 611.2,2437.4 609.4,2432.3 610.1,2428.1 611.6,2428.9 615.4,2432.5 618.8,2439.2 619.6,2443.4ZM482.1,2138.8 478.5,2136.5 479.7,2132.7 482.3,2126.7 485.3,2122.1 489.0,2123.7 492.5,2128.5 489.6,2132.9 486.9,2137.9ZM581.3,2426.3 580.9,2425.2 582.9,2423.4 584.4,2423.0 586.0,2423.4 587.6,2424.8 586.5,2426.2 585.5,2427.8 584.2,2427.7 582.2,2427.5ZM597.1,2437.7 594.0,2437.9 593.0,2436.8 591.4,2435.9 591.6,2433.6 591.9,2431.0 593.2,2429.7 595.7,2429.4 597.6,2430.0 598.0,2433.0 599.0,2435.1 597.7,2436.5ZM440.1,2192.2 440.2,2193.5 438.5,2194.1 436.6,2194.3 434.7,2193.6 434.6,2192.4 433.7,2191.5 434.9,2190.0 435.7,2189.2 437.3,2190.0 438.7,2189.9 439.4,2191.5ZM451.9,2279.5 448.2,2280.4 444.0,2275.5 441.2,2269.9 441.4,2267.8 438.1,2259.7 438.9,2256.8 443.5,2258.5 446.0,2260.6 449.4,2266.0 453.7,2274.2 452.3,2277.7ZM424.3,2211.0 422.9,2209.6 428.2,2208.0 432.6,2207.4 435.0,2208.6 436.5,2210.6 432.9,2211.8 429.0,2212.9 424.6,2212.6ZM444.6,2315.1 437.9,2314.9 435.0,2314.4 428.1,2312.8 422.3,2308.6 420.7,2304.7 428.4,2303.9 430.4,2303.2 437.2,2306.1 443.7,2309.1ZM643.6,2468.2 644.2,2466.4 645.2,2464.8 649.0,2463.0 655.4,2462.8 657.7,2463.5 658.6,2465.9 657.0,2467.8 654.9,2470.0 650.8,2471.6 645.6,2470.9 642.1,2470.1ZM487.3,2414.4 491.1,2410.4 493.2,2407.4 497.6,2408.5 503.4,2410.4 502.2,2414.3 501.0,2417.5 494.5,2418.3 490.9,2415.6ZM434.1,2273.0 434.3,2270.0 435.3,2268.2 437.0,2266.1 438.9,2264.7 440.5,2266.0 443.2,2267.7 441.7,2270.3 440.8,2271.6 439.2,2272.8 436.9,2273.4ZM675.2,2476.5 674.9,2477.9 672.3,2478.3 668.3,2478.0 662.7,2475.5 660.4,2474.5 660.0,2473.0 660.2,2471.3 665.6,2471.1 667.7,2471.2 671.6,2473.1 672.9,2474.6ZM466.8,2128.5 466.0,2127.5 466.3,2125.9 466.9,2123.6 467.6,2121.9 468.8,2121.2 470.3,2122.5 471.3,2123.6 471.0,2126.1 470.7,2126.9 468.5,2128.1ZM539.3,2442.2 538.9,2441.1 538.9,2439.7 540.1,2439.1 541.0,2438.4 543.0,2438.1 544.0,2439.3 543.4,2440.5 542.9,2441.8 542.1,2442.4 540.4,2442.8ZM457.2,2316.8 452.8,2317.5 448.6,2318.2 444.2,2312.8 445.4,2309.5 449.9,2308.1 452.6,2307.8 457.1,2313.4ZM452.4,2317.8 448.4,2320.0 444.6,2321.5 438.5,2319.8 433.0,2318.8 432.0,2316.1 433.3,2314.5 438.5,2311.9 446.1,2313.5 453.6,2315.7ZM465.6,2114.2 466.8,2111.6 470.7,2107.2 474.5,2103.2 478.5,2102.5 479.7,2104.3 478.2,2107.5 476.3,2110.6 473.4,2112.3 469.2,2114.6ZM532.7,2382.3 528.8,2382.3 523.1,2379.4 519.2,2376.3 519.0,2371.2 523.0,2369.4 528.3,2374.0 534.3,2378.3ZM432.1,2296.9 431.5,2293.9 432.5,2291.0 436.3,2290.8 438.8,2290.9 441.2,2291.8 440.3,2294.9 438.7,2297.5 436.2,2298.1 433.9,2297.7ZM651.7,2466.2 651.2,2462.8 656.2,2454.2 663.0,2448.2 668.3,2449.7 671.2,2450.4 668.7,2455.7 661.9,2463.9 656.8,2464.8ZM651.8,2479.1 650.6,2475.9 652.6,2471.4 656.2,2467.5 658.2,2467.8 660.0,2470.0 659.5,2472.4 657.5,2476.1 655.3,2478.4ZM447.0,2193.3 445.3,2192.2 444.4,2190.2 445.0,2188.6 446.0,2186.5 447.5,2186.7 449.4,2188.1 448.9,2190.5 448.8,2192.8ZM445.3,2356.9 448.2,2351.2 452.5,2347.1 456.9,2346.4 462.4,2345.0 461.1,2349.4 455.1,2353.2 451.5,2354.8ZM466.0,2158.9 464.6,2155.4 464.8,2152.9 466.1,2149.7 468.5,2148.9 470.8,2148.9 472.8,2150.8 472.1,2154.7 472.4,2157.3 468.2,2159.4ZM652.3,2470.9 646.5,2471.1 641.7,2462.9 637.3,2455.0 636.2,2448.5 640.6,2448.5 644.6,2449.4 648.9,2458.5 652.9,2466.8ZM461.9,2139.0 458.3,2142.1 452.5,2137.3 451.4,2131.6 451.5,2127.2 452.4,2123.2 454.5,2122.1 460.7,2128.9 461.8,2131.8 462.9,2137.4ZM667.2,2480.4 667.0,2479.3 666.0,2475.1 667.9,2473.8 672.6,2471.2 674.1,2469.2 677.5,2471.2 677.2,2472.7 677.6,2475.2 675.7,2479.6 671.9,2480.3 669.0,2482.2ZM456.2,2234.8 453.5,2235.2 450.9,2235.3 449.6,2233.9 448.4,2232.3 448.0,2230.8 450.0,2230.7 453.3,2231.4 453.9,2232.5ZM573.0,2433.5 572.8,2429.5 577.3,2423.4 585.6,2419.5 589.5,2420.2 587.7,2425.7 581.5,2431.7 572.5,2436.9ZM485.0,2405.8 485.7,2404.2 487.3,2401.9 490.0,2400.3 493.3,2401.5 495.2,2402.4 494.3,2404.4 493.2,2406.0 488.7,2408.0 487.2,2407.1ZM456.8,2356.2 456.0,2355.9 455.1,2353.6 455.6,2351.7 457.2,2350.4 458.6,2351.6 459.3,2352.4 459.5,2354.6 458.8,2356.5ZM471.3,2085.4 472.1,2081.6 476.2,2080.0 478.8,2080.2 484.4,2083.1 482.6,2085.6 482.6,2089.1 476.4,2089.0 471.4,2087.9ZM700.7,2489.0 698.6,2488.2 697.0,2488.4 695.8,2478.8 694.6,2475.6 697.0,2471.4 698.4,2470.0 700.3,2469.8 702.6,2476.2 704.1,2480.0 703.7,2485.1 703.0,2489.6ZM466.9,2372.7 465.9,2368.1 471.8,2363.6 479.8,2361.2 482.5,2362.7 483.4,2367.3 478.1,2371.4 468.6,2376.5ZM473.5,2153.2 469.2,2151.8 465.0,2149.6 461.2,2140.9 462.9,2136.7 467.3,2138.4 472.3,2143.2 476.3,2152.3ZM463.8,2230.8 462.1,2232.2 456.3,2228.3 453.8,2226.5 450.6,2221.1 452.7,2220.2 456.2,2222.2 460.9,2225.4 464.7,2229.2ZM441.4,2175.9 441.7,2178.9 433.8,2180.7 427.5,2181.2 420.1,2178.5 421.0,2175.9 421.9,2173.7 429.1,2171.0 436.4,2171.4 440.4,2173.6ZM453.2,2317.1 451.7,2318.0 448.5,2317.7 445.3,2314.2 446.1,2309.9 448.9,2309.6 451.8,2308.8 454.1,2310.3 455.3,2313.8ZM458.2,2375.5 457.8,2369.0 461.3,2365.8 467.2,2363.5 470.0,2364.3 470.1,2370.2 466.8,2373.7 462.2,2376.3ZM561.7,2431.3 556.6,2429.0 551.5,2427.2 549.9,2425.1 547.6,2419.7 545.5,2415.8 548.0,2414.2 551.9,2415.0 553.7,2416.2 557.8,2422.3 559.2,2427.1ZM481.4,2181.8 478.4,2175.9 477.2,2173.7 477.5,2167.5 481.1,2165.2 483.4,2164.2 484.3,2172.7 484.5,2176.8ZM458.3,2361.4 455.9,2360.7 455.2,2359.3 454.2,2355.1 456.0,2347.6 458.0,2344.9 460.0,2342.7 460.8,2347.2 463.3,2349.2 463.3,2355.4 461.6,2356.9 460.8,2362.4ZM480.1,2316.7 475.0,2314.6 472.6,2314.0 467.2,2308.9 466.9,2306.9 467.8,2304.4 470.4,2305.0 476.2,2310.1 478.9,2312.6ZM435.9,2301.6 432.8,2298.8 430.6,2290.7 428.0,2286.8 429.2,2278.8 428.9,2272.5 431.1,2272.8 434.6,2275.8 437.4,2279.0 438.4,2287.7 440.2,2294.9 438.1,2300.7ZM526.7,2428.6 525.9,2429.1 521.9,2425.7 518.9,2423.2 517.9,2420.5 517.1,2419.0 519.4,2418.1 520.4,2417.2 523.3,2420.2 525.3,2423.2 527.6,2425.6ZM477.8,2209.9 468.0,2209.6 462.1,2207.5 451.2,2202.4 447.9,2194.5 453.5,2193.5 463.0,2196.9 475.7,2205.7ZM485.7,2261.4 480.1,2259.3 475.8,2257.7 473.5,2253.7 469.1,2249.3 471.4,2248.2 471.5,2245.6 477.9,2249.5 483.6,2254.7 482.8,2256.7ZM517.5,2395.4 522.9,2391.4 523.4,2387.7 529.7,2386.9 541.4,2383.4 541.4,2385.9 548.8,2387.3 544.6,2391.5 540.7,2393.0 531.9,2395.7 527.0,2395.9 521.3,2397.4ZM456.1,2323.2 454.0,2320.7 455.5,2314.2 459.1,2305.4 461.5,2304.3 462.3,2310.0 462.7,2315.0 459.0,2322.2ZM602.9,2463.6 599.8,2456.8 599.2,2454.4 599.6,2449.2 601.3,2442.6 605.5,2441.6 607.1,2448.6 607.1,2453.4 605.6,2459.0ZM482.7,2161.8 482.5,2160.7 482.3,2159.0 483.8,2157.5 485.2,2156.9 486.3,2158.1 487.2,2158.7 487.3,2160.1 485.9,2162.3 484.3,2162.3ZM635.6,2466.5 632.9,2468.8 629.5,2466.3 627.1,2459.4 625.9,2453.7 627.7,2450.3 632.0,2452.3 634.6,2454.6 636.1,2461.1 638.0,2466.4ZM468.5,2231.9 463.9,2230.8 459.6,2227.6 454.3,2220.1 452.5,2210.2 452.8,2205.5 458.6,2209.0 464.3,2214.3 468.9,2222.2 468.6,2226.7ZM599.9,2443.8 599.5,2442.5 599.2,2440.0 601.4,2438.9 604.0,2437.6 607.3,2438.6 607.9,2441.4 607.3,2443.2 603.5,2445.2 601.4,2446.8ZM640.6,2481.8 635.9,2476.7 636.8,2470.5 638.2,2462.5 639.6,2459.0 645.4,2456.2 646.4,2460.9 648.9,2464.6 647.5,2472.7 643.9,2480.3ZM472.1,2291.5 469.6,2291.9 466.6,2290.5 463.3,2288.1 460.8,2283.4 460.6,2278.6 463.6,2276.7 466.6,2278.6 469.3,2280.8 471.7,2286.0 472.1,2289.6ZM515.1,2121.8 513.4,2120.9 511.0,2121.9 507.3,2117.9 505.2,2111.5 506.2,2109.1 506.9,2108.3 509.0,2108.3 511.8,2109.7 514.8,2110.5 516.5,2115.6 517.1,2120.7ZM646.3,2473.6 645.7,2474.6 644.6,2472.7 643.8,2471.6 644.0,2469.7 644.8,2468.6 645.8,2467.4 646.8,2467.8 648.7,2468.6 648.6,2471.0 648.7,2472.2 648.0,2473.0ZM688.1,2465.5 687.7,2463.5 686.2,2461.2 685.5,2456.2 686.6,2454.6 688.0,2451.1 689.5,2450.6 690.4,2451.6 691.9,2454.4 692.2,2455.8 692.3,2461.1 689.6,2465.4ZM632.6,2461.8 635.7,2457.6 638.3,2455.1 640.1,2452.6 648.7,2451.3 650.6,2453.7 652.8,2456.0 652.2,2459.4 645.3,2461.9 641.6,2463.0 637.7,2462.9ZM719.6,2473.7 719.2,2478.9 708.8,2472.1 699.4,2468.1 696.2,2462.5 693.4,2458.4 695.9,2455.2 701.5,2457.9 709.4,2461.9 713.5,2464.3 721.4,2470.8ZM422.0,2181.4 421.2,2179.3 431.0,2174.9 437.4,2175.8 446.4,2175.2 450.4,2177.7 450.1,2181.4 437.7,2184.4 434.4,2184.5 425.0,2185.9ZM484.2,2100.5 480.2,2100.9 476.0,2100.0 471.6,2096.1 469.9,2091.0 470.8,2088.1 475.2,2089.7 476.6,2089.1 482.4,2093.4 481.7,2095.9ZM455.6,2126.4 456.6,2124.3 458.6,2121.4 461.5,2118.4 465.8,2117.4 468.9,2118.1 468.9,2119.6 469.7,2120.5 466.3,2123.9 462.9,2125.3 457.3,2127.2ZM476.5,2291.5 473.5,2292.7 470.5,2292.9 467.9,2293.8 465.3,2291.0 466.3,2288.6 469.2,2286.9 471.3,2286.5 476.3,2288.5ZM660.4,2464.6 655.2,2462.8 651.1,2461.5 649.8,2456.6 648.0,2450.4 652.6,2451.6 656.4,2451.2 659.8,2455.6 659.5,2460.5ZM659.8,2477.1 659.2,2475.4 660.3,2471.0 662.4,2467.6 665.1,2463.0 666.6,2463.6 668.3,2466.1 667.5,2468.5 664.2,2474.3 661.5,2477.3ZM471.3,2400.3 469.3,2398.5 472.2,2392.1 475.2,2391.1 478.8,2389.5 482.5,2389.1 482.8,2392.4 481.9,2397.1 478.4,2400.3 474.6,2402.0ZM457.1,2148.8 456.0,2148.9 457.2,2144.7 458.6,2142.2 460.9,2138.9 462.6,2138.9 465.5,2136.9 466.1,2138.9 465.5,2141.9 463.2,2144.7 460.9,2147.7 459.2,2149.3ZM581.4,2457.0 580.4,2459.9 577.0,2458.4 575.4,2459.2 572.2,2455.8 571.3,2453.4 571.6,2451.6 574.1,2451.1 577.1,2451.1 581.2,2453.4 582.2,2454.8ZM629.7,2463.4 627.5,2465.8 625.6,2465.8 619.8,2464.5 617.7,2462.5 615.7,2461.1 618.3,2458.5 622.7,2458.7 626.6,2459.5 628.7,2461.3ZM526.5,2414.1 525.1,2414.8 522.7,2415.3 520.1,2414.6 518.8,2414.6 515.4,2413.1 516.3,2412.3 515.8,2410.6 518.7,2411.0 521.9,2411.1 524.9,2411.8 526.5,2412.9ZM488.0,2100.7 484.3,2102.3 481.4,2101.3 474.7,2096.5 471.7,2092.8 470.7,2090.1 473.0,2087.0 476.1,2087.7 482.9,2089.8 485.0,2094.7 486.6,2097.3ZM459.1,2150.9 456.2,2152.3 452.9,2153.3 446.1,2152.8 440.8,2151.8 440.5,2149.9 441.9,2146.9 446.5,2147.0 452.8,2146.5 458.1,2148.7ZM569.5,2422.5 567.5,2417.6 571.6,2413.1 575.4,2412.3 578.3,2414.7 578.6,2417.2 577.8,2421.6 573.8,2421.5ZM660.7,2471.1 659.2,2472.6 653.1,2471.2 646.4,2469.6 644.8,2468.5 639.3,2463.7 639.1,2460.9 638.7,2458.2 647.3,2459.0 650.7,2462.0 659.1,2465.9 659.4,2467.7ZM531.6,2434.4 531.5,2432.3 531.5,2429.7 533.8,2426.9 538.0,2425.7 540.1,2427.1 541.2,2430.0 539.2,2431.8 537.8,2434.1 533.6,2436.2ZM473.9,2382.7 469.0,2384.8 464.0,2385.5 458.5,2384.5 458.2,2382.6 457.4,2378.2 464.8,2376.9 471.8,2378.9ZM448.6,2215.3 446.9,2215.5 441.1,2214.1 436.2,2209.8 430.3,2204.9 426.7,2198.7 428.9,2194.4 433.4,2195.5 439.4,2198.9 447.2,2207.6 451.1,2213.1ZM440.8,2251.9 437.9,2252.8 436.3,2254.3 433.3,2254.5 428.9,2253.5 427.0,2250.4 426.6,2248.4 426.9,2244.8 431.3,2245.0 433.7,2244.2 438.8,2246.4 440.0,2249.5ZM437.0,2270.2 437.1,2269.5 437.5,2267.7 438.4,2267.0 440.1,2267.0 440.8,2266.9 441.7,2267.9 441.2,2269.1 441.1,2270.2 439.9,2270.6 438.0,2271.0ZM458.9,2378.1 457.1,2374.9 463.3,2369.0 470.1,2363.6 473.9,2364.5 475.2,2366.7 474.5,2369.6 467.1,2377.3 463.6,2377.6ZM600.6,2462.2 605.5,2458.4 610.4,2455.0 617.0,2454.2 621.2,2455.4 620.7,2458.7 620.3,2462.8 611.7,2464.7 608.1,2464.0ZM501.3,2179.9 499.7,2181.3 494.4,2181.0 493.2,2177.9 491.1,2174.6 489.8,2172.0 489.5,2168.9 493.8,2168.2 496.3,2169.4 500.8,2170.3 502.8,2175.9 504.7,2179.1ZM684.9,2478.9 682.8,2478.6 679.2,2477.3 676.5,2473.3 673.7,2468.6 676.4,2468.8 679.3,2470.4 682.6,2473.6 685.5,2477.0ZM429.1,2190.3 426.7,2187.6 429.8,2176.1 432.1,2170.1 435.9,2167.3 439.3,2170.5 436.6,2180.7 432.3,2190.5ZM454.0,2361.0 450.5,2360.2 448.8,2358.3 447.1,2354.2 448.2,2351.6 450.7,2350.4 452.6,2351.3 453.9,2354.6 454.5,2358.2ZM492.7,2398.1 494.0,2396.6 495.0,2395.3 497.6,2395.1 499.7,2396.9 499.8,2397.6 499.0,2399.2 496.0,2399.9 493.9,2398.7ZM470.8,2392.7 469.0,2394.5 463.7,2392.8 460.3,2390.4 458.6,2385.3 458.2,2382.7 460.4,2381.2 464.1,2382.3 469.6,2387.4 472.8,2391.4ZM448.9,2159.4 447.8,2159.1 446.5,2157.8 445.7,2156.0 446.8,2154.3 447.6,2154.0 449.5,2155.4 450.5,2157.2 450.1,2158.5ZM462.8,2169.7 462.1,2167.0 464.9,2158.6 467.6,2151.0 472.3,2146.5 473.7,2149.8 476.3,2149.2 476.3,2154.6 470.6,2165.6 466.8,2169.3ZM487.1,2393.4 484.0,2397.5 479.7,2398.1 470.5,2396.6 467.3,2397.2 462.8,2393.9 460.7,2392.4 461.8,2387.5 467.5,2388.3 474.5,2387.6 476.2,2388.9 484.7,2391.0ZM484.5,2144.9 484.6,2143.2 485.1,2142.2 487.2,2141.7 488.1,2142.0 489.0,2143.7 489.8,2145.0 489.0,2146.6 486.2,2147.3 484.9,2146.4ZM468.6,2088.5 465.1,2089.3 465.6,2082.0 465.7,2079.1 468.9,2076.2 470.9,2074.4 471.8,2079.1 472.1,2083.0 470.7,2089.3ZM464.2,2345.8 462.6,2346.4 460.1,2344.1 459.2,2343.3 459.4,2340.8 458.3,2338.4 460.1,2337.8 461.8,2337.6 464.2,2340.0 464.2,2342.3 465.0,2343.9ZM482.6,2144.2 481.5,2142.1 480.8,2139.0 481.3,2135.9 482.4,2133.0 483.8,2132.8 485.1,2135.9 485.0,2138.8 485.0,2143.5ZM600.4,2434.2 599.8,2435.6 597.8,2436.6 595.8,2436.1 592.5,2435.8 592.2,2434.0 591.5,2432.5 591.9,2430.2 594.9,2429.6 597.8,2430.6 598.7,2431.4 599.6,2432.2ZM457.6,2278.6 456.0,2279.0 455.7,2277.5 455.0,2276.5 455.1,2275.1 456.2,2273.7 456.6,2273.1 458.2,2273.1 458.5,2274.8 459.8,2276.4 459.5,2278.2 458.7,2278.3ZM505.9,2422.4 504.2,2418.2 507.8,2414.3 511.5,2410.7 516.3,2406.8 521.6,2403.1 524.3,2404.6 522.9,2410.0 524.5,2412.4 520.6,2416.6 514.4,2422.4 508.7,2422.1ZM694.0,2464.2 693.1,2463.4 694.9,2460.1 697.0,2458.5 698.9,2458.2 700.8,2458.8 701.1,2461.4 701.0,2463.0 697.6,2464.6 695.9,2464.9ZM634.3,2476.7 631.6,2474.7 628.9,2468.2 629.0,2462.8 631.8,2459.3 635.2,2459.6 637.4,2461.2 639.5,2468.5 636.6,2474.2ZM622.4,2454.6 617.6,2453.5 613.1,2453.0 610.6,2447.8 611.5,2443.0 612.3,2441.5 614.0,2438.6 618.7,2440.1 620.9,2441.7 621.9,2446.9 621.8,2450.2ZM491.7,2356.9 486.4,2360.3 485.3,2361.9 478.2,2362.8 466.0,2361.9 467.7,2359.3 463.9,2356.9 471.8,2353.8 477.9,2353.3 483.0,2352.9 487.7,2355.6ZM465.4,2121.9 466.1,2118.5 467.4,2116.9 472.0,2115.3 475.8,2112.6 478.9,2113.7 480.0,2115.4 478.3,2118.4 475.4,2121.5 472.0,2122.0 468.4,2123.1ZM459.5,2292.2 454.8,2290.6 451.9,2283.8 449.6,2278.3 447.8,2273.5 451.4,2268.7 453.9,2272.9 458.9,2275.6 459.9,2282.4 460.6,2286.7ZM428.2,2243.1 428.1,2241.0 429.9,2240.7 431.4,2240.6 433.2,2241.5 432.8,2243.0 432.4,2244.9 431.2,2245.4 428.5,2244.6ZM623.3,2456.5 623.8,2454.6 623.6,2453.6 625.6,2451.7 627.4,2451.0 628.7,2450.4 630.3,2450.7 630.9,2452.1 629.9,2454.0 628.5,2456.2 626.2,2456.3 624.8,2456.9ZM577.2,2451.9 576.6,2454.3 573.5,2454.7 569.2,2450.4 566.9,2448.0 567.6,2446.7 569.5,2444.3 572.6,2445.9 576.8,2447.0 579.7,2451.0ZM571.0,2417.3 571.6,2414.9 573.8,2412.1 579.0,2412.4 582.6,2414.5 583.0,2416.3 580.5,2420.8 576.4,2420.6 572.6,2419.5ZM464.3,2324.0 461.0,2325.6 458.8,2326.8 454.5,2323.7 451.9,2318.8 452.6,2314.9 455.5,2313.0 459.4,2314.0 462.8,2319.1 465.7,2321.7ZM482.2,2167.3 479.4,2169.1 476.3,2166.0 472.0,2156.1 471.4,2148.3 473.6,2147.7 476.0,2146.3 477.9,2143.6 482.3,2148.1 484.4,2154.6 484.1,2160.1 484.5,2165.8ZM549.4,2444.2 544.9,2439.4 541.9,2435.2 542.0,2427.5 542.4,2419.9 544.8,2419.5 548.8,2422.1 552.0,2428.0 552.7,2432.9 552.8,2440.2ZM599.0,2446.5 597.2,2443.5 597.8,2439.9 598.8,2436.8 602.8,2435.0 604.8,2437.5 603.5,2442.5 601.6,2446.9ZM465.3,2143.5 463.2,2144.4 459.0,2141.2 453.9,2132.8 455.6,2131.8 458.6,2131.2 463.5,2136.8 466.2,2142.2ZM469.0,2233.3 467.3,2233.9 465.9,2230.3 466.6,2228.8 467.2,2226.0 469.8,2227.2 471.0,2230.3 470.2,2232.6ZM435.3,2323.7 434.6,2324.0 433.4,2322.0 431.8,2320.0 431.8,2317.6 431.7,2315.4 431.7,2312.3 433.6,2314.7 435.2,2315.2 436.4,2317.9 436.7,2322.0 436.3,2322.2ZM464.8,2271.1 461.6,2269.3 458.8,2263.2 456.9,2257.8 459.4,2253.1 463.3,2255.8 465.6,2260.4 465.6,2266.1ZM651.6,2456.2 649.9,2458.9 641.5,2457.5 631.6,2453.8 626.1,2446.9 628.4,2442.9 635.4,2443.3 647.0,2447.9 651.2,2451.4ZM481.0,2100.2 480.0,2098.8 481.8,2095.5 484.3,2091.9 488.1,2089.2 489.7,2089.7 490.8,2092.3 489.7,2095.2 485.4,2099.8 481.6,2100.9ZM461.3,2088.9 465.1,2084.6 466.9,2082.4 471.4,2079.7 476.7,2077.5 479.7,2080.6 481.0,2084.3 476.8,2086.0 472.0,2089.8 465.5,2090.9ZM424.0,2245.3 422.4,2243.4 420.2,2239.2 420.5,2235.4 421.4,2232.9 424.0,2231.2 425.7,2231.4 426.2,2236.3 426.3,2240.0 425.9,2244.4ZM445.8,2182.9 442.8,2184.4 440.5,2184.9 436.9,2183.2 434.5,2181.1 436.8,2178.7 441.7,2179.3 444.5,2180.2ZM576.8,2435.6 571.2,2439.2 562.6,2434.5 557.9,2430.9 555.2,2422.5 562.1,2423.3 567.8,2425.9 578.6,2433.5ZM432.6,2201.1 433.1,2196.6 436.1,2193.0 441.5,2190.6 445.2,2188.9 448.1,2188.6 445.8,2193.4 443.6,2196.0 440.5,2199.6 434.3,2201.2ZM514.4,2089.0 513.1,2088.3 512.4,2087.4 512.3,2086.1 512.3,2084.8 513.1,2084.1 514.4,2083.8 515.3,2085.1 515.9,2085.8 515.6,2086.8 515.4,2087.6ZM450.3,2373.4 447.1,2375.8 443.2,2370.6 438.7,2365.3 438.8,2361.9 440.5,2356.1 443.6,2356.6 448.8,2361.5 451.5,2366.1 453.1,2371.2ZM521.0,2409.3 520.0,2407.8 522.7,2405.7 526.8,2405.1 529.6,2404.6 531.3,2404.8 534.2,2406.2 534.2,2407.6 531.3,2410.1 527.1,2411.3 522.7,2412.7 520.0,2411.5ZM464.3,2088.8 469.5,2083.8 474.9,2081.0 480.8,2079.8 485.0,2081.4 483.4,2084.8 477.4,2087.3 469.3,2089.4ZM459.6,2184.0 456.9,2182.4 451.9,2177.1 449.8,2171.8 447.1,2166.0 447.6,2163.0 452.4,2164.4 453.2,2164.1 458.5,2171.1 460.6,2177.3 461.3,2181.8ZM433.9,2330.9 431.7,2330.4 431.2,2329.3 431.7,2325.7 432.2,2324.9 435.3,2323.4 436.8,2323.9 438.0,2325.6 438.6,2328.4 438.2,2330.1 435.7,2330.6ZM510.2,2376.6 507.7,2377.2 505.3,2376.3 503.7,2373.2 505.0,2369.6 507.0,2367.8 509.7,2367.0 511.2,2367.6 512.9,2367.9 515.1,2370.8 514.3,2373.5 513.1,2376.1ZM494.0,2097.9 490.2,2097.9 486.8,2097.4 482.5,2093.9 480.7,2091.1 481.9,2089.8 483.8,2090.1 488.8,2091.2 492.1,2094.3ZM515.8,2428.1 518.2,2425.1 521.0,2422.4 527.7,2421.2 533.6,2419.9 536.2,2422.6 532.5,2424.4 529.2,2427.8 522.4,2429.3 518.5,2429.8ZM459.5,2228.6 458.1,2226.1 459.9,2221.4 463.6,2215.2 468.6,2210.0 471.9,2209.3 473.5,2211.3 472.6,2215.1 470.7,2218.3 465.0,2225.1 462.3,2228.5ZM506.2,2157.9 504.6,2161.2 500.1,2159.4 493.9,2156.5 490.5,2153.7 487.9,2150.6 488.6,2147.5 493.8,2146.7 500.7,2149.6 503.2,2151.1 505.1,2154.9ZM600.7,2450.6 599.6,2449.8 600.4,2447.7 602.1,2445.7 603.9,2443.7 605.8,2444.0 606.4,2445.6 607.2,2446.8 607.2,2448.5 605.1,2449.6 603.6,2451.3 601.6,2452.5ZM491.0,2355.9 492.6,2353.5 494.0,2351.9 495.7,2350.3 498.0,2349.9 500.5,2349.6 501.6,2350.1 501.4,2351.6 501.5,2352.3 497.2,2354.5 495.3,2355.1 492.6,2355.8ZM478.0,2392.7 477.8,2393.9 475.1,2393.0 471.7,2390.9 469.1,2387.8 467.9,2384.8 469.8,2384.1 471.1,2382.0 473.6,2383.4 477.7,2385.4 478.8,2388.6 481.3,2392.3ZM438.7,2231.4 437.5,2226.8 442.3,2217.9 448.8,2207.7 456.2,2205.6 456.4,2212.6 450.5,2222.3 444.5,2231.3ZM623.6,2466.8 622.8,2463.7 624.7,2460.3 628.5,2455.6 631.9,2454.9 633.4,2457.2 631.8,2461.0 630.9,2464.0 627.3,2465.6ZM656.0,2434.5 656.2,2433.0 658.2,2431.2 661.3,2430.8 662.6,2431.5 663.2,2433.3 660.5,2434.9 657.3,2435.2ZM473.8,2325.6 472.8,2324.3 473.1,2321.0 475.5,2318.9 478.7,2317.2 478.8,2320.2 477.6,2322.5 475.5,2326.2ZM700.1,2475.8 701.6,2472.2 704.8,2469.0 708.8,2468.2 712.7,2470.6 715.5,2471.8 717.1,2476.2 710.0,2479.1 704.6,2480.6 700.0,2479.2ZM513.1,2404.3 510.5,2403.2 510.7,2400.8 510.3,2399.5 511.4,2396.5 513.9,2395.1 515.3,2394.5 516.8,2394.9 517.5,2397.6 517.2,2401.4 517.1,2403.0 514.7,2403.6ZM492.8,2165.9 489.6,2164.9 487.6,2164.2 484.7,2162.5 482.7,2159.2 484.5,2158.2 485.8,2158.4 490.9,2161.1 492.2,2163.9ZM455.7,2356.6 454.4,2352.7 456.9,2349.8 458.9,2345.7 465.0,2342.5 465.8,2343.2 467.2,2345.1 466.7,2348.8 464.9,2353.6 463.3,2355.4 457.9,2355.6ZM437.9,2260.4 435.8,2260.5 432.7,2256.6 432.0,2247.8 434.2,2244.5 436.7,2244.7 439.0,2247.2 441.4,2253.2 440.5,2260.5ZM457.2,2211.5 458.2,2209.5 460.5,2205.9 463.4,2203.2 465.4,2201.5 467.8,2201.8 471.6,2202.4 469.6,2205.7 471.5,2206.8 467.5,2209.3 464.4,2211.0 461.7,2212.2ZM513.6,2417.6 512.2,2413.9 512.5,2410.3 515.7,2407.8 519.8,2403.7 522.1,2404.9 526.1,2406.8 523.6,2410.8 521.8,2414.8 519.2,2418.4 513.9,2421.2ZM419.9,2208.2 421.2,2204.5 426.5,2199.0 432.2,2198.2 436.1,2199.4 436.6,2203.2 433.6,2207.8 425.7,2209.1ZM494.0,2107.4 491.5,2107.3 488.6,2103.3 485.1,2098.6 485.7,2096.6 485.8,2091.8 488.4,2091.7 489.9,2093.3 493.3,2095.3 494.5,2101.7 495.4,2106.7ZM467.1,2168.3 465.5,2168.3 462.7,2169.1 460.7,2168.4 459.1,2166.8 458.2,2165.5 457.3,2163.9 459.2,2163.6 461.9,2163.6 465.8,2165.1 466.1,2166.3ZM606.1,2447.8 605.1,2446.8 604.4,2444.8 604.7,2441.8 605.1,2439.8 607.9,2436.9 609.2,2436.9 610.6,2440.0 610.4,2443.2 609.1,2445.7 607.3,2448.0ZM445.9,2232.4 441.4,2231.4 437.4,2228.2 433.5,2223.7 432.0,2218.3 431.1,2215.8 436.1,2216.9 441.2,2220.1 442.7,2223.7 445.5,2228.2ZM683.2,2446.3 683.6,2445.0 684.7,2442.1 688.4,2440.9 690.9,2441.9 691.9,2445.3 691.9,2448.3 689.8,2450.0 686.7,2449.3 685.2,2448.6ZM449.5,2265.1 448.5,2265.8 443.7,2265.4 440.7,2259.3 439.5,2256.1 442.3,2253.2 444.2,2251.2 447.3,2254.0 452.8,2260.1 451.0,2262.9ZM426.1,2218.7 425.6,2216.5 426.5,2213.9 426.6,2212.4 428.6,2211.5 430.7,2210.8 432.1,2210.9 431.9,2213.1 431.3,2214.9 430.1,2217.5 427.6,2217.5ZM565.2,2426.6 566.2,2422.0 566.4,2416.2 572.1,2411.3 577.2,2408.0 580.3,2407.4 577.0,2415.2 575.2,2420.6 568.0,2426.3ZM655.9,2447.2 655.1,2447.8 654.6,2446.6 654.2,2445.1 653.7,2443.6 654.6,2442.4 656.3,2442.7 658.4,2442.5 658.6,2443.7 659.2,2445.2 657.9,2446.6 657.2,2448.0ZM433.1,2187.3 432.8,2186.3 433.5,2185.9 434.0,2184.4 435.5,2184.6 437.1,2184.4 438.2,2185.2 438.2,2186.3 437.2,2187.1 436.3,2187.7 435.1,2188.2 434.5,2188.2ZM545.6,2434.0 541.4,2433.1 539.2,2433.0 535.5,2430.5 532.5,2426.7 535.2,2426.6 537.3,2426.7 541.8,2429.0 544.1,2431.0ZM569.1,2457.2 567.2,2454.0 566.4,2449.8 566.7,2445.3 570.6,2443.0 573.3,2443.3 575.0,2447.5 575.9,2450.5 574.2,2455.7ZM524.9,2366.0 523.7,2367.2 518.7,2367.7 515.4,2366.5 510.4,2364.6 511.9,2363.3 513.7,2362.4 519.3,2363.3 523.8,2364.1ZM572.3,2443.4 574.9,2438.5 576.4,2435.3 583.8,2428.6 589.0,2427.0 593.3,2426.5 597.0,2429.7 596.3,2432.7 595.8,2435.5 589.1,2439.0 584.1,2443.5 577.6,2443.5ZM671.6,2452.3 670.5,2450.0 673.0,2445.2 683.0,2438.4 689.1,2436.4 690.4,2436.9 694.3,2439.1 689.5,2445.8 680.4,2451.6 672.9,2455.6ZM695.4,2461.0 696.6,2458.6 698.8,2456.6 704.2,2456.3 706.2,2456.6 706.7,2458.9 706.5,2461.2 701.7,2463.3 697.2,2462.0ZM474.4,2208.5 471.2,2210.2 466.4,2209.6 461.5,2206.9 458.7,2202.2 458.8,2199.0 465.4,2199.8 470.3,2201.9 476.4,2206.7ZM427.6,2228.4 428.9,2222.8 432.3,2219.7 441.1,2219.5 445.0,2221.3 449.5,2221.8 443.6,2226.4 438.0,2229.6 431.5,2229.4ZM460.0,2172.8 457.6,2169.7 457.0,2167.4 458.2,2163.3 459.5,2160.3 461.7,2161.8 464.0,2164.7 462.9,2168.0 461.7,2169.6ZM465.7,2302.5 462.2,2305.2 461.5,2306.3 456.2,2306.1 454.0,2305.3 448.4,2303.3 448.9,2300.2 450.2,2298.0 453.3,2298.4 457.3,2297.0 461.5,2298.7 465.1,2300.8ZM443.1,2229.4 441.5,2229.8 439.4,2229.8 436.5,2229.1 436.0,2227.7 434.9,2226.0 435.4,2225.5 435.8,2224.1 438.7,2225.2 441.7,2226.4 441.7,2227.3ZM454.4,2358.9 454.2,2354.9 454.3,2352.5 460.0,2345.3 468.3,2336.9 470.7,2337.6 471.0,2341.8 474.7,2341.9 467.9,2351.3 462.1,2356.7 455.6,2360.2ZM483.8,2156.5 483.2,2157.5 481.9,2159.9 477.9,2158.8 474.1,2158.5 469.4,2155.2 470.4,2153.5 472.2,2151.0 473.7,2150.5 479.8,2152.1 482.2,2151.6 483.2,2153.8ZM508.0,2402.6 505.6,2407.1 500.5,2404.5 496.0,2402.3 494.3,2400.3 493.7,2395.7 497.4,2393.9 500.7,2392.6 507.1,2395.5 510.9,2400.2ZM681.0,2477.0 679.2,2477.7 670.3,2469.9 662.8,2458.7 661.5,2451.3 661.7,2446.3 667.7,2448.6 675.1,2457.1 681.3,2464.6 680.8,2470.2ZM449.0,2307.9 444.8,2308.6 443.6,2311.3 438.0,2309.5 432.2,2306.3 429.9,2303.5 432.6,2301.6 435.7,2300.3 439.3,2300.8 445.8,2303.7 445.0,2305.1ZM612.4,2454.8 613.4,2452.6 615.6,2450.3 622.3,2449.4 623.7,2451.1 622.7,2453.2 619.2,2455.7 614.5,2456.6ZM469.1,2169.7 466.6,2172.2 461.0,2169.7 455.1,2166.8 451.0,2164.3 449.0,2160.5 452.1,2159.5 458.5,2160.3 463.3,2163.1 466.9,2166.7ZM510.5,2426.7 508.1,2425.9 505.5,2424.8 504.3,2422.9 503.0,2420.3 506.0,2419.8 508.2,2421.5 509.8,2423.7ZM613.0,2461.3 610.0,2456.5 609.2,2454.2 614.3,2448.0 618.9,2446.0 622.0,2447.6 623.0,2454.9 618.7,2458.4 616.7,2460.5ZM630.8,2437.5 627.6,2438.6 623.7,2439.2 620.7,2438.6 620.2,2435.5 621.1,2433.9 625.0,2434.4 629.3,2436.2ZM608.4,2433.4 605.1,2431.7 602.4,2430.2 600.2,2426.1 600.2,2420.8 601.6,2418.7 603.7,2421.2 606.5,2422.8 608.4,2426.9 608.3,2429.4ZM700.4,2452.6 699.3,2451.3 697.4,2447.6 696.7,2444.3 696.8,2438.0 698.2,2438.2 701.1,2436.7 702.5,2440.6 703.0,2444.5 704.4,2447.5 703.7,2451.5ZM506.3,2155.4 506.3,2159.1 496.3,2161.0 491.1,2160.4 485.1,2159.7 475.5,2158.8 479.2,2155.6 474.3,2153.8 482.5,2152.5 494.3,2150.4 498.9,2152.5 505.0,2152.6ZM643.7,2470.6 641.3,2471.8 636.0,2472.5 634.1,2471.2 630.7,2471.3 627.3,2468.1 628.9,2465.1 628.8,2461.7 634.5,2462.3 635.8,2461.4 640.3,2464.4 641.6,2467.9ZM468.9,2371.4 466.8,2371.8 465.6,2370.0 465.9,2367.5 465.3,2364.5 466.7,2363.0 468.1,2362.2 469.6,2364.7 470.7,2365.6 471.3,2368.8 470.4,2370.7ZM557.2,2451.3 555.1,2449.0 554.5,2443.0 560.0,2437.8 563.7,2434.6 564.5,2437.0 567.5,2441.4 564.6,2448.1 561.3,2452.6ZM481.9,2160.3 483.3,2158.5 485.2,2156.9 489.8,2156.6 492.3,2156.5 493.7,2157.5 496.5,2158.6 492.9,2160.3 490.3,2160.6 485.8,2162.1 483.5,2161.3ZM453.7,2344.9 453.0,2344.0 455.9,2342.1 458.7,2341.9 463.4,2342.0 463.4,2343.3 461.9,2345.5 460.3,2346.0 456.3,2347.0 454.4,2347.2ZM472.2,2253.9 471.2,2251.9 472.5,2246.8 474.7,2242.2 479.4,2240.9 481.1,2241.8 481.3,2246.0 478.8,2252.3 475.8,2252.8ZM511.0,2381.0 509.5,2382.4 506.3,2376.6 505.2,2374.0 503.6,2368.4 505.5,2367.9 508.1,2366.4 510.7,2371.0 512.7,2376.4 512.0,2378.8ZM433.4,2193.6 431.0,2195.2 427.4,2193.3 423.8,2192.1 419.7,2188.4 417.8,2185.9 418.1,2183.0 420.6,2182.5 424.2,2184.4 429.0,2186.0 430.5,2187.6 432.9,2192.4ZM453.9,2317.8 453.7,2314.5 452.9,2311.8 455.2,2309.8 459.1,2307.7 460.6,2307.7 462.1,2310.3 460.9,2313.9 458.2,2317.3 455.8,2317.2ZM496.1,2093.1 491.4,2094.1 485.9,2093.1 475.6,2086.0 476.5,2082.7 482.2,2082.8 487.7,2084.8 496.3,2090.9ZM524.5,2436.5 522.0,2435.8 519.4,2434.6 518.0,2431.6 514.8,2427.6 513.5,2424.7 514.4,2421.7 516.5,2423.5 519.2,2424.1 521.8,2427.6 524.2,2431.2 526.9,2435.1ZM471.2,2196.9 469.8,2198.5 467.9,2198.6 464.6,2198.2 465.1,2196.7 465.6,2195.1 468.1,2194.6 470.0,2195.2ZM452.3,2352.7 450.9,2354.1 449.2,2354.2 445.8,2352.9 442.2,2351.4 440.6,2349.6 441.6,2349.0 444.7,2348.6 446.2,2348.0 451.5,2350.2 451.5,2351.2ZM473.7,2110.5 474.2,2109.4 474.1,2108.5 476.3,2106.1 478.3,2104.2 479.4,2104.6 481.3,2104.5 480.5,2106.0 480.2,2107.9 479.3,2109.4 476.5,2111.4 475.2,2111.5ZM538.1,2444.0 534.6,2443.6 530.3,2441.7 527.0,2439.3 525.1,2435.7 522.9,2431.4 523.0,2429.7 527.1,2429.7 528.7,2431.3 532.3,2432.0 536.9,2438.1 537.5,2441.3ZM461.6,2232.5 460.5,2231.0 461.6,2227.9 464.7,2226.0 467.4,2226.6 467.4,2228.6 468.3,2230.3 467.1,2231.4 465.0,2232.9 462.3,2233.0ZM659.1,2459.5 656.5,2458.7 651.8,2453.9 649.2,2448.9 650.4,2447.1 653.6,2448.9 655.8,2450.5 658.4,2455.7ZM424.1,2177.6 424.8,2174.8 427.2,2174.2 430.9,2172.5 433.1,2173.6 436.4,2175.4 437.2,2177.2 435.9,2179.1 436.0,2180.8 430.2,2180.8 426.3,2181.3 425.3,2180.3ZM480.1,2265.8 476.3,2268.1 474.8,2268.8 470.1,2268.3 468.4,2266.7 468.1,2264.9 470.9,2263.4 474.9,2263.0 477.4,2264.2ZM538.1,2423.1 534.3,2424.2 528.7,2414.0 524.8,2408.2 526.5,2400.0 532.7,2405.0 537.3,2408.3 541.3,2419.0ZM490.5,2103.2 485.1,2106.5 480.0,2104.0 475.0,2100.3 474.9,2093.5 480.6,2092.0 484.1,2094.5 490.1,2099.2ZM583.8,2441.2 584.8,2439.9 585.7,2438.3 587.2,2436.7 589.5,2436.2 591.6,2437.9 593.5,2439.3 592.4,2440.6 591.0,2442.6 589.7,2444.1 586.1,2444.7 585.3,2442.5ZM438.3,2181.4 437.1,2183.4 433.4,2184.2 430.6,2184.8 427.9,2182.4 425.1,2180.4 427.7,2178.3 429.6,2176.3 435.5,2177.3 439.8,2179.7ZM425.0,2259.4 423.6,2257.5 430.2,2255.1 434.4,2254.2 435.3,2255.7 436.3,2257.3 431.9,2260.0 425.8,2260.5ZM417.1,2195.3 415.6,2192.8 425.3,2189.3 434.8,2188.2 444.0,2190.8 447.8,2194.1 444.8,2198.1 435.6,2200.6 430.1,2200.4 420.1,2198.4ZM453.2,2290.3 455.0,2283.7 459.3,2275.9 462.4,2273.5 468.6,2272.7 472.6,2272.7 470.6,2281.5 464.9,2284.1 458.7,2290.4ZM584.7,2453.9 585.0,2452.3 585.8,2450.3 587.8,2449.2 590.4,2448.1 591.6,2448.8 590.9,2450.9 590.3,2452.2 588.7,2453.8 586.5,2454.1ZM614.3,2469.6 612.3,2465.5 613.4,2459.2 616.0,2452.9 619.0,2451.1 621.5,2454.2 621.0,2460.3 616.9,2467.4ZM489.6,2140.6 486.4,2140.6 480.9,2137.3 478.0,2134.4 475.2,2129.0 471.8,2124.9 474.2,2122.4 477.9,2121.9 483.9,2128.1 490.4,2134.6 490.7,2137.3ZM684.9,2473.4 680.1,2476.4 678.0,2477.9 673.2,2476.3 666.9,2475.3 664.2,2472.4 664.6,2470.6 669.3,2468.7 673.6,2468.4 677.7,2468.6 682.5,2471.7ZM599.2,2442.9 599.1,2439.8 600.4,2436.8 602.5,2435.4 604.5,2435.3 604.6,2436.6 604.0,2439.1 601.0,2441.8ZM726.8,2459.0 726.2,2462.1 721.8,2462.6 718.1,2462.1 712.3,2459.8 712.7,2457.0 714.1,2454.5 720.3,2453.9 723.8,2455.5 728.0,2458.0ZM459.7,2371.0 459.5,2369.1 462.7,2366.6 465.5,2366.7 468.8,2366.7 467.5,2368.5 466.8,2370.1 463.7,2372.0 462.2,2371.7ZM447.6,2314.2 445.0,2313.2 443.8,2309.5 444.9,2303.9 447.1,2300.8 448.3,2304.5 449.6,2308.2 448.7,2311.8ZM414.0,2240.8 415.2,2237.4 423.4,2231.7 432.3,2229.1 436.5,2229.7 434.1,2235.4 424.8,2241.0 419.9,2241.6ZM661.5,2464.3 656.7,2462.9 652.7,2462.3 647.0,2457.4 643.2,2453.7 645.7,2451.4 649.7,2452.8 655.8,2455.8 662.6,2461.8ZM482.0,2126.5 479.6,2128.1 478.0,2129.8 475.8,2129.6 473.3,2128.0 472.5,2126.9 472.2,2124.9 474.4,2123.7 476.7,2123.5 479.2,2123.5 481.1,2125.4ZM681.8,2471.9 679.6,2469.5 681.1,2461.0 687.2,2453.5 689.8,2452.0 692.6,2454.3 689.9,2462.9 685.8,2470.5ZM418.6,2194.0 421.0,2191.4 425.1,2191.2 432.3,2190.9 433.5,2192.8 435.2,2195.2 433.3,2196.9 425.1,2196.8 421.3,2196.2ZM450.9,2299.6 447.4,2298.7 444.1,2297.2 444.0,2294.0 446.6,2289.0 450.3,2289.0 452.9,2288.4 455.3,2291.2 455.0,2296.3 454.4,2299.2ZM587.5,2442.8 586.3,2444.3 585.0,2445.3 581.2,2446.4 577.8,2444.6 575.1,2443.0 573.5,2440.7 575.3,2437.7 577.2,2437.8 582.2,2438.0 584.8,2438.5 587.5,2439.3ZM466.1,2181.9 462.9,2179.9 464.6,2175.0 469.3,2171.6 472.6,2169.8 475.2,2171.6 475.8,2174.7 473.0,2178.4 468.9,2182.0ZM477.1,2099.9 474.2,2095.3 474.3,2089.7 476.5,2086.8 478.6,2084.5 481.0,2086.9 482.1,2093.6 479.3,2096.0ZM457.9,2352.1 454.6,2349.0 456.7,2343.1 460.6,2338.8 465.0,2336.8 468.4,2338.4 470.6,2339.7 468.7,2347.0 464.5,2349.7 458.2,2355.6ZM605.7,2463.3 600.6,2462.7 600.9,2459.2 599.8,2453.4 603.4,2451.0 605.6,2448.9 610.5,2451.1 611.1,2455.7 610.2,2459.3 608.0,2462.0ZM554.9,2444.2 554.1,2446.7 549.2,2445.8 546.8,2445.4 543.8,2443.9 544.5,2442.0 547.1,2440.3 550.6,2440.7 553.6,2442.0ZM677.2,2475.0 676.0,2473.7 677.9,2467.8 679.5,2463.9 683.4,2459.1 686.6,2458.6 691.1,2456.0 692.0,2460.0 692.5,2461.9 686.5,2470.1 684.5,2472.2 679.0,2477.1ZM495.8,2132.2 495.4,2137.0 488.3,2136.0 483.7,2133.9 481.2,2131.0 483.1,2125.9 485.0,2124.8 490.5,2126.6 496.5,2128.4ZM535.8,2402.5 534.6,2403.6 533.2,2403.3 531.4,2401.5 530.3,2400.1 531.1,2399.3 532.4,2398.3 534.0,2398.0 534.6,2398.5 536.9,2400.0 537.3,2401.7ZM465.9,2354.5 465.1,2352.3 465.2,2350.8 466.8,2349.9 468.5,2348.3 471.2,2348.0 472.4,2349.3 472.1,2350.4 471.7,2352.1 470.0,2354.8 468.0,2355.1 467.6,2354.2ZM474.4,2128.4 473.4,2125.2 473.6,2121.3 474.4,2115.6 477.8,2112.2 480.4,2111.0 482.3,2113.4 481.1,2118.1 479.2,2124.4 477.2,2125.5ZM517.9,2424.5 517.1,2422.6 520.0,2417.7 521.1,2414.9 524.1,2414.3 527.3,2414.0 526.8,2417.8 524.7,2420.7 521.4,2424.5ZM465.2,2314.4 458.1,2318.8 451.3,2321.4 440.5,2320.2 434.0,2318.4 429.1,2317.0 434.2,2313.7 437.3,2308.8 443.7,2309.6 455.4,2309.9 460.1,2312.0ZM515.2,2396.0 513.0,2397.2 512.5,2396.2 510.5,2393.7 509.3,2391.6 510.8,2389.7 512.7,2388.3 514.0,2388.6 517.4,2390.9 517.9,2392.3 517.8,2394.6ZM468.1,2330.0 465.9,2329.1 463.0,2326.2 463.1,2322.1 465.5,2320.0 468.2,2317.1 469.8,2317.3 471.9,2320.7 473.3,2321.9 472.4,2326.6 469.8,2329.7ZM635.4,2472.2 634.0,2471.0 635.0,2463.8 634.7,2461.3 636.4,2457.1 638.2,2452.0 640.2,2455.3 642.1,2454.2 640.6,2460.9 640.6,2466.5 637.8,2470.5ZM452.8,2211.6 450.4,2212.4 445.7,2210.3 442.8,2198.9 441.8,2194.8 438.7,2186.7 442.4,2183.3 444.2,2181.4 449.5,2191.5 452.2,2196.8 454.0,2204.6 455.8,2211.8ZM454.9,2336.2 448.7,2333.7 446.9,2322.3 447.2,2309.4 451.3,2308.2 453.7,2310.5 456.6,2323.3 457.9,2333.2ZM438.4,2169.9 438.6,2171.5 434.5,2171.2 432.4,2171.2 430.0,2168.6 428.9,2167.2 426.4,2166.0 429.4,2165.8 430.7,2164.6 435.0,2165.7 438.1,2166.9 437.4,2167.9ZM497.3,2116.1 493.5,2113.6 494.6,2110.1 497.0,2106.1 501.4,2104.3 505.2,2106.4 504.2,2110.0 502.7,2115.8 499.3,2117.5ZM459.9,2283.7 458.9,2280.4 460.4,2275.9 459.9,2272.5 463.9,2268.2 468.7,2265.8 472.4,2265.7 472.6,2270.2 469.5,2274.8 465.9,2281.9 460.7,2286.8ZM446.6,2216.4 445.7,2219.5 441.7,2218.5 438.3,2218.3 433.4,2216.7 430.7,2214.3 430.8,2212.7 435.7,2212.1 439.2,2211.0 442.8,2212.3 446.1,2213.6ZM418.5,2225.9 423.5,2220.6 427.5,2217.4 433.5,2216.7 442.9,2214.8 446.3,2216.3 450.0,2217.4 444.5,2221.2 443.0,2223.6 434.4,2226.1 427.1,2227.9 419.7,2227.4ZM563.2,2439.1 567.1,2436.2 571.2,2432.9 580.5,2429.2 588.6,2430.0 592.9,2429.9 588.6,2434.6 587.1,2438.1 577.0,2440.0 571.0,2440.6ZM606.6,2460.0 605.9,2463.2 599.5,2461.9 596.1,2459.8 592.1,2455.1 592.2,2454.1 592.1,2452.0 595.6,2449.9 600.6,2451.8 606.4,2455.1 608.1,2457.5ZM477.6,2103.2 475.7,2107.1 469.7,2104.2 465.8,2102.4 464.4,2098.1 469.1,2096.1 472.7,2095.9 478.2,2097.6ZM444.3,2311.2 440.4,2310.0 436.9,2303.5 434.5,2296.0 437.5,2295.8 440.5,2296.1 442.4,2299.2 445.7,2309.2ZM438.1,2263.6 439.9,2260.7 440.4,2259.0 444.3,2257.2 448.7,2255.7 448.5,2257.4 446.8,2260.3 444.9,2262.4 440.3,2263.6ZM430.0,2194.1 428.3,2194.2 428.8,2188.3 431.2,2182.0 434.1,2178.5 435.6,2178.2 437.8,2179.7 438.1,2182.3 436.5,2187.4 435.5,2192.1 431.7,2194.8ZM443.2,2163.3 445.5,2159.3 445.9,2157.6 450.2,2154.6 452.2,2153.4 453.7,2155.4 453.2,2158.4 448.9,2161.8 446.8,2162.9ZM696.5,2482.3 692.9,2483.9 690.7,2481.5 686.2,2476.2 688.4,2473.9 691.6,2473.5 697.0,2475.9 697.9,2480.7ZM438.2,2210.5 437.2,2209.1 437.1,2205.4 437.3,2203.4 437.7,2200.5 439.3,2199.6 440.4,2199.1 441.8,2201.9 441.0,2203.6 441.5,2206.7 439.9,2208.4ZM444.3,2218.4 439.6,2215.7 436.6,2213.3 435.5,2206.8 436.8,2202.7 441.8,2202.9 444.6,2207.5 445.7,2214.1ZM537.0,2427.3 536.5,2425.7 537.3,2421.7 539.9,2418.0 541.3,2417.2 546.4,2416.2 548.8,2417.4 548.1,2419.1 546.8,2422.1 544.0,2426.5 541.7,2426.3 539.2,2427.1ZM604.2,2430.8 604.2,2429.3 604.3,2426.6 604.2,2424.2 606.2,2422.7 607.7,2421.5 608.0,2423.1 608.8,2424.2 609.6,2427.6 608.1,2430.1 607.1,2429.5ZM546.1,2435.1 544.7,2434.4 540.9,2431.8 538.0,2426.9 535.1,2420.8 533.0,2415.0 533.4,2413.3 536.0,2412.7 539.6,2416.0 544.5,2422.6 546.8,2428.9 545.9,2430.4ZM496.3,2400.9 492.9,2403.6 487.2,2404.2 483.3,2401.6 473.5,2398.9 471.1,2394.2 478.8,2393.2 482.1,2391.5 492.6,2395.6 495.9,2398.5ZM467.7,2170.9 465.4,2170.0 465.5,2165.8 463.9,2162.9 465.6,2160.7 467.8,2159.6 469.8,2160.4 472.7,2161.3 473.8,2163.6 473.6,2166.1 471.2,2167.9 469.1,2170.3ZM661.8,2450.8 660.7,2454.2 651.5,2453.5 642.9,2449.7 640.0,2445.7 645.2,2443.0 652.6,2444.1 660.8,2447.9ZM470.6,2124.0 464.4,2123.8 457.6,2119.8 454.7,2113.6 456.3,2109.5 461.6,2111.5 468.0,2113.9 469.4,2118.9ZM455.3,2389.0 456.6,2387.2 455.6,2386.1 461.5,2384.5 464.8,2383.9 466.2,2385.4 467.6,2386.0 466.9,2387.4 464.4,2389.7 460.9,2390.1 457.8,2390.2 454.6,2390.5ZM496.5,2132.5 494.5,2133.7 493.6,2133.3 490.3,2131.4 488.4,2129.4 489.2,2129.0 489.4,2127.0 491.6,2127.0 493.8,2127.7 495.2,2129.8 496.0,2131.5ZM458.1,2157.6 456.8,2155.6 458.3,2152.1 459.7,2146.7 462.0,2145.0 465.9,2139.2 466.9,2139.5 466.9,2143.9 467.4,2147.5 466.1,2150.8 463.9,2153.8 460.6,2157.7ZM479.4,2161.6 472.1,2158.0 466.9,2149.5 465.6,2136.9 468.7,2134.3 473.2,2133.4 478.9,2143.9 481.5,2157.0ZM464.0,2131.8 465.2,2128.5 468.7,2126.7 474.2,2122.6 479.0,2120.9 479.6,2123.5 479.8,2125.3 475.7,2129.1 470.7,2131.7 466.8,2133.1ZM461.7,2369.1 460.9,2368.1 461.8,2366.2 463.3,2365.2 464.5,2366.3 466.0,2367.6 464.9,2368.4 463.8,2370.1ZM485.3,2385.8 482.5,2383.2 482.9,2380.0 483.4,2376.1 484.5,2374.8 486.5,2371.6 488.7,2372.6 491.0,2375.0 489.3,2380.0 488.9,2383.2 486.9,2383.9ZM730.0,2447.7 732.4,2451.3 724.7,2451.3 716.5,2451.4 714.7,2449.8 707.0,2447.5 706.9,2444.2 712.5,2442.5 712.9,2440.7 718.4,2441.0 725.9,2444.5 731.0,2445.3ZM432.2,2220.0 430.9,2215.7 432.4,2211.4 434.7,2207.3 437.7,2203.2 441.3,2203.6 443.6,2203.5 442.7,2208.1 439.2,2214.1 435.5,2219.6ZM432.2,2341.2 432.3,2338.7 434.1,2334.6 438.6,2329.9 444.1,2325.7 445.0,2327.4 446.2,2329.6 445.4,2333.1 441.2,2338.1 436.1,2340.0ZM425.9,2318.4 423.4,2318.4 425.4,2312.5 426.3,2307.0 431.3,2302.9 432.6,2305.9 434.8,2308.4 432.2,2314.9 428.5,2320.7ZM443.0,2305.8 440.3,2303.7 438.4,2301.5 437.6,2296.8 438.2,2294.7 441.2,2295.5 443.2,2296.3 446.0,2298.9 444.6,2303.3ZM494.8,2393.8 494.0,2396.3 485.5,2395.5 476.0,2392.4 470.5,2385.8 465.7,2382.4 469.5,2379.1 482.4,2381.0 487.6,2385.2 494.3,2389.3ZM466.6,2129.8 465.6,2125.9 466.0,2121.0 471.7,2118.5 475.6,2119.0 475.0,2122.8 472.2,2128.3 469.4,2131.1ZM430.9,2250.5 430.2,2248.2 432.3,2245.2 432.6,2242.8 436.2,2239.7 438.1,2239.9 439.5,2239.5 440.1,2240.7 439.2,2243.1 438.6,2245.6 436.0,2247.8 433.5,2248.8ZM493.3,2386.2 494.1,2384.3 497.3,2383.6 502.6,2382.7 504.3,2384.2 506.4,2385.9 508.6,2387.8 504.4,2388.3 502.2,2388.7 499.0,2389.5 495.5,2388.0ZM580.8,2457.9 577.2,2459.5 573.9,2456.0 571.7,2454.8 566.1,2449.3 566.4,2447.4 568.1,2445.7 569.8,2442.6 573.7,2444.1 578.6,2448.4 580.5,2451.7 581.7,2456.1ZM444.9,2347.1 443.5,2348.4 437.4,2344.0 434.4,2341.5 431.5,2339.0 430.0,2333.2 431.8,2331.3 434.9,2331.7 440.0,2333.0 442.0,2333.4 444.4,2340.0 447.2,2343.2ZM645.0,2472.3 643.1,2470.6 644.3,2466.2 648.0,2464.5 649.5,2462.2 652.7,2462.4 655.6,2461.6 657.7,2464.7 655.5,2469.0 653.6,2471.4 649.0,2473.8 646.0,2473.9ZM435.6,2187.4 433.2,2185.6 438.5,2180.8 442.8,2177.7 448.3,2175.3 451.7,2176.2 452.2,2178.3 447.1,2183.5 440.9,2187.9 435.9,2189.9ZM690.3,2449.2 687.2,2447.0 683.3,2445.1 679.8,2439.8 680.7,2437.1 680.6,2433.2 682.6,2431.7 688.0,2437.2 689.5,2439.9 690.7,2445.3ZM689.1,2459.9 688.4,2460.6 683.9,2460.6 681.0,2460.5 678.5,2457.6 680.4,2456.2 683.1,2455.4 685.2,2455.9 688.9,2457.9ZM638.9,2475.8 634.4,2475.0 629.0,2468.5 625.9,2463.7 623.6,2457.7 622.4,2452.2 624.5,2449.3 628.4,2454.2 633.3,2456.8 636.3,2465.9 637.1,2468.9ZM490.3,2324.4 486.4,2323.4 483.7,2322.4 479.5,2321.3 478.5,2318.7 478.2,2314.9 478.0,2312.5 480.5,2310.7 483.9,2312.0 485.8,2314.9 488.3,2317.2 490.4,2322.6ZM726.1,2457.1 724.3,2457.5 724.6,2452.7 728.4,2446.0 730.5,2443.3 732.8,2443.6 732.6,2446.9 731.6,2452.6 728.3,2457.6ZM442.4,2272.3 440.6,2273.4 439.3,2271.4 438.0,2269.5 437.7,2266.7 439.0,2266.3 441.6,2265.3 442.9,2266.6 444.9,2269.6 444.5,2271.3ZM658.9,2468.5 656.9,2467.8 655.2,2465.9 654.5,2461.8 655.4,2460.5 658.3,2460.0 659.8,2462.3 660.4,2464.6 660.1,2467.6ZM470.9,2264.7 465.4,2267.6 461.1,2267.1 457.6,2261.4 457.5,2256.8 460.3,2255.1 466.2,2256.2 470.2,2258.7ZM513.0,2428.5 511.3,2427.2 513.4,2422.5 515.6,2422.0 519.0,2421.3 519.8,2424.3 517.0,2428.5 515.0,2430.1ZM513.7,2406.8 513.5,2404.2 522.9,2396.6 532.5,2392.5 532.8,2395.4 536.1,2399.5 525.7,2407.8 518.6,2408.8ZM547.4,2449.7 546.9,2445.5 546.8,2442.9 548.4,2439.8 551.3,2439.0 553.6,2439.8 555.3,2442.5 554.4,2445.3 552.0,2447.7 550.6,2448.3ZM479.0,2405.5 478.1,2408.2 473.2,2402.6 470.5,2398.4 468.3,2395.4 469.1,2391.2 474.0,2394.7 475.3,2394.8 478.2,2398.7 479.8,2402.9ZM462.7,2130.1 460.7,2130.5 458.3,2130.5 457.2,2130.0 454.9,2128.1 454.7,2125.7 453.8,2124.6 456.4,2124.6 458.9,2125.8 461.8,2126.7 462.1,2129.0ZM481.5,2405.3 478.7,2405.0 475.5,2400.7 474.1,2396.1 473.6,2389.1 475.9,2388.6 479.3,2388.0 481.6,2394.5 483.1,2397.6 482.6,2401.1ZM441.0,2189.3 438.5,2189.4 437.5,2188.7 436.0,2187.4 436.4,2185.6 437.2,2184.4 439.3,2184.5 440.5,2186.3 440.7,2188.0ZM558.6,2458.9 554.9,2457.0 550.3,2452.8 547.4,2445.2 546.2,2439.9 550.6,2441.1 553.5,2440.5 558.2,2448.9 558.8,2454.8ZM465.6,2227.8 465.7,2230.6 459.5,2232.0 452.5,2232.5 448.9,2230.9 443.6,2229.9 442.7,2227.3 449.2,2224.8 453.4,2224.9 458.4,2224.3 465.5,2226.0ZM481.2,2106.4 476.7,2110.0 471.1,2108.3 469.0,2106.5 468.0,2102.1 471.8,2099.3 475.6,2098.1 479.4,2100.5ZM713.0,2478.4 709.2,2481.8 703.9,2479.9 701.0,2477.6 699.0,2475.6 699.6,2471.6 701.5,2469.3 706.5,2469.1 709.5,2470.3 714.3,2477.0ZM448.0,2301.7 446.4,2302.9 444.7,2303.8 442.4,2303.7 440.0,2303.1 438.8,2302.9 439.7,2301.5 440.6,2300.6 443.4,2299.4 446.0,2299.7 446.3,2300.8ZM434.2,2324.9 435.0,2323.1 436.3,2322.2 439.2,2321.5 440.9,2322.3 444.8,2322.5 443.7,2323.7 445.1,2324.6 442.5,2325.8 439.3,2326.4 437.0,2326.9 435.9,2325.6ZM465.2,2311.1 464.1,2310.2 463.8,2308.1 466.2,2306.7 468.0,2306.3 469.2,2307.5 469.0,2308.9 468.3,2310.8 466.1,2311.9ZM468.9,2096.6 467.5,2098.7 460.9,2098.8 454.8,2096.7 452.7,2094.7 451.3,2092.7 454.6,2091.3 461.8,2092.3 466.7,2092.9ZM472.7,2162.4 470.9,2161.9 467.9,2157.1 468.6,2154.0 468.9,2152.3 470.7,2148.4 472.0,2149.0 474.7,2148.8 476.0,2152.9 475.5,2158.0 474.8,2161.8ZM455.7,2240.6 454.1,2241.2 449.5,2240.6 447.3,2237.6 447.7,2234.5 450.9,2232.6 452.8,2231.7 456.7,2233.0 457.2,2237.4ZM433.7,2280.0 434.4,2278.0 435.9,2276.3 439.5,2276.5 442.5,2278.4 442.3,2280.2 438.9,2282.3 433.9,2282.4ZM461.5,2256.9 458.4,2257.1 455.5,2256.5 454.5,2254.7 453.1,2252.3 450.9,2249.5 453.8,2248.3 456.2,2247.9 459.4,2250.3 461.9,2252.2 462.2,2255.0ZM429.5,2308.7 428.8,2306.6 429.2,2304.5 434.4,2301.9 439.6,2302.8 442.2,2302.9 443.0,2305.0 445.1,2306.8 437.1,2309.9 434.9,2310.7 428.4,2311.0ZM708.4,2482.4 705.2,2483.3 699.0,2479.3 693.3,2471.7 692.9,2469.0 692.7,2462.3 697.3,2464.3 699.7,2465.1 705.3,2472.4 708.5,2477.5ZM479.1,2140.6 478.5,2139.4 480.7,2138.3 483.1,2136.8 489.4,2136.3 490.7,2137.1 492.0,2139.0 491.6,2141.5 488.2,2144.3 484.1,2145.2 480.9,2144.7 479.1,2144.0ZM571.4,2460.7 570.4,2458.9 576.6,2453.5 582.9,2451.4 590.0,2449.8 598.6,2449.6 594.7,2454.6 586.6,2459.9 583.0,2462.1 571.4,2465.5ZM439.4,2158.8 441.0,2156.1 441.1,2152.5 444.7,2150.6 446.8,2149.5 449.6,2148.8 450.8,2150.1 450.3,2153.3 450.3,2155.7 446.8,2157.8 443.2,2158.4ZM462.3,2304.6 462.7,2303.2 463.5,2302.5 464.9,2302.4 466.7,2302.4 466.8,2303.2 467.9,2304.0 467.8,2305.3 467.1,2306.6 465.3,2306.4 463.5,2306.9 463.1,2306.1ZM493.1,2356.1 490.8,2354.7 492.2,2351.5 494.7,2348.0 498.0,2344.8 499.5,2345.7 501.1,2347.3 500.2,2351.1 497.9,2354.5 494.9,2356.1ZM451.1,2281.9 446.6,2283.8 440.7,2275.3 438.6,2269.7 441.2,2265.9 446.6,2266.7 450.6,2272.5 452.2,2278.5ZM727.6,2458.1 723.4,2461.9 720.2,2462.7 715.8,2463.9 711.6,2460.5 711.5,2458.5 712.7,2453.5 716.7,2453.3 719.8,2452.7 725.0,2455.8ZM448.2,2168.6 445.3,2164.9 446.9,2157.2 449.1,2149.2 451.6,2144.2 455.8,2141.2 456.8,2148.3 457.1,2150.9 455.8,2160.3 452.2,2164.5ZM483.8,2118.1 482.5,2117.0 482.4,2116.2 483.2,2114.6 484.5,2114.1 486.0,2114.0 487.0,2114.1 487.0,2116.2 486.9,2117.1 486.1,2118.6 485.2,2119.2ZM487.1,2157.6 485.8,2156.4 484.7,2152.6 485.5,2150.4 487.3,2148.1 490.8,2148.0 491.3,2148.3 493.9,2148.3 494.0,2151.7 494.1,2153.9 491.1,2156.7 489.0,2158.1ZM496.8,2099.6 495.1,2101.5 492.9,2099.6 490.6,2097.0 490.0,2095.1 491.2,2093.5 492.8,2091.8 495.6,2093.3 498.3,2095.5 498.9,2098.9ZM456.6,2104.6 453.8,2105.7 451.6,2099.0 450.5,2091.7 453.3,2082.5 455.7,2077.0 457.1,2074.9 460.2,2076.3 463.4,2084.1 461.4,2090.7 461.2,2102.5 458.9,2102.0ZM491.3,2141.2 494.8,2134.4 498.9,2130.1 505.8,2125.4 513.3,2125.3 512.7,2130.8 503.7,2137.8 499.1,2140.6ZM492.4,2087.0 489.9,2087.5 484.4,2085.7 483.5,2083.9 480.5,2078.4 481.7,2076.7 481.8,2075.2 485.4,2074.8 486.6,2074.0 488.7,2076.7 493.7,2082.0 492.6,2082.7ZM662.3,2438.5 661.8,2437.2 666.5,2432.4 668.7,2432.2 672.0,2431.5 670.9,2434.2 667.4,2437.2 662.7,2440.6ZM490.3,2384.5 489.7,2388.1 487.4,2388.3 485.8,2388.6 482.5,2388.8 479.8,2385.2 481.0,2383.7 481.8,2380.5 485.2,2381.0 487.3,2381.3 491.0,2383.2ZM524.1,2396.5 523.1,2390.7 523.7,2385.7 525.9,2379.9 530.1,2376.6 533.6,2372.6 535.3,2377.7 533.9,2383.9 531.2,2389.2 525.8,2397.9ZM494.7,2158.1 492.2,2158.6 487.9,2155.6 483.5,2150.8 484.8,2147.6 487.8,2148.0 492.1,2150.2 494.0,2154.3ZM446.3,2356.9 446.4,2355.0 449.0,2351.8 451.4,2351.1 455.0,2350.3 454.4,2352.8 453.6,2354.5 450.9,2356.3 447.5,2356.8ZM472.9,2258.1 473.7,2255.6 474.0,2253.1 475.7,2251.4 477.4,2249.5 480.5,2248.0 480.5,2250.1 482.8,2250.1 481.0,2253.9 480.1,2256.5 477.6,2256.9 475.6,2259.2ZM564.4,2455.7 568.2,2452.0 571.5,2449.8 580.3,2445.8 587.5,2445.0 589.7,2448.7 585.4,2452.5 577.9,2456.3 570.4,2456.9ZM588.1,2419.1 588.5,2417.5 593.0,2414.8 598.4,2413.4 602.2,2414.6 605.4,2417.5 606.4,2420.2 601.0,2422.0 599.0,2423.6 592.1,2423.3 586.7,2423.4ZM481.3,2111.6 477.1,2113.0 471.7,2113.2 461.3,2109.3 459.7,2105.6 456.3,2101.3 466.2,2101.2 472.6,2103.9 481.9,2109.1ZM464.5,2271.4 465.6,2270.3 466.7,2268.7 469.3,2268.7 469.6,2269.7 470.5,2270.8 469.7,2272.2 467.9,2272.9 465.9,2272.8ZM474.2,2333.4 474.9,2331.8 475.7,2330.5 478.0,2329.7 479.8,2331.5 479.1,2333.1 477.5,2334.3 476.4,2334.3ZM466.9,2111.1 465.6,2110.2 462.5,2106.3 461.9,2101.1 460.6,2096.2 462.7,2094.8 464.4,2096.4 467.6,2099.1 468.9,2104.1 468.2,2108.5ZM453.2,2383.2 450.3,2380.8 448.6,2377.7 450.2,2375.5 452.0,2373.6 456.5,2374.1 457.4,2376.5 455.1,2380.8ZM978.8,2336.6 985.8,2333.1 994.5,2334 1002.3,2338.3 1003.2,2343.5 998.8,2347.9 990.1,2348.8 981.4,2347 977.9,2341.8Z" fill="none" stroke="#000" stroke-width="1.5" stroke-linejoin="round"/>
<g class="lab"><text x="723.7" y="269.5">29</text><text x="1018.6" y="396.6">32</text><text x="1120.3" y="426.2">32</text><text x="1209.1" y="457.5">31</text><text x="482.5" y="469">18</text><text x="934" y="528.2">32</text><text x="337.2" y="631.6">21</text><text x="1255.2" y="622.4">29</text><text x="1340.4" y="672.8">31</text><text x="1480.8" y="707.6">29</text><text x="956.2" y="726.2">30</text><text x="1674" y="749.6">32</text><text x="1532.4" y="792.8">33</text><text x="1785.6" y="815.6">30</text><text x="1796.4" y="858.8">31</text><text x="1796.4" y="892.4">31</text><text x="825.6" y="916.4">32</text><text x="1768.8" y="946.4">30</text><text x="693.6" y="957.2">32</text><text x="1345.2" y="965.6">34</text><text x="1723.2" y="988.4">31</text><text x="384" y="1023.2">25</text><text x="1675.2" y="1058">30</text><text x="1087.2" y="1144.7">35</text><text x="1362" y="1150.4">28</text><text x="680.4" y="1174.4">15</text><text x="1315.2" y="1180.4">33</text><text x="1492.8" y="1289.6">30</text><text x="1135.2" y="1307.6">32</text><text x="1614" y="1302.8">32</text><text x="1516.8" y="1388">34</text><text x="1402.8" y="1410.8">31</text><text x="1036.8" y="1469.6">24</text><text x="1315.2" y="1474.4">30</text><text x="1339.2" y="1547.6">28</text><text x="1249.2" y="1628">25</text><text x="600" y="1739.6">26</text><text x="1008" y="1787.6">21</text><text x="1083.6" y="1788.8">20</text></g>
</g>
<rect x="177.5" y="177.5" width="1674.0" height="2309.0" fill="none" stroke="#000" stroke-width="3"/>
<g class="t" font-size="50"><text x="156.5" y="294.4" text-anchor="end">10°N</text><text x="156.5" y="629" text-anchor="end">0°</text><text x="156.5" y="963.6" text-anchor="end">10°S</text><text x="156.5" y="1298.2" text-anchor="end">20°S</text><text x="156.5" y="1632.8" text-anchor="end">30°S</text><text x="156.5" y="1967.4" text-anchor="end">40°S</text><text x="156.5" y="2302" text-anchor="end">50°S</text><text x="277.9" y="2547.5" text-anchor="middle">80°W</text><text x="612.5" y="2547.5" text-anchor="middle">70°W</text><text x="947.1" y="2547.5" text-anchor="middle">60°W</text><text x="1281.7" y="2547.5" text-anchor="middle">50°W</text><text x="1616.3" y="2547.5" text-anchor="middle">40°W</text></g>
<g><rect x="1894.5" y="2358.6" width="49.5" height="24.1" fill="#063264"/><rect x="1894.5" y="2335" width="49.5" height="24.1" fill="#09386d"/><rect x="1894.5" y="2311.4" width="49.5" height="24.1" fill="#0d3f76"/><rect x="1894.5" y="2287.8" width="49.5" height="24.1" fill="#10457e"/><rect x="1894.5" y="2264.2" width="49.5" height="24.1" fill="#124984"/><rect x="1894.5" y="2240.7" width="49.5" height="24.1" fill="#15508d"/><rect x="1894.5" y="2217.1" width="49.5" height="24.1" fill="#195696"/><rect x="1894.5" y="2193.5" width="49.5" height="24.1" fill="#1c5c9f"/><rect x="1894.5" y="2169.9" width="49.5" height="24.1" fill="#1f63a8"/><rect x="1894.5" y="2146.3" width="49.5" height="24.1" fill="#2369ad"/><rect x="1894.5" y="2122.7" width="49.5" height="24.1" fill="#276eb0"/><rect x="1894.5" y="2099.1" width="49.5" height="24.1" fill="#2b73b3"/><rect x="1894.5" y="2075.5" width="49.5" height="24.1" fill="#2e77b5"/><rect x="1894.5" y="2051.9" width="49.5" height="24.1" fill="#327cb7"/><rect x="1894.5" y="2028.3" width="49.5" height="24.1" fill="#3681ba"/><rect x="1894.5" y="2004.8" width="49.5" height="24.1" fill="#3a87bd"/><rect x="1894.5" y="1981.2" width="49.5" height="24.1" fill="#3e8cbf"/><rect x="1894.5" y="1957.6" width="49.5" height="24.1" fill="#4291c2"/><rect x="1894.5" y="1934" width="49.5" height="24.1" fill="#4997c5"/><rect x="1894.5" y="1910.4" width="49.5" height="24.1" fill="#529dc8"/><rect x="1894.5" y="1886.8" width="49.5" height="24.1" fill="#59a1ca"/><rect x="1894.5" y="1863.2" width="49.5" height="24.1" fill="#62a7ce"/><rect x="1894.5" y="1839.6" width="49.5" height="24.1" fill="#6bacd1"/><rect x="1894.5" y="1816" width="49.5" height="24.1" fill="#75b2d4"/><rect x="1894.5" y="1792.5" width="49.5" height="24.1" fill="#7eb8d7"/><rect x="1894.5" y="1768.9" width="49.5" height="24.1" fill="#87beda"/><rect x="1894.5" y="1745.3" width="49.5" height="24.1" fill="#90c4dd"/><rect x="1894.5" y="1721.7" width="49.5" height="24.1" fill="#98c8e0"/><rect x="1894.5" y="1698.1" width="49.5" height="24.1" fill="#9dcbe1"/><rect x="1894.5" y="1674.5" width="49.5" height="24.1" fill="#a5cee3"/><rect x="1894.5" y="1650.9" width="49.5" height="24.1" fill="#acd2e5"/><rect x="1894.5" y="1627.3" width="49.5" height="24.1" fill="#b3d6e8"/><rect x="1894.5" y="1603.7" width="49.5" height="24.1" fill="#bbdaea"/><rect x="1894.5" y="1580.1" width="49.5" height="24.1" fill="#c2ddec"/><rect x="1894.5" y="1556.5" width="49.5" height="24.1" fill="#cae1ee"/><rect x="1894.5" y="1533" width="49.5" height="24.1" fill="#d1e5f0"/><rect x="1894.5" y="1509.4" width="49.5" height="24.1" fill="#d4e6f1"/><rect x="1894.5" y="1485.8" width="49.5" height="24.1" fill="#d8e9f1"/><rect x="1894.5" y="1462.2" width="49.5" height="24.1" fill="#ddebf2"/><rect x="1894.5" y="1438.6" width="49.5" height="24.1" fill="#e1edf3"/><rect x="1894.5" y="1415" width="49.5" height="24.1" fill="#e6eff4"/><rect x="1894.5" y="1391.4" width="49.5" height="24.1" fill="#eaf1f5"/><rect x="1894.5" y="1367.8" width="49.5" height="24.1" fill="#eff3f5"/><rect x="1894.5" y="1344.2" width="49.5" height="24.1" fill="#f3f5f6"/><rect x="1894.5" y="1320.7" width="49.5" height="24.1" fill="#f7f6f6"/><rect x="1894.5" y="1297.1" width="49.5" height="24.1" fill="#f8f4f2"/><rect x="1894.5" y="1273.5" width="49.5" height="24.1" fill="#f8f1ed"/><rect x="1894.5" y="1249.9" width="49.5" height="24.1" fill="#f9eee7"/><rect x="1894.5" y="1226.3" width="49.5" height="24.1" fill="#faeae1"/><rect x="1894.5" y="1202.7" width="49.5" height="24.1" fill="#fae7dc"/><rect x="1894.5" y="1179.1" width="49.5" height="24.1" fill="#fbe4d6"/><rect x="1894.5" y="1155.5" width="49.5" height="24.1" fill="#fce0d0"/><rect x="1894.5" y="1131.9" width="49.5" height="24.1" fill="#fdddcb"/><rect x="1894.5" y="1108.3" width="49.5" height="24.1" fill="#fddbc7"/><rect x="1894.5" y="1084.8" width="49.5" height="24.1" fill="#fcd5bf"/><rect x="1894.5" y="1061.2" width="49.5" height="24.1" fill="#fbceb7"/><rect x="1894.5" y="1037.6" width="49.5" height="24.1" fill="#fac8af"/><rect x="1894.5" y="1014" width="49.5" height="24.1" fill="#f9c2a7"/><rect x="1894.5" y="990.4" width="49.5" height="24.1" fill="#f8bb9e"/><rect x="1894.5" y="966.8" width="49.5" height="24.1" fill="#f7b596"/><rect x="1894.5" y="943.2" width="49.5" height="24.1" fill="#f6af8e"/><rect x="1894.5" y="919.6" width="49.5" height="24.1" fill="#f5aa89"/><rect x="1894.5" y="896" width="49.5" height="24.1" fill="#f3a481"/><rect x="1894.5" y="872.4" width="49.5" height="24.1" fill="#f09c7b"/><rect x="1894.5" y="848.9" width="49.5" height="24.1" fill="#ec9374"/><rect x="1894.5" y="825.3" width="49.5" height="24.1" fill="#e98b6e"/><rect x="1894.5" y="801.7" width="49.5" height="24.1" fill="#e58368"/><rect x="1894.5" y="778.1" width="49.5" height="24.1" fill="#e27b62"/><rect x="1894.5" y="754.5" width="49.5" height="24.1" fill="#de735c"/><rect x="1894.5" y="730.9" width="49.5" height="24.1" fill="#dc6e57"/><rect x="1894.5" y="707.3" width="49.5" height="24.1" fill="#d86551"/><rect x="1894.5" y="683.7" width="49.5" height="24.1" fill="#d55d4c"/><rect x="1894.5" y="660.1" width="49.5" height="24.1" fill="#d05548"/><rect x="1894.5" y="636.5" width="49.5" height="24.1" fill="#cc4c44"/><rect x="1894.5" y="613" width="49.5" height="24.1" fill="#c84440"/><rect x="1894.5" y="589.4" width="49.5" height="24.1" fill="#c43b3c"/><rect x="1894.5" y="565.8" width="49.5" height="24.1" fill="#bf3338"/><rect x="1894.5" y="542.2" width="49.5" height="24.1" fill="#bd2d35"/><rect x="1894.5" y="518.6" width="49.5" height="24.1" fill="#b82531"/><rect x="1894.5" y="495" width="49.5" height="24.1" fill="#b41c2d"/><rect x="1894.5" y="471.4" width="49.5" height="24.1" fill="#ae172a"/><rect x="1894.5" y="447.8" width="49.5" height="24.1" fill="#a51429"/><rect x="1894.5" y="424.2" width="49.5" height="24.1" fill="#9c1127"/><rect x="1894.5" y="400.6" width="49.5" height="24.1" fill="#930e26"/><rect x="1894.5" y="377.1" width="49.5" height="24.1" fill="#8a0b25"/><rect x="1894.5" y="353.5" width="49.5" height="24.1" fill="#840924"/><rect x="1894.5" y="329.9" width="49.5" height="24.1" fill="#7c0722"/><rect x="1894.5" y="306.3" width="49.5" height="24.1" fill="#730421"/><rect x="1894.5" y="282.7" width="49.5" height="24.1" fill="#6a011f"/><path d="M1894.5,282.7 L1919.2,177.5 L1944,282.7 Z" fill="#67001f"/><path d="M1894.5,2382.2 L1919.2,2487 L1944,2382.2 Z" fill="#053061"/></g>
<path d="M1894.5,282.7 L1919.2,177.5 L1944,282.7 L1944,2382.2 L1919.2,2487 L1894.5,2382.2 Z" fill="none" stroke="#000" stroke-width="3.4"/>
<g stroke="#000" stroke-width="2.8"><line x1="1944" y1="282.2" x2="1961" y2="282.2"/><line x1="1944" y1="495" x2="1961" y2="495"/><line x1="1944" y1="730.9" x2="1961" y2="730.9"/><line x1="1944" y1="966.8" x2="1961" y2="966.8"/><line x1="1944" y1="1202.7" x2="1961" y2="1202.7"/><line x1="1944" y1="1438.6" x2="1961" y2="1438.6"/><line x1="1944" y1="1674.5" x2="1961" y2="1674.5"/><line x1="1944" y1="1910.4" x2="1961" y2="1910.4"/><line x1="1944" y1="2146.3" x2="1961" y2="2146.3"/><line x1="1944" y1="2382.2" x2="1961" y2="2382.2"/></g>
<g class="t" font-size="50"><text x="1975" y="303.1">40</text><text x="1975" y="515.9">35</text><text x="1975" y="751.8">30</text><text x="1975" y="987.7">25</text><text x="1975" y="1223.6">20</text><text x="1975" y="1459.5">15</text><text x="1975" y="1695.4">10</text><text x="1975" y="1931.3">5</text><text x="1975" y="2167.2">0</text><text x="1975" y="2403.1">-5</text></g>
<text class="t" x="1891" y="174" text-anchor="middle" font-size="50">(°C)</text>

<g>
<path d="M1642,2364.1 C1646,2385 1660,2410 1690,2421 C1711,2428 1735,2424 1752,2413 C1775,2398 1790,2372 1796,2345 L1797.9,2331.6 L1806,2330.2 L1781.6,2306.7 L1755.8,2330.2 L1764,2330.2 C1763,2352 1752,2373 1735,2388 C1720,2400 1703,2404 1688,2402 C1668,2398 1652,2385 1642,2364.1 Z" fill="#0b74b9"/>
<path d="M1643,2361 C1638,2335 1652,2308 1676,2298 C1700,2289 1722,2298 1733,2316 C1738,2325 1738.5,2335 1738.2,2341.1 L1743.7,2341.1 L1719.3,2362.8 L1697.6,2341.1 L1705.7,2341.1 C1706,2331 1700,2322 1690,2320 C1675,2317 1660,2326 1652,2338 C1646,2346 1644,2354 1643.4,2361.4" fill="none" stroke="#0b74b9" stroke-width="1.4"/>
<circle cx="1718.7" cy="2382.3" r="16.8" fill="#f29400"/>
<text x="1651" y="2371" style="font:italic bold 21px 'DejaVu Sans',sans-serif;letter-spacing:-1px" fill="#111">INPE</text>
</g>
</svg>
</body></html>
